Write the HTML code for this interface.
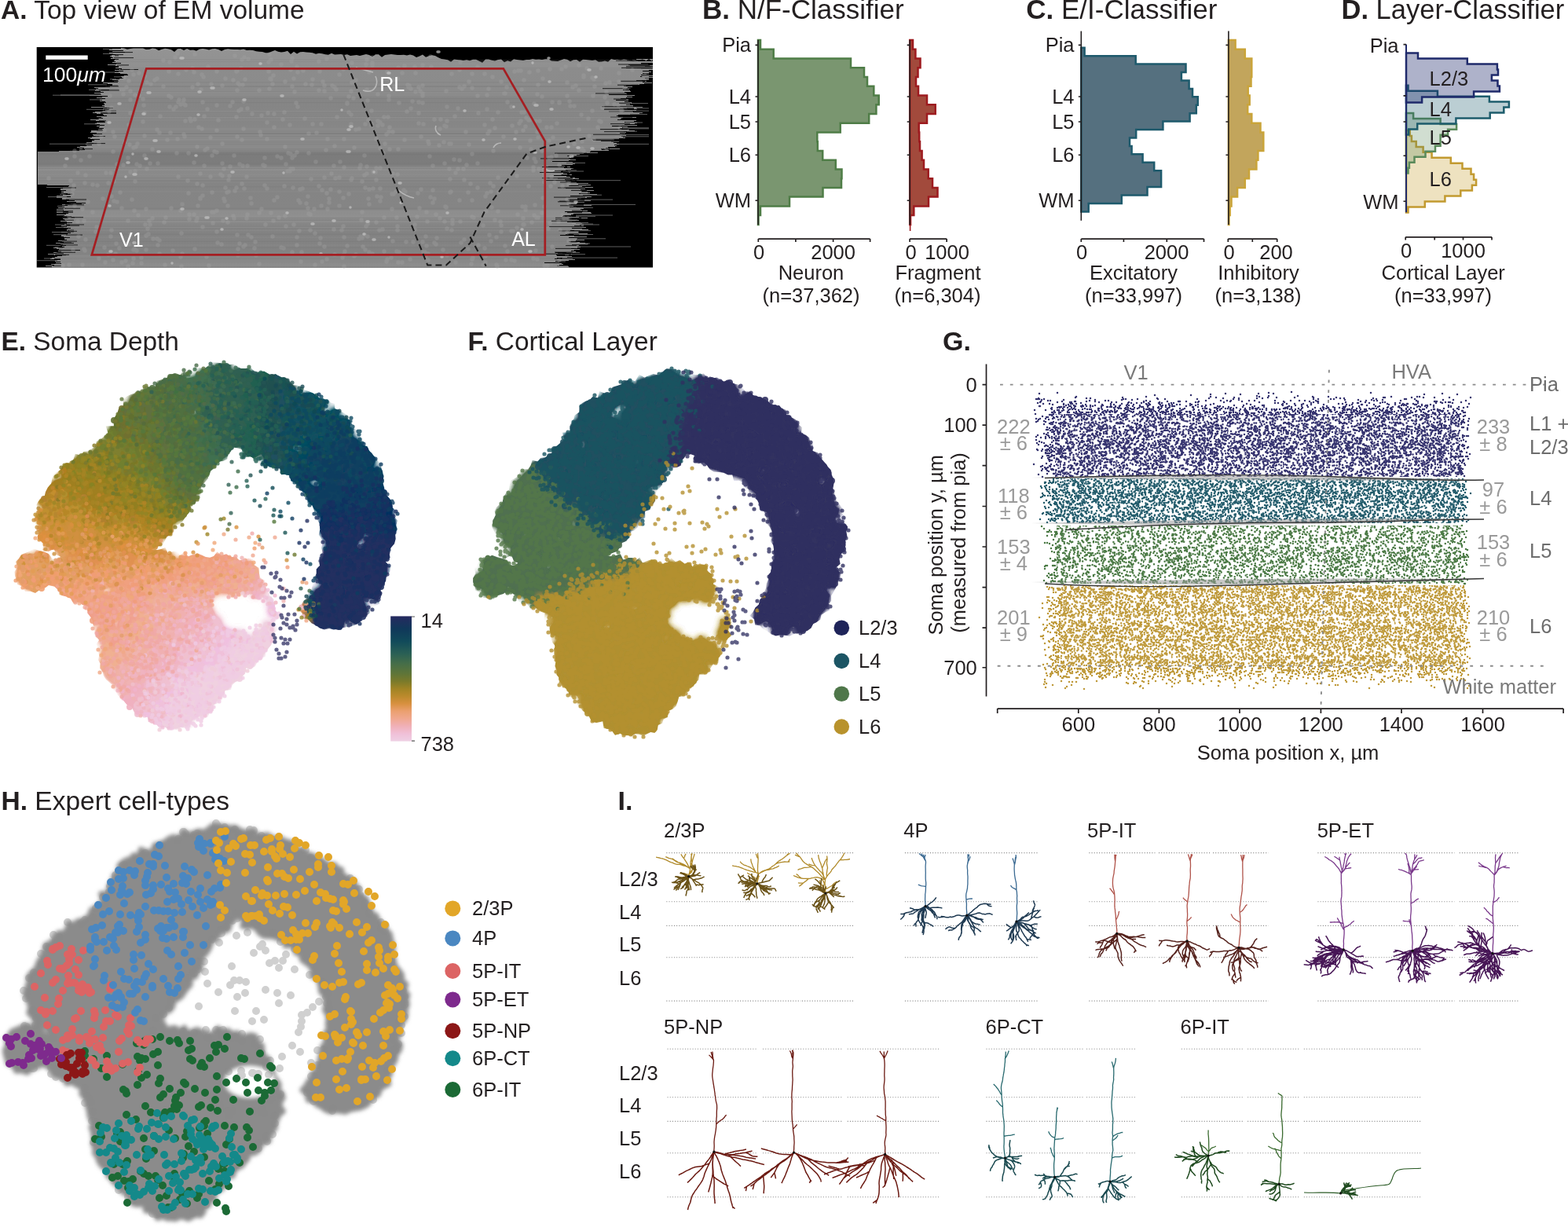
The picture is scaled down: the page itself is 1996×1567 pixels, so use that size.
<!DOCTYPE html>
<html><head><meta charset="utf-8"><title>Figure</title>
<style>html,body{margin:0;padding:0;background:#fff}svg{display:block}</style>
</head><body>
<svg width="1996" height="1567" viewBox="0 0 1996 1567" font-family="Liberation Sans, Arial, Helvetica, sans-serif" font-size="25.5" fill="#231f20">
<text x="1.0" y="24.4" font-size="33.5"><tspan font-weight="bold">A.</tspan> Top view of EM volume</text>
<text x="894" y="24.4" font-size="35"><tspan font-weight="bold">B.</tspan> N/F-Classifier</text>
<text x="1306.3" y="24.4" font-size="35"><tspan font-weight="bold">C.</tspan> E/I-Classifier</text>
<text x="1707.5" y="24.4" font-size="34.5"><tspan font-weight="bold">D.</tspan> Layer-Classifier</text>
<text x="1.5" y="445.5" font-size="33.4"><tspan font-weight="bold">E.</tspan> Soma Depth</text>
<text x="595.5" y="445.5" font-size="33.4"><tspan font-weight="bold">F.</tspan> Cortical Layer</text>
<text x="1200" y="445.5" font-size="34"><tspan font-weight="bold">G.</tspan> </text>
<text x="1.5" y="1030.5" font-size="33.5"><tspan font-weight="bold">H.</tspan> Expert cell-types</text>
<text x="786.5" y="1030.5" font-size="34"><tspan font-weight="bold">I.</tspan> </text>
<path d="M965.0,51.0H968.0V62.8H984.7V74.5H1083.0V86.3H1100.0V98.0H1104.0V109.7H1112.3V121.5H1118.7V133.2H1115.4V145.0H1106.2V156.7H1069.7V168.5H1040.3V180.2H1040.8V191.9H1047.2V203.7H1063.8V215.4H1071.5V227.2H1071.0V238.9H1047.5V250.6H1005.0V262.4H968.0V274.1H965.5V285.9H965.0Z" fill="#7a9670" fill-opacity="1.0" stroke="#4f7d47" stroke-width="2.5" stroke-linejoin="miter"/>
<path d="M965,51V286" stroke="#231f20" stroke-width="1.6" fill="none"/>
<path d="M961.5,57.4H965M961.5,123H965M961.5,155H965M961.5,197.3H965M961.5,255.3H965" stroke="#231f20" stroke-width="1.6"/>
<text x="956.0" y="66.4" text-anchor="end">Pia</text>
<text x="956.0" y="132.0" text-anchor="end">L4</text>
<text x="956.0" y="164.0" text-anchor="end">L5</text>
<text x="956.0" y="206.3" text-anchor="end">L6</text>
<text x="956.0" y="264.3" text-anchor="end">WM</text>
<path d="M1158.2,51.0H1162.0V62.8H1165.4V74.5H1171.5V86.3H1168.5V98.0H1166.0V109.7H1169.0V121.5H1180.0V133.2H1190.7V145.0H1180.0V156.7H1169.7V168.5H1170.2V180.2H1171.0V191.9H1173.6V203.7H1176.0V215.4H1181.7V227.2H1187.0V238.9H1193.5V250.6H1182.0V262.4H1163.3V274.1H1159.0V285.9H1158.2Z" fill="#a24a3c" fill-opacity="1.0" stroke="#9d1b1f" stroke-width="2.5" stroke-linejoin="miter"/>
<path d="M1158.6,286V294" stroke="#9d1b1f" stroke-width="1.6"/>
<path d="M1158.2,51V286" stroke="#231f20" stroke-width="1.6" fill="none"/>
<path d="M1154.7,57.4H1158.2M1154.7,123H1158.2M1154.7,155H1158.2M1154.7,197.3H1158.2M1154.7,255.3H1158.2" stroke="#231f20" stroke-width="1.6"/>
<path d="M965.3,304.1H1107.6M965.3,304.1v3.8M1012.9,304.1v3.8M1060.6,304.1v3.8M1107.6,304.1v3.8" stroke="#231f20" stroke-width="1.7" fill="none"/>
<path d="M1158.1,304.1H1205.1M1158.1,304.1v3.8M1205.1,304.1v3.8" stroke="#231f20" stroke-width="1.7" fill="none"/>
<text x="966.0" y="329.8" text-anchor="middle">0</text>
<text x="1060.6" y="329.8" text-anchor="middle">2000</text>
<text x="1159.5" y="329.8" text-anchor="middle">0</text>
<text x="1205.5" y="329.8" text-anchor="middle">1000</text>
<text x="1032.5" y="355.5" text-anchor="middle">Neuron</text>
<text x="1032.5" y="384.5" text-anchor="middle">(n=37,362)</text>
<text x="1194.0" y="355.5" text-anchor="middle">Fragment</text>
<text x="1193.5" y="384.5" text-anchor="middle">(n=6,304)</text>
<path d="M1376.3,60.8H1380.6V71.2H1445.7V81.6H1509.5V92.0H1503.9V102.5H1513.6V112.9H1518.0V123.3H1524.8V133.8H1522.8V144.2H1514.6V154.6H1480.4V165.1H1446.2V175.5H1438.0V185.9H1440.6V196.3H1454.6V206.8H1469.2V217.2H1478.1V227.6H1478.1V238.1H1460.5V248.5H1427.8V258.9H1385.7V269.4H1376.3Z" fill="#55707f" fill-opacity="1.0" stroke="#1e5a6c" stroke-width="2.5" stroke-linejoin="miter"/>
<path d="M1376.3,39.6V280.8" stroke="#231f20" stroke-width="1.6" fill="none"/>
<path d="M1372.8,57.4H1376.3M1372.8,123H1376.3M1372.8,155H1376.3M1372.8,197.3H1376.3M1372.8,255.3H1376.3" stroke="#231f20" stroke-width="1.6"/>
<text x="1367.5" y="66.4" text-anchor="end">Pia</text>
<text x="1367.5" y="132.0" text-anchor="end">L4</text>
<text x="1367.5" y="164.0" text-anchor="end">L5</text>
<text x="1367.5" y="206.3" text-anchor="end">L6</text>
<text x="1367.5" y="264.3" text-anchor="end">WM</text>
<path d="M1563.9,51.0H1572.6V62.8H1584.8V74.5H1593.3V86.3H1593.3V98.0H1592.5V109.7H1588.7V121.5H1590.7V133.2H1588.2V145.0H1593.3V156.7H1604.5V168.5H1608.3V180.2H1608.3V191.9H1601.4V203.7H1599.4V215.4H1590.0V227.2H1584.8V238.9H1575.1V250.6H1567.5V262.4H1565.7V274.1H1564.4V285.9H1563.9Z" fill="#c2a55c" fill-opacity="1.0" stroke="#c9a43a" stroke-width="2.5" stroke-linejoin="miter"/>
<path d="M1563.9,39.6V286" stroke="#231f20" stroke-width="1.6" fill="none"/>
<path d="M1560.4,57.4H1563.9M1560.4,123H1563.9M1560.4,155H1563.9M1560.4,197.3H1563.9M1560.4,255.3H1563.9" stroke="#231f20" stroke-width="1.6"/>
<path d="M1376.3,304.1H1532.5M1376.3,304.1v3.8M1430.4,304.1v3.8M1485.3,304.1v3.8M1532.5,304.1v3.8" stroke="#231f20" stroke-width="1.7" fill="none"/>
<path d="M1563.3,304.1H1625.7M1563.3,304.1v3.8M1594.3,304.1v3.8M1625.7,304.1v3.8" stroke="#231f20" stroke-width="1.7" fill="none"/>
<text x="1377.0" y="329.8" text-anchor="middle">0</text>
<text x="1485.0" y="329.8" text-anchor="middle">2000</text>
<text x="1564.5" y="329.8" text-anchor="middle">0</text>
<text x="1624.5" y="329.8" text-anchor="middle">200</text>
<text x="1443.0" y="355.5" text-anchor="middle">Excitatory</text>
<text x="1443.0" y="384.5" text-anchor="middle">(n=33,997)</text>
<text x="1602.0" y="355.5" text-anchor="middle">Inhibitory</text>
<text x="1601.5" y="384.5" text-anchor="middle">(n=3,138)</text>
<path d="M1790.0,165.9H1794.7V172.9H1796.9V179.9H1802.7V186.9H1811.6V193.8H1822.6V200.8H1846.8V207.8H1861.5V214.8H1872.5V221.7H1876.1V228.7H1879.1V235.7H1873.9V242.6H1859.3V249.6H1839.4V256.6H1813.8V263.6H1792.5V270.5H1790.0Z" fill="#c9a43a" fill-opacity="0.32" stroke="#c29a30" stroke-width="2.5" stroke-linejoin="miter"/>
<path d="M1790.0,143.9H1799.1V150.9H1833.6V157.9H1854.1V164.8H1843.1V171.8H1833.6V178.8H1833.6V185.8H1827.0V192.7H1814.5V199.7H1800.5V206.7H1793.9V213.7H1792.5V220.6H1790.0Z" fill="#5a8a5a" fill-opacity="0.28" stroke="#5a8a5a" stroke-width="2.5" stroke-linejoin="miter"/>
<path d="M1790.0,108.7H1792.5V115.7H1829.9V122.7H1895.9V129.6H1920.9V136.6H1914.3V143.6H1896.7V150.5H1853.4V157.5H1804.2V164.5H1793.2V171.5H1790.0Z" fill="#1d5c6c" fill-opacity="0.3" stroke="#1d5c6c" stroke-width="2.5" stroke-linejoin="miter"/>
<path d="M1790.0,67.6H1805.0V74.6H1867.8V81.6H1905.9V88.5H1907.0V95.5H1898.9V102.5H1906.5V109.4H1908.9V116.4H1876.1V123.4H1810.1V130.4H1790.0Z" fill="#1f2a6b" fill-opacity="0.36" stroke="#1f2a6b" stroke-width="2.5" stroke-linejoin="miter"/>
<path d="M1790,56.6V270.2" stroke="#1f2a6b" stroke-width="2"/>
<path d="M1786.5,56.6H1790M1786.5,121.9H1790M1786.5,155H1790M1786.5,198.2H1790M1786.5,256.2H1790" stroke="#231f20" stroke-width="1.6"/>
<text x="1780.5" y="66.5" text-anchor="end">Pia</text>
<text x="1780.5" y="265.5" text-anchor="end">WM</text>
<text x="1819.6" y="108.7">L2/3</text>
<text x="1819.6" y="147.6">L4</text>
<text x="1819.6" y="183.6">L5</text>
<text x="1819.6" y="237.1">L6</text>
<path d="M1789.2,301.8H1899M1789.2,301.8v3.8M1826.2,301.8v3.8M1862.5,301.8v3.8M1899,301.8v3.8" stroke="#231f20" stroke-width="1.7" fill="none"/>
<text x="1790.0" y="327.5" text-anchor="middle">0</text>
<text x="1862.5" y="327.5" text-anchor="middle">1000</text>
<text x="1837.2" y="355.5" text-anchor="middle">Cortical Layer</text>
<text x="1837.0" y="384.5" text-anchor="middle">(n=33,997)</text>
<rect x="46.7" y="60.0" width="784.3" height="280.5" fill="#000"/>
<defs><linearGradient id="emg" x1="0" y1="60" x2="0" y2="340.5" gradientUnits="userSpaceOnUse"><stop offset="0.000" stop-color="#9a9a9a"/><stop offset="0.021" stop-color="#939393"/><stop offset="0.089" stop-color="#909090"/><stop offset="0.093" stop-color="#8c8c8c"/><stop offset="0.221" stop-color="#8b8b8b"/><stop offset="0.225" stop-color="#858585"/><stop offset="0.357" stop-color="#868686"/><stop offset="0.360" stop-color="#8a8a8a"/><stop offset="0.471" stop-color="#8a8a8a"/><stop offset="0.474" stop-color="#7b7b7b"/><stop offset="0.538" stop-color="#7d7d7d"/><stop offset="0.542" stop-color="#8a8a8a"/><stop offset="0.602" stop-color="#898989"/><stop offset="0.606" stop-color="#848484"/><stop offset="0.738" stop-color="#858585"/><stop offset="0.742" stop-color="#8e8e8e"/><stop offset="0.806" stop-color="#8d8d8d"/><stop offset="0.809" stop-color="#828282"/><stop offset="0.941" stop-color="#838383"/><stop offset="0.945" stop-color="#888888"/><stop offset="1.000" stop-color="#8a8a8a"/></linearGradient><clipPath id="emclip"><rect x="46.7" y="60" width="784.3" height="280.5"/></clipPath></defs>
<path d="M154,61.0L158,61.6L162,62.8L166,61.9L170,61.6L174,61.5L178,61.5L182,61.5L186,62.9L190,62.7L194,61.5L198,62.0L202,64.2L206,62.8L210,61.7L214,62.3L218,63.3L222,65.9L226,62.3L230,62.1L234,64.0L238,62.1L242,63.7L246,63.4L250,64.7L254,62.5L258,61.9L262,62.6L266,63.6L270,62.2L274,61.9L278,63.1L282,64.9L286,62.9L290,62.2L294,62.8L298,63.1L302,63.0L306,63.3L310,62.6L314,64.1L318,63.7L322,64.0L326,65.2L330,65.7L334,66.1L338,67.2L342,67.3L346,65.4L350,64.1L354,65.8L358,66.4L362,65.9L366,64.8L370,69.1L374,65.7L378,68.6L382,66.2L386,66.0L390,66.4L394,66.8L398,67.3L402,68.8L406,67.8L410,68.3L414,69.2L418,69.8L422,67.8L426,69.4L430,69.2L434,69.0L438,70.1L442,69.3L446,71.1L450,70.4L454,70.1L458,71.0L462,70.0L466,69.1L470,70.1L474,72.2L478,69.3L482,69.2L486,72.7L490,70.0L494,69.6L498,69.1L502,69.4L506,70.1L510,69.9L514,69.8L518,70.5L522,69.5L526,70.6L530,73.0L534,71.4L538,69.4L542,72.8L546,71.3L550,70.3L554,71.0L558,73.3L562,75.1L566,75.5L570,76.3L574,78.7L578,75.5L582,76.0L586,76.4L590,77.0L594,76.2L598,77.2L602,75.7L606,75.8L610,77.8L614,79.8L618,75.6L622,75.4L626,76.8L630,77.6L634,75.9L638,75.6L642,79.2L646,77.2L650,78.4L654,75.2L658,75.9L662,76.6L666,77.0L670,76.1L674,75.9L678,75.1L682,75.7L686,75.6L690,75.9L694,75.3L698,75.3L702,77.5L706,77.7L710,78.0L714,76.4L718,75.1L722,75.8L726,78.2L730,76.3L734,76.1L738,78.8L742,75.7L746,75.9L750,76.6L754,77.0L758,76.3L762,78.7L766,78.6L770,77.6L774,78.8L778,75.0L782,76.0L786,75.8L790,76.5L794,75.4L798,76.1L802,77.3L806,77.8L810,76.2L814,76.6L818,75.4L822,77.8L826,75.0L830,77.8L831.0,75H810V76H805V77H812V78H831V79H831V80H816V81H825V82H826V83H831V84H821V85H831V86H811V87H831V88H831V89H826V90H818V91H829V92H826V93H818V94H823V95H816V96H831V97H815V98H831V99H821V100H826V101H822V102H817V103H823V104H818V105H830V106H820V107H814V108H803V109H794V110H805V111H799V112H803V113H801V114H793V115H802V116H803V117H795V118H797V119H798V120H775V121H808V122H798V123H805V124H797V125H790V126H800V127H784V128H800V129H795V130H804V131H804V132H802V133H802V134H806V135H806V136H818V137H810V138H811V139H799V140H810V141H805V142H806V143H818V144H814V145H802V146H787V147H785V148H787V149H810V150H791V151H790V152H786V153H810V154H807V155H795V156H811V157H808V158H795V159H811V160H779V161H799V162H792V163H789V164H789V165H800V166H808V167H794V168H797V169H789V170H796V171H792V172H797V173H791V174H793V175H796V176H788V177H790V178H782V179H789V180H788V181H781V182H785V183H788V184H782V185H785V186H783V187H774V188H771V189H789V190H766V191H775V192H752V193H751V194H761V195H743V196H738V197H734V198H722V199H729V200H727V201H724V202H726V203H733V204H724V205H703V206H729V207H721V208H732V209H729V210H715V211H719V212H726V213H718V214H728V215H727V216H720V217H715V218H714V219H724V220H717V221H722V222H728V223H705V224H721V225H726V226H732V227H737V228H730V229H726V230H732V231H727V232H734V233H749V234H736V235H752V236H724V237H741V238H755V239H737V240H745V241H739V242H756V243H741V244H748V245H751V246H737V247H760V248H742V249H726V250H753V251H747V252H740V253H735V254H740V255H752V256H731V257H744V258H735V259H734V260H736V261H753V262H730V263H734V264H742V265H743V266H739V267H741V268H748V269H719V270H752V271H753V272H730V273H727V274H717V275H716V276H737V277H748V278H724V279H735V280H737V281H733V282H722V283H739V284H733V285H743V286H738V287H743V288H739V289H746V290H728V291H741V292H749V293H726V294H737V295H736V296H737V297H748V298H720V299H713V300H731V301H747V302H724V303H735V304H734V305H744V306H733V307H732V308H738V309H745V310H736V311H728V312H737V313H735V314H739V315H735V316H727V317H738V318H731V319H727V320H733V321H707V322H722V323H728V324H708V325H709V326H728V327H722V328H709V329H706V330H732V331H724V332H707V333H712V334H693V335H715V336H717V337H712V338H709V339H724V340H723V341V340.5H66H66V340H66V339H58V338H69V337H65V336H78V335H71V334H77V333H70V332H73V331H77V330H64V329H66V328H70V327H73V326H79V325H69V324H61V323H72V322H68V321H78V320H74V319H78V318H75V317H72V316H68V315H82V314H79V313H84V312H80V311H77V310H71V309H81V308H79V307H74V306H85V305H82V304H82V303H89V302H81V301H78V300H78V299H86V298H86V297H90V296H78V295H89V294H85V293H85V292H86V291H90V290H81V289H85V288H78V287H89V286H82V285H85V284H92V283H85V282H77V281H83V280H82V279H80V278H87V277H79V276H91V275H82V274H72V273H84V272H87V271H72V270H87V269H72V268H81V267H72V266H81V265H74V264H82V263H79V262H86V261H79V260H90V259H88V258H97V257H85V256H95V255H88V254H79V253H79V252H72V251H90V250H72V249H80V248H90V247H86V246H78V245H81V244H78V243H84V242H77V241H77V240H80V239H79V238H87V237H88V236H60V235H48V234H48V233H48V232H48V231H48V230H48V229H48V228H48V227H48V226H48V225H48V224H48V223H48V222H48V221H48V220H48V219H48V218H48V217H48V216H48V215H48V214H48V213H48V212H48V211H48V210H48V209H48V208H48V207H48V206H48V205H48V204H48V203H48V202H48V201H48V200H48V199H48V198H48V197H48V196H48V195H48V194H48V193H75V192H101V191H108V190H101V189H107V188H98V187H102V186H110V185H117V184H109V183H119V182H110V181H117V180H117V179H120V178H127V177H115V176H112V175H117V174H122V173H119V172H118V171H130V170H123V169H115V168H116V167H116V166H125V165H125V164H132V163H126V162H127V161H123V160H133V159H127V158H121V157H123V156H134V155H133V154H122V153H115V152H126V151H131V150H129V149H123V148H136V147H132V146H131V145H123V144H118V143H121V142H130V141H134V140H139V139H131V138H136V137H116V136H133V135H130V134H133V133H133V132H132V131H135V130H134V129H127V128H130V127H127V126H134V125H123V124H130V123H137V122H125V121H129V120H128V119H120V118H132V117H128V116H121V115H139V114H122V113H125V112H120V111H140V110H138V109H143V108H143V107H137V106H131V105H150V104H145V103H150V102H143V101H152V100H157V99H155V98H154V97H158V96H163V95H162V94H153V93H146V92H151V91H157V90H146V89H152V88H155V87H147V86H151V85H151V84H147V83H137V82H148V81H154V80H143V79H147V78H145V77H146V76H147V75H141V74H144V73H142V72H140V71H142V70H147V69H144V68H139V67H159V66H143V65H157V64H139V63H143V62H154V61Z" fill="url(#emg)"/>
<path d="M56,329.0h15M61,250.6h24M59,238.5h22M145,97.8h9M125,151.1h4M77,121.0h53M107,157.8h21M73,262.4h11M114,121.5h16M131,68.4h18M47,331.7h51M68,298.7h18M66,295.5h22M71,289.5h16M63,183.2h51M112,107.8h24M140,100.8h8M67,121.2h64M113,114.3h16M110,139.3h22M133,92.0h24M70,286.0h16M70,314.7h6M76,247.3h8M131,62.4h20M114,126.9h18M59,312.3h19M734,270.6h16M818,96.9h8M726,314.0h77M728,303.8h43M789,171.6h37M721,321.5h17M819,94.7h7M715,329.2h14M767,191.2h6M735,264.4h20M816,99.3h10M818,96.5h8M717,219.3h9M727,310.1h12M737,254.1h43M727,310.4h22M728,229.7h62M727,310.0h24M733,274.0h47M800,145.6h24M820,91.6h6M715,207.4h30M719,324.7h5M793,162.8h33M731,293.7h21M792,165.9h8M737,255.3h13M733,283.5h16M727,310.9h21M814,101.5h12M788,173.8h38M820,93.0h6M818,97.1h8M791,167.2h20M796,131.6h29M800,141.1h26M733,285.1h22M737,235.9h9M720,225.4h4M718,222.5h6M791,166.2h9M738,250.3h13M815,101.4h8M736,260.4h73M739,248.2h27M730,298.5h25M733,284.6h8M800,137.9h26M732,292.2h17M716,216.9h18M817,97.6h9M739,247.0h9M821,83.4h5M794,159.5h11M792,163.8h34M728,198.6h21M792,165.4h9M733,286.0h30M715,214.5h15M712,333.0h8M716,218.0h27M716,328.1h70M725,315.7h7M779,183.4h47M729,301.3h7M720,323.7h25M709,338.6h14M796,156.0h22M817,79.3h9M733,275.3h25" stroke="#8c8c8c" stroke-width="0.8" fill="none" stroke-opacity="0.85" clip-path="url(#emclip)"/>
<path d="M83,283.7h6M72,321.2h24M69,329.4h8M129,137.7h15M79,276.9h16M84,287.1h17M142,103.1h9M81,280.2h13M84,299.0h21M79,276.7h27M123,164.1h7M132,109.8h19M83,260.8h24M149,82.9h15M148,66.6h21M86,293.0h8M71,322.7h10M86,294.9h8M145,73.6h25M129,141.2h19M82,247.1h10M77,309.5h17M123,165.8h8M70,324.3h18M84,285.9h23M83,259.5h21M73,318.5h29M128,143.9h20M112,182.6h22M145,75.5h6M133,109.3h17M126,153.8h9M80,270.3h13M70,324.7h14M119,173.5h15M83,258.5h26M79,307.2h19M86,294.3h12M84,254.0h26M76,311.9h23M126,114.9h26M79,239.0h18M74,315.0h6M147,69.6h10M128,144.1h20M80,268.8h13M82,265.3h20M153,88.5h23M78,309.0h13M146,70.9h5M67,338.3h11M105,189.6h13M797,86.5h32M707,316.4h25M707,277.3h33M693,323.2h34M706,321.1h23M764,164.6h35M789,138.4h18M726,307.7h8M786,108.2h27M722,270.6h19M788,131.3h15M702,281.3h38M695,229.6h39M714,223.1h11M778,180.0h12M727,242.4h20M784,77.2h38M724,260.5h19M798,76.9h23M787,82.0h40M713,231.9h25M687,219.5h37M769,139.3h38M754,177.2h38M740,243.8h7M722,297.8h15M710,226.9h19M720,230.6h16M707,279.3h33M728,268.1h14M816,86.7h14M704,217.7h19M719,228.6h13M816,81.0h9M802,83.1h25M767,112.7h37M698,212.2h24M791,86.3h38M755,171.2h41M769,139.2h38M800,82.6h28M766,135.7h41M725,254.8h19M758,118.9h40M688,201.9h40M797,84.4h32M720,239.6h26M706,195.1h41M720,312.6h14M705,251.1h40M765,179.5h25M690,226.7h39M775,141.8h32M777,157.7h25M723,254.1h21M781,126.0h16M735,252.6h10M797,109.0h14M713,261.8h30M699,288.6h40M710,239.0h35M711,293.9h27M755,178.4h36M769,167.6h29M765,189.8h11M810,102.5h11M798,138.1h9M725,263.7h17M712,256.1h32M710,256.8h34M690,212.6h32M724,307.7h11M777,149.2h28M716,322.4h12M782,177.5h9M710,322.6h18M715,222.7h10M731,287.4h9M797,133.4h8M790,103.3h31" stroke="#000" stroke-width="1" fill="none" stroke-opacity="0.8"/>
<path d="M131,139.8H795M48,198.9H722M81,237.8H733M48,196.9H726M126,161.9H788M72,326.9H712M86,285.0H728M129,116.5H787M83,279.9H728M122,170.1H784M149,78.5H811M122,170.1H784M134,110.0H797M84,265.2H730M119,176.5H781M85,283.3H728M71,329.2H710M89,191.4H761M131,141.4H795M48,230.3H724M48,207.9H710M48,214.5H710M115,180.8H777M121,173.6H783M129,149.1H793M76,315.3H721M48,226.6H717M83,280.7H728M113,183.6H774M124,167.1H786M140,104.8H807M48,198.0H724M48,211.5H710M132,125.2H784M132,130.6H790M123,169.7H785M86,298.2H725M86,285.3H728M82,278.9H728M48,209.7H710M81,307.4H723M148,76.3H808M134,110.1H797M107,189.7H764M81,277.4H728" stroke="#6e6e6e" stroke-width="0.7" fill="none" stroke-opacity="0.3"/>
<path d="M48,193.4H749M69,337.6H704M72,326.2H713M78,312.1H722M87,289.2H727M131,141.5H795M84,243.9H735M148,77.8H810M87,289.3H727M128,153.0H792M129,117.8H786M48,215.0H710M48,231.8H726M119,176.4H781M48,222.1H713M88,293.8H726M129,149.8H793M48,216.2H710M48,216.7H711M129,150.0H793M48,198.4H723M131,139.4H795M118,177.3H780M131,141.6H795M129,149.6H793M80,274.0H728M70,335.3H705M88,293.0H726M84,282.4H728M48,210.4H710M80,275.4H728M69,337.6H704M131,141.0H795M84,302.1H724M132,124.1H784" stroke="#a8a8a8" stroke-width="0.7" fill="none" stroke-opacity="0.25"/>
<path d="M285 215h0M366 218h0M413 314h0M533 157h0M700 284h0M634 143h0M187 215h0M93 241h0M390 259h0M579 148h0M144 331h0M464 198h0M646 320h0M666 278h0M347 301h0M627 152h0M522 112h0M659 273h0M538 308h0M216 136h0M149 209h0M296 130h0M105 337h0M687 154h0M369 218h0M498 328h0M90 230h0M410 242h0M358 201h0M398 101h0M425 292h0M663 154h0M462 314h0M292 224h0M580 334h0M655 332h0M574 244h0M95 199h0M308 76h0M545 331h0M496 162h0M172 231h0M718 278h0M437 252h0M492 333h0M594 210h0M515 84h0M362 237h0M474 80h0M92 247h0M708 198h0M235 174h0M95 262h0M225 195h0M276 166h0M447 116h0M617 94h0M427 227h0M223 73h0M601 255h0M164 159h0M175 183h0M615 287h0M703 130h0M435 293h0M423 109h0M667 143h0M179 114h0M596 317h0M155 334h0M652 160h0M473 160h0M684 168h0M464 223h0M663 90h0M702 225h0M699 201h0M489 320h0M536 241h0M703 314h0M240 246h0M547 199h0M737 165h0M716 274h0M304 141h0M603 277h0M500 102h0M673 237h0M551 211h0M364 288h0M461 270h0M453 102h0M287 100h0M680 202h0M496 190h0M566 208h0M195 304h0M416 330h0M692 216h0M114 199h0M216 79h0M330 115h0M191 208h0M632 337h0M597 104h0M529 117h0M311 240h0M696 162h0M227 94h0M493 330h0M474 73h0M290 262h0M788 104h0M723 278h0M384 321h0M465 158h0M377 131h0M382 241h0M344 100h0M188 291h0M791 141h0M470 321h0M310 164h0M194 190h0M174 319h0M203 306h0M341 144h0M712 130h0M409 262h0M309 211h0M273 193h0M568 116h0M182 155h0M546 183h0M347 107h0M668 304h0M107 281h0M302 90h0M500 221h0M507 190h0M528 85h0M88 337h0M519 108h0M303 317h0M250 281h0M575 94h0M370 215h0M107 317h0M338 286h0M693 338h0M177 93h0M569 136h0M677 283h0M679 217h0M285 253h0M413 109h0M248 69h0M585 204h0M172 121h0M507 334h0M314 278h0M243 154h0M726 135h0M665 263h0M264 189h0M622 113h0M645 233h0M332 172h0M680 274h0M531 276h0M601 112h0M138 324h0M307 87h0M682 319h0M268 225h0M664 114h0M182 126h0M516 244h0M416 246h0M620 246h0M241 273h0M258 236h0M561 152h0M711 282h0M770 124h0M406 78h0M457 164h0M713 293h0M534 265h0M247 273h0M470 89h0M693 263h0M551 258h0M645 111h0M626 264h0M749 151h0M481 120h0M236 134h0M343 69h0M523 138h0M134 334h0M583 215h0M283 224h0M525 129h0M221 139h0M591 305h0M142 293h0M371 78h0M618 326h0M145 231h0M176 274h0M271 284h0M247 92h0M200 165h0M379 136h0M722 254h0M686 215h0M168 254h0M628 237h0M609 312h0M142 137h0M201 208h0M468 285h0M684 120h0M293 135h0M189 298h0M685 277h0M337 236h0M709 157h0M597 184h0M94 236h0M737 83h0M660 90h0M421 241h0M231 297h0M276 91h0M258 249h0M177 122h0M372 201h0M154 114h0M234 127h0M569 325h0M393 195h0M501 247h0M388 151h0M95 192h0M684 330h0M716 237h0M591 229h0M548 251h0M805 89h0M638 295h0M258 130h0M122 295h0M438 302h0M283 208h0M601 196h0M549 85h0M163 339h0M502 110h0M658 224h0M258 289h0M342 91h0M679 329h0M282 311h0M345 76h0M109 223h0M499 266h0M406 115h0M573 245h0M270 198h0M240 195h0M469 253h0M252 107h0M466 88h0M413 226h0M669 267h0M378 312h0M521 109h0M484 256h0M293 212h0M585 89h0M467 212h0M481 154h0M309 108h0M126 183h0M451 326h0M583 138h0M141 220h0M133 166h0M625 307h0M231 339h0M599 234h0M204 148h0M200 100h0M170 188h0M453 165h0M459 301h0M276 134h0M268 175h0M573 228h0M187 105h0M691 252h0M772 189h0M543 313h0M233 131h0M170 318h0M787 134h0M284 281h0M627 98h0M470 241h0M184 97h0M208 77h0M270 245h0M315 211h0M253 162h0M170 329h0M767 137h0M281 222h0M348 281h0M165 184h0M484 156h0M655 91h0M417 177h0M166 127h0M314 225h0M398 158h0M662 188h0M235 133h0M438 324h0M522 330h0M568 264h0M699 179h0M164 103h0M690 123h0M337 201h0M112 257h0M681 261h0M733 109h0M378 194h0M248 317h0M529 93h0M468 128h0M722 105h0M373 215h0M451 188h0M754 141h0M651 104h0M340 156h0M426 111h0M227 130h0M488 195h0M724 259h0M276 295h0M618 334h0M533 144h0M536 174h0M224 136h0M447 146h0M506 288h0M62 227h0M448 105h0M123 289h0M540 324h0M506 222h0M448 227h0M129 174h0M553 253h0M337 211h0M724 307h0M666 286h0M158 99h0M325 308h0M572 183h0M316 299h0M124 236h0M103 204h0M674 153h0M619 269h0M698 291h0M360 152h0M526 308h0M505 277h0M340 240h0M473 158h0M512 93h0M634 269h0M725 129h0M553 152h0M442 132h0M232 323h0M432 262h0M712 210h0M333 266h0M278 153h0M133 315h0M210 337h0M565 181h0M664 143h0M644 331h0M596 245h0M315 273h0M438 177h0M545 180h0M591 110h0M180 335h0M756 101h0M363 104h0M379 92h0M479 229h0M535 116h0M586 79h0M372 321h0M495 122h0M172 218h0M593 168h0M694 227h0M468 301h0M145 256h0M520 111h0M201 312h0M345 101h0M555 311h0M618 250h0M475 240h0M438 339h0M459 210h0M331 168h0M353 251h0M620 121h0M301 239h0M439 320h0M407 310h0M576 280h0M701 237h0M392 265h0M232 260h0M324 316h0M538 122h0M743 192h0M475 219h0M108 319h0M252 262h0M302 174h0M489 277h0M771 106h0M442 313h0M153 245h0M305 108h0M141 301h0M490 183h0M308 234h0M227 225h0M230 133h0M765 87h0M470 260h0M585 111h0M184 198h0M761 162h0M276 268h0M375 117h0M620 139h0M586 282h0M641 174h0M539 321h0M139 142h0M637 282h0M437 88h0M539 158h0M168 89h0M298 278h0M370 196h0M495 168h0M213 178h0M506 100h0M191 286h0M413 116h0M538 83h0M269 107h0M315 138h0M750 173h0M170 95h0M247 207h0M484 214h0M608 208h0M395 273h0M685 108h0M160 332h0M226 177h0M409 158h0M257 164h0M393 272h0M155 265h0M169 335h0M545 323h0M669 161h0M704 175h0M494 149h0M608 122h0M512 334h0M461 303h0M772 117h0M382 258h0M340 177h0M194 278h0M144 193h0M109 305h0M131 253h0M743 98h0M299 71h0M667 102h0M538 119h0M108 233h0M754 99h0M291 229h0M447 158h0M782 133h0M401 297h0M319 252h0M374 286h0M500 168h0M680 132h0M683 277h0M567 263h0M448 80h0M417 266h0M349 255h0M242 151h0M609 144h0M643 313h0M392 250h0M298 198h0M335 210h0M380 255h0M690 192h0M765 155h0M251 187h0M617 316h0M422 221h0M343 113h0M118 270h0M163 281h0M485 251h0M559 185h0M763 154h0M693 222h0M551 242h0M538 109h0M572 215h0M633 339h0M697 338h0M608 85h0M504 244h0M635 244h0M679 213h0M307 139h0M171 317h0M446 161h0M239 230h0M670 150h0M438 213h0M457 304h0M283 183h0M378 302h0M574 183h0M401 337h0M433 206h0M135 220h0M453 324h0M152 316h0M720 85h0M270 270h0M630 280h0M363 187h0M741 189h0M345 271h0M301 91h0M444 143h0M197 102h0M421 125h0M643 119h0M186 266h0M756 178h0M266 338h0M353 199h0M291 244h0M310 314h0M585 255h0M416 75h0M651 136h0M715 88h0M411 104h0M140 122h0M320 259h0M161 111h0M330 336h0M157 114h0M148 310h0M286 256h0M690 271h0M543 270h0M473 141h0M251 278h0M147 323h0M358 315h0M624 233h0M467 76h0M487 292h0M432 95h0M166 116h0M361 316h0M601 94h0M467 114h0M506 293h0M492 171h0M259 98h0M657 168h0M632 302h0M515 178h0M386 90h0M682 206h0M429 149h0M149 257h0M642 119h0M144 168h0M480 250h0M479 214h0M395 293h0M358 82h0M442 131h0M303 325h0M483 293h0M685 175h0M419 258h0M146 174h0M495 127h0M731 135h0M185 286h0M369 159h0M436 328h0M126 329h0M555 273h0M367 195h0M299 243h0M428 114h0M505 320h0M209 283h0M466 288h0M493 92h0M290 283h0M447 229h0M287 239h0M276 194h0M251 234h0M700 88h0M289 245h0M528 292h0M576 285h0M706 232h0M173 187h0M432 244h0M560 278h0M685 90h0M218 124h0M518 142h0M203 323h0M425 211h0M415 191h0M248 152h0M261 191h0M190 281h0M566 282h0M230 327h0M186 318h0M458 214h0M743 96h0M731 183h0M166 219h0M118 235h0M651 294h0M157 210h0M556 303h0M623 167h0M105 266h0M569 291h0M426 186h0M349 162h0M408 303h0M166 144h0M788 93h0M312 101h0M724 234h0M776 105h0M310 129h0M499 247h0M481 160h0M297 102h0M171 268h0M569 154h0M263 327h0M668 307h0M383 333h0M255 253h0M702 200h0M389 107h0M507 86h0M638 287h0M297 275h0M138 233h0M245 87h0M245 111h0M755 122h0M374 100h0M508 321h0M621 170h0M393 170h0M702 162h0M321 145h0M381 294h0M489 149h0M741 180h0M256 114h0M676 190h0M355 277h0M362 143h0M737 115h0M432 226h0M548 72h0M667 286h0M795 112h0M757 110h0M385 240h0M553 309h0M615 337h0M255 252h0M375 198h0M514 242h0M349 145h0M277 309h0M437 288h0M542 327h0M474 323h0M373 239h0M180 328h0M661 157h0M333 147h0M444 123h0M174 209h0M588 113h0M88 276h0M484 240h0M260 148h0M265 85h0M200 304h0M560 164h0M419 253h0M646 130h0M301 149h0M740 190h0M93 318h0M100 301h0M578 203h0M159 181h0M283 109h0M215 91h0M312 312h0M487 159h0M264 139h0M272 270h0M623 299h0M722 122h0M363 275h0M320 302h0M740 146h0M722 296h0M568 161h0M634 226h0M669 263h0M791 139h0M671 201h0M508 131h0M215 122h0M330 271h0M301 89h0M217 169h0M234 171h0M466 82h0M370 89h0M465 318h0M538 131h0M575 293h0M566 160h0M533 111h0M601 330h0M533 130h0M625 244h0M192 107h0M474 83h0M729 111h0M523 113h0M305 209h0M564 318h0M608 239h0M303 106h0M628 192h0M372 110h0M241 279h0M426 324h0M220 319h0M658 290h0M407 91h0M484 189h0M228 127h0M226 68h0M311 73h0M541 321h0M342 79h0M164 311h0M675 179h0M178 211h0M747 87h0M773 131h0M469 153h0M532 246h0M544 282h0M467 221h0M789 163h0M602 328h0M653 294h0M400 266h0M80 338h0M410 333h0M600 336h0M99 282h0M406 237h0M83 211h0M601 276h0M348 96h0M372 74h0M464 299h0M326 325h0M257 95h0M236 154h0M479 283h0M587 309h0M651 331h0M305 310h0M203 169h0M142 250h0M157 120h0M302 299h0M444 247h0M465 239h0M166 298h0M184 173h0M694 216h0M396 228h0M630 163h0M500 307h0M184 144h0M260 211h0M691 100h0M230 268h0M402 206h0M183 134h0M450 125h0M470 92h0M580 220h0M682 154h0M674 92h0M517 308h0M590 215h0M693 232h0M673 153h0M218 265h0M397 108h0M308 178h0M99 220h0M712 331h0M163 201h0M617 159h0M302 115h0M478 219h0M237 89h0M316 75h0M403 169h0M364 209h0M208 110h0M528 286h0M638 104h0M712 131h0M666 166h0M460 280h0M378 85h0M461 231h0M211 277h0M542 301h0M255 221h0M479 177h0M186 300h0" stroke="#a2a2a2" stroke-width="5.5" stroke-linecap="round" fill="none" stroke-opacity="0.35"/>
<path d="M282 292h1M160 225h0M681 134h3M219 335h0M331 81h1M196 179h3M446 264h0M139 262h1M674 320h2M735 188h2M170 309h2M84 202h2M231 266h2M678 80h0M252 146h1M408 323h1M201 193h2M249 198h1M494 93h2M680 194h2M358 122h2M435 140h0M185 202h2M310 127h2M182 145h2M726 199h3M569 271h1M615 178h1M170 222h3M140 320h2M495 302h0M654 136h0M476 219h0M463 298h1M698 74h1M188 118h3M269 112h3M562 327h1M557 66h2M169 196h0M397 285h2M424 281h2M443 165h2M655 177h1M162 207h2M262 277h3M230 74h3M295 219h2M664 292h1M467 282h2M758 98h1M138 156h2M753 189h2M591 141h1M699 104h1M253 117h2M732 257h2M701 139h2M384 177h2M361 220h0M365 271h1M749 89h2M475 305h2M446 161h2M151 132h2M508 233h2M510 258h1M288 278h1M723 187h1M442 193h3" stroke="#c4c4c4" stroke-width="3.5" stroke-linecap="round" fill="none" stroke-opacity="0.7"/>
<path d="M453,86c8,2 14,4 22,6M478,97c3,6 2,14-4,18c-4,2-9,1-12,0M555,160c-2,5 1,10 6,12M692,214c4,3 10,4 14,3M505,240c6,6 12,10 22,12M628,188c2,-4 6,-6 10,-6" stroke="#b8b8b8" stroke-width="1.6" fill="none"/>
<path d="M186.3,87.3H640.8L693.8,179.8V324.3H116.8Z" fill="none" stroke="#a51e22" stroke-width="2.7" stroke-linejoin="miter"/>
<path d="M437.2,69.3L544.3,337.6H568L598.4,309.4L616.4,270L670.5,195.6L695.3,186.5L748.3,175.3M598.4,301.5L618.7,338.7" fill="none" stroke="#1a1a1a" stroke-width="2" stroke-dasharray="8,5"/>
<rect x="58.3" y="70.5" width="53.4" height="5.3" fill="#fff"/>
<text x="54" y="103.5" fill="#fff" font-size="26.5">100<tspan font-style="italic">μm</tspan></text>
<text x="483.2" y="115.5" fill="#fff" font-size="25">RL</text>
<text x="651.2" y="313.2" fill="#fff" font-size="25">AL</text>
<text x="152.0" y="313.5" fill="#fff" font-size="25">V1</text>
<defs><filter id="bl4" x="-5%" y="-5%" width="110%" height="110%"><feGaussianBlur stdDeviation="5"/><feComponentTransfer><feFuncA type="linear" slope="4"/></feComponentTransfer></filter></defs>
<defs><g id="big1"><path d="M315 503h0M324 539h0M334 522h0M317 575h0M320 501h0M324 488h0M316 477h0M329 555h0M313 561h0M322 486h0M319 572h0M306 561h0M330 493h0M325 556h0M312 501h0M321 578h0M310 555h0M322 520h0M331 499h0M339 500h0M324 553h0M333 501h0M308 554h0M321 577h0M337 540h0M315 543h0M316 485h0M327 556h0M339 533h0M323 517h0M327 568h0M329 515h0M302 508h0M320 527h0M336 501h0M333 485h0M326 522h0M327 539h0M300 552h0M322 569h0M323 511h0M348 536h0M347 485h0M336 539h0M319 527h0M337 479h0M335 506h0M323 509h0M334 506h0M327 518h0M311 557h0M325 562h0M327 573h0M318 511h0M315 559h0M333 477h0" stroke="#206050" stroke-width="8.0" stroke-linecap="round" stroke-opacity="0.9" fill="none"/><path d="M230 826h0M188 859h0M202 864h0M163 892h0M234 817h0M210 850h0M264 779h0M216 850h0M187 858h0M204 849h0M242 792h0M198 820h0M222 835h0M206 850h0M326 754h0M260 810h0M333 750h0M259 777h0M205 850h0M181 894h0M218 820h0M178 888h0M171 891h0M218 822h0M252 810h0M230 824h0M264 788h0M207 857h0M246 815h0M188 892h0M226 831h0M213 840h0M245 793h0M171 892h0M180 863h0M166 882h0M257 783h0M179 873h0M185 888h0M247 817h0M195 833h0M235 786h0M192 865h0M205 832h0M212 842h0M248 788h0M231 823h0M201 830h0M231 823h0M197 825h0M179 886h0M248 814h0M203 864h0M221 842h0M252 804h0M260 776h0M192 883h0M243 807h0M183 855h0M165 900h0M263 805h0M221 838h0M252 800h0M167 897h0M245 781h0M239 813h0M201 848h0M239 795h0M167 893h0M205 846h0M247 774h0M215 845h0M253 793h0M200 859h0M185 894h0M201 863h0M170 877h0" stroke="#f0b0c0" stroke-width="8.0" stroke-linecap="round" stroke-opacity="0.9" fill="none"/><path d="M213 918h0M239 868h0M288 814h0M252 852h0M220 880h0M254 898h0M203 905h0M283 836h0M211 909h0M214 893h0M245 845h0M257 836h0M348 780h0M276 834h0M262 842h0M231 894h0M225 869h0M242 850h0M205 919h0M287 811h0M285 804h0M259 818h0M246 849h0M306 825h0M226 882h0M225 863h0M290 834h0M228 862h0M216 886h0M347 775h0M296 812h0M252 836h0M288 846h0M281 833h0M195 902h0M215 880h0M287 825h0M224 893h0M300 814h0M256 829h0M240 863h0M294 831h0M273 825h0M258 853h0M236 880h0M314 825h0M218 867h0M202 895h0M272 842h0M232 867h0M292 844h0M236 863h0M250 842h0M211 914h0M294 855h0M238 864h0M312 816h0M207 891h0M224 865h0M245 851h0M296 808h0M265 839h0M273 820h0M267 839h0M271 843h0M282 845h0M284 847h0M187 909h0M276 829h0" stroke="#f0c0e0" stroke-width="8.0" stroke-linecap="round" stroke-opacity="0.9" fill="none"/><path d="M337 535h0M347 493h0M335 546h0M359 557h0M314 496h0M361 484h0M345 484h0M394 767h0M354 506h0M361 522h0M344 555h0M347 486h0M351 531h0M344 551h0M334 562h0M348 533h0M345 575h0M364 525h0M340 500h0M365 505h0M346 586h0M334 492h0M373 503h0M331 524h0M355 530h0M346 480h0M352 526h0M341 579h0M375 508h0M350 570h0M349 514h0M352 540h0M355 494h0M362 541h0M331 504h0M330 563h0M370 493h0M341 519h0M328 569h0M353 512h0M336 488h0M361 580h0M345 547h0M344 492h0M343 585h0M345 517h0M331 513h0M345 531h0" stroke="#205050" stroke-width="8.0" stroke-linecap="round" stroke-opacity="0.9" fill="none"/><path d="M93 668h0M69 670h0M77 675h0M175 700h0M97 686h0M159 686h0M144 679h0M92 671h0M61 660h0M161 686h0M83 661h0M118 670h0M112 675h0M75 689h0M169 684h0M111 682h0M117 683h0" stroke="#d09030" stroke-width="8.0" stroke-linecap="round" stroke-opacity="0.9" fill="none"/><path d="M42 731h0M221 721h0M163 732h0M154 727h0M136 733h0M68 730h0M183 734h0M64 739h0M229 719h0M116 729h0M120 728h0M165 724h0M27 734h0M220 721h0M88 744h0M52 721h0M169 722h0M238 713h0M75 730h0M192 732h0M47 743h0M200 728h0M121 743h0M76 744h0M93 749h0M141 736h0M28 728h0M118 748h0M42 745h0M125 739h0M189 713h0M62 732h0M140 742h0M220 719h0M149 737h0M88 757h0M128 718h0M191 722h0M151 736h0M171 724h0M88 731h0M49 715h0M79 732h0M82 751h0M104 743h0M45 745h0M174 728h0M41 736h0M165 726h0M161 735h0M171 746h0M174 728h0M66 728h0M172 733h0M166 735h0M33 715h0M133 721h0M89 734h0M140 733h0M59 740h0M122 736h0M118 736h0M53 749h0M125 740h0M47 748h0M115 741h0M180 728h0M148 725h0M133 731h0M223 723h0M189 723h0M117 731h0M131 721h0M228 729h0M102 763h0M79 728h0M146 736h0M82 736h0M147 727h0M32 742h0M232 717h0M110 742h0M201 730h0" stroke="#f0a070" stroke-width="8.0" stroke-linecap="round" stroke-opacity="0.9" fill="none"/><path d="M161 670h0M111 653h0M96 632h0M155 657h0M89 625h0M68 622h0M156 650h0M111 638h0M214 676h0M148 657h0M180 666h0M184 672h0M118 649h0M77 619h0M129 628h0M92 628h0M98 630h0M108 646h0M117 655h0M123 652h0M78 620h0M74 617h0M112 654h0M136 641h0M66 624h0M212 672h0M86 629h0M129 661h0M81 599h0M205 676h0" stroke="#b08020" stroke-width="8.0" stroke-linecap="round" stroke-opacity="0.9" fill="none"/><path d="M70 647h0M106 650h0M164 671h0M84 658h0M61 633h0M177 670h0M116 656h0M126 675h0M159 661h0M95 654h0M170 678h0M113 662h0M128 671h0M69 638h0M126 673h0M122 666h0M82 629h0M100 647h0M87 644h0M148 659h0M71 640h0" stroke="#b09030" stroke-width="8.0" stroke-linecap="round" stroke-opacity="0.9" fill="none"/><path d="M193 617h0M171 593h0M157 613h0M172 607h0M162 595h0M222 655h0M158 599h0M180 621h0M136 587h0M184 636h0M130 565h0M178 575h0M216 637h0M124 581h0M144 613h0M209 640h0M191 613h0M146 594h0M231 642h0M123 580h0M198 614h0M228 652h0M172 590h0M159 586h0M234 655h0M134 589h0M162 596h0M170 608h0M104 581h0M139 589h0M167 605h0M230 645h0M142 576h0M155 586h0M123 577h0M167 595h0M165 589h0M146 571h0M193 620h0M159 580h0M201 646h0M229 655h0M169 601h0M199 643h0M128 578h0M121 597h0M158 593h0M193 631h0M136 589h0M177 584h0M186 624h0M150 574h0M127 589h0M127 595h0M142 581h0M209 639h0M184 611h0M197 630h0" stroke="#808030" stroke-width="8.0" stroke-linecap="round" stroke-opacity="0.9" fill="none"/><path d="M290 540h0M300 526h0M279 523h0M281 560h0M274 492h0M286 576h0M274 520h0M283 488h0M298 560h0M273 543h0M287 509h0M274 551h0M325 520h0M285 535h0M280 474h0M281 573h0M316 491h0M320 507h0M281 468h0M271 490h0M291 560h0M289 493h0M310 534h0M278 536h0M297 513h0M303 522h0M278 480h0M302 530h0M279 562h0M296 509h0M305 475h0M281 539h0M301 515h0M294 498h0M308 563h0M282 552h0M282 505h0M306 492h0M290 554h0M298 508h0M310 542h0M286 467h0M305 494h0M284 485h0M307 499h0M323 534h0M310 542h0M294 537h0M278 490h0M258 531h0M301 518h0M276 511h0M294 569h0M308 533h0M266 499h0M296 540h0M306 508h0M290 500h0M273 485h0M288 561h0M290 533h0M271 475h0M324 505h0M308 477h0M273 475h0M303 500h0M288 534h0M301 511h0M300 496h0M289 552h0M292 478h0M282 529h0M268 531h0M293 510h0M265 516h0M261 526h0M263 489h0M276 484h0M315 485h0M305 533h0M287 567h0M314 529h0M302 513h0M299 480h0M299 482h0M281 569h0M275 490h0M265 520h0M318 531h0M277 490h0M283 489h0M275 503h0M301 505h0M306 526h0M309 517h0M308 532h0M313 490h0M310 494h0M306 539h0M289 528h0M288 466h0M307 529h0M318 483h0M294 501h0M327 504h0M320 503h0M292 550h0M310 474h0M289 561h0" stroke="#306050" stroke-width="8.0" stroke-linecap="round" stroke-opacity="0.9" fill="none"/><path d="M79 730h0M151 706h0M102 703h0M159 705h0M67 696h0M90 714h0M105 711h0M178 717h0M165 718h0M170 712h0M133 705h0M156 711h0M186 706h0M388 775h0M165 707h0M215 714h0M98 726h0M31 711h0M166 718h0M57 710h0M120 713h0M158 718h0M140 712h0M139 706h0M229 719h0M89 713h0M214 709h0M188 715h0M192 706h0M129 700h0M183 714h0M126 711h0M187 701h0M127 716h0M200 709h0M108 702h0M53 706h0" stroke="#e09050" stroke-width="8.0" stroke-linecap="round" stroke-opacity="0.9" fill="none"/><path d="M194 852h0M179 849h0M231 779h0M184 840h0M191 814h0M174 861h0M235 785h0M225 776h0M170 846h0M237 773h0M238 785h0M217 810h0M197 790h0M211 786h0M197 803h0M189 833h0M209 832h0M203 811h0M207 856h0M219 786h0M149 866h0M329 747h0M149 864h0M197 788h0M215 776h0M221 789h0M207 822h0M159 881h0M194 851h0M221 806h0M175 865h0M205 801h0M235 775h0M163 864h0M267 782h0M182 835h0M218 809h0M195 826h0M215 799h0M156 873h0M193 843h0M194 814h0M231 812h0M215 803h0M183 846h0M210 805h0M189 852h0M190 840h0M247 777h0M220 839h0M191 848h0M196 828h0M260 771h0M326 743h0M246 762h0M258 769h0M229 774h0M211 834h0M159 856h0M210 798h0M314 740h0M170 865h0M233 801h0M221 805h0M230 802h0M203 829h0M243 783h0M201 825h0M254 764h0M156 851h0M193 843h0M216 787h0M218 788h0M168 864h0M245 779h0M189 842h0M191 834h0M224 798h0M246 775h0M218 808h0M328 749h0M241 805h0" stroke="#f0b0b0" stroke-width="8.0" stroke-linecap="round" stroke-opacity="0.9" fill="none"/><path d="M254 822h0M199 874h0M236 833h0M209 877h0M185 896h0M192 878h0M230 857h0M194 893h0M230 830h0M245 807h0M275 790h0M220 873h0M251 824h0M272 821h0M214 867h0M198 906h0M252 834h0M205 884h0M227 848h0M175 909h0M235 863h0M273 800h0M205 858h0M230 838h0M178 900h0M232 833h0M270 801h0M191 900h0M250 839h0M260 820h0M268 800h0M193 873h0M279 811h0M202 906h0M237 820h0M277 797h0M257 832h0M276 796h0M273 811h0M221 849h0M252 828h0M242 832h0M220 850h0M214 877h0M252 789h0M189 900h0M206 865h0M198 877h0M193 888h0M182 902h0M179 890h0M214 860h0M258 799h0M190 869h0M195 911h0M270 814h0M231 850h0M206 862h0M187 903h0M194 917h0M201 868h0M174 898h0M264 829h0" stroke="#f0c0d0" stroke-width="8.0" stroke-linecap="round" stroke-opacity="0.9" fill="none"/><path d="M271 489h0M277 572h0M270 492h0M257 533h0M277 532h0" stroke="#406050" stroke-width="8.0" stroke-linecap="round" stroke-opacity="0.9" fill="none"/><path d="M409 593h0M383 601h0M431 616h0M437 544h0M428 592h0M403 636h0M434 564h0M444 583h0M460 615h0M410 566h0M455 589h0M422 579h0M482 641h0M486 644h0M461 643h0M455 640h0M435 574h0M399 636h0M445 614h0M420 631h0M421 593h0M417 537h0M414 537h0M392 604h0M451 584h0M436 567h0M386 616h0M431 590h0M411 630h0M399 565h0M397 581h0M435 625h0M444 626h0M430 581h0M409 642h0M474 617h0M416 564h0M474 634h0M425 614h0M443 607h0M446 574h0M400 633h0M388 588h0M434 604h0M464 586h0M419 628h0M450 566h0M419 630h0M439 623h0M456 585h0M394 630h0M453 612h0M372 606h0M425 621h0M392 622h0M418 613h0M425 539h0M397 627h0M457 600h0M408 604h0M418 623h0M404 588h0M449 567h0M464 580h0M447 584h0M411 637h0M420 586h0M483 601h0M484 628h0M419 607h0M420 613h0M416 628h0M404 626h0M415 607h0M464 592h0M470 609h0M391 622h0M430 580h0M405 644h0M405 631h0M436 584h0M426 628h0M427 591h0M422 555h0M399 581h0M443 621h0M417 555h0M423 566h0M456 580h0M436 636h0M460 588h0M477 616h0M471 589h0M451 582h0M440 582h0M442 618h0M444 620h0M401 601h0M442 606h0M483 663h0M451 563h0M408 631h0M442 588h0M449 608h0M418 617h0M414 617h0M454 641h0M431 635h0M372 592h0M470 639h0M412 609h0M400 636h0M427 638h0M425 598h0M466 631h0M427 583h0M446 638h0M413 594h0M416 635h0M451 597h0M380 587h0M423 573h0M398 604h0M432 651h0M439 562h0M422 607h0M386 530h0M423 601h0M451 639h0M436 550h0M375 608h0M437 657h0M455 582h0M479 608h0M460 577h0M441 593h0M463 605h0M415 548h0M417 559h0M464 573h0M457 612h0M456 572h0M485 612h0M476 631h0M443 552h0M427 586h0M432 600h0M407 591h0M442 637h0M437 548h0M401 636h0M384 597h0M419 598h0M404 643h0M411 645h0M424 583h0M456 571h0M444 643h0M395 584h0M441 540h0M408 576h0M465 573h0M391 601h0M452 576h0M433 622h0M406 632h0M471 581h0M400 636h0M432 544h0M465 620h0M463 616h0M476 607h0M467 588h0M453 595h0M389 591h0M427 591h0M442 644h0M418 582h0M387 605h0M401 632h0M403 573h0M461 574h0M414 590h0M420 564h0M453 596h0M422 615h0M473 604h0M450 628h0M422 540h0M437 646h0M375 609h0M458 642h0M430 608h0M409 599h0M435 629h0M434 572h0M428 632h0M465 589h0" stroke="#104060" stroke-width="8.0" stroke-linecap="round" stroke-opacity="0.9" fill="none"/><path d="M59 685h0M136 704h0M176 706h0M106 702h0M63 683h0M129 696h0M121 697h0M93 698h0M161 699h0M83 697h0M184 701h0M155 698h0M52 684h0M159 696h0M139 705h0" stroke="#e09040" stroke-width="8.0" stroke-linecap="round" stroke-opacity="0.9" fill="none"/><path d="M55 726h0M157 712h0" stroke="#e0a070" stroke-width="8.0" stroke-linecap="round" stroke-opacity="0.9" fill="none"/><path d="M263 569h0M216 503h0M245 563h0M239 500h0M257 514h0M256 591h0M223 497h0M264 592h0M242 549h0M240 491h0M248 561h0" stroke="#407040" stroke-width="8.0" stroke-linecap="round" stroke-opacity="0.9" fill="none"/><path d="M90 599h0M157 628h0M95 600h0M162 656h0M146 612h0M128 618h0M168 638h0M135 621h0M135 640h0M73 617h0M105 616h0M106 606h0M147 612h0M192 649h0M145 622h0M118 634h0M94 626h0M116 628h0M116 631h0M115 615h0M180 654h0M126 650h0M146 636h0M132 634h0M93 616h0M208 666h0M151 638h0M94 612h0M394 785h0M126 648h0M129 607h0M141 638h0M112 616h0M206 658h0M177 651h0M203 668h0M159 646h0M154 628h0M143 628h0M172 646h0M218 655h0M140 649h0M149 648h0M206 678h0M113 629h0M149 621h0M121 614h0M139 640h0M155 634h0M106 616h0M120 640h0M144 628h0M98 615h0M161 640h0M142 631h0M162 636h0M139 664h0M170 640h0M177 636h0M153 657h0M132 643h0M134 634h0M136 618h0M120 625h0M109 596h0M113 632h0M76 616h0M182 655h0M117 635h0M127 626h0M206 660h0M96 609h0M88 614h0M109 637h0M161 638h0M92 604h0M105 628h0M124 619h0M122 603h0M202 663h0M109 631h0M92 594h0M142 628h0M127 625h0M210 670h0M120 643h0M132 657h0M133 656h0M197 646h0M176 648h0M188 664h0" stroke="#a08020" stroke-width="8.0" stroke-linecap="round" stroke-opacity="0.9" fill="none"/><path d="M255 904h0M289 861h0M326 826h0M239 913h0M278 847h0M236 919h0M233 904h0M294 833h0M281 871h0M243 893h0M213 913h0M241 859h0M234 885h0M260 882h0M237 891h0M236 889h0M234 897h0M222 895h0M258 893h0M246 889h0M255 906h0M293 862h0M303 855h0M219 921h0M259 903h0M221 871h0M224 921h0M246 904h0M292 854h0M328 833h0M292 834h0M326 835h0M218 890h0M224 875h0M309 853h0M304 825h0M238 896h0M282 875h0M206 914h0M240 908h0M233 916h0M230 866h0M274 885h0M270 852h0M273 859h0M275 858h0M327 813h0M326 818h0M306 808h0M220 899h0M235 883h0M244 870h0M323 826h0M262 882h0M290 849h0M285 838h0M267 880h0M247 894h0M303 845h0M229 887h0M281 879h0M262 874h0M266 876h0M240 867h0M229 893h0M264 885h0M330 826h0M267 889h0M323 828h0M305 864h0M290 840h0M245 905h0M327 837h0M298 815h0M343 815h0M264 868h0M246 886h0M257 865h0M330 807h0M286 844h0M287 870h0M299 830h0M316 824h0M266 885h0M261 865h0M287 843h0M343 763h0M340 820h0M227 918h0M310 847h0M246 859h0M236 886h0M210 920h0M225 916h0M336 823h0M235 913h0M260 901h0M311 834h0M266 873h0M292 863h0M300 816h0M325 829h0M237 911h0M251 880h0M231 872h0M311 823h0M215 914h0M275 869h0M259 859h0M260 868h0M243 907h0M334 819h0M256 877h0M224 909h0M260 895h0M233 879h0M248 860h0M221 917h0M296 840h0M299 830h0M262 869h0M295 831h0M215 917h0M254 860h0M286 874h0M310 813h0M263 892h0M265 886h0M326 834h0M242 903h0M272 887h0M262 853h0M289 851h0M243 903h0M343 804h0M240 870h0M337 818h0M268 901h0M333 823h0M318 848h0M259 902h0M340 796h0M237 911h0M253 859h0M257 880h0M256 870h0" stroke="#f0d0e0" stroke-width="8.0" stroke-linecap="round" stroke-opacity="0.9" fill="none"/><path d="M105 660h0M148 675h0M159 684h0M76 659h0M128 677h0M96 647h0M113 671h0M179 671h0M95 668h0M152 674h0M73 645h0M160 674h0M71 656h0M89 657h0M97 655h0M123 689h0M171 683h0M68 667h0M144 686h0M71 653h0M65 654h0M121 663h0M123 677h0M138 678h0M161 672h0M101 667h0M77 663h0M122 688h0M112 664h0M82 648h0M128 679h0M177 690h0M82 647h0M52 657h0M198 693h0M56 662h0M63 654h0M70 637h0M171 676h0M106 662h0M101 667h0M125 653h0M190 676h0M54 638h0M170 682h0M182 688h0M117 669h0M165 674h0M73 652h0M193 686h0M60 661h0M187 676h0M129 678h0M63 646h0M133 669h0M113 668h0M73 664h0M91 682h0" stroke="#c09030" stroke-width="8.0" stroke-linecap="round" stroke-opacity="0.9" fill="none"/><path d="M256 532h0M259 578h0M260 502h0M245 491h0M249 496h0M274 548h0M252 559h0M234 498h0M265 536h0M267 591h0M262 549h0M256 573h0M243 490h0M260 555h0M275 567h0M255 568h0M250 500h0M261 544h0M230 489h0M268 589h0M241 562h0M271 557h0M259 482h0M253 556h0M257 481h0M264 472h0M260 477h0M268 485h0M254 483h0M243 516h0M282 575h0M277 585h0M277 558h0M276 500h0M244 486h0M263 548h0M265 571h0M260 492h0M261 561h0M269 576h0M265 551h0M270 583h0M252 496h0M266 516h0M246 493h0M259 542h0" stroke="#407050" stroke-width="8.0" stroke-linecap="round" stroke-opacity="0.9" fill="none"/><path d="M171 798h0M220 763h0M236 762h0M222 759h0M135 845h0M310 747h0M185 776h0M171 826h0M184 789h0M164 821h0M194 784h0M151 827h0M262 773h0M191 834h0M218 772h0M253 753h0M222 773h0M191 802h0M158 838h0M164 829h0M216 799h0M218 758h0M221 760h0M174 821h0M210 772h0M198 810h0M203 809h0M221 774h0M183 785h0M208 795h0M184 819h0M176 826h0M233 768h0M139 857h0M142 849h0M320 744h0M257 764h0M301 749h0M227 767h0M192 827h0M183 824h0M307 738h0M141 854h0M175 819h0M227 784h0M138 834h0M131 813h0M297 748h0M212 775h0M178 802h0M150 866h0M232 766h0M318 723h0M181 818h0M210 772h0M229 765h0M169 823h0M185 792h0M240 762h0M314 742h0M150 831h0M170 815h0M185 800h0M170 845h0M228 762h0M219 772h0M190 775h0M205 775h0M166 842h0M143 861h0M162 827h0M196 781h0M196 772h0M154 823h0M201 765h0M224 774h0M266 758h0M240 751h0M161 858h0M169 803h0M149 834h0M176 784h0M317 731h0M250 750h0M153 837h0M156 814h0M171 791h0M149 842h0M172 839h0M259 768h0M161 825h0M200 782h0M183 829h0M228 765h0M186 781h0M184 769h0M166 817h0M155 830h0M213 786h0M226 766h0M181 822h0" stroke="#f0b0a0" stroke-width="8.0" stroke-linecap="round" stroke-opacity="0.9" fill="none"/><path d="M380 515h0M364 508h0M358 565h0M362 529h0M382 527h0M357 568h0M365 563h0M353 482h0M358 513h0M359 565h0M349 582h0M358 505h0M353 529h0M356 590h0M343 572h0M341 554h0M359 499h0M357 546h0M367 557h0" stroke="#205060" stroke-width="8.0" stroke-linecap="round" stroke-opacity="0.9" fill="none"/><path d="M410 511h0M399 520h0M368 595h0M411 537h0M391 518h0M366 601h0M411 539h0M382 510h0M415 550h0M398 538h0M362 563h0M391 529h0M395 531h0M370 590h0M406 534h0M397 536h0M368 593h0M393 554h0M387 517h0M386 544h0M390 553h0M398 511h0M413 550h0M393 516h0M411 545h0M405 514h0M373 586h0M375 580h0M366 554h0M360 532h0M381 521h0M386 543h0M361 600h0M374 530h0M396 505h0M388 525h0M389 572h0M421 565h0M417 562h0M377 550h0M438 538h0M427 525h0M377 508h0M369 540h0M364 527h0M425 552h0M387 588h0M370 561h0M373 587h0M406 544h0M396 526h0M345 591h0M390 547h0M374 517h0M390 514h0M386 549h0M377 601h0M395 778h0M376 585h0M381 561h0M369 537h0M399 547h0M364 506h0M379 532h0M411 535h0M372 538h0M424 538h0M364 574h0M363 597h0M397 779h0M382 508h0M396 768h0M386 537h0M401 558h0M373 530h0M389 544h0M392 520h0M407 550h0M397 518h0M421 531h0M391 554h0M440 553h0M392 508h0M420 533h0M409 514h0M374 581h0M398 549h0M404 531h0M398 542h0M420 556h0M371 580h0M367 548h0M374 579h0" stroke="#105060" stroke-width="8.0" stroke-linecap="round" stroke-opacity="0.9" fill="none"/><path d="M184 622h0M161 617h0M99 595h0M96 602h0M202 643h0M194 647h0M119 600h0M163 611h0M178 637h0M100 606h0M172 643h0M123 594h0M192 631h0M104 601h0M164 619h0M158 635h0M110 586h0M126 600h0M200 643h0M194 646h0M201 640h0M135 625h0M167 613h0M138 612h0M201 649h0M213 651h0M159 640h0M204 643h0M88 595h0M112 606h0M143 620h0M164 634h0M198 643h0M139 585h0M126 584h0M183 635h0M219 661h0M105 595h0M206 648h0M150 604h0M135 576h0M151 640h0M129 590h0M117 618h0M113 586h0M87 608h0M158 611h0M102 593h0M171 645h0M198 651h0M108 591h0M105 593h0M200 636h0M143 611h0M154 610h0M116 601h0M144 609h0M201 631h0M100 615h0M96 591h0M99 592h0M157 621h0" stroke="#908020" stroke-width="8.0" stroke-linecap="round" stroke-opacity="0.9" fill="none"/><path d="M171 740h0M179 759h0M223 737h0M291 716h0M249 718h0M227 732h0M103 763h0M137 797h0M160 749h0M152 751h0M283 715h0M135 769h0M124 774h0M178 770h0M234 728h0M87 748h0M157 761h0M279 714h0M156 750h0M112 753h0M137 790h0M191 747h0M126 747h0M167 749h0M77 750h0M209 741h0M120 766h0M245 729h0M144 769h0M145 760h0M212 732h0M171 752h0M125 780h0M288 717h0M82 752h0M282 714h0M220 737h0M257 716h0M233 733h0M107 757h0M95 760h0M158 762h0M152 773h0M120 758h0M224 728h0M175 743h0M301 729h0M126 770h0M201 744h0M161 763h0M265 718h0M139 780h0M259 741h0M120 764h0M294 713h0M276 711h0M139 787h0M242 723h0M140 767h0M111 766h0M226 740h0M102 762h0M172 747h0M162 789h0M286 724h0M126 772h0M297 720h0M178 745h0M121 739h0M241 744h0M225 733h0M138 766h0M251 720h0M254 726h0M279 743h0M118 790h0M183 755h0M240 712h0M196 747h0M107 748h0M241 717h0M124 756h0M292 712h0M261 718h0M162 749h0M143 758h0M164 757h0M121 763h0M122 757h0M305 719h0M94 758h0M166 754h0M179 744h0M115 764h0M192 740h0M162 741h0M274 712h0M162 764h0M129 764h0M268 714h0M242 739h0M267 731h0M165 752h0M253 711h0M267 728h0M105 761h0M128 805h0M265 714h0M256 714h0M282 714h0" stroke="#f0a080" stroke-width="8.0" stroke-linecap="round" stroke-opacity="0.9" fill="none"/><path d="M191 552h0M243 637h0M216 619h0M186 552h0M234 643h0M185 558h0M190 549h0M175 553h0M231 634h0M177 556h0M187 521h0M227 625h0M149 543h0M231 621h0M204 587h0M208 594h0M186 554h0M209 587h0M187 558h0M241 623h0M173 549h0M193 537h0M174 557h0M201 567h0M171 509h0M168 531h0M204 589h0M229 630h0M152 530h0M199 588h0M221 612h0M217 601h0M186 563h0M177 529h0M183 502h0M174 538h0M226 620h0M228 616h0M171 516h0M173 527h0M231 610h0M221 591h0M217 612h0M214 610h0M181 555h0M145 535h0M197 547h0M191 542h0M203 589h0M184 552h0" stroke="#607030" stroke-width="8.0" stroke-linecap="round" stroke-opacity="0.9" fill="none"/><path d="M77 685h0M64 665h0M97 685h0M113 696h0M102 693h0M206 707h0M98 689h0M185 694h0M197 696h0M60 672h0M85 684h0M111 690h0M73 685h0M132 693h0M111 683h0M74 669h0M192 693h0M110 696h0M191 693h0M89 681h0M195 705h0M179 694h0M126 702h0M160 701h0M96 679h0M119 679h0M148 696h0M67 681h0M85 682h0M173 694h0M72 684h0M116 676h0M87 676h0M113 694h0M107 688h0M128 698h0M191 694h0M100 687h0M166 699h0M90 669h0M184 706h0M89 688h0M150 700h0M128 689h0M160 702h0M69 674h0M90 674h0M77 682h0" stroke="#d09040" stroke-width="8.0" stroke-linecap="round" stroke-opacity="0.9" fill="none"/><path d="M423 656h0M435 650h0M450 663h0M412 653h0M436 673h0M449 644h0M484 654h0M463 650h0M422 650h0M458 652h0M401 772h0M489 627h0M447 646h0M472 653h0M479 672h0M463 632h0M421 661h0M483 663h0M421 641h0M452 656h0M492 645h0M454 648h0M453 673h0M492 641h0M411 671h0M482 653h0M493 673h0M492 638h0M465 669h0M424 652h0M492 667h0M465 659h0M485 634h0M420 669h0M438 659h0M422 657h0M494 676h0M468 656h0M447 664h0M400 774h0M450 668h0M416 654h0M435 645h0M455 662h0M481 630h0M455 632h0M428 662h0M424 643h0M459 653h0M496 645h0M423 652h0M488 649h0M471 654h0M499 673h0M495 666h0M496 670h0M430 672h0M467 669h0M426 665h0M476 671h0M446 676h0M477 667h0M475 643h0M485 673h0M407 783h0M415 665h0M484 632h0M442 638h0M434 677h0M450 658h0M415 673h0M439 637h0M474 647h0M449 624h0M436 674h0M496 659h0M456 656h0M434 687h0M470 662h0" stroke="#103060" stroke-width="8.0" stroke-linecap="round" stroke-opacity="0.9" fill="none"/><path d="M291 742h0M297 723h0M151 825h0M139 784h0M248 738h0M158 761h0M151 765h0M314 720h0M134 787h0M323 728h0M140 801h0M226 748h0M318 732h0M167 779h0M288 750h0M160 791h0M176 813h0M256 734h0M298 731h0M176 803h0M197 746h0M174 787h0M189 772h0M233 743h0M311 720h0M162 820h0M131 769h0M148 775h0M144 815h0M177 763h0M174 763h0M300 724h0M180 790h0M146 779h0M133 777h0M296 729h0M160 774h0M271 745h0M289 720h0M204 752h0M133 766h0M156 797h0M138 774h0M296 718h0M244 749h0M273 743h0M143 815h0M173 758h0M147 820h0M167 789h0M209 751h0M226 750h0M290 713h0M137 792h0M279 722h0M165 773h0M254 731h0M138 785h0M270 736h0M173 750h0M297 725h0M127 786h0M131 774h0M214 747h0M290 735h0M323 727h0M229 741h0M299 748h0M157 779h0M256 746h0M158 791h0M167 775h0M294 722h0M184 770h0M162 774h0M152 815h0M167 798h0M123 784h0M281 735h0M189 746h0M225 753h0M115 776h0M304 738h0M256 731h0" stroke="#f0a090" stroke-width="8.0" stroke-linecap="round" stroke-opacity="0.9" fill="none"/><path d="M200 676h0M131 657h0M63 630h0M166 663h0M71 634h0M129 664h0M170 661h0M56 635h0M174 672h0M134 667h0M107 633h0M115 662h0M210 678h0" stroke="#b08030" stroke-width="8.0" stroke-linecap="round" stroke-opacity="0.9" fill="none"/><path d="M169 604h0M206 647h0M129 583h0M129 586h0M133 605h0M218 649h0M175 624h0" stroke="#808020" stroke-width="8.0" stroke-linecap="round" stroke-opacity="0.9" fill="none"/><path d="M181 561h0M160 549h0M180 562h0M172 558h0M191 597h0M220 619h0M192 591h0M176 528h0M155 520h0M160 550h0M199 583h0M231 628h0M165 551h0M206 579h0M207 584h0M150 561h0M151 548h0M185 566h0M218 644h0M211 619h0M202 602h0M159 553h0M148 553h0M184 575h0M223 636h0M164 554h0M183 575h0M166 545h0M193 580h0M215 630h0M210 584h0M157 536h0" stroke="#707030" stroke-width="8.0" stroke-linecap="round" stroke-opacity="0.9" fill="none"/><path d="M212 630h0M167 580h0M166 565h0M177 600h0M206 599h0M170 596h0M184 574h0M158 590h0M171 580h0M158 588h0M180 599h0M185 590h0M186 610h0M185 609h0M238 643h0M182 569h0M172 570h0M187 601h0M154 593h0M187 604h0M172 550h0M161 597h0M203 599h0M168 582h0M222 640h0M145 552h0M167 561h0M181 588h0M155 591h0M140 554h0M156 566h0M227 639h0M170 596h0M232 650h0M173 580h0M141 581h0M131 569h0M208 627h0M168 567h0M208 628h0M206 615h0M196 615h0" stroke="#708030" stroke-width="8.0" stroke-linecap="round" stroke-opacity="0.9" fill="none"/><path d="M195 508h0M190 558h0M189 512h0M244 636h0M213 560h0M242 626h0M210 537h0M201 540h0M215 557h0M210 540h0M222 563h0M201 553h0M230 604h0M207 526h0M189 519h0M194 522h0M210 571h0M208 576h0M204 509h0M216 604h0M190 510h0M211 584h0M234 608h0M206 578h0M185 506h0M184 514h0M213 608h0M208 589h0M233 623h0M196 505h0M229 601h0M218 584h0M162 522h0M174 507h0M171 523h0M189 531h0M199 553h0M195 551h0M251 614h0M200 524h0M200 550h0M176 538h0M212 568h0M245 625h0M189 520h0M205 546h0M228 612h0M253 614h0M189 524h0M218 608h0" stroke="#607040" stroke-width="8.0" stroke-linecap="round" stroke-opacity="0.9" fill="none"/><path d="M244 552h0M196 502h0M229 554h0M232 601h0M238 614h0M238 581h0M259 598h0M250 540h0M216 517h0M250 613h0M223 558h0M225 571h0M245 587h0M213 548h0M242 556h0M260 597h0M201 501h0M208 504h0M217 480h0M235 590h0M208 498h0M208 514h0M212 599h0M240 537h0M217 500h0M231 521h0M234 514h0M217 532h0M216 574h0M234 511h0M225 575h0M238 503h0M221 487h0M231 596h0M250 595h0M220 488h0M236 552h0M244 575h0M244 568h0M237 601h0M217 512h0M241 506h0M221 534h0M230 547h0M215 589h0M229 526h0M251 596h0M249 606h0M238 578h0M240 622h0M225 490h0M231 591h0M241 547h0M210 526h0M224 488h0M230 595h0M245 560h0M229 593h0M204 525h0M205 555h0M242 519h0M224 547h0M232 524h0M197 500h0M237 496h0M233 499h0M239 568h0M230 558h0M230 536h0M237 574h0M194 494h0M197 518h0M209 490h0M229 482h0M214 538h0M241 578h0M259 589h0M227 595h0M228 547h0M246 592h0M242 566h0M241 593h0M203 524h0M236 557h0M221 550h0M213 499h0M262 567h0M239 563h0M247 500h0M235 585h0M234 499h0M256 578h0M230 569h0M242 548h0M227 549h0M211 506h0M234 533h0M228 580h0M217 490h0M242 550h0M231 594h0M203 580h0M247 535h0M238 552h0M244 596h0M210 490h0M216 538h0M247 581h0M212 534h0M242 509h0M231 567h0M220 539h0M195 501h0M248 616h0M186 509h0M261 603h0M215 485h0M245 540h0M219 563h0M218 584h0M224 586h0M254 551h0M209 527h0M247 604h0M215 513h0M239 606h0M215 492h0M202 496h0M215 559h0M248 572h0M231 501h0" stroke="#507040" stroke-width="8.0" stroke-linecap="round" stroke-opacity="0.9" fill="none"/><path d="M171 728h0M37 731h0M153 719h0M27 717h0M151 717h0M43 712h0M147 710h0M197 707h0M76 723h0M50 716h0M112 723h0M48 720h0M114 728h0M179 710h0M47 743h0M75 724h0M80 740h0M30 735h0M46 725h0M179 718h0M79 729h0M90 721h0M212 710h0M50 725h0M152 706h0M38 738h0M142 714h0M144 714h0M143 715h0M80 705h0M91 735h0M45 714h0M67 727h0M168 726h0M42 725h0M139 716h0M216 721h0M44 729h0M46 721h0M84 729h0M47 713h0M49 720h0M139 739h0M62 726h0M103 718h0M96 728h0M215 713h0M151 720h0M34 715h0M46 749h0M149 732h0M51 726h0M54 719h0M196 725h0M141 730h0M40 720h0M158 721h0M39 741h0M46 719h0M146 715h0M94 728h0M96 718h0M31 730h0M75 720h0" stroke="#e0a060" stroke-width="8.0" stroke-linecap="round" stroke-opacity="0.9" fill="none"/><path d="M443 701h0M438 773h0M489 680h0M412 719h0M420 767h0M481 759h0M470 672h0M491 690h0M409 794h0M469 747h0M485 685h0M425 791h0M492 704h0M451 709h0M452 787h0M484 710h0M459 705h0M426 696h0M468 745h0M455 710h0M477 750h0M485 691h0M437 725h0M475 733h0M483 725h0M477 694h0M471 688h0M416 752h0M478 697h0M426 725h0M458 713h0M429 766h0M447 765h0M479 707h0M433 779h0M498 690h0M442 686h0M412 795h0M448 676h0M449 764h0M455 683h0M433 719h0M404 766h0M426 724h0M421 760h0M414 761h0M420 711h0M430 725h0M449 722h0M466 743h0M459 753h0M428 743h0M423 761h0M415 791h0M442 762h0M434 786h0M429 698h0M448 774h0M467 723h0M457 739h0M466 723h0M411 718h0M449 682h0M408 725h0M427 701h0M437 725h0M417 702h0M485 708h0M424 781h0M437 694h0M404 765h0M438 722h0M485 695h0M408 764h0M427 726h0M473 716h0M458 748h0M430 779h0M435 771h0M429 793h0M477 738h0M462 785h0M484 730h0M456 746h0M418 721h0M490 686h0M414 756h0M418 779h0M463 710h0M428 754h0M492 711h0M434 662h0M432 696h0M448 767h0M422 729h0M456 707h0M448 734h0M438 696h0M453 735h0M474 755h0M435 706h0M456 788h0M427 770h0M458 661h0M407 767h0M420 734h0M453 731h0M467 712h0M404 756h0M451 733h0M419 761h0M428 778h0M487 694h0M458 787h0M435 717h0M418 765h0M482 756h0M411 754h0M437 765h0M468 667h0M431 726h0M485 747h0M432 798h0M473 730h0M416 750h0M486 733h0M471 703h0M456 766h0M414 773h0M461 713h0M469 697h0M486 743h0M420 764h0M413 778h0M468 718h0M486 725h0M445 782h0M414 738h0M425 775h0M468 754h0M428 733h0M446 750h0M474 740h0M418 715h0M458 772h0M425 737h0M432 712h0M468 746h0M485 713h0M416 675h0M454 789h0M436 674h0M450 783h0M414 778h0M423 709h0M461 775h0M423 762h0M427 735h0M452 783h0M466 668h0M487 723h0M442 697h0M431 700h0M498 685h0M414 721h0M433 742h0M416 784h0M435 735h0M446 726h0M457 671h0M427 705h0M419 773h0M421 685h0M447 690h0M447 753h0M448 658h0M480 733h0M423 692h0M449 700h0M467 751h0M409 730h0M422 714h0M423 785h0M433 781h0M428 720h0M419 789h0M459 736h0M457 770h0M461 726h0M405 788h0M432 777h0M425 745h0M476 716h0M424 690h0M444 774h0M456 680h0M468 720h0M444 678h0M428 731h0M410 735h0M441 698h0M487 723h0M478 693h0M433 779h0M451 711h0M449 767h0M438 733h0M420 732h0M404 793h0M448 748h0M426 736h0M430 702h0M470 745h0M434 752h0M483 695h0M479 695h0M417 769h0M472 672h0M467 754h0M423 766h0M407 784h0M451 762h0M430 773h0M452 731h0M427 794h0M405 791h0M442 768h0M417 681h0" stroke="#203060" stroke-width="8.0" stroke-linecap="round" stroke-opacity="0.9" fill="none"/><path d="M168 811h0M192 805h0M177 792h0M238 756h0M210 749h0M157 808h0M179 783h0M213 755h0M151 827h0M292 743h0M282 739h0M139 832h0M178 807h0M250 747h0M132 846h0M217 745h0M180 811h0M313 726h0M142 807h0M174 801h0M321 738h0M186 787h0M190 766h0M215 757h0M302 733h0M161 772h0M182 798h0M160 824h0M137 820h0M196 747h0M299 746h0M181 794h0M150 822h0M152 841h0M246 748h0M147 835h0M243 751h0M290 745h0M175 778h0M243 749h0M319 727h0M157 810h0M169 807h0M146 844h0M179 779h0M173 801h0M294 746h0M134 832h0M146 837h0M161 787h0M275 748h0M182 812h0M276 751h0M226 742h0M161 804h0M320 732h0M170 806h0M191 798h0M250 743h0M201 749h0M169 798h0M297 717h0M315 725h0M134 847h0M324 728h0" stroke="#f0b090" stroke-width="8.0" stroke-linecap="round" stroke-opacity="0.9" fill="none"/></g><clipPath id="cbig1"><path d="M150.8,520.8L156.9,516.5L156.7,509.0L160.7,505.1L165.5,502.5L170.8,500.8L174.6,496.6L181.0,498.4L182.9,489.9L189.7,492.5L197.1,492.7L199.9,484.7L206.2,483.0L212.0,480.9L217.0,477.0L222.8,474.8L229.5,477.2L234.8,468.7L241.7,472.4L247.4,469.9L253.3,468.0L260.1,469.5L265.3,465.3L270.5,461.2L277.0,461.8L284.2,462.6L291.2,464.2L296.9,463.5L301.8,466.6L306.9,469.0L312.5,468.9L318.8,467.4L323.9,473.1L329.9,473.5L336.1,472.4L340.5,475.1L344.9,477.6L350.8,476.0L355.1,478.8L359.7,480.7L365.5,481.8L369.4,485.9L373.3,490.2L379.4,490.8L383.3,494.9L388.4,496.5L393.4,498.3L398.3,500.3L402.8,503.0L406.9,506.7L411.6,508.4L417.2,507.9L420.9,512.4L425.8,513.7L426.3,519.9L431.2,522.3L436.0,524.8L440.5,527.5L442.3,532.6L446.8,536.0L445.6,543.5L451.7,545.7L456.0,549.1L457.7,554.5L461.2,558.6L460.7,566.0L467.6,568.2L470.0,573.5L473.9,577.9L477.7,582.2L480.8,586.6L484.7,590.5L485.5,596.0L487.2,601.1L488.3,607.4L487.1,613.8L489.0,620.0L489.9,625.6L492.2,630.4L495.9,634.5L499.0,638.9L498.9,645.4L504.1,650.2L501.7,657.4L506.1,662.5L504.4,668.3L505.6,674.4L503.2,680.1L503.7,686.1L502.1,692.0L497.8,697.2L495.2,702.8L496.6,709.7L490.7,714.7L497.3,722.1L496.2,728.0L491.9,733.3L491.2,739.5L488.0,745.0L484.7,750.4L484.8,756.9L481.4,761.3L483.0,768.6L476.9,771.4L472.0,774.8L470.7,780.5L466.2,783.7L461.3,786.3L458.6,791.5L454.1,794.7L448.3,796.9L442.2,797.9L436.1,799.2L430.5,801.8L424.6,800.8L418.7,800.3L412.7,801.5L406.9,799.4L402.0,795.7L396.4,793.3L392.2,788.4L385.7,787.6L384.4,780.3L378.6,775.8L382.8,771.3L385.8,765.8L390.4,761.6L391.5,755.7L396.0,751.4L397.6,745.8L399.8,740.4L400.5,735.0L402.7,730.0L402.7,724.4L407.0,720.0L406.9,714.4L406.4,708.7L410.5,703.3L409.2,697.5L410.1,691.9L409.3,686.1L405.8,680.7L407.3,674.2L407.4,668.1L404.6,662.5L400.9,658.5L400.5,653.3L399.3,648.3L397.5,643.6L391.5,640.7L391.0,633.7L388.3,628.3L383.3,624.7L378.2,621.1L376.8,614.8L370.3,612.3L369.1,605.8L364.4,603.5L358.1,604.3L356.1,596.5L350.3,596.4L344.6,593.8L338.4,592.9L332.0,592.7L326.6,589.3L323.2,584.4L319.1,580.7L312.5,582.2L306.1,580.8L308.3,572.6L303.0,570.4L296.7,569.5L293.6,575.1L289.9,578.6L289.3,584.6L284.1,586.9L278.5,587.6L274.9,592.0L270.0,594.0L268.0,600.2L266.0,606.4L260.5,610.5L257.8,616.5L255.7,622.7L255.8,629.4L252.1,635.1L246.4,638.9L242.5,643.0L242.6,649.7L236.1,652.1L234.6,657.8L231.2,661.5L228.3,665.6L224.8,669.2L219.9,671.6L218.0,676.6L212.4,678.2L208.0,681.5L203.7,685.2L199.2,688.4L193.9,687.7L188.7,685.9L183.3,686.2L177.9,686.1L176.4,680.7L171.7,677.2L164.9,675.0L168.7,666.5L168.1,660.6L162.0,657.9L158.2,653.9L155.3,649.4L152.6,644.7L150.0,640.0L150.1,634.8L147.6,629.6L149.0,624.4L147.9,619.3L150.7,614.1L149.6,608.9L151.3,603.7L149.9,598.5L152.5,593.4L150.8,588.2L155.2,583.0L146.2,577.8L149.0,572.6L152.5,567.5L156.1,562.3L150.0,557.1L150.7,551.9L150.1,546.7L153.6,541.6L150.1,536.3L152.2,531.2L150.1,526.0ZM155.3,524.2L160.8,521.8L166.0,521.0L169.5,529.5L175.9,522.9L180.2,526.8L185.4,526.4L190.6,525.9L194.4,532.8L200.0,530.0L205.6,528.0L210.1,531.6L215.2,531.8L220.2,533.2L225.2,534.2L229.8,537.0L235.5,534.4L240.6,535.1L244.4,542.0L250.0,540.0L253.5,544.1L260.0,544.8L263.5,549.0L266.3,554.0L270.3,557.7L271.8,564.2L279.8,563.1L282.8,567.9L283.2,575.7L291.1,574.7L290.2,580.9L282.3,580.8L280.7,586.4L276.4,589.7L274.9,595.4L270.0,598.0L265.5,602.2L264.9,608.9L261.2,613.6L257.0,618.0L252.0,622.7L251.5,629.0L250.9,635.3L248.8,641.0L241.9,643.0L242.8,650.6L238.8,654.7L235.4,659.2L232.3,664.0L227.9,667.4L221.9,669.2L221.5,676.3L218.3,680.8L212.7,683.0L210.0,688.0L206.6,693.8L200.5,695.8L194.9,698.4L190.0,702.0L184.5,703.0L179.2,704.8L175.0,709.5L169.1,709.4L163.8,711.0L158.2,710.5L153.4,713.7L148.5,716.2L142.8,715.5L138.6,720.7L133.5,722.6L127.4,720.2L123.0,715.1L116.7,719.8L111.9,716.4L106.4,717.3L101.4,715.1L96.6,712.2L91.0,713.0L85.8,712.2L80.2,712.1L76.2,708.3L71.5,705.9L68.6,698.8L61.9,702.0L54.4,700.5L55.1,692.5L51.2,688.1L47.3,683.8L49.3,677.8L47.8,672.6L45.5,667.5L43.1,662.4L44.5,657.5L45.5,652.6L47.8,647.8L46.5,642.5L48.9,638.1L52.5,634.4L56.7,631.2L58.0,626.0L60.8,620.4L65.1,615.6L66.4,609.3L67.7,603.5L73.0,601.0L77.3,597.7L79.6,592.7L83.7,589.0L90.1,589.5L93.5,584.6L95.7,577.7L102.9,579.4L106.3,575.1L112.4,574.3L116.8,571.3L121.1,568.3L122.9,562.0L127.7,559.5L132.6,555.6L137.6,551.8L134.7,542.6L144.9,542.3L144.3,534.7L146.6,530.1L149.5,525.8L150.8,520.8ZM18.5,728.0L21.9,721.8L20.0,715.0L24.0,710.9L27.0,706.0L32.1,704.1L37.0,702.0L43.3,698.7L50.0,701.0L56.1,702.6L62.0,705.0L65.5,709.7L68.0,715.0L67.6,720.0L67.9,725.1L66.6,730.0L66.0,735.0L63.9,739.7L62.3,744.7L58.0,748.0L50.9,750.3L45.0,755.0L38.7,752.7L32.0,753.0L28.7,746.6L22.0,744.0L20.9,738.7L19.1,733.5ZM62.0,712.0L67.4,711.5L73.0,712.0L78.1,708.1L83.9,711.2L89.0,708.2L94.2,705.1L100.0,708.0L104.8,705.9L110.2,708.0L115.1,706.7L119.7,702.8L125.2,706.0L130.0,704.0L135.0,703.6L140.0,704.6L145.0,704.2L149.9,700.8L155.0,703.9L160.0,703.0L164.9,701.3L170.3,705.6L175.1,703.4L180.0,701.5L185.0,701.0L189.8,698.3L195.0,700.1L200.0,699.9L205.0,699.0L210.4,697.1L214.3,705.3L219.9,702.1L225.0,702.0L229.3,706.7L235.5,701.6L239.3,708.5L245.0,706.0L251.2,704.1L256.6,706.6L262.0,709.0L267.1,709.7L272.0,708.1L276.5,702.3L282.0,707.0L288.1,704.9L293.9,709.5L300.0,708.0L304.7,713.5L310.6,712.0L316.6,710.4L322.0,712.0L323.1,718.7L329.6,723.0L330.0,730.0L331.3,735.5L337.4,738.7L337.0,745.0L339.8,750.0L342.8,754.9L343.7,760.9L348.0,765.0L350.4,769.8L349.0,775.9L353.7,779.9L355.0,785.0L352.0,789.6L350.8,794.6L355.2,801.0L350.0,805.0L347.9,810.0L345.9,815.0L345.6,820.6L342.0,825.0L338.3,829.4L337.8,836.1L330.8,838.1L327.5,842.7L325.0,848.0L320.4,850.8L313.3,850.4L312.0,857.4L308.2,861.2L305.2,865.9L300.0,868.0L295.8,871.8L294.1,877.9L286.7,878.9L285.0,885.0L282.9,890.8L278.2,894.8L271.6,897.6L272.0,905.0L266.6,907.3L264.8,912.7L259.5,915.0L258.5,921.1L255.0,925.0L249.8,923.9L245.0,926.3L240.3,929.0L234.9,926.7L229.7,926.3L225.0,929.0L219.8,928.2L214.3,928.3L209.7,925.6L203.5,928.0L199.6,922.8L195.0,920.0L188.8,919.0L187.3,910.2L179.4,912.1L173.3,910.9L170.0,905.0L167.4,899.6L161.7,897.3L158.1,892.9L154.3,888.7L150.0,885.0L147.4,880.7L143.3,877.5L142.7,871.7L138.9,868.3L135.0,865.0L132.0,860.4L130.6,855.1L127.1,850.8L127.6,844.8L125.0,840.0L126.1,834.8L125.4,829.9L124.8,824.9L122.7,820.0L126.0,814.7L122.0,810.0L120.6,805.1L120.1,800.0L118.3,795.1L118.0,790.0L114.9,784.9L111.1,780.3L112.0,772.6L105.0,770.0L100.4,766.5L93.3,767.9L90.0,762.0L84.5,759.5L78.3,757.9L75.0,752.0L69.4,746.8L62.0,745.0L65.0,739.5L61.0,734.0L63.3,728.5L61.5,723.0L62.9,717.5Z"/></clipPath></defs>
<g clip-path="url(#cbig1)"><use href="#big1" filter="url(#bl4)"/></g>
<use href="#big1"/>
<path d="M298 475h0M332 521h0M335 548h0M277 537h0M269 490h0M268 552h0M270 508h0M273 590h0M276 577h0M305 532h0M285 568h0M255 515h0M305 472h0M353 504h0M317 476h0M339 482h0M267 544h0M253 555h0M384 495h0M309 484h0M279 550h0M290 496h0M276 495h0M282 562h0M284 510h0M281 524h0M291 466h0M286 501h0M324 532h0M310 568h0M317 530h0M308 541h0M270 549h0M303 471h0M291 467h0M308 551h0M272 499h0M353 554h0M293 558h0M270 480h0M294 496h0M279 478h0M279 498h0M278 493h0M311 483h0M277 510h0M308 490h0M254 487h0M306 523h0M269 531h0M344 562h0M294 518h0M273 537h0M316 488h0M251 500h0M302 493h0M318 517h0M388 556h0M270 511h0M323 527h0M234 512h0M310 571h0M340 518h0M290 483h0M277 542h0M329 551h0M264 475h0M288 560h0M321 495h0M290 547h0M303 550h0M262 542h0M281 502h0M261 495h0M332 532h0M365 507h0M279 523h0M274 510h0M301 498h0M316 518h0M312 515h0M285 471h0M316 522h0M322 520h0M343 506h0M283 554h0M308 553h0M266 574h0M290 498h0M275 496h0M308 528h0M193 499h0M268 463h0M355 537h0M286 569h0M290 520h0M279 574h0M308 494h0M309 566h0M286 520h0M280 539h0M229 495h0M260 549h0M289 515h0M273 543h0M316 566h0M324 523h0M301 473h0M272 513h0M279 490h0M308 520h0M329 566h0M297 531h0M322 497h0M306 520h0M335 550h0M268 561h0M209 498h0M344 535h0M240 552h0M252 524h0M315 564h0M267 539h0M294 496h0M334 477h0M338 516h0M338 511h0M309 474h0M275 497h0M326 530h0M307 501h0M313 575h0M311 565h0M289 472h0M271 467h0M283 534h0M277 515h0M306 496h0M320 528h0M302 507h0M310 553h0M241 489h0M317 568h0M297 494h0M331 479h0M291 617h0M295 588h0M383 749h0M294 653h0" stroke="#306054" stroke-width="5.2" stroke-linecap="round" stroke-opacity="0.8" fill="none"/>
<path d="M172 696h0M70 730h0M97 760h0M100 739h0M46 720h0M141 795h0M252 719h0M127 736h0M175 717h0M257 710h0M87 744h0M234 731h0M185 728h0M156 751h0M236 710h0M142 727h0M232 718h0M198 732h0M49 730h0M106 757h0M242 728h0M242 719h0M180 740h0M56 742h0M313 734h0M276 745h0M92 754h0M47 704h0M68 717h0M29 748h0M114 776h0M195 742h0M47 743h0M86 742h0M253 720h0M136 732h0M20 739h0M72 739h0M211 716h0M34 721h0M62 734h0M288 716h0M109 704h0M273 711h0M258 742h0M232 732h0M79 745h0M33 747h0M153 721h0M236 704h0M29 714h0M44 739h0M279 723h0M277 734h0M225 714h0M106 697h0M165 693h0M45 714h0M156 716h0M324 698h0" stroke="#f09c6c" stroke-width="5.2" stroke-linecap="round" stroke-opacity="0.8" fill="none"/>
<path d="M232 859h0M187 861h0M341 769h0M386 784h0M231 911h0M259 839h0M346 795h0M259 835h0M259 815h0M255 828h0M188 873h0M345 768h0M252 834h0M234 850h0M190 869h0M203 918h0M280 832h0M197 887h0M268 905h0M283 831h0M331 761h0M230 845h0M244 900h0M196 872h0M233 871h0M193 880h0M238 898h0M264 834h0M239 865h0M316 812h0M280 807h0M330 752h0M277 843h0M263 824h0M286 866h0M188 881h0M291 810h0M220 910h0M217 923h0M217 927h0M242 855h0M191 840h0M249 847h0M229 802h0M234 871h0M221 878h0M284 853h0M230 884h0M237 870h0M226 884h0M286 804h0M217 916h0M345 812h0M213 841h0M297 856h0M233 825h0M275 799h0M191 914h0M228 905h0M272 802h0M198 820h0M263 894h0M164 858h0M290 834h0M201 904h0M258 864h0M222 867h0M267 896h0M255 872h0M308 815h0M302 852h0M261 911h0M306 823h0M346 777h0M259 837h0M207 926h0M185 834h0M277 813h0M284 849h0M347 776h0M232 835h0M253 851h0M265 905h0M248 811h0M207 878h0M183 899h0M206 845h0M243 871h0M275 803h0M339 761h0M225 805h0M242 860h0M223 891h0M231 846h0M205 904h0M261 826h0M219 860h0M190 886h0M258 803h0M216 861h0M327 821h0M255 848h0M271 816h0M343 794h0M341 751h0M280 888h0M267 796h0M286 811h0M227 894h0M255 778h0M181 905h0M275 843h0M225 876h0M264 883h0M202 913h0M249 818h0M220 849h0M307 844h0M191 881h0M230 884h0M282 821h0M280 862h0M299 813h0M206 904h0M346 801h0M209 915h0M237 918h0M245 869h0M251 869h0M215 927h0M279 820h0M287 844h0M346 816h0M317 842h0M290 866h0M269 818h0M240 864h0M273 838h0M252 857h0M231 861h0M269 874h0M275 802h0M189 885h0M281 852h0M241 859h0M190 892h0M236 887h0M201 892h0M276 815h0M206 896h0M253 872h0M240 865h0M264 802h0M191 888h0M257 853h0M264 824h0M273 832h0M337 760h0M259 831h0M281 837h0M191 900h0M274 834h0M285 850h0M209 893h0M302 843h0M261 796h0M340 806h0M169 885h0M278 863h0M212 914h0M241 798h0M249 903h0M232 877h0M198 853h0M245 817h0M249 842h0M254 840h0M270 809h0M197 898h0M242 890h0M283 835h0M222 904h0M350 781h0M243 781h0M287 866h0M269 834h0M334 825h0M306 816h0M258 840h0M223 879h0M249 845h0M231 863h0M252 779h0M258 846h0M253 905h0M277 812h0M222 897h0M250 911h0M256 834h0M268 882h0M336 815h0M232 823h0M270 797h0M321 828h0M331 825h0M184 911h0M331 838h0M310 843h0M242 823h0M250 872h0M256 777h0M207 913h0M207 806h0" stroke="#f0c0d8" stroke-width="5.2" stroke-linecap="round" stroke-opacity="0.8" fill="none"/>
<path d="M67 635h0M67 629h0M49 665h0M144 674h0M79 625h0M134 702h0M75 666h0M189 690h0M80 687h0M192 670h0M122 704h0M132 667h0M65 674h0M196 705h0M85 685h0M161 667h0M77 713h0M160 684h0M111 671h0M380 776h0M128 709h0M116 669h0M30 717h0M157 670h0M69 680h0M120 666h0M108 680h0M179 663h0M38 707h0M69 626h0M137 703h0M103 671h0M56 668h0M260 672h0" stroke="#cc9030" stroke-width="5.2" stroke-linecap="round" stroke-opacity="0.8" fill="none"/>
<path d="M109 670h0M114 699h0M62 646h0M104 649h0M75 638h0M83 641h0M188 665h0M181 681h0M92 697h0M77 658h0M135 686h0M104 690h0M86 660h0M94 650h0M71 654h0M79 601h0M191 684h0M65 650h0M191 691h0M162 652h0M60 644h0M143 661h0M177 681h0M126 681h0M105 632h0M168 670h0M76 629h0M139 666h0M73 628h0M140 681h0M49 659h0M124 640h0M108 685h0M154 678h0M56 645h0M82 645h0M174 661h0M57 654h0M113 657h0M134 652h0M184 686h0M174 676h0M201 679h0M116 662h0M49 647h0M63 637h0M123 686h0M185 655h0M70 648h0M140 662h0M159 681h0M100 636h0M211 676h0M147 664h0M120 602h0M117 655h0M150 637h0M71 658h0M124 685h0" stroke="#b48430" stroke-width="5.2" stroke-linecap="round" stroke-opacity="0.8" fill="none"/>
<path d="M154 795h0M157 779h0M82 741h0M127 856h0M297 736h0M292 713h0M125 827h0M125 803h0M153 818h0M321 718h0M390 769h0M257 735h0M235 744h0M223 763h0M199 729h0M130 752h0M242 736h0M258 768h0M265 713h0M268 753h0M211 717h0M162 815h0M135 708h0M170 721h0M207 750h0M133 805h0M226 763h0M260 742h0M168 761h0M162 724h0M96 743h0M127 708h0M304 719h0M157 830h0M266 723h0M122 765h0M168 809h0M295 735h0M175 730h0M316 723h0M123 771h0M313 750h0M118 755h0M257 718h0M128 744h0M114 747h0M110 762h0M174 750h0M137 845h0M312 720h0M98 753h0M128 800h0M273 714h0M187 754h0M136 765h0M82 741h0M112 761h0M312 713h0M141 824h0M247 724h0M96 765h0M305 725h0M149 763h0M206 745h0M170 837h0M256 742h0M30 739h0M192 718h0M232 724h0M265 729h0M253 730h0M280 724h0M157 727h0M146 806h0M269 743h0M86 751h0M273 712h0M143 851h0M319 716h0M118 761h0M127 753h0M300 731h0M133 840h0M314 740h0M164 754h0M219 760h0M141 803h0M207 789h0M310 722h0M312 741h0M166 763h0M126 808h0M194 785h0M121 776h0M163 748h0M87 741h0M116 751h0M131 786h0M234 748h0M199 735h0M127 785h0M226 753h0M175 752h0M169 828h0M266 756h0M255 757h0M304 757h0M187 750h0M162 777h0M146 750h0M57 738h0M224 774h0M244 741h0M171 848h0M163 748h0M151 783h0M189 751h0M196 757h0M197 724h0M195 777h0M100 757h0M182 752h0M171 818h0M170 754h0M156 749h0M232 750h0M220 735h0M222 786h0M173 777h0M163 759h0M275 731h0M298 727h0M68 723h0M230 729h0M132 743h0M78 717h0M202 736h0M159 793h0M150 841h0M228 755h0M119 768h0M216 751h0M291 716h0M153 787h0M167 804h0M269 756h0M140 841h0M87 753h0M180 778h0M114 759h0M175 783h0M156 758h0M166 770h0M111 766h0M126 731h0M133 742h0M279 751h0M186 795h0M390 790h0M101 768h0M230 728h0M297 757h0M273 733h0M192 781h0M133 827h0M118 749h0M112 763h0M305 719h0M248 736h0M231 767h0M165 806h0M161 801h0M125 767h0M139 858h0M132 777h0M119 754h0M196 718h0M292 746h0M144 784h0M252 729h0M141 740h0M196 788h0M263 755h0M223 754h0M135 747h0M211 825h0M190 730h0M286 726h0M209 776h0M165 776h0M190 743h0M222 728h0M89 756h0M140 765h0M300 721h0M295 735h0M140 756h0M161 809h0M302 730h0M183 794h0M121 775h0M147 790h0M289 732h0M202 746h0M146 809h0M97 742h0M273 719h0M128 751h0M30 739h0M130 743h0M130 784h0M183 773h0M299 714h0M170 822h0M317 684h0M336 713h0M285 680h0M390 742h0" stroke="#f0a884" stroke-width="5.2" stroke-linecap="round" stroke-opacity="0.8" fill="none"/>
<path d="M300 485h0M400 522h0M333 535h0M397 512h0M417 553h0M362 485h0M310 531h0M329 584h0M326 534h0M367 522h0M378 614h0M330 584h0M374 553h0M342 543h0M385 544h0M398 785h0M361 525h0M363 584h0M392 510h0M403 503h0M328 540h0M350 574h0M361 536h0M375 540h0M318 576h0M337 555h0M343 522h0M372 606h0M381 526h0M424 528h0M343 538h0M365 516h0M356 482h0M353 513h0M399 509h0M364 569h0M320 542h0M376 560h0M354 591h0M370 531h0M389 630h0M378 526h0M364 502h0M382 510h0M344 586h0M350 587h0M334 562h0M378 560h0M374 551h0M339 561h0M359 494h0M389 533h0M383 498h0M366 486h0M381 506h0M336 539h0M319 512h0M416 565h0M421 539h0M347 511h0M335 521h0M429 534h0M377 507h0M349 576h0M370 523h0M364 508h0M329 546h0M280 466h0M349 567h0M346 482h0M371 540h0M390 529h0M394 530h0M354 561h0M441 552h0M385 562h0M378 565h0M305 543h0M390 506h0M412 581h0M316 522h0M362 533h0M343 552h0M364 535h0M334 569h0M299 504h0M407 550h0M428 544h0M335 589h0M448 577h0M337 561h0M314 520h0M359 601h0M375 591h0M362 518h0M409 559h0M391 551h0M389 542h0M400 595h0M362 576h0M368 553h0M365 531h0M333 531h0M387 527h0M370 563h0M340 571h0M392 595h0M414 571h0M369 587h0M313 523h0M356 506h0M355 542h0M368 524h0M409 528h0M369 541h0M364 509h0M429 555h0M361 490h0M398 521h0M372 523h0M329 510h0M341 559h0M331 495h0M342 578h0M333 512h0M335 554h0M376 546h0M405 527h0M336 579h0M425 536h0M310 582h0M372 543h0M378 554h0M390 527h0M403 519h0M363 499h0M405 536h0M344 587h0M351 527h0M386 588h0M377 508h0M340 553h0M352 532h0M416 512h0M418 525h0M399 565h0M377 568h0M397 508h0M426 550h0M331 531h0M367 492h0M353 511h0M385 535h0M376 605h0M379 512h0M371 556h0M327 494h0M345 541h0M346 540h0M391 525h0M387 527h0M366 592h0M309 569h0M301 487h0M393 523h0M421 581h0M430 549h0M307 533h0M338 593h0M371 561h0M388 576h0M366 536h0M331 506h0M393 513h0M349 525h0M331 506h0M367 541h0M385 513h0M377 515h0M346 542h0M397 534h0M356 570h0M395 510h0M367 500h0M337 527h0M361 483h0M322 579h0M308 551h0M353 545h0M413 598h0M332 600h0M348 656h0M324 637h0M349 649h0M366 704h0M358 657h0M363 678h0" stroke="#185454" stroke-width="5.2" stroke-linecap="round" stroke-opacity="0.8" fill="none"/>
<path d="M78 595h0M158 582h0M141 600h0M159 532h0M211 656h0M162 606h0M100 610h0M173 604h0M146 595h0M160 600h0M165 616h0M215 651h0M204 633h0M173 588h0M244 639h0M189 568h0M239 638h0M177 549h0M230 642h0M170 580h0M236 650h0M139 555h0M163 544h0M156 577h0M114 597h0M185 636h0M139 590h0M147 564h0M178 514h0M145 563h0M210 629h0M157 531h0M217 676h0M138 644h0M195 638h0M168 628h0M178 628h0M178 611h0M196 643h0M137 655h0M136 582h0M189 568h0M126 611h0M188 618h0M216 645h0M166 640h0M124 612h0M235 649h0M223 671h0M127 580h0M74 636h0M185 598h0M205 677h0M200 665h0M193 623h0M161 561h0M128 564h0M167 605h0M205 592h0M150 587h0M208 670h0M137 576h0M154 653h0M135 597h0M122 587h0M193 591h0M180 570h0M192 576h0M183 585h0M115 595h0M127 586h0M220 643h0M232 653h0M202 567h0M120 604h0M222 648h0M195 646h0M73 620h0M159 610h0M124 590h0M198 586h0M169 597h0M167 562h0M190 666h0M220 615h0M139 601h0M151 556h0M167 592h0M199 612h0M120 567h0M232 668h0M152 603h0" stroke="#847824" stroke-width="5.2" stroke-linecap="round" stroke-opacity="0.8" fill="none"/>
<path d="M175 617h0M167 611h0M122 584h0M183 578h0M180 642h0M184 587h0M164 567h0M214 645h0M188 643h0M162 589h0M160 646h0M216 658h0M195 647h0M169 591h0M133 620h0M148 629h0M204 621h0M237 636h0M214 609h0M172 588h0M184 610h0M152 584h0M152 629h0M208 612h0M220 653h0M151 607h0M131 600h0M153 629h0M206 635h0M114 594h0M138 602h0M126 581h0M150 541h0" stroke="#787824" stroke-width="5.2" stroke-linecap="round" stroke-opacity="0.8" fill="none"/>
<path d="M268 490h0M242 490h0M323 543h0M241 503h0M252 524h0M292 536h0M249 531h0M293 569h0M325 556h0M306 557h0M288 541h0M240 477h0M220 520h0M240 562h0M215 552h0M260 567h0M277 590h0M288 527h0M267 554h0M278 524h0M278 551h0M269 566h0M255 491h0M277 474h0M295 515h0M265 501h0M263 588h0M258 522h0M279 573h0M233 575h0M235 511h0M287 512h0M272 566h0M285 461h0M253 506h0M278 467h0M274 518h0M279 485h0M272 561h0M267 557h0M247 547h0M251 590h0M277 566h0M262 563h0M283 490h0M271 523h0M279 561h0M268 490h0M305 516h0M246 500h0M272 561h0M240 507h0M248 495h0M270 577h0M251 556h0M289 552h0M288 567h0M270 550h0M220 589h0M296 479h0M261 559h0M243 569h0M242 474h0M327 510h0M259 564h0M262 562h0M260 500h0M298 549h0M248 470h0M235 479h0M293 487h0M294 524h0M244 614h0M268 559h0M394 752h0M280 548h0M295 496h0M282 529h0M276 466h0M299 516h0M311 496h0M281 584h0M260 562h0M295 551h0M302 490h0M249 578h0M300 486h0M290 576h0M232 576h0M243 588h0M278 529h0M268 546h0M282 477h0M273 485h0M275 476h0M268 494h0M225 536h0M272 568h0M283 501h0M230 480h0M296 532h0M243 546h0M223 634h0M239 477h0M230 579h0M279 475h0M285 566h0M251 510h0M233 497h0M232 584h0M231 547h0M249 496h0M237 555h0M284 566h0M256 574h0M317 467h0M223 530h0M291 501h0M273 507h0M262 485h0M270 552h0M264 501h0M230 539h0M272 487h0M235 491h0M205 509h0M231 495h0M215 500h0M266 548h0M330 531h0M296 513h0M250 492h0M286 550h0M301 620h0M303 600h0M293 627h0" stroke="#3c6c48" stroke-width="5.2" stroke-linecap="round" stroke-opacity="0.8" fill="none"/>
<path d="M180 638h0M173 607h0M117 617h0M94 601h0M181 641h0M109 602h0" stroke="#848424" stroke-width="5.2" stroke-linecap="round" stroke-opacity="0.8" fill="none"/>
<path d="M326 512h0M313 521h0M381 494h0M332 569h0M366 484h0M313 529h0M319 576h0M325 475h0M374 495h0M337 558h0M339 545h0M357 494h0M376 530h0M339 499h0M332 539h0M370 588h0M340 482h0M282 503h0M311 579h0M332 564h0M386 538h0M333 567h0M350 567h0M412 529h0M390 537h0M299 541h0M296 533h0M411 520h0M379 541h0M277 551h0M341 525h0M334 539h0M344 512h0M329 513h0M344 520h0M302 493h0M309 551h0M329 538h0M315 475h0M351 484h0M318 567h0M327 552h0M401 775h0M290 531h0M271 485h0M337 510h0M264 519h0M337 498h0M341 578h0M317 535h0M408 511h0M358 576h0M297 501h0M403 561h0M318 502h0M354 525h0M363 564h0M306 559h0M336 528h0M342 581h0M350 574h0M339 580h0M377 525h0M331 525h0M393 518h0M384 507h0M391 518h0M356 582h0M372 487h0M345 564h0M325 551h0M354 485h0M322 474h0M326 539h0M326 517h0M361 524h0M349 587h0M382 576h0M327 524h0M267 529h0M329 478h0M301 559h0M345 524h0M371 585h0M295 549h0M335 514h0M327 481h0M340 564h0M375 591h0M341 525h0M320 514h0M357 576h0M347 528h0M366 556h0M363 523h0M355 577h0M309 478h0M297 550h0M327 536h0M356 535h0M329 565h0M339 558h0M333 552h0M341 566h0M336 487h0M353 588h0M400 547h0M318 500h0M291 514h0M381 510h0M353 504h0M319 605h0" stroke="#245454" stroke-width="5.2" stroke-linecap="round" stroke-opacity="0.8" fill="none"/>
<path d="M138 557h0M177 623h0M228 649h0M161 518h0M243 640h0M193 637h0M161 603h0M162 579h0M169 569h0M115 575h0M148 588h0M159 581h0M192 632h0M162 569h0M202 611h0M222 608h0M216 648h0M198 648h0M121 579h0M202 620h0M168 523h0M159 580h0M203 613h0M154 618h0M147 618h0M147 536h0M157 550h0M167 603h0M231 645h0M234 652h0M162 597h0M212 633h0M140 568h0M160 571h0M179 593h0M199 600h0M220 628h0M141 565h0M149 588h0M196 587h0M165 599h0M169 552h0M154 547h0M142 596h0M207 618h0M178 584h0M184 597h0M168 593h0M189 590h0M161 547h0M184 527h0M109 579h0M207 591h0M115 585h0M151 597h0M219 642h0M202 637h0M232 630h0M251 634h0M177 561h0M219 658h0M109 589h0M207 511h0M142 640h0M123 574h0M176 557h0M220 662h0M206 594h0M203 651h0M160 562h0M202 550h0M224 641h0M241 647h0M187 561h0M214 623h0M171 586h0M167 629h0M173 549h0M163 550h0M290 674h0" stroke="#787830" stroke-width="5.2" stroke-linecap="round" stroke-opacity="0.8" fill="none"/>
<path d="M208 907h0M301 735h0M160 863h0M219 766h0M266 759h0M159 785h0M172 846h0M217 827h0M174 820h0M152 775h0M210 816h0M268 776h0M172 832h0M174 800h0M219 803h0M163 883h0M270 753h0M171 849h0M160 860h0M160 878h0M257 777h0M156 800h0M266 814h0M202 839h0M170 834h0M192 880h0M145 855h0M193 859h0M210 778h0M192 826h0M328 740h0M206 817h0M170 889h0M246 804h0M153 849h0M202 804h0M171 771h0M174 894h0M248 778h0M197 840h0M213 822h0M232 762h0M183 865h0M182 867h0M163 876h0M204 845h0M217 789h0M192 852h0M220 748h0M223 811h0M264 785h0M268 758h0M245 781h0M220 790h0M174 859h0M188 845h0M239 792h0M131 738h0M189 779h0M192 836h0M206 854h0M214 804h0M265 777h0M168 843h0M216 792h0M228 812h0M190 830h0M330 751h0M172 845h0M221 826h0M251 806h0M203 753h0M130 743h0M184 808h0M246 775h0M163 780h0M200 770h0M177 856h0M136 842h0M179 820h0M287 745h0M194 820h0M132 841h0M251 798h0M172 783h0M262 775h0M215 836h0M230 817h0M172 859h0M333 745h0M242 813h0M174 858h0M182 843h0M216 863h0M170 838h0M187 777h0M276 716h0M184 878h0M233 758h0M219 844h0M244 845h0M182 805h0M231 774h0M188 796h0M198 842h0M192 877h0M245 805h0M241 784h0M213 847h0M166 867h0M214 784h0M186 895h0M195 829h0M221 746h0M215 785h0M130 818h0M164 869h0M209 883h0M203 855h0M263 762h0M255 789h0M290 738h0M201 838h0M195 834h0M178 871h0M167 855h0M165 849h0M322 751h0M231 813h0M205 821h0M326 760h0M156 844h0M200 832h0M172 772h0M218 797h0M118 752h0M310 713h0M260 791h0M179 911h0M176 830h0M154 847h0M319 754h0M308 710h0M361 765h0M361 749h0" stroke="#f0b4b4" stroke-width="5.2" stroke-linecap="round" stroke-opacity="0.8" fill="none"/>
<path d="M88 724h0M144 695h0M37 709h0M110 731h0M149 700h0M168 731h0" stroke="#d89054" stroke-width="5.2" stroke-linecap="round" stroke-opacity="0.8" fill="none"/>
<path d="M185 673h0M134 680h0M80 685h0M144 695h0M84 654h0M133 672h0M127 691h0M52 672h0M96 625h0M101 662h0M84 613h0M111 665h0M117 657h0M140 673h0M179 704h0M173 685h0M95 699h0M116 683h0M110 684h0M72 692h0M66 642h0M151 679h0M192 706h0M173 704h0M79 701h0M157 668h0M56 650h0M77 643h0M60 632h0M200 693h0M169 676h0M399 768h0M163 665h0M87 646h0M37 715h0M94 715h0M131 647h0M108 658h0M61 660h0M115 648h0M128 667h0M88 652h0M88 649h0M173 668h0M77 658h0M64 643h0M127 612h0M148 679h0M109 636h0M47 657h0M161 683h0M63 662h0M185 695h0M123 692h0M51 650h0M119 664h0M186 705h0M76 691h0M52 657h0M66 671h0M68 680h0M29 709h0M93 675h0M136 669h0M125 696h0M131 648h0M94 675h0M151 673h0M178 693h0M104 661h0M103 671h0M127 681h0M126 691h0M67 628h0M196 695h0M64 630h0M77 634h0M170 610h0M175 721h0M111 683h0M158 651h0M119 704h0M156 677h0M71 686h0M71 661h0M115 646h0M88 618h0M45 655h0M250 690h0" stroke="#c09030" stroke-width="5.2" stroke-linecap="round" stroke-opacity="0.8" fill="none"/>
<path d="M235 476h0M247 553h0M243 520h0M176 500h0M235 610h0M255 565h0M263 578h0M235 571h0M224 534h0M257 569h0M226 525h0M226 585h0M264 576h0M273 521h0M267 540h0M269 501h0M256 572h0M245 553h0M251 586h0M264 475h0M229 540h0M215 519h0M253 502h0M257 499h0M236 564h0M288 471h0M280 513h0M227 485h0M266 508h0M264 507h0M263 493h0M253 520h0M273 548h0M227 495h0M285 501h0M232 510h0M216 501h0M229 515h0M237 570h0M231 555h0M259 555h0M255 593h0M250 547h0M231 550h0M258 594h0M268 596h0M258 605h0M250 510h0M197 488h0M203 504h0M264 602h0M220 498h0M232 611h0M230 486h0M242 523h0M252 535h0M214 506h0M262 571h0M265 552h0M264 587h0M241 473h0M258 477h0M243 537h0M253 477h0M253 533h0M210 550h0M236 549h0M264 563h0M238 499h0M209 485h0M239 573h0M210 492h0M245 525h0M201 546h0M242 595h0M216 538h0M264 512h0M194 573h0M250 521h0M394 786h0M253 524h0M220 534h0M263 584h0M226 586h0M266 495h0M243 581h0M218 572h0M200 562h0M203 569h0M206 493h0M226 589h0M228 557h0M227 484h0M210 483h0M255 602h0M210 493h0M243 578h0M178 531h0M251 559h0M231 553h0M257 497h0M246 521h0M225 588h0M214 533h0M251 577h0M240 514h0M234 503h0M238 565h0M285 484h0M280 579h0M204 487h0M230 555h0M273 560h0M250 556h0M277 537h0M270 591h0M296 556h0M226 586h0M277 508h0M232 486h0M221 484h0M197 528h0M238 542h0M244 533h0M276 499h0M258 506h0M226 495h0M227 557h0M286 550h0M212 513h0M207 498h0M256 567h0M250 498h0M235 489h0M253 503h0M215 514h0M272 550h0M264 551h0M258 515h0M211 545h0M248 484h0M252 506h0M248 556h0M233 481h0M198 525h0M222 508h0M228 609h0M280 557h0M247 504h0M272 487h0M259 618h0M235 541h0M258 568h0M259 582h0M254 545h0M300 519h0M262 587h0M207 489h0M222 508h0M251 506h0M279 470h0M235 487h0M262 578h0M273 492h0M406 769h0M273 527h0M244 519h0M254 482h0M264 502h0M244 547h0M216 513h0M236 644h0M226 554h0M245 601h0M259 606h0M283 580h0M286 514h0M239 522h0M209 496h0M229 605h0M238 476h0M234 471h0M250 614h0M252 477h0M255 539h0M240 491h0M250 465h0M251 626h0M221 572h0M249 516h0M261 533h0M232 565h0M254 555h0M262 586h0M292 667h0" stroke="#486c48" stroke-width="5.2" stroke-linecap="round" stroke-opacity="0.8" fill="none"/>
<path d="M335 765h0M212 895h0M199 789h0M242 823h0M167 843h0M240 762h0M255 806h0M245 831h0M245 858h0M172 878h0M250 814h0M222 796h0M244 771h0M196 827h0M163 875h0M157 889h0M287 831h0M182 836h0M192 787h0M229 912h0M190 841h0M192 855h0M231 845h0M268 784h0M226 843h0M278 806h0M266 834h0M279 821h0M244 820h0M300 822h0M208 851h0M253 796h0M296 811h0M171 858h0M168 851h0M251 820h0M270 806h0M210 881h0M230 804h0M329 761h0M329 756h0M320 745h0M175 895h0M327 759h0M232 883h0M269 795h0M204 859h0M261 819h0M185 882h0M227 833h0M217 908h0M175 907h0M234 825h0M230 790h0M249 776h0M306 812h0M151 863h0M240 897h0M209 856h0M197 920h0M156 880h0M248 793h0M183 850h0M177 873h0M247 841h0M350 758h0" stroke="#f0b4cc" stroke-width="5.2" stroke-linecap="round" stroke-opacity="0.8" fill="none"/>
<path d="M151 733h0M180 834h0M266 728h0M134 815h0M170 836h0M228 774h0M289 738h0M282 705h0M147 757h0M255 740h0M180 816h0M212 752h0M156 767h0M162 785h0M108 757h0M176 766h0M89 751h0M300 717h0M117 771h0M254 732h0M166 812h0M201 731h0M269 759h0M159 773h0M192 839h0M202 768h0M174 802h0M81 752h0M263 760h0M136 810h0M151 825h0M383 773h0M306 718h0M160 802h0M178 757h0M193 801h0M148 769h0M244 764h0M118 800h0M218 815h0M217 748h0M302 724h0M270 726h0M134 838h0M136 768h0M185 815h0M306 719h0M234 744h0M158 825h0M241 751h0M162 774h0M235 745h0M138 816h0M125 790h0M140 790h0M167 801h0M158 756h0M315 722h0M187 806h0M287 729h0M152 828h0M173 740h0M190 776h0M201 765h0M160 825h0M145 827h0M130 763h0M278 742h0M161 790h0M132 832h0M270 726h0M193 772h0M175 787h0M112 752h0M134 849h0M180 758h0M217 770h0M201 751h0M303 719h0M192 822h0M259 733h0M217 784h0M190 752h0M258 721h0M269 735h0M151 758h0M183 835h0M146 762h0M249 739h0M314 730h0M149 784h0M137 783h0M287 752h0M321 739h0M305 726h0M179 822h0M147 803h0M77 726h0M183 779h0M176 768h0M144 736h0M154 797h0M238 757h0M209 747h0M149 772h0M223 756h0M278 727h0M205 784h0M187 809h0M121 787h0M152 748h0M281 735h0M158 834h0M105 754h0M247 761h0M162 798h0M228 763h0M132 786h0M315 730h0M216 723h0M185 717h0M173 774h0M198 749h0M96 767h0M165 826h0M163 810h0M252 789h0M162 768h0M169 856h0M194 760h0M203 794h0M159 786h0M251 725h0M270 770h0M130 800h0M161 838h0M176 741h0M110 774h0M168 863h0M316 728h0M129 814h0M320 728h0M136 826h0M241 761h0M48 748h0M296 758h0M172 756h0M246 778h0M170 791h0M167 743h0M249 742h0M183 788h0M73 746h0M260 713h0M305 721h0M238 751h0M118 757h0M304 717h0M152 843h0M262 748h0M166 834h0M126 800h0M287 740h0M144 874h0M155 777h0M153 784h0M164 804h0M196 819h0M227 735h0M162 839h0M136 843h0M132 818h0M84 742h0M252 748h0M299 738h0M160 760h0M189 775h0M292 755h0M134 810h0M310 726h0M207 725h0M156 737h0M151 788h0M191 859h0M89 721h0M152 776h0M253 748h0M295 746h0M273 721h0M130 738h0M155 820h0M222 749h0M154 816h0M115 732h0M178 799h0M277 743h0M250 828h0M153 878h0M177 759h0M132 853h0M330 693h0M300 687h0M350 684h0M322 707h0" stroke="#f0a890" stroke-width="5.2" stroke-linecap="round" stroke-opacity="0.8" fill="none"/>
<path d="M191 755h0M89 703h0M70 693h0M99 716h0M189 741h0M106 682h0M218 710h0M126 691h0M127 705h0M73 678h0M112 686h0M154 706h0M161 734h0M109 715h0M202 676h0M111 712h0M186 715h0M214 728h0M50 705h0M164 678h0M165 701h0M123 709h0M96 658h0M49 674h0M149 743h0M209 704h0M92 691h0M119 719h0M102 698h0M52 714h0M108 680h0M49 746h0M180 694h0M33 741h0M131 720h0M75 680h0M194 710h0M118 701h0M138 710h0M215 726h0M89 677h0M147 722h0M146 706h0M107 733h0M148 744h0M98 718h0M121 709h0M192 707h0M137 711h0M163 712h0M166 689h0M233 732h0M208 714h0M78 726h0M209 707h0M124 705h0M157 727h0M194 689h0M158 736h0M127 738h0M101 725h0M114 702h0M102 710h0M66 729h0M115 707h0M81 695h0M161 696h0M136 707h0M157 711h0M191 701h0M70 721h0M79 737h0M183 704h0M207 704h0M156 680h0M140 708h0M145 712h0M79 729h0M116 681h0M67 680h0M119 666h0M89 725h0M94 690h0M147 697h0M151 718h0M131 699h0" stroke="#d89048" stroke-width="5.2" stroke-linecap="round" stroke-opacity="0.8" fill="none"/>
<path d="M312 732h0M122 793h0M158 841h0M295 751h0M243 755h0M178 862h0M208 778h0M193 845h0M186 808h0M186 778h0M313 750h0M216 772h0M134 845h0M251 781h0M193 806h0M242 818h0M192 851h0M192 839h0M299 715h0M185 842h0M140 794h0M303 756h0M180 789h0M154 876h0M142 852h0M318 719h0M205 824h0M309 721h0M331 745h0M246 776h0M266 758h0M172 852h0M321 750h0M215 810h0M202 775h0M239 779h0M135 794h0M181 788h0M182 835h0M186 813h0M141 861h0M153 780h0M135 851h0M200 752h0M166 845h0M208 786h0M185 803h0M137 755h0M142 856h0M213 851h0M285 718h0M207 854h0M146 786h0M173 796h0M200 818h0M174 780h0M116 779h0M142 842h0M244 839h0M197 777h0M195 833h0M287 740h0M146 766h0M143 858h0M186 806h0M262 766h0M198 859h0M239 767h0M202 773h0M125 781h0M141 789h0M221 750h0M130 824h0M155 765h0M333 740h0M181 762h0M185 804h0M145 779h0M123 772h0M227 826h0M140 813h0M199 840h0M304 715h0M206 815h0M299 727h0M300 708h0M210 815h0M221 777h0M157 787h0M288 745h0M210 799h0M128 803h0M182 735h0M199 742h0M310 746h0M312 717h0M252 764h0M130 797h0M169 801h0M161 764h0M249 784h0M178 839h0M218 757h0M174 850h0M318 720h0M172 769h0M190 805h0M223 744h0M150 849h0M215 791h0M208 755h0M229 773h0M154 794h0M200 774h0M148 834h0M266 736h0M144 755h0M278 713h0M157 762h0M221 753h0M208 769h0M116 769h0M124 809h0M308 729h0M155 792h0M231 813h0M328 738h0M296 740h0M312 754h0M259 733h0M153 811h0M210 771h0M242 757h0M190 791h0M243 759h0M242 751h0M170 845h0M137 837h0M108 773h0M238 777h0M217 795h0M293 717h0M156 805h0M183 850h0M203 779h0M183 760h0M162 878h0M235 749h0M237 775h0M329 739h0M213 835h0M186 847h0M178 833h0M161 795h0M192 770h0M243 770h0M141 784h0M271 714h0M285 749h0M192 779h0M129 789h0M302 735h0M338 744h0M191 823h0M338 716h0" stroke="#f0a89c" stroke-width="5.2" stroke-linecap="round" stroke-opacity="0.8" fill="none"/>
<path d="M153 645h0M150 637h0M205 658h0M71 607h0M183 629h0M163 668h0M108 664h0M183 630h0M196 619h0M126 651h0M163 595h0M169 610h0M165 641h0M129 623h0M113 626h0M91 593h0M134 583h0M144 615h0M169 661h0M203 657h0M164 650h0M164 580h0M92 603h0M191 632h0M159 631h0M98 599h0M217 650h0M116 587h0M69 640h0M128 578h0M92 623h0M192 644h0M154 639h0M195 623h0M144 629h0M176 675h0M102 625h0M205 673h0M109 605h0M201 671h0M222 664h0M216 671h0M125 604h0M143 591h0M124 583h0M133 617h0M138 626h0M222 660h0M151 601h0M88 621h0M161 594h0M77 601h0M123 609h0M153 658h0M91 594h0M209 683h0M125 566h0M90 632h0M121 639h0M141 647h0M90 636h0M105 612h0M127 596h0M106 615h0M182 628h0M180 640h0M151 655h0M107 583h0M91 589h0M205 641h0M158 626h0M189 672h0M208 639h0M131 578h0M82 612h0M118 587h0M106 634h0M193 654h0M166 606h0M137 667h0M129 619h0M222 642h0M165 636h0M141 625h0M96 632h0M114 583h0M101 608h0M186 673h0M93 650h0M146 640h0M161 629h0M197 681h0M119 621h0M213 653h0M231 652h0M142 613h0M148 636h0M163 639h0M129 649h0M138 567h0M285 660h0M264 680h0" stroke="#9c8424" stroke-width="5.2" stroke-linecap="round" stroke-opacity="0.8" fill="none"/>
<path d="M359 569h0M365 542h0M383 550h0M362 545h0M347 540h0M375 590h0M379 619h0M371 516h0M404 560h0M391 547h0M387 610h0M377 552h0M410 528h0M419 589h0M366 562h0M383 551h0M397 565h0M387 502h0M381 589h0M432 545h0M395 579h0M379 591h0M396 515h0M441 531h0M383 543h0M413 525h0M432 523h0M447 578h0M395 509h0M387 511h0M368 491h0M352 597h0M390 759h0M338 594h0M394 544h0M362 559h0M393 546h0M364 570h0M378 580h0M351 491h0M389 505h0M369 521h0M402 522h0M388 517h0M413 577h0M351 576h0M385 516h0M385 572h0M370 581h0M377 511h0M438 555h0M402 539h0M381 525h0M427 610h0M345 545h0M366 523h0M401 524h0M416 553h0M347 499h0M365 540h0M381 571h0M411 524h0M393 516h0M386 602h0M427 546h0M385 492h0M422 565h0M444 547h0M437 539h0M359 595h0M398 516h0M418 564h0M375 517h0M351 507h0M358 529h0M372 531h0M371 569h0M331 644h0" stroke="#184854" stroke-width="5.2" stroke-linecap="round" stroke-opacity="0.8" fill="none"/>
<path d="M161 730h0M184 749h0M277 734h0M129 755h0M88 735h0M134 797h0M21 721h0M263 751h0M140 709h0M153 826h0M323 716h0M143 751h0M239 713h0M244 710h0M205 752h0M84 726h0M222 721h0M163 736h0M104 745h0M54 732h0M108 702h0M44 708h0M134 826h0M132 812h0M258 739h0M126 758h0M168 760h0M192 751h0M171 701h0M104 750h0M45 685h0M301 726h0M255 739h0M26 727h0M291 740h0M128 734h0M123 760h0M185 742h0M97 740h0M285 733h0M139 782h0M92 718h0M160 778h0M182 731h0M290 731h0M134 769h0M163 758h0M161 709h0M208 721h0M129 834h0M26 732h0M294 721h0M85 747h0M172 722h0M246 749h0M173 805h0M182 704h0M127 802h0M192 714h0M135 755h0M106 737h0M218 759h0M114 749h0M143 683h0M57 743h0M152 782h0M117 746h0M51 741h0M111 745h0M103 723h0M150 787h0M237 723h0M176 775h0M48 748h0M56 705h0M30 727h0M271 700h0M325 691h0M273 691h0" stroke="#f0a878" stroke-width="5.2" stroke-linecap="round" stroke-opacity="0.8" fill="none"/>
<path d="M180 906h0M315 755h0M201 879h0M150 872h0M252 805h0M237 777h0M194 848h0M229 764h0M271 796h0M383 772h0M210 754h0M231 837h0M218 788h0M274 806h0M181 837h0M246 763h0M249 784h0M212 789h0M215 839h0M187 819h0M201 860h0M197 822h0M203 845h0M225 804h0M189 889h0M250 836h0M204 816h0M163 817h0M235 828h0M203 853h0M177 843h0M216 830h0M264 806h0M206 912h0M210 817h0M351 767h0M285 860h0M181 858h0M179 895h0M312 758h0M270 756h0M209 799h0M141 853h0M226 791h0M236 801h0M208 795h0M192 867h0M198 863h0M224 770h0M242 831h0M176 897h0M190 849h0M254 795h0M173 871h0M261 797h0M336 750h0M198 829h0M234 823h0M183 901h0M149 828h0M193 856h0M251 825h0M178 842h0M202 870h0M183 884h0M182 857h0M199 783h0M324 754h0M244 762h0M201 881h0M140 856h0M186 818h0M323 760h0M227 844h0M254 840h0M223 851h0M273 809h0M178 885h0M218 742h0M190 839h0M185 846h0M194 876h0M244 818h0M228 807h0M330 739h0M190 877h0M173 860h0M190 904h0M150 879h0M233 764h0M266 837h0M189 855h0M201 858h0M201 783h0M199 829h0M163 887h0M237 762h0M189 858h0M253 784h0M271 817h0M216 830h0M252 768h0M165 881h0M197 884h0M200 871h0M225 802h0M204 864h0M162 823h0M236 846h0M161 887h0M181 855h0M181 894h0M254 831h0M237 786h0M285 800h0M190 841h0M160 862h0M210 826h0M231 806h0M156 867h0M209 800h0M192 915h0M178 825h0M223 819h0M223 813h0M195 820h0M240 782h0M251 763h0M248 813h0M299 802h0M270 764h0M241 779h0M169 861h0M225 808h0M220 819h0M166 857h0M201 833h0M154 870h0M186 797h0M259 765h0M238 815h0M330 754h0M224 847h0M207 858h0M245 822h0M211 878h0M265 755h0M157 855h0M220 816h0M290 838h0M234 829h0M225 860h0" stroke="#f0b4c0" stroke-width="5.2" stroke-linecap="round" stroke-opacity="0.8" fill="none"/>
<path d="M220 489h0M300 468h0M269 518h0M287 567h0M290 541h0M216 485h0M271 589h0M296 549h0M281 497h0M294 472h0M318 498h0M341 554h0M260 591h0M269 486h0M287 522h0M295 529h0M299 562h0M306 544h0M297 481h0M288 481h0M250 511h0M306 488h0M280 512h0M247 488h0M278 570h0M251 477h0M315 534h0M259 516h0M255 533h0M274 488h0M285 492h0M279 475h0M261 495h0M267 531h0M276 468h0M268 479h0M275 542h0M298 513h0M397 769h0M301 497h0M278 564h0M289 572h0M328 547h0M236 512h0M279 511h0M274 491h0" stroke="#3c6c54" stroke-width="5.2" stroke-linecap="round" stroke-opacity="0.8" fill="none"/>
<path d="M427 533h0M437 579h0M340 536h0M448 546h0M381 532h0M404 567h0M377 587h0M374 552h0M385 592h0M436 531h0M410 567h0M382 606h0M374 563h0M441 550h0M383 532h0M446 588h0M432 587h0M415 571h0M417 524h0M436 566h0M399 547h0M457 553h0M389 623h0M463 579h0M424 552h0M404 549h0M349 523h0M374 604h0M400 589h0M417 566h0M445 602h0M447 532h0M409 650h0M417 615h0M417 550h0M371 565h0M395 537h0M409 565h0M379 601h0M388 620h0M419 562h0M390 502h0M380 616h0M424 554h0M446 605h0M435 531h0M417 595h0M415 517h0M416 606h0M359 553h0M394 643h0M375 600h0M367 527h0M413 560h0M361 551h0M463 620h0M397 754h0M377 599h0M396 760h0M398 638h0M414 592h0M408 593h0M407 598h0M362 565h0M376 586h0M406 539h0M367 551h0M358 517h0M409 505h0M339 544h0M412 576h0M368 586h0M410 525h0M429 571h0M415 565h0M406 594h0M400 575h0M392 549h0M380 508h0M390 526h0M427 563h0M441 544h0M401 563h0M330 503h0M462 585h0M459 569h0M425 539h0M408 548h0M416 560h0M372 507h0M465 596h0M401 564h0M378 587h0M352 565h0M381 511h0M425 584h0M443 622h0M402 569h0M378 525h0M414 556h0M394 576h0M397 578h0M390 604h0M401 574h0M416 511h0M441 589h0M377 516h0M439 579h0M389 553h0M416 592h0M447 599h0M407 517h0M429 597h0M484 605h0M430 524h0M427 554h0M390 530h0M446 541h0M478 603h0M377 510h0M448 550h0M427 550h0M387 572h0M458 564h0M409 575h0M412 597h0M374 539h0M463 574h0M435 542h0M370 494h0M404 576h0M446 536h0M432 542h0M411 594h0M369 541h0M389 511h0M463 631h0M448 614h0M454 608h0M360 564h0M408 611h0M431 595h0M381 599h0M376 577h0M461 564h0M456 549h0M396 583h0M425 532h0M372 606h0M396 583h0M397 596h0M374 495h0M419 575h0M392 572h0M391 618h0M375 581h0M342 590h0M446 572h0M460 579h0M474 588h0M402 596h0M464 591h0M400 633h0M377 554h0M408 572h0M377 571h0M371 547h0M398 759h0M462 632h0M369 535h0M412 610h0M346 551h0M365 580h0M368 596h0M448 544h0M442 541h0M377 610h0M401 533h0M414 540h0M397 598h0M434 567h0M427 547h0M407 562h0M371 536h0M399 528h0M389 614h0M484 603h0M441 553h0M397 593h0M449 543h0M401 602h0M437 543h0M418 563h0M384 546h0M404 580h0M440 546h0M429 524h0M357 498h0M387 539h0M385 601h0M389 504h0M368 593h0M406 614h0M375 552h0M458 559h0M439 548h0M412 567h0M399 578h0M427 650h0M422 532h0M464 595h0M403 561h0M380 499h0M405 608h0M395 550h0M351 513h0M345 528h0M458 549h0M456 583h0M405 524h0M420 568h0M434 541h0M375 613h0M356 527h0M390 559h0M455 583h0M369 562h0M415 592h0M408 594h0M428 578h0M391 532h0M367 578h0M397 634h0M395 575h0M358 518h0M404 589h0M403 544h0M417 577h0M391 509h0M413 610h0M442 576h0M432 596h0M408 566h0M420 560h0M466 591h0M388 523h0M429 526h0M391 546h0M389 598h0M379 564h0M411 541h0M434 531h0M387 609h0M483 598h0M375 614h0M391 608h0M417 572h0M416 567h0M408 563h0M409 577h0M416 583h0M367 640h0M395 718h0M357 651h0M356 657h0" stroke="#0c4860" stroke-width="5.2" stroke-linecap="round" stroke-opacity="0.8" fill="none"/>
<path d="M115 624h0M163 651h0M94 610h0M129 642h0M172 669h0M217 680h0M95 611h0M157 616h0M78 626h0M122 584h0M88 599h0M196 672h0M166 637h0M204 693h0M182 653h0M209 665h0M96 642h0M190 656h0M118 639h0M56 665h0M102 640h0M163 624h0M190 668h0M170 636h0M123 632h0M185 657h0M74 642h0M89 599h0M76 627h0M124 667h0M154 640h0M101 631h0M139 642h0M106 604h0M189 680h0M96 635h0M81 628h0M133 597h0M89 640h0M123 640h0M81 644h0M106 637h0M143 650h0M129 658h0M220 662h0M137 658h0M116 591h0M101 602h0M181 618h0M213 661h0M173 676h0M217 664h0M200 679h0M111 636h0M155 683h0M217 654h0M144 562h0M118 640h0M168 654h0M148 638h0M100 602h0M178 654h0M74 605h0M63 659h0M191 664h0M106 585h0M193 675h0M110 614h0M75 646h0M141 661h0M186 651h0M133 644h0M174 661h0M161 661h0M97 650h0M86 624h0M193 648h0M116 627h0M169 650h0M71 663h0M177 674h0M161 662h0M152 670h0M129 622h0M95 641h0M120 652h0M60 632h0M151 655h0M113 646h0M106 597h0M179 648h0M65 620h0M94 621h0M52 656h0M181 640h0M168 645h0M133 642h0M155 627h0M184 643h0M64 638h0M198 681h0M107 601h0M53 638h0M126 692h0M185 650h0M120 592h0M108 616h0M103 648h0M156 646h0M85 604h0M177 640h0M189 650h0M134 678h0M60 642h0M135 635h0M233 649h0M135 592h0M104 647h0M83 617h0M156 646h0M106 662h0M395 781h0M218 662h0M87 643h0M107 653h0M134 670h0M120 592h0M87 719h0M99 615h0M148 673h0M138 635h0M140 610h0M162 682h0M161 619h0M67 619h0M94 630h0M116 586h0M122 596h0M182 669h0M178 638h0M132 606h0M161 663h0M75 632h0M51 654h0M152 650h0M163 637h0M135 667h0M98 632h0M186 618h0M191 669h0M184 665h0M161 635h0M160 662h0" stroke="#a88424" stroke-width="5.2" stroke-linecap="round" stroke-opacity="0.8" fill="none"/>
<path d="M481 626h0M465 628h0M493 629h0M444 650h0M445 639h0M490 634h0M486 664h0M448 666h0M467 637h0M484 667h0M484 629h0M456 649h0M426 770h0M432 616h0M478 631h0M452 639h0M428 662h0M491 641h0M474 706h0M415 608h0M469 718h0M494 649h0M434 677h0M440 687h0M436 609h0M397 636h0M419 678h0M446 645h0M415 633h0M438 678h0" stroke="#183c60" stroke-width="5.2" stroke-linecap="round" stroke-opacity="0.8" fill="none"/>
<path d="M410 769h0M460 659h0M436 772h0M435 723h0M477 751h0M467 764h0M457 745h0M469 773h0M457 758h0M432 782h0M424 740h0M428 728h0M465 686h0M417 708h0M490 692h0M437 714h0M422 731h0M479 676h0M439 691h0M438 682h0M467 658h0M445 694h0M454 719h0M480 734h0M468 744h0M410 750h0M442 741h0M428 696h0M434 777h0M443 759h0M427 754h0M465 782h0M444 732h0M463 716h0M453 773h0M430 759h0M419 762h0M456 732h0M445 744h0M471 699h0M481 720h0M471 741h0M426 743h0M427 775h0M480 714h0M453 707h0M404 762h0M421 782h0M438 775h0M423 798h0M446 762h0M441 724h0M438 704h0M466 713h0M430 752h0M494 695h0M458 761h0M460 744h0M421 727h0M412 777h0M449 706h0M432 785h0M440 722h0M461 722h0M461 730h0M451 733h0M494 703h0M445 783h0M452 749h0M472 730h0M455 672h0M414 748h0M453 751h0M425 731h0M450 779h0M466 742h0M483 745h0M460 748h0M419 680h0M462 694h0M455 718h0M489 705h0M436 736h0M455 725h0M461 780h0M467 730h0M409 722h0M433 663h0M475 662h0M465 763h0M424 733h0M422 660h0M425 748h0M410 741h0M416 729h0M458 732h0M446 795h0M410 765h0M448 781h0M423 795h0M445 757h0M411 752h0M474 776h0M490 700h0M428 745h0M483 706h0M426 714h0M407 787h0M438 764h0M482 763h0M454 772h0M426 796h0M463 676h0M435 793h0M433 716h0M439 737h0M473 731h0M419 775h0M447 736h0M473 736h0M464 672h0M423 794h0M426 760h0M448 773h0M484 755h0M414 712h0M442 758h0M435 759h0M411 751h0M492 689h0M457 781h0M410 747h0M411 772h0M418 781h0M476 710h0M466 728h0M490 688h0M393 772h0M473 711h0M487 717h0M473 685h0M435 661h0M427 793h0M420 721h0M480 723h0M418 780h0M460 743h0M407 782h0M433 769h0M486 736h0M419 725h0M437 777h0M412 730h0M454 726h0M437 674h0M425 789h0M477 696h0M454 738h0M415 788h0M444 678h0M440 767h0M467 698h0M424 752h0M481 764h0M484 684h0M399 783h0M467 777h0M447 766h0M480 737h0M460 769h0M450 735h0M491 732h0M479 718h0M409 711h0M471 743h0M407 729h0M422 786h0M430 758h0M436 694h0M421 741h0M479 723h0M459 717h0M463 674h0M416 748h0M477 753h0M445 757h0M468 693h0M441 717h0M436 606h0M438 743h0M412 766h0M433 765h0M444 735h0M411 690h0M463 742h0M468 623h0M465 783h0M404 740h0M476 735h0M420 792h0M479 734h0M426 794h0M427 715h0M442 792h0M434 789h0M420 676h0M458 695h0M444 767h0M436 770h0M447 730h0M437 697h0M481 692h0M415 710h0M409 717h0M465 740h0M427 763h0M422 782h0M474 747h0M422 741h0M444 796h0M493 687h0M412 761h0M486 737h0M410 753h0M417 757h0M467 736h0M461 766h0M497 671h0M434 698h0M457 758h0M454 709h0M416 757h0M433 793h0M449 682h0M409 736h0M422 750h0M440 670h0M418 737h0M466 742h0M456 675h0M416 777h0M423 672h0M465 740h0M397 760h0M422 725h0M451 757h0M473 766h0M409 788h0M462 778h0M435 732h0M487 692h0M465 741h0M454 691h0M432 676h0M443 777h0M483 644h0M404 774h0M471 754h0M477 766h0M439 785h0M455 713h0M416 789h0M405 784h0M493 639h0M470 753h0M474 723h0M480 755h0M470 760h0M410 707h0M466 775h0M404 762h0M442 728h0M493 731h0M453 731h0M476 677h0M470 721h0M477 737h0M421 740h0M418 730h0M432 709h0M408 714h0M435 790h0M448 708h0M465 693h0M404 752h0M423 755h0M433 794h0M459 715h0M441 788h0M422 755h0M423 789h0M427 678h0M464 775h0M411 740h0M455 773h0M481 756h0M480 761h0M408 784h0M442 745h0M445 711h0M388 696h0M391 663h0" stroke="#243060" stroke-width="5.2" stroke-linecap="round" stroke-opacity="0.8" fill="none"/>
<path d="M291 745h0M164 880h0M266 768h0M218 781h0M146 785h0M191 848h0M171 769h0M200 817h0M193 866h0M161 822h0M213 799h0M194 806h0M181 769h0M327 735h0M237 797h0M148 804h0M209 745h0M305 746h0M265 784h0M145 838h0M180 809h0M212 752h0M189 887h0M208 769h0M169 750h0M222 834h0M233 772h0M180 776h0M199 795h0M161 817h0M187 804h0M215 753h0M185 823h0M147 813h0M131 845h0M216 767h0M161 812h0M233 775h0M254 779h0M267 770h0M226 770h0M291 760h0M151 872h0M242 744h0M215 844h0M182 861h0M155 800h0M256 800h0M223 784h0M198 834h0M158 780h0M255 772h0M192 831h0M137 783h0M222 826h0M155 887h0M251 755h0M142 804h0M173 801h0M180 846h0M262 786h0M321 728h0M186 849h0M224 773h0M237 789h0M243 763h0M168 842h0M157 818h0M327 732h0M178 816h0M322 726h0M200 778h0M196 787h0M172 799h0M184 774h0M211 749h0M211 759h0M197 807h0M154 817h0M212 830h0M177 864h0M187 859h0M165 805h0M214 850h0M188 767h0M257 750h0M172 837h0M271 759h0M157 789h0M185 810h0M268 825h0M196 839h0M220 855h0M322 760h0M229 754h0M238 739h0M164 767h0M209 806h0M137 851h0M252 751h0M143 804h0M197 802h0M180 896h0M274 747h0M245 777h0M201 864h0M317 743h0M172 804h0M170 822h0M243 729h0M257 815h0M161 859h0M158 874h0M177 818h0M294 728h0M239 817h0M203 815h0M289 735h0M203 810h0M184 798h0M159 770h0M228 814h0M179 762h0M123 806h0M160 843h0M145 859h0M197 821h0M175 845h0M324 741h0M254 782h0M188 823h0M220 800h0M172 795h0M193 815h0M238 817h0M150 823h0M191 849h0M124 764h0M300 760h0M250 797h0M191 820h0M199 843h0M224 784h0M250 783h0M321 679h0" stroke="#f0a8a8" stroke-width="5.2" stroke-linecap="round" stroke-opacity="0.8" fill="none"/>
<path d="M184 533h0M199 608h0M179 508h0M169 522h0M214 602h0M191 572h0M221 626h0M113 586h0M191 561h0M222 634h0M157 581h0M220 638h0M224 647h0M222 546h0M137 586h0M186 568h0M224 608h0M150 530h0M167 521h0M198 619h0M164 539h0M153 561h0M218 657h0M197 570h0M187 513h0M201 601h0M228 561h0M252 627h0M213 632h0M227 634h0M179 601h0M188 578h0M180 543h0M195 527h0M204 569h0" stroke="#607830" stroke-width="5.2" stroke-linecap="round" stroke-opacity="0.8" fill="none"/>
<path d="M198 609h0M147 552h0M126 580h0M198 582h0M212 615h0M144 628h0M174 565h0M146 610h0M152 532h0M233 639h0M247 620h0M196 521h0M150 527h0M195 595h0M145 547h0M215 651h0M161 533h0M192 593h0M162 573h0M226 657h0M175 569h0M214 574h0M395 777h0M141 577h0M172 632h0M204 640h0M128 561h0M224 608h0M146 551h0M155 556h0M140 555h0M215 552h0M177 580h0M186 491h0M199 582h0M185 600h0M93 588h0M168 537h0M229 653h0M187 563h0M181 503h0M169 548h0M200 512h0M192 511h0M156 551h0M200 516h0M206 650h0M244 591h0M195 601h0M169 606h0M203 549h0M198 618h0M115 576h0M222 608h0M154 536h0M185 545h0M190 546h0M135 556h0M233 645h0M220 638h0M143 572h0M127 590h0M200 599h0M198 591h0M166 566h0M177 552h0M189 573h0M175 501h0M122 575h0M184 492h0M216 622h0M175 570h0M216 637h0M222 652h0M218 637h0M197 548h0M135 572h0M184 571h0M155 567h0M199 590h0M202 555h0M210 581h0M176 613h0M194 539h0M249 537h0M161 531h0M185 569h0M205 598h0M169 538h0M211 621h0M253 617h0M160 547h0M244 650h0M173 597h0M196 584h0M189 572h0M176 541h0M199 553h0M153 532h0M243 642h0M168 523h0M231 592h0M176 577h0M219 622h0M185 584h0M137 554h0M215 602h0M246 634h0M219 589h0M192 592h0M206 497h0M182 569h0M251 636h0M148 623h0M190 627h0M193 578h0M136 590h0M197 566h0M200 537h0M174 572h0M161 590h0M188 552h0M188 513h0M213 613h0M221 614h0M150 550h0M221 602h0M171 526h0M199 587h0M193 656h0M160 562h0M163 526h0M182 571h0M169 515h0M187 566h0M150 569h0M201 592h0M151 566h0M175 575h0M375 706h0M281 661h0" stroke="#6c7830" stroke-width="5.2" stroke-linecap="round" stroke-opacity="0.8" fill="none"/>
<path d="M228 623h0M218 500h0M244 612h0M214 556h0M232 501h0M192 506h0M260 514h0M227 489h0M240 561h0M217 512h0M245 538h0M271 516h0M225 610h0M213 498h0M245 591h0M236 509h0M170 554h0M261 579h0M228 578h0" stroke="#546c48" stroke-width="5.2" stroke-linecap="round" stroke-opacity="0.8" fill="none"/>
<path d="M147 670h0M190 702h0M153 688h0M130 730h0M163 696h0M196 711h0M83 682h0M190 702h0M64 724h0M170 695h0M165 697h0M151 697h0M246 703h0M181 699h0M59 688h0M57 693h0M101 668h0M181 727h0M205 713h0M103 706h0M91 695h0M114 718h0M179 689h0M151 715h0M111 692h0M46 661h0M46 709h0M201 738h0M80 737h0M97 716h0M180 694h0M185 691h0M52 704h0M125 721h0M109 706h0M56 678h0M76 713h0M100 715h0M91 668h0M50 687h0M82 679h0M205 705h0M110 668h0M52 649h0M50 671h0M73 666h0M67 696h0M107 719h0M106 732h0M80 695h0M60 714h0M56 721h0M251 707h0M145 689h0M193 719h0M102 708h0M50 666h0M137 720h0M185 686h0M143 709h0M204 715h0M184 714h0M161 690h0M52 683h0M167 686h0M187 688h0M117 683h0M193 699h0M157 701h0M53 740h0M66 659h0M171 678h0M61 682h0M99 732h0M182 706h0M301 671h0M329 683h0" stroke="#d8903c" stroke-width="5.2" stroke-linecap="round" stroke-opacity="0.8" fill="none"/>
<path d="M251 802h0M195 909h0M273 796h0M176 853h0M213 818h0M219 920h0M260 809h0M304 816h0M236 836h0M207 835h0M343 768h0M214 837h0M270 799h0M262 779h0M203 862h0M221 909h0M197 882h0M174 895h0M237 836h0M256 812h0M206 782h0M188 901h0M260 836h0M220 873h0M385 774h0M169 871h0M333 758h0M178 891h0M350 783h0M250 860h0M220 837h0M185 894h0M222 816h0M261 769h0M221 819h0M187 894h0M202 860h0M219 885h0M187 887h0M200 889h0M231 826h0M259 803h0M234 858h0M291 843h0M261 823h0M253 822h0M336 747h0M233 810h0M235 770h0M245 815h0M210 911h0M208 906h0M260 856h0M234 790h0" stroke="#f0c0cc" stroke-width="5.2" stroke-linecap="round" stroke-opacity="0.8" fill="none"/>
<path d="M302 824h0M260 826h0M240 846h0M252 871h0M218 866h0M303 810h0M338 827h0M309 823h0M311 813h0M301 818h0M242 811h0M296 805h0M194 904h0M259 804h0M237 907h0M256 890h0M254 835h0M353 785h0M187 883h0M198 872h0M229 929h0M282 826h0M324 806h0M273 853h0M184 880h0M272 830h0M200 899h0M237 853h0M335 811h0M207 889h0M219 911h0M232 855h0M233 899h0M331 796h0M248 861h0M267 902h0M271 862h0M338 803h0M340 798h0M270 851h0M203 929h0M210 891h0M334 750h0M344 777h0M309 755h0M324 814h0M195 868h0M226 897h0M229 916h0M222 900h0M236 855h0M249 836h0M198 881h0M214 891h0M224 880h0M315 854h0" stroke="#f0ccd8" stroke-width="5.2" stroke-linecap="round" stroke-opacity="0.8" fill="none"/>
<path d="M173 523h0M209 575h0M233 582h0M245 591h0M178 555h0M209 528h0M175 520h0M248 627h0M210 504h0M194 546h0M230 628h0M199 614h0M195 542h0M180 504h0M227 639h0M230 626h0M222 554h0M196 543h0M208 491h0M235 594h0M227 571h0M236 633h0M188 501h0M218 631h0M244 609h0M252 633h0M211 605h0M180 561h0M247 634h0M229 566h0M217 638h0M221 510h0M220 589h0M183 531h0M227 568h0M164 524h0M224 620h0M234 533h0M235 619h0M191 550h0M196 520h0M211 552h0M180 599h0M166 536h0M201 587h0M219 593h0M224 573h0M153 547h0M201 567h0M218 574h0M183 544h0M208 592h0M175 522h0M207 571h0M183 549h0M226 599h0M178 549h0M154 527h0M229 612h0M187 497h0M162 534h0M240 492h0M174 518h0M230 613h0M167 513h0M222 613h0M161 591h0M190 541h0M191 542h0M173 528h0M222 613h0M171 551h0M186 604h0M172 534h0M191 561h0M219 618h0M247 615h0M190 558h0M216 541h0M214 622h0M222 535h0M214 549h0M203 511h0M215 566h0M172 534h0M224 551h0M228 546h0M201 575h0M224 580h0M231 579h0M216 524h0M181 549h0M230 517h0M184 500h0M184 508h0M273 594h0M215 572h0M200 506h0M212 591h0M172 540h0M176 535h0M181 498h0M177 508h0M229 651h0M165 541h0M239 625h0M216 524h0M192 504h0M145 558h0M202 547h0M196 542h0M186 597h0M200 551h0M178 528h0M189 582h0M236 637h0M221 615h0M190 513h0M220 539h0M203 619h0M268 541h0M246 640h0M155 508h0M254 626h0M175 534h0M222 597h0M189 554h0M160 514h0M209 586h0" stroke="#60783c" stroke-width="5.2" stroke-linecap="round" stroke-opacity="0.8" fill="none"/>
<path d="M195 733h0M182 730h0M60 687h0M166 808h0M276 711h0M99 717h0M37 708h0M79 699h0M98 747h0M180 745h0M189 715h0M166 734h0M205 733h0M119 740h0M85 741h0M93 699h0M96 733h0M124 721h0M82 719h0M218 728h0M47 733h0M54 734h0M175 714h0M109 684h0M107 754h0M48 741h0M89 711h0M169 731h0M147 700h0M66 718h0M86 722h0M147 687h0M75 712h0M91 743h0M92 746h0M73 736h0M33 709h0M23 737h0M87 733h0M238 717h0M206 727h0M76 701h0M176 753h0M175 704h0M164 729h0M136 698h0M30 741h0M132 748h0M128 737h0M107 719h0M281 732h0M141 771h0M102 758h0M94 737h0M36 716h0M228 745h0M84 726h0M399 770h0M149 703h0M113 707h0M38 735h0M162 796h0M60 694h0M119 748h0M154 678h0M76 750h0M37 733h0M209 723h0M191 709h0M40 709h0M106 720h0M200 735h0M122 736h0M29 726h0M81 697h0M46 706h0M44 745h0M241 729h0M25 723h0M59 673h0M175 717h0M126 738h0M98 726h0M163 694h0M229 719h0M27 715h0M104 739h0M115 736h0M90 700h0M164 733h0M54 712h0M187 688h0M78 744h0M98 693h0M131 732h0M166 730h0M189 739h0M48 713h0M185 693h0M153 726h0M252 692h0" stroke="#e49c60" stroke-width="5.2" stroke-linecap="round" stroke-opacity="0.8" fill="none"/>
<path d="M43 662h0M53 674h0M127 657h0M89 698h0M92 688h0M146 699h0M110 641h0M207 679h0M61 694h0M100 666h0M111 707h0M103 689h0M50 727h0M176 683h0M153 683h0M186 697h0M68 677h0M88 660h0M173 675h0M170 688h0M49 652h0M106 695h0M126 710h0M90 738h0M85 646h0M127 712h0M47 671h0M198 703h0M76 693h0M103 651h0M47 678h0M216 704h0M122 738h0M188 696h0M71 683h0M221 710h0M169 702h0M92 695h0M153 680h0M189 684h0M73 720h0M73 664h0M117 690h0M110 664h0M56 709h0M88 678h0M82 697h0M128 684h0M81 659h0M126 680h0M123 677h0M69 705h0M167 724h0M153 692h0M78 654h0M126 662h0M58 657h0M103 684h0M84 672h0M137 677h0M141 654h0M108 682h0M66 716h0M166 685h0M211 723h0M119 710h0M114 653h0M103 681h0M203 691h0M91 657h0M58 699h0M52 666h0M180 749h0M158 671h0M80 692h0M56 672h0M182 706h0M141 714h0M115 703h0M96 697h0M200 719h0M140 686h0M112 663h0M145 721h0M50 677h0M201 692h0M87 697h0M178 685h0M165 678h0M140 713h0M137 659h0M174 674h0M86 666h0M177 688h0M173 684h0M261 671h0M365 713h0" stroke="#cc903c" stroke-width="5.2" stroke-linecap="round" stroke-opacity="0.8" fill="none"/>
<path d="M158 637h0M149 586h0M104 620h0M206 644h0M113 606h0M184 683h0M150 587h0M100 593h0M171 624h0M109 584h0M164 582h0M146 566h0M164 609h0M160 637h0M94 634h0M159 618h0M127 646h0M115 587h0M189 647h0M133 594h0M107 594h0M186 654h0M72 606h0M186 621h0M81 618h0M203 632h0M173 624h0M158 616h0M152 598h0M136 588h0M216 664h0M100 592h0M180 610h0M105 587h0M154 618h0M130 603h0M161 615h0M130 599h0M156 636h0M105 583h0M140 634h0M207 656h0M175 625h0M197 659h0M81 638h0M184 575h0M182 593h0M188 642h0M170 609h0M172 670h0M181 653h0M200 624h0M144 606h0M90 628h0M113 634h0M176 653h0M147 558h0M118 607h0M111 581h0M138 561h0M199 610h0M178 638h0M147 581h0M204 641h0M121 585h0M212 654h0M157 629h0M126 654h0M157 630h0M82 592h0M160 595h0M182 622h0M384 786h0M103 593h0M237 651h0M180 663h0M103 611h0M134 642h0M200 651h0M197 658h0M153 558h0M101 599h0M189 664h0M99 624h0M164 634h0" stroke="#908424" stroke-width="5.2" stroke-linecap="round" stroke-opacity="0.8" fill="none"/>
<path d="M319 538h0M306 530h0M315 478h0M296 483h0M338 561h0M351 566h0M294 495h0M302 524h0M310 562h0M319 571h0M276 499h0M332 474h0M347 560h0M293 546h0M314 519h0M328 540h0M309 506h0M337 524h0M309 578h0M333 546h0M341 509h0M308 506h0M356 586h0M357 486h0M287 530h0M327 513h0M311 476h0M326 546h0M314 555h0M281 514h0M354 548h0M266 531h0M332 583h0M352 543h0M308 582h0M314 568h0M286 481h0M316 550h0M375 499h0M297 543h0M337 496h0M332 583h0M365 575h0M276 470h0M277 537h0M339 582h0M279 517h0M353 566h0M389 766h0M288 486h0M317 559h0M340 559h0M317 564h0M308 550h0M338 585h0M301 537h0M316 564h0M325 513h0M307 578h0M314 496h0M338 480h0M302 541h0M359 520h0M346 546h0M311 573h0M321 560h0M325 585h0M306 491h0M276 469h0M283 531h0M365 538h0M324 568h0M312 532h0M321 518h0M299 537h0M405 516h0M311 522h0M270 478h0M336 534h0M314 537h0M351 542h0M338 549h0M312 534h0M340 563h0M325 511h0M280 546h0M327 495h0M322 513h0M279 487h0M322 499h0M348 594h0M303 549h0M330 571h0M269 529h0M284 504h0M285 472h0M291 526h0M333 549h0M302 529h0M313 514h0M332 560h0M298 501h0M336 513h0M335 528h0M252 488h0M338 481h0M366 511h0M333 510h0M373 591h0M330 527h0M292 487h0M303 544h0M301 547h0M298 536h0M328 522h0M297 561h0M304 545h0M308 529h0M337 520h0M321 509h0M326 587h0M311 545h0M330 489h0M288 471h0M265 539h0M446 554h0M347 504h0M317 529h0M277 491h0M299 522h0M317 579h0M296 501h0M281 511h0M309 581h0M259 491h0M331 687h0M314 612h0M338 635h0M315 619h0" stroke="#246054" stroke-width="5.2" stroke-linecap="round" stroke-opacity="0.8" fill="none"/>
<path d="M53 736h0M214 715h0M35 728h0M111 743h0M207 735h0M158 703h0M111 657h0M116 681h0M146 729h0M117 728h0M219 723h0M150 714h0M109 674h0M120 723h0" stroke="#e49054" stroke-width="5.2" stroke-linecap="round" stroke-opacity="0.8" fill="none"/>
<path d="M136 636h0M131 656h0M198 663h0M196 662h0M123 668h0M167 626h0M77 655h0M168 678h0M162 658h0M76 620h0M182 661h0M180 686h0M63 641h0M156 658h0M92 650h0M84 606h0M151 670h0M60 633h0M203 666h0M65 682h0M184 640h0M186 675h0M181 663h0M86 652h0M181 664h0M173 683h0M143 655h0M66 632h0M165 673h0M113 685h0M149 646h0M110 635h0M121 662h0M183 672h0M174 657h0M126 656h0M153 648h0M69 648h0M139 634h0M64 654h0M80 663h0M62 660h0M160 667h0M132 657h0M178 660h0M76 694h0M75 673h0M90 641h0M82 650h0M113 628h0M101 622h0M83 654h0M206 683h0M143 633h0M186 677h0M116 660h0M62 632h0M64 631h0" stroke="#b48424" stroke-width="5.2" stroke-linecap="round" stroke-opacity="0.8" fill="none"/>
<path d="M391 610h0M334 591h0M465 600h0M384 537h0M388 551h0M378 594h0M337 482h0M404 569h0M442 544h0M380 522h0M383 498h0M429 552h0M422 534h0M402 784h0M422 565h0M389 593h0M375 514h0M400 524h0M340 544h0M347 621h0" stroke="#0c4854" stroke-width="5.2" stroke-linecap="round" stroke-opacity="0.8" fill="none"/>
<path d="M51 742h0M80 679h0M176 703h0M113 735h0M116 721h0M109 700h0M90 726h0M133 724h0M127 726h0M75 679h0M196 725h0M85 752h0M123 722h0M93 703h0M60 714h0M179 693h0M173 715h0M98 695h0M176 719h0M79 720h0M143 705h0M108 683h0M173 686h0M91 756h0M120 691h0M82 731h0M187 696h0M160 714h0M165 700h0M41 717h0M78 755h0M141 707h0M230 709h0M49 706h0M128 719h0M121 699h0M88 746h0M196 723h0M144 718h0M42 727h0M57 730h0M188 712h0M85 704h0M57 740h0M139 722h0M76 692h0M109 767h0M55 720h0M299 734h0M133 712h0M65 691h0M78 731h0M61 737h0M195 725h0M139 735h0M111 713h0M132 678h0M134 738h0M85 748h0M135 720h0M94 711h0M151 686h0M194 714h0" stroke="#e49c54" stroke-width="5.2" stroke-linecap="round" stroke-opacity="0.8" fill="none"/>
<path d="M449 610h0M419 622h0M420 594h0M430 666h0M461 669h0M399 769h0M392 558h0M418 607h0M438 577h0M414 605h0M378 608h0M485 655h0M430 640h0M416 659h0M433 621h0M465 635h0M438 553h0M493 637h0M385 629h0M442 588h0M479 665h0M478 615h0M476 673h0M453 622h0M471 639h0M413 626h0M458 628h0M421 604h0M460 616h0M382 615h0M435 579h0M471 578h0M410 525h0M446 569h0M412 590h0M456 572h0M481 627h0M491 648h0M410 632h0M421 606h0M381 593h0M430 537h0M400 654h0M338 587h0M430 621h0M471 599h0M354 554h0M416 627h0M391 634h0M468 588h0M445 619h0M479 629h0M407 577h0M473 615h0M464 676h0M491 677h0M424 605h0M439 597h0M431 627h0M460 623h0M465 613h0M500 640h0M401 736h0M486 606h0M405 654h0M464 596h0M448 568h0M430 602h0M476 653h0M413 591h0M427 609h0M485 591h0M476 670h0M452 662h0M441 634h0M431 621h0M432 653h0M449 671h0M386 620h0M399 739h0M449 587h0M466 659h0M439 645h0M447 582h0M415 674h0M468 606h0M422 682h0M406 569h0M420 623h0M410 628h0M365 540h0M406 772h0M499 638h0M409 596h0M450 561h0M426 683h0M428 592h0M446 628h0M448 635h0M442 593h0M453 621h0M476 649h0M484 646h0M383 615h0M485 677h0M469 591h0M435 588h0M425 658h0M418 587h0M450 567h0M435 632h0M444 649h0M478 584h0M390 775h0M422 593h0M473 583h0M474 606h0M435 579h0M433 604h0M470 648h0M466 582h0M470 643h0M463 670h0M452 677h0M406 502h0M432 655h0M412 646h0M432 607h0M469 631h0M435 606h0M413 632h0M462 629h0M434 550h0M427 583h0M452 690h0M480 663h0M470 629h0M465 584h0M422 650h0M416 588h0M474 702h0M442 620h0M440 605h0M431 556h0M430 545h0M459 655h0M404 610h0M417 593h0M473 619h0M418 631h0M434 622h0M412 586h0M461 611h0M420 619h0M489 626h0M433 575h0M442 609h0M470 655h0M432 541h0M441 679h0M442 562h0M401 579h0M426 632h0M379 547h0M463 638h0M414 650h0M450 582h0M431 647h0M490 657h0M411 647h0M433 589h0M420 599h0M425 661h0M482 660h0M506 654h0M455 567h0M463 672h0M475 587h0M451 636h0M394 624h0M431 693h0M492 662h0M414 698h0M401 581h0M427 592h0M453 567h0M464 623h0M461 593h0M381 564h0M472 645h0M501 663h0M450 599h0M425 594h0M406 597h0M442 634h0M456 624h0M396 583h0M484 643h0M384 616h0M477 680h0M396 783h0M405 625h0M453 616h0M370 585h0M436 631h0M392 597h0M480 602h0M438 607h0M411 625h0M451 579h0M473 611h0M466 608h0M425 620h0M435 632h0M433 589h0M469 615h0M454 617h0M418 616h0M404 639h0M415 631h0M423 568h0M408 541h0M424 624h0M444 623h0M457 619h0M450 736h0M402 635h0M400 637h0M398 609h0M443 627h0M482 635h0M468 637h0M445 653h0M450 651h0M472 581h0M431 641h0M424 531h0M490 730h0M426 551h0M479 656h0M431 645h0M429 605h0M407 632h0M425 624h0M434 712h0M451 613h0M470 622h0M396 610h0M492 683h0M472 603h0M446 660h0M425 564h0M454 630h0M434 647h0M383 622h0M475 643h0M480 596h0M404 531h0M413 592h0M483 636h0M452 650h0M425 618h0M477 584h0M468 669h0M463 565h0M495 647h0M455 755h0M402 616h0M439 582h0M424 621h0M403 640h0M414 662h0M418 617h0M413 664h0M472 639h0M401 565h0M417 623h0M420 708h0M454 656h0M499 659h0M497 648h0M450 602h0M472 643h0M475 653h0M465 580h0M434 625h0M388 614h0M451 678h0M415 629h0M412 619h0M392 625h0M455 634h0M473 597h0M444 574h0M440 629h0M503 673h0M464 599h0M389 773h0M396 769h0M491 643h0M407 656h0M442 549h0M482 623h0M418 600h0M433 577h0M412 526h0M484 641h0M414 699h0M461 579h0M475 657h0M387 604h0M471 599h0M472 602h0M474 669h0M407 622h0M453 701h0M451 588h0M399 621h0M463 574h0M440 588h0M423 602h0M451 560h0M490 669h0M426 596h0M417 554h0M425 642h0M490 639h0M453 564h0M415 716h0M445 652h0M470 580h0M422 546h0M441 648h0M490 663h0M460 638h0M479 600h0M431 720h0M461 628h0M372 660h0M340 628h0M386 712h0" stroke="#0c3c60" stroke-width="5.2" stroke-linecap="round" stroke-opacity="0.8" fill="none"/>
<path d="M235 597h0M172 519h0M205 562h0M262 472h0M215 581h0M208 557h0M235 510h0M197 604h0M222 505h0M215 494h0M196 554h0M256 625h0M258 571h0M254 571h0M236 540h0M235 576h0M200 507h0M200 496h0M243 536h0M214 546h0M228 535h0M241 612h0M204 528h0M239 531h0M245 625h0M247 578h0M209 589h0M170 560h0M264 603h0M219 572h0M176 503h0M198 526h0M250 622h0M381 775h0M250 625h0M204 530h0M239 532h0M224 578h0M256 602h0M254 613h0M208 585h0M276 587h0M251 597h0M215 599h0M206 540h0M185 497h0M182 549h0M223 608h0M223 611h0M169 557h0M225 556h0M202 548h0M238 564h0M234 573h0M246 533h0M185 531h0M225 576h0M225 549h0M220 540h0M251 585h0M205 493h0M176 523h0M204 503h0M158 561h0M230 563h0M156 521h0M244 573h0M206 517h0M214 607h0M209 506h0M175 514h0M240 604h0M220 495h0M263 536h0M154 535h0M186 505h0M219 568h0M202 527h0M227 527h0M232 618h0M214 496h0M217 518h0M196 534h0M200 527h0M205 527h0M246 625h0M239 606h0M248 558h0M243 538h0M162 539h0M225 616h0M218 573h0M208 519h0M154 532h0M239 475h0M246 621h0M253 521h0M219 491h0M239 622h0M201 497h0M187 577h0M349 664h0" stroke="#54783c" stroke-width="5.2" stroke-linecap="round" stroke-opacity="0.8" fill="none"/>
<path d="M267 859h0M308 823h0M352 786h0M199 920h0M278 875h0M219 919h0M218 923h0M200 902h0M291 873h0M284 883h0M263 906h0M199 918h0M279 893h0M303 822h0M290 870h0M229 900h0M223 881h0M249 819h0M286 853h0M246 921h0M288 861h0M246 878h0M320 834h0M256 923h0M269 903h0M286 824h0M354 781h0M287 837h0M327 841h0M271 809h0M198 915h0M288 838h0M311 846h0M308 856h0M312 806h0M335 828h0M268 840h0M238 926h0M339 805h0M296 856h0M253 905h0M286 886h0M227 915h0M250 878h0M303 858h0M189 888h0M221 902h0M320 842h0M321 846h0M318 840h0M224 875h0M240 924h0M327 813h0M248 858h0M347 796h0M217 908h0M270 886h0M249 924h0M280 855h0M228 853h0M253 892h0M290 806h0M253 874h0M220 864h0M266 887h0M311 818h0M337 800h0M290 809h0M222 906h0M280 876h0M291 830h0M298 814h0M260 895h0M244 844h0M266 880h0M268 906h0M250 912h0M225 897h0M286 862h0M314 844h0M236 897h0M332 820h0M244 861h0M327 828h0M269 840h0M338 813h0M249 868h0M216 907h0M245 889h0M321 827h0M283 858h0M249 878h0M214 914h0M243 902h0M331 837h0M308 831h0M218 902h0M273 816h0M338 801h0M223 904h0M290 803h0M326 837h0M261 866h0M268 863h0M219 927h0M266 873h0M273 893h0M336 806h0M303 820h0M218 904h0M269 860h0M270 856h0M241 895h0M325 816h0M261 853h0M310 803h0M270 866h0M334 807h0M234 886h0M265 836h0M271 884h0M280 870h0M261 859h0M267 833h0M288 858h0M255 901h0M212 914h0M343 813h0M263 889h0M283 806h0M294 856h0M243 900h0M182 897h0M212 919h0M203 921h0M250 903h0M355 781h0M276 864h0M342 811h0M231 923h0M300 825h0M216 860h0M272 900h0M224 884h0M270 833h0M243 904h0M241 871h0M257 904h0M235 896h0M300 839h0M262 849h0M239 928h0M259 908h0M268 865h0M263 821h0M270 825h0M249 886h0M299 857h0M322 844h0M279 841h0M280 868h0M244 886h0M249 837h0M294 860h0M282 867h0M253 908h0M262 899h0M279 835h0M231 888h0M207 903h0M212 900h0M287 854h0M205 902h0M218 903h0M230 866h0M261 906h0M293 867h0M280 852h0M237 855h0M296 862h0M338 828h0M303 845h0M283 816h0M312 812h0M285 837h0M212 898h0M195 895h0M241 894h0M221 821h0M208 881h0M290 859h0M261 894h0M280 837h0M250 890h0M240 921h0M212 892h0M308 850h0M250 895h0M287 829h0M346 764h0M261 907h0M287 830h0M247 864h0M295 835h0M247 914h0M255 888h0M301 845h0M242 920h0M275 878h0M264 865h0M214 858h0M348 789h0M296 820h0M284 846h0M300 862h0M238 904h0M285 824h0M347 780h0M280 869h0M312 845h0M254 888h0M316 810h0M317 835h0M241 906h0M241 908h0M332 837h0M287 875h0M193 913h0M278 877h0M248 880h0M288 832h0M239 914h0M280 837h0M347 790h0M297 830h0M320 821h0M240 908h0M242 875h0M332 831h0M298 849h0M221 894h0M264 856h0M202 910h0M259 880h0M317 836h0M329 835h0M333 826h0M309 863h0M238 856h0M279 848h0M239 870h0M250 873h0M292 873h0M331 814h0M257 893h0M256 918h0M293 804h0M293 859h0M281 883h0M264 840h0M340 807h0M213 905h0M211 886h0M185 883h0M291 849h0M301 845h0M291 826h0M272 804h0M288 845h0M240 869h0M302 860h0M252 916h0M314 829h0M326 801h0M282 826h0M247 922h0M277 880h0M285 861h0M227 918h0M223 908h0M234 914h0M208 872h0M267 873h0M277 882h0M226 901h0M235 906h0M272 786h0M281 885h0M314 839h0M244 910h0M285 869h0M251 884h0M318 799h0M276 799h0M257 914h0M326 796h0M194 910h0M335 800h0M291 863h0M251 880h0M254 898h0M286 869h0M325 805h0M286 875h0M327 806h0M259 886h0M283 843h0M310 826h0M302 815h0M269 902h0M331 829h0M260 861h0M284 844h0M288 852h0M225 872h0M195 866h0M252 909h0" stroke="#f0cce4" stroke-width="5.2" stroke-linecap="round" stroke-opacity="0.8" fill="none"/>
<path d="M183 726h0M119 731h0M96 752h0M276 755h0M269 765h0M247 719h0M99 742h0M249 753h0M31 708h0M138 727h0M276 710h0M177 757h0M183 708h0M122 734h0M42 738h0M288 719h0M164 747h0M73 715h0M217 731h0M83 723h0M36 731h0M188 716h0M220 763h0M102 719h0M292 709h0M172 766h0M130 785h0M32 741h0M178 714h0M198 740h0M120 763h0M248 740h0M314 717h0M174 728h0M182 756h0M168 738h0M61 725h0M122 746h0M162 826h0M147 763h0M252 731h0M272 737h0M94 730h0M61 727h0M83 737h0M129 746h0M144 791h0M64 721h0M235 715h0M169 744h0M219 736h0M67 736h0M141 820h0M205 723h0M151 738h0M184 731h0M217 736h0M30 739h0M159 798h0M180 722h0M247 712h0M251 738h0M210 752h0M174 744h0M178 750h0M225 723h0M307 729h0M156 779h0M270 716h0M82 740h0M117 706h0M126 731h0M43 739h0M96 746h0M237 740h0M77 735h0M37 723h0M159 717h0M199 708h0M268 713h0M39 715h0M232 709h0M124 779h0M235 758h0M85 742h0M116 718h0M366 722h0" stroke="#f09c78" stroke-width="5.2" stroke-linecap="round" stroke-opacity="0.8" fill="none"/>
<path d="M142 729h0M54 734h0M105 680h0M35 748h0M42 721h0M29 725h0M34 709h0M34 715h0M127 736h0M136 713h0M93 740h0M40 707h0M232 738h0M153 724h0M49 729h0M111 714h0M39 721h0M204 718h0M161 731h0M193 720h0M155 809h0M205 688h0M129 749h0M115 693h0M114 749h0M128 704h0M138 705h0M149 718h0M197 721h0M58 707h0M220 743h0M77 744h0M133 702h0M129 727h0M167 734h0M29 721h0M101 743h0M121 760h0M136 790h0M190 715h0M29 740h0M84 724h0M36 715h0M190 734h0M71 713h0M178 741h0M220 717h0M154 749h0M112 698h0M101 710h0M93 729h0M63 741h0M142 732h0M51 727h0M206 708h0M140 724h0M62 725h0M78 744h0M111 723h0M110 730h0M257 753h0M257 742h0M76 713h0M136 802h0M385 741h0M334 697h0" stroke="#e49c6c" stroke-width="5.2" stroke-linecap="round" stroke-opacity="0.8" fill="none"/>
<path d="M453 677h0M470 664h0M454 639h0M456 737h0M481 754h0M417 705h0M485 712h0M480 705h0M423 798h0M475 652h0M441 759h0M452 693h0M446 716h0M400 570h0M464 695h0M423 686h0M466 758h0M448 663h0M416 674h0M430 679h0M446 630h0M400 763h0M436 759h0M423 797h0M460 747h0M414 711h0M470 734h0M430 686h0M487 643h0M445 696h0M480 718h0M461 673h0M462 704h0M471 682h0M408 763h0M422 743h0M441 622h0M479 609h0M449 705h0M410 731h0M463 648h0M431 709h0M423 773h0M461 649h0M429 673h0M435 767h0M462 723h0M401 789h0M481 664h0M491 659h0M504 651h0M419 656h0M472 674h0M428 681h0M425 799h0M426 753h0M472 680h0M482 651h0M418 728h0M425 778h0M469 650h0M430 665h0M445 613h0M453 664h0M491 645h0M390 607h0M424 721h0M475 617h0M462 654h0M434 764h0M477 715h0M461 706h0M480 701h0M476 658h0M414 684h0M439 696h0M421 704h0M456 706h0M482 660h0M437 655h0M413 644h0M418 641h0M497 683h0M468 679h0M488 707h0M487 637h0M449 655h0M449 691h0M466 685h0M425 650h0M403 625h0M427 697h0M404 659h0M451 748h0M419 651h0M438 707h0M443 686h0M409 781h0M482 618h0M439 677h0M449 686h0M446 694h0M484 719h0M405 734h0M468 668h0M496 680h0M455 571h0M452 741h0M419 667h0M442 626h0M488 645h0M470 655h0M413 649h0M413 713h0M472 667h0M426 670h0M422 685h0M414 744h0M441 741h0M430 730h0M495 720h0M493 661h0M492 637h0M441 676h0M477 645h0M497 680h0M422 676h0M455 710h0M422 681h0M450 648h0M479 682h0M484 696h0M433 667h0M459 602h0M461 618h0M438 741h0M465 658h0M490 662h0M442 718h0M410 650h0M492 689h0M469 643h0M481 630h0M447 690h0M471 636h0M423 711h0M484 674h0M443 700h0M445 785h0M441 688h0M467 755h0M460 612h0M438 664h0M491 683h0M475 688h0M460 680h0M422 697h0M424 639h0M482 651h0M409 756h0M442 725h0M502 678h0M452 681h0M458 794h0M493 643h0M429 708h0M446 720h0M432 654h0M430 761h0M466 572h0M412 616h0M408 741h0M447 783h0M443 701h0M451 691h0M461 683h0M463 753h0M445 689h0M451 719h0M475 635h0M485 684h0M437 621h0M480 636h0M446 648h0M485 610h0M445 691h0M488 695h0M462 718h0M420 714h0M424 643h0M415 662h0M462 677h0M471 663h0M494 670h0M419 783h0M417 707h0M464 776h0M469 676h0M440 732h0M440 672h0M456 747h0M428 708h0M461 704h0M411 666h0M476 722h0M451 704h0M441 673h0M427 652h0M462 748h0M420 711h0M433 799h0M456 645h0M445 740h0M403 659h0M424 667h0M426 709h0M417 650h0M464 629h0M484 670h0M489 654h0M403 621h0M422 680h0M450 780h0M430 698h0M433 667h0M477 686h0M449 653h0M453 619h0M439 707h0M490 650h0M418 639h0M421 642h0M495 690h0M478 639h0M439 730h0M414 747h0M417 691h0M434 715h0M404 779h0M471 668h0M401 608h0M467 737h0M477 623h0M487 674h0M411 753h0M412 682h0M469 644h0M451 724h0M472 666h0M437 623h0M455 654h0M425 705h0M418 652h0M445 713h0M468 669h0M414 658h0M461 677h0M473 758h0M467 736h0M421 765h0M440 688h0M495 700h0M443 755h0M501 657h0M419 656h0M479 755h0M416 747h0M462 697h0M429 679h0M464 629h0M416 722h0M428 681h0M461 743h0M409 668h0M402 775h0M467 686h0M477 707h0M493 687h0M480 728h0M449 677h0M381 691h0M392 691h0M387 737h0M390 716h0M383 675h0" stroke="#183060" stroke-width="5.2" stroke-linecap="round" stroke-opacity="0.8" fill="none"/>
<path d="M226 529h0M198 519h0M236 526h0M253 531h0M243 544h0M246 547h0M214 542h0M234 553h0M230 570h0M240 511h0M286 520h0M241 624h0M258 552h0M183 539h0M211 505h0M236 550h0M216 487h0M252 475h0M174 566h0M173 509h0M207 499h0M199 518h0M206 494h0M202 500h0M233 517h0M203 510h0M233 554h0M210 524h0M266 595h0M213 563h0M237 585h0M240 581h0M254 505h0M245 565h0M223 543h0M217 522h0M193 512h0M219 516h0M253 510h0M219 518h0M249 492h0M201 500h0M217 518h0M256 600h0M252 601h0M229 535h0M226 532h0M213 491h0M216 552h0M227 542h0M243 573h0M256 594h0M208 516h0M200 521h0M241 612h0M210 497h0M258 533h0M219 488h0M219 596h0M201 528h0M173 533h0M250 583h0M200 494h0M223 551h0M213 546h0M219 504h0M245 524h0M243 504h0M223 565h0M195 506h0M230 633h0M213 611h0M266 594h0M259 469h0M224 568h0" stroke="#546c3c" stroke-width="5.2" stroke-linecap="round" stroke-opacity="0.8" fill="none"/>
<path d="M75 653h0M67 621h0M157 655h0M185 710h0M77 649h0M134 647h0M154 691h0M196 687h0M111 710h0M197 670h0M60 661h0M126 630h0" stroke="#c08430" stroke-width="5.2" stroke-linecap="round" stroke-opacity="0.8" fill="none"/>
<path d="M365 795h0M369 799h0M356 747h0M363 836h0M348 795h0M375 782h0M346 754h0M369 814h0M376 802h0M366 819h0M357 738h0M358 761h0M355 832h0M350 817h0M351 734h0M359 786h0M371 754h0M352 729h0M378 790h0M350 735h0M365 830h0M361 771h0M359 749h0M350 812h0M361 793h0M367 782h0M365 788h0M336 722h0M334 722h0M358 783h0M352 827h0M357 800h0M362 761h0M358 812h0M348 808h0M358 838h0M355 838h0M378 795h0M373 797h0M373 799h0M365 752h0M363 814h0M369 759h0M345 730h0M361 819h0" stroke="#2c2c60" stroke-width="5.2" stroke-linecap="round" stroke-opacity="0.75" fill="none"/>
<defs><linearGradient id="cbar" x1="0" y1="0" x2="0" y2="1"><stop offset="0.0" stop-color="#262a60"/><stop offset="0.1" stop-color="#10385a"/><stop offset="0.2" stop-color="#114a5a"/><stop offset="0.3" stop-color="#2a6055"/><stop offset="0.38" stop-color="#466e48"/><stop offset="0.46" stop-color="#5f7538"/><stop offset="0.52" stop-color="#7a7a2a"/><stop offset="0.58" stop-color="#a08424"/><stop offset="0.64" stop-color="#bb8a2c"/><stop offset="0.7" stop-color="#d89040"/><stop offset="0.76" stop-color="#eba070"/><stop offset="0.82" stop-color="#f0a890"/><stop offset="0.88" stop-color="#f0b0b8"/><stop offset="0.94" stop-color="#f0c0d8"/><stop offset="1.0" stop-color="#eed0e4"/></linearGradient></defs>
<rect x="497.2" y="784.4" width="26.8" height="159.2" fill="url(#cbar)"/>
<path d="M524,785h4M524,943.2h4" stroke="#555" stroke-width="1.2"/>
<text x="535.5" y="798.7">14</text>
<text x="535.5" y="956.4">738</text>
<defs><g id="big2"><path d="M834 777h0M827 790h0M756 797h0M795 893h0M792 876h0M803 789h0M824 887h0M852 743h0M731 794h0M822 865h0M813 891h0M814 731h0M753 780h0M752 770h0M748 824h0M793 802h0M846 771h0M759 809h0M793 891h0M719 815h0M919 807h0M836 821h0M764 751h0M787 899h0M805 823h0M803 838h0M852 822h0M844 892h0M847 908h0M738 776h0M759 846h0M850 886h0M833 716h0M897 723h0M767 781h0M827 723h0M781 874h0M787 892h0M920 809h0M709 772h0M894 833h0M817 753h0M808 876h0M854 722h0M819 835h0M881 841h0M848 876h0M805 740h0M845 844h0M830 832h0M759 863h0M780 768h0M747 789h0M705 803h0M727 793h0M715 820h0M845 875h0M779 824h0M901 760h0M788 909h0M806 901h0M821 862h0M790 791h0M871 845h0M854 757h0M826 822h0M828 761h0M797 761h0M853 847h0M773 895h0M692 765h0M726 787h0M774 910h0M741 771h0M860 849h0M747 754h0M733 834h0M738 813h0M789 851h0M722 784h0M826 766h0M899 732h0M721 775h0M812 842h0M814 759h0M868 726h0M816 827h0M816 809h0M830 842h0M831 873h0M888 832h0M740 803h0M801 795h0M763 845h0M731 856h0M801 810h0M891 834h0M846 735h0M852 867h0M824 918h0M726 821h0M714 854h0M865 878h0M818 814h0M851 839h0M766 899h0M757 873h0M822 821h0M880 823h0M762 907h0M834 746h0M839 750h0M845 901h0M791 760h0M821 770h0M855 828h0M729 823h0M759 890h0M757 807h0M749 866h0M826 831h0M796 929h0M754 857h0M793 925h0M746 802h0M740 854h0M778 782h0M840 772h0M729 828h0M772 842h0M779 786h0M883 826h0M752 801h0M795 747h0M756 914h0M814 730h0M888 728h0M837 893h0M765 789h0M805 755h0M750 757h0M817 902h0M783 913h0M817 835h0M687 770h0M835 828h0M848 838h0M720 805h0M818 929h0M887 739h0M724 782h0M797 788h0M868 818h0M839 735h0M765 789h0M841 742h0M924 809h0M833 811h0M713 849h0M804 820h0M874 733h0M798 800h0M723 827h0M788 800h0M799 823h0M839 835h0M788 930h0M801 870h0M857 874h0M858 887h0M745 891h0M871 760h0M812 865h0M841 854h0M748 815h0M770 772h0M774 823h0M876 722h0M888 849h0M684 764h0M811 731h0M735 774h0M866 860h0M828 894h0M774 835h0M839 855h0M777 757h0M855 750h0M923 794h0M723 777h0M830 806h0M836 750h0M873 818h0M755 865h0M743 872h0M813 787h0M823 890h0M729 809h0M883 867h0M733 783h0M744 775h0M749 750h0M798 854h0M783 798h0M786 794h0M889 835h0M742 867h0M764 807h0M746 758h0M873 741h0M751 882h0M713 771h0M889 740h0M884 738h0M770 754h0M707 800h0M765 785h0M769 885h0M799 852h0M803 724h0M764 864h0M724 838h0M839 902h0M766 735h0M716 838h0M726 763h0M870 722h0M708 763h0M811 723h0M829 636h0M848 735h0M750 878h0M791 778h0M820 929h0M826 802h0M835 777h0M738 811h0M730 781h0M717 834h0M805 761h0M878 831h0M765 818h0M711 783h0M788 754h0M819 928h0M823 915h0M747 819h0M812 895h0M813 833h0M762 830h0M715 784h0M869 722h0M832 746h0M753 773h0M881 754h0M780 827h0M785 896h0M818 783h0M795 912h0M849 900h0M792 743h0M765 862h0M856 892h0M732 811h0M789 916h0M726 869h0M876 731h0M857 761h0M865 732h0M797 758h0M817 737h0M755 843h0M859 870h0M847 862h0M788 837h0M896 760h0M901 736h0M839 742h0M755 820h0M838 794h0M711 796h0M853 751h0M733 812h0M799 813h0M736 864h0M824 765h0M731 878h0M847 836h0M839 848h0M757 825h0M862 865h0M897 742h0M792 864h0M817 833h0M834 896h0M768 816h0M746 895h0M738 872h0M835 735h0M796 904h0M773 872h0M765 809h0M832 733h0M757 822h0M752 865h0M860 808h0M811 826h0M837 855h0M828 922h0M770 850h0M740 803h0M749 831h0M731 823h0M793 765h0M722 788h0M748 876h0M870 856h0M892 841h0M785 911h0M795 915h0M832 747h0M693 768h0M871 726h0M768 764h0M860 859h0M780 828h0M856 736h0M892 742h0M817 724h0M772 780h0M762 876h0M759 745h0M777 776h0M868 856h0M819 903h0M763 780h0M819 725h0M900 757h0M825 849h0M812 863h0M856 852h0M740 771h0M755 772h0M725 812h0M812 782h0M733 847h0M775 844h0M713 803h0M811 764h0M822 898h0M824 841h0M747 892h0M729 757h0M728 863h0M746 782h0M792 868h0M760 909h0M760 737h0M872 868h0M758 849h0M774 771h0M905 740h0M843 897h0M924 793h0M748 754h0M800 793h0M772 807h0M747 859h0M815 839h0M805 836h0M835 786h0M813 891h0M779 904h0M766 868h0M774 830h0M886 722h0M903 744h0M723 819h0M746 777h0M756 823h0M893 732h0M880 733h0M766 771h0M786 878h0M774 750h0M729 766h0M766 736h0M729 829h0M761 763h0M803 880h0M851 836h0M785 844h0M825 865h0M739 844h0M758 817h0M843 847h0M792 726h0M776 783h0M750 793h0M833 766h0M841 800h0M810 870h0M754 856h0M779 831h0M893 816h0M825 847h0M789 752h0M803 867h0M788 825h0M777 894h0M810 742h0M738 823h0M718 803h0M833 908h0M837 778h0M765 856h0M786 928h0M754 808h0M729 758h0M825 761h0M765 774h0M761 777h0M802 783h0M784 823h0M741 790h0M824 797h0M885 751h0M829 840h0M755 859h0M815 726h0M706 773h0M769 869h0M908 840h0M842 856h0M775 912h0M688 762h0M812 852h0M881 758h0M792 895h0M891 829h0M780 746h0M779 873h0M785 835h0M816 883h0M923 805h0M884 855h0M852 762h0M815 897h0M823 751h0M834 921h0M753 854h0M841 907h0M743 793h0M820 823h0M814 730h0M787 732h0M754 770h0M874 877h0M818 826h0M796 779h0M724 755h0M821 926h0M846 736h0M795 816h0M840 796h0M828 908h0M732 777h0M726 835h0M759 915h0M774 777h0M799 801h0M855 767h0M779 753h0M867 732h0M848 901h0M703 778h0M847 782h0M881 835h0M806 910h0M737 840h0M760 899h0M766 856h0M777 860h0M837 844h0M788 886h0M878 739h0M733 795h0M769 743h0M792 842h0M768 777h0M870 852h0M902 750h0M710 822h0M707 765h0M840 774h0M807 731h0M736 855h0M794 826h0M792 895h0M861 732h0M698 772h0M854 828h0M906 824h0M729 838h0M745 847h0M735 795h0M893 816h0M905 830h0M841 786h0M827 879h0M765 756h0M774 768h0M859 865h0M803 804h0M873 828h0M864 852h0M853 878h0M889 732h0M778 849h0M728 827h0M770 774h0M801 882h0M772 778h0M709 765h0M763 886h0M922 803h0M755 758h0M731 840h0M768 845h0M816 764h0M896 752h0M743 850h0M836 721h0M836 866h0M766 792h0M715 765h0M868 873h0M806 918h0M847 867h0M824 885h0M799 842h0M771 732h0M760 859h0M786 931h0M799 857h0M845 838h0M804 817h0M834 752h0M774 924h0M788 884h0M822 794h0M724 791h0M843 749h0M809 917h0M746 860h0M775 771h0M803 799h0M776 770h0M746 840h0M761 831h0M832 760h0M835 876h0M771 845h0M782 761h0M719 788h0M761 769h0M848 882h0M789 758h0M840 821h0M860 754h0M859 843h0M750 905h0M768 785h0M854 749h0M767 746h0M846 765h0M839 887h0M841 864h0M811 786h0M876 846h0M722 809h0M777 893h0M857 826h0M831 906h0M828 761h0M853 749h0M788 738h0M825 814h0M841 861h0M873 819h0M889 736h0M773 753h0M839 788h0M845 877h0M889 822h0M883 840h0M771 882h0M781 821h0M748 751h0M749 793h0M891 745h0M815 830h0M901 831h0M870 759h0M743 819h0M730 831h0M831 866h0M822 738h0M897 823h0M844 760h0M800 885h0M782 921h0M810 729h0M856 845h0M832 735h0M778 784h0M742 828h0M791 732h0M735 878h0M738 843h0M811 914h0M739 819h0M799 739h0M718 863h0M796 753h0M840 857h0M748 853h0M801 766h0M784 808h0M792 766h0M702 760h0M812 875h0M800 928h0M851 735h0M875 732h0M874 846h0M732 800h0M851 845h0M867 841h0M828 918h0M843 864h0M715 864h0M725 877h0M821 754h0M797 783h0M871 743h0M872 818h0M862 723h0M805 664h0M809 821h0M782 922h0M790 723h0M856 878h0M790 897h0M754 813h0M786 910h0M785 722h0M816 842h0M713 840h0M772 865h0M797 759h0M748 879h0M758 776h0M839 867h0M763 860h0M763 786h0M809 886h0M746 894h0M728 860h0M813 804h0M886 736h0M824 876h0M736 783h0M772 815h0M793 784h0M804 744h0M733 811h0M892 741h0M753 876h0M883 828h0M746 792h0M780 878h0M813 782h0M789 745h0M830 788h0M790 787h0M875 832h0M808 922h0M728 875h0M865 860h0M817 874h0M781 732h0M748 908h0M763 883h0M761 835h0M841 784h0M848 721h0M842 872h0M786 829h0M838 854h0M789 874h0M865 828h0M803 899h0M757 897h0M800 762h0M832 898h0M804 804h0M744 788h0M816 781h0M767 879h0M860 837h0M794 765h0M835 810h0M902 752h0M856 817h0M834 816h0M805 915h0M835 873h0M784 828h0M876 854h0M832 879h0M740 756h0M842 858h0M858 890h0M827 910h0M767 906h0M853 736h0M769 818h0M903 826h0M743 811h0M850 802h0M832 739h0M872 874h0M809 795h0M805 930h0M851 737h0M791 887h0M719 851h0M765 754h0M809 900h0M825 901h0M740 763h0M863 840h0M821 895h0M897 852h0M799 863h0M725 781h0M820 746h0M783 826h0M774 865h0M812 786h0M911 833h0M891 745h0M813 722h0M837 845h0M730 764h0M712 787h0M765 860h0M761 735h0M713 836h0M838 748h0M791 751h0M844 730h0M838 838h0M820 794h0M848 720h0M831 854h0M833 899h0M766 863h0M833 923h0M784 806h0M799 891h0M841 858h0M844 797h0M764 813h0M763 911h0M792 745h0M743 788h0M857 863h0M727 857h0M694 773h0M775 780h0M871 831h0M867 755h0M810 809h0M758 825h0M821 743h0M768 887h0M813 915h0M771 914h0M839 809h0M823 830h0M817 821h0M727 796h0M790 792h0M857 831h0M845 881h0M831 905h0M772 830h0M767 899h0M804 884h0M777 839h0M860 726h0M845 891h0M868 842h0M731 835h0M829 917h0M832 928h0M797 791h0M736 783h0M821 768h0M738 772h0M734 806h0M760 830h0M849 722h0M750 782h0M893 833h0M827 738h0M754 792h0M722 848h0" stroke="#b09030" stroke-width="8.0" stroke-linecap="round" stroke-opacity="0.9" fill="none"/><path d="M959 601h0M1015 712h0M997 800h0M956 534h0M1063 675h0M973 775h0M1001 764h0M956 609h0M908 576h0M991 766h0M892 571h0M1060 670h0M1020 777h0M1050 651h0M1017 763h0M888 489h0M893 563h0M1025 741h0M1045 689h0M978 781h0M961 512h0M884 513h0M977 580h0M909 576h0M1002 645h0M925 588h0M882 538h0M945 603h0M1018 594h0M933 573h0M933 497h0M913 536h0M992 682h0M917 582h0M893 581h0M1041 625h0M911 590h0M1004 625h0M1007 776h0M1063 718h0M977 556h0M926 577h0M1038 751h0M1003 735h0M1033 595h0M998 606h0M994 688h0M907 489h0M1004 552h0M1075 672h0M916 493h0M1028 742h0M897 514h0M1048 663h0M934 526h0M1047 667h0M926 571h0M997 787h0M1018 731h0M997 586h0M1013 595h0M995 707h0M910 506h0M1054 669h0M1037 709h0M1029 690h0M890 564h0M983 549h0M1004 577h0M1009 573h0M1038 735h0M911 501h0M993 626h0M919 567h0M901 568h0M987 558h0M988 676h0M990 799h0M929 584h0M1028 669h0M1051 725h0M965 776h0M1008 607h0M1029 654h0M1030 632h0M1022 803h0M1041 749h0M1018 642h0M1063 743h0M1006 658h0M896 579h0M956 513h0M1001 574h0M933 536h0M972 573h0M928 597h0M1032 762h0M905 558h0M900 549h0M981 772h0M908 543h0M1019 769h0M868 573h0M896 552h0M1045 704h0M1002 730h0M990 722h0M939 572h0M1010 752h0M961 597h0M953 535h0M1050 603h0M1004 693h0M1064 726h0M894 496h0M868 553h0M1022 560h0M996 655h0M992 534h0M1070 677h0M980 627h0M949 589h0M956 602h0M1041 775h0M1015 691h0M1009 747h0M991 679h0M1010 628h0M1056 657h0M933 503h0M1003 585h0M882 518h0M1011 729h0M1065 703h0M869 548h0M1033 620h0M1025 784h0M955 524h0M996 659h0M1012 562h0M967 571h0M988 564h0M1040 625h0M1036 651h0M1019 572h0M992 786h0M1054 683h0M964 581h0M1020 697h0M979 553h0M851 571h0M858 586h0M1073 699h0M1041 758h0M1039 778h0M1003 532h0M966 576h0M857 572h0M1032 772h0M993 595h0M1025 797h0M958 602h0M1016 641h0M922 538h0M1023 615h0M906 576h0M988 547h0M1035 720h0M920 588h0M920 539h0M998 804h0M894 571h0M959 612h0M1035 626h0M904 532h0M906 571h0M982 643h0M997 747h0M997 577h0M1015 636h0M883 534h0M1027 688h0M1019 724h0M902 538h0M1044 591h0M992 541h0M1025 765h0M918 593h0M881 562h0M1032 587h0M959 521h0M895 495h0M1031 759h0M1015 712h0M1006 553h0M905 516h0M1041 655h0M1020 556h0M1026 678h0M983 605h0M1049 741h0M906 489h0M1019 706h0M1025 678h0M967 509h0M892 484h0M1037 749h0M995 667h0M944 573h0M897 510h0M987 588h0M935 522h0M955 564h0M1036 717h0M924 508h0M1016 596h0M989 540h0M1048 761h0M980 555h0M988 785h0M950 533h0M943 578h0M1021 607h0M925 490h0M993 609h0M975 578h0M1021 559h0M993 609h0M983 760h0M894 525h0M959 541h0M933 546h0M963 531h0M906 530h0M1038 753h0M993 565h0M969 785h0M930 521h0M1001 739h0M1033 694h0M974 524h0M989 719h0M921 592h0M1040 720h0M994 632h0M1044 589h0M1007 745h0M911 525h0M928 595h0M1036 668h0M968 622h0M1002 544h0M1036 639h0M936 561h0M972 546h0M904 590h0M1015 775h0M1046 732h0M985 736h0M931 534h0M1001 789h0M984 750h0M989 579h0M898 550h0M1030 624h0M968 621h0M1018 733h0M970 511h0M1023 594h0M962 581h0M975 645h0M998 792h0M934 510h0M1037 584h0M994 528h0M1067 677h0M923 535h0M859 580h0M1060 739h0M1035 751h0M1056 617h0M1022 632h0M1008 664h0M985 588h0M1073 685h0M974 643h0M908 521h0M1059 612h0M1002 742h0M988 649h0M1029 659h0M953 540h0M956 529h0M1032 697h0M1039 600h0M1010 762h0M908 493h0M1001 683h0M901 511h0M992 766h0M1000 782h0M912 570h0M947 528h0M1002 569h0M1012 579h0M991 780h0M934 565h0M991 727h0M1062 740h0M1039 765h0M953 566h0M987 666h0M967 561h0M1009 792h0M893 580h0M1014 617h0M992 630h0M1019 721h0M939 558h0M906 515h0M877 571h0M1025 655h0M1026 718h0M974 547h0M1003 656h0M1039 645h0M988 779h0M1024 640h0M913 537h0M1055 634h0M1027 618h0M1029 645h0M1008 687h0M1065 709h0M895 531h0M930 600h0M905 540h0M866 578h0M983 790h0M965 790h0M1033 767h0M924 572h0M995 697h0M911 581h0M1073 682h0M998 712h0M1003 767h0M918 536h0M954 504h0M1012 743h0M1008 614h0M975 765h0M941 600h0M988 787h0M996 786h0M933 499h0M917 529h0M996 541h0M1015 669h0M1057 735h0M914 553h0M1049 730h0M1024 606h0M960 609h0M1057 702h0M975 542h0M1022 686h0M1034 706h0M983 775h0M972 644h0M1024 745h0M1023 754h0M968 557h0M995 629h0M1027 597h0M1000 767h0M992 598h0M997 570h0M1026 693h0M906 583h0M1018 669h0M1036 741h0M1008 554h0M1028 706h0M1058 653h0M973 764h0M920 509h0M1009 768h0M899 549h0M920 492h0M1021 712h0M872 571h0M879 530h0M1029 581h0M1015 685h0M883 523h0M946 576h0M992 527h0M878 573h0M1026 686h0M1039 747h0M1038 740h0M1025 641h0M1016 722h0M1063 680h0M1022 668h0M967 566h0M982 772h0M987 638h0M1067 696h0M1022 669h0M950 543h0M977 607h0M929 487h0M876 544h0M1058 672h0M991 654h0M908 572h0M1052 601h0M906 484h0M911 516h0M862 590h0M965 520h0M920 556h0M991 658h0M990 626h0M1008 717h0M954 598h0M988 605h0M1003 736h0M1026 634h0M967 564h0M913 525h0M971 634h0M987 573h0M1041 645h0M916 512h0M910 554h0M1023 642h0M964 580h0M970 591h0M1037 680h0M999 632h0M961 526h0M1014 750h0M1001 672h0M1006 566h0M923 503h0M1038 703h0M913 537h0M879 528h0M979 588h0M1022 710h0M923 518h0M982 771h0M1006 607h0M886 519h0M1067 700h0M1023 589h0M1021 716h0M988 548h0M1023 560h0M944 582h0M1028 772h0M1011 541h0M986 614h0M881 551h0M1031 644h0M887 492h0M1055 724h0M1006 716h0M942 546h0M905 515h0M961 587h0M908 529h0M952 537h0M974 509h0M1046 723h0M1041 741h0M938 519h0M904 494h0M1020 801h0M912 570h0M872 558h0M989 632h0M1015 563h0M957 509h0M925 510h0M1033 656h0M911 591h0M981 765h0M914 543h0M942 513h0M942 553h0M1013 771h0M1043 774h0M1063 651h0M1020 602h0M1036 744h0M971 523h0M977 528h0M949 512h0M986 550h0M996 776h0M1050 625h0M895 582h0M894 520h0M933 593h0M991 625h0M1042 683h0M1044 725h0M1048 705h0M1020 618h0M1036 617h0M925 533h0M882 568h0M940 530h0M1003 727h0M968 538h0M1011 744h0M1049 661h0M1028 727h0M968 634h0M979 620h0M1051 628h0M1023 765h0M901 549h0M1041 751h0M994 765h0M1045 694h0M888 547h0M1045 643h0M867 525h0M975 543h0M892 577h0M1000 653h0M993 705h0M1046 668h0M957 518h0M964 516h0M997 769h0M1026 733h0M1009 672h0M1060 742h0M1008 784h0M1004 652h0M978 564h0M993 701h0M1047 643h0M891 564h0M967 547h0M960 510h0M879 540h0M960 620h0M1002 668h0M1031 791h0M1003 725h0M896 515h0M1027 609h0M894 541h0M959 535h0M989 523h0M1011 752h0M992 747h0M916 532h0M1002 629h0M1048 736h0M986 519h0M1029 796h0M1024 684h0M1006 717h0M925 592h0M990 631h0M1044 719h0M957 566h0M1060 703h0M970 527h0M1020 749h0M993 544h0M969 576h0M959 517h0M997 661h0M896 500h0M1001 550h0M975 534h0M990 717h0M1027 763h0M985 656h0M918 587h0M892 565h0M1024 656h0M1000 651h0M1013 730h0M996 760h0M1062 728h0M962 543h0M1015 760h0M1022 680h0M945 583h0M1028 641h0M1004 603h0M982 773h0M921 582h0M893 515h0M999 596h0M862 560h0M984 731h0M877 561h0M984 747h0M924 534h0M1021 583h0M983 571h0M1025 721h0M1028 696h0M996 736h0M903 517h0M1014 724h0M975 536h0M982 536h0M942 591h0M898 497h0M975 607h0M984 521h0M1000 761h0M994 632h0M1032 727h0M1020 592h0M992 683h0M966 615h0M1043 666h0M881 549h0M986 562h0M1036 591h0M1002 567h0M1026 576h0M919 523h0M894 538h0M1003 719h0M887 559h0M996 691h0M985 599h0M978 531h0M900 544h0M1053 622h0M936 535h0M906 527h0M1041 748h0M938 583h0M903 490h0M998 563h0M897 573h0M884 504h0M899 517h0M1023 793h0M1014 674h0M949 518h0M920 497h0M967 787h0M903 553h0M1036 608h0M917 537h0M1023 589h0M1020 610h0M895 504h0M948 524h0M986 599h0M1043 712h0M985 660h0M1030 587h0M1042 764h0M1009 568h0M944 561h0M989 554h0M1051 677h0M1036 788h0M974 641h0M1069 688h0M889 527h0M993 703h0M1049 594h0M970 524h0M996 546h0M904 545h0M1055 676h0M1011 632h0M1007 697h0M973 541h0M1035 779h0M1042 705h0M1048 769h0M1007 780h0M892 565h0M886 552h0M1010 763h0M959 605h0M1050 759h0M1018 726h0M1018 626h0M1044 738h0M927 551h0M1021 757h0M978 574h0M1022 725h0M1031 777h0M887 551h0M907 511h0M885 493h0M885 493h0M915 539h0M995 747h0M1031 578h0M1040 715h0M979 606h0M1063 673h0M1030 663h0M925 598h0M1026 582h0M887 583h0M915 538h0M1015 786h0M1047 709h0M1033 658h0M1003 781h0M1019 633h0M1044 698h0M987 790h0M932 576h0M1051 624h0M896 523h0M1024 665h0M874 562h0M1056 642h0M926 556h0M998 556h0M1034 754h0M1027 592h0M1017 756h0M903 516h0M1018 766h0M995 683h0M1041 714h0M908 516h0M989 805h0M1015 750h0M927 598h0M995 581h0M907 491h0M921 587h0M968 568h0M995 539h0M1046 666h0M999 693h0M1011 711h0M1039 766h0M1038 738h0M991 800h0M1014 759h0M1023 624h0M908 574h0M1008 688h0M922 572h0M985 727h0M989 695h0M1057 688h0M938 554h0M1037 715h0M1009 614h0M846 580h0M968 531h0M886 495h0M933 584h0M1049 757h0M984 606h0M1021 718h0M923 559h0M1035 776h0M955 555h0M1021 633h0M1024 568h0M983 759h0" stroke="#303060" stroke-width="8.0" stroke-linecap="round" stroke-opacity="0.9" fill="none"/><path d="M670 650h0M662 707h0M673 759h0M661 644h0M738 662h0M784 683h0M698 750h0M694 738h0M737 656h0M636 722h0M750 708h0M713 652h0M741 662h0M651 667h0M675 715h0M646 752h0M664 693h0M657 684h0M686 690h0M683 622h0M655 663h0M706 740h0M664 723h0M678 666h0M765 687h0M713 715h0M651 673h0M675 642h0M670 665h0M669 611h0M675 646h0M772 723h0M681 622h0M656 687h0M718 749h0M743 736h0M672 688h0M788 694h0M712 673h0M674 670h0M626 722h0M664 706h0M765 715h0M721 722h0M661 750h0M677 718h0M756 694h0M706 663h0M729 699h0M725 715h0M758 734h0M784 728h0M653 743h0M731 741h0M637 742h0M742 744h0M694 671h0M695 692h0M644 718h0M756 690h0M790 682h0M752 708h0M659 625h0M738 682h0M696 704h0M682 724h0M669 623h0M681 680h0M606 740h0M676 756h0M780 728h0M640 741h0M724 655h0M666 699h0M633 749h0M757 706h0M715 740h0M730 646h0M701 638h0M653 641h0M743 662h0M668 738h0M756 734h0M677 740h0M759 689h0M671 730h0M684 744h0M771 707h0M693 715h0M658 628h0M721 721h0M683 743h0M624 712h0M699 623h0M777 693h0M684 677h0M679 609h0M661 668h0M634 738h0M691 748h0M761 711h0M642 735h0M709 721h0M630 717h0M634 752h0M675 752h0M729 711h0M771 714h0M691 621h0M647 659h0M696 654h0M804 714h0M731 696h0M632 725h0M652 637h0M647 683h0M705 643h0M741 653h0M750 682h0M693 744h0M776 697h0M741 657h0M710 719h0M755 655h0M640 740h0M780 696h0M687 674h0M766 702h0M656 741h0M736 711h0M687 654h0M691 665h0M670 717h0M658 669h0M699 685h0M692 684h0M662 720h0M703 659h0M670 716h0M765 723h0M681 618h0M653 688h0M710 741h0M754 734h0M700 675h0M695 737h0M647 723h0M663 726h0M668 639h0M665 671h0M705 632h0M641 728h0M698 734h0M738 704h0M709 646h0M647 636h0M778 690h0M680 696h0M675 639h0M676 754h0M672 606h0M758 724h0M706 750h0M680 595h0M800 717h0M680 645h0M645 638h0M708 701h0M659 748h0M717 662h0M689 659h0M684 597h0M769 691h0M673 716h0M690 629h0M732 692h0M721 668h0M677 691h0M759 681h0M688 716h0M747 724h0M749 663h0M635 664h0M713 641h0M718 712h0M678 621h0M719 731h0M712 648h0M700 738h0M710 703h0M673 648h0M682 711h0M694 678h0M678 724h0M713 714h0M747 711h0M626 734h0M660 708h0M783 714h0M663 628h0M645 654h0M742 663h0M660 725h0M618 742h0M661 641h0M717 669h0M704 730h0M740 684h0M707 637h0M671 719h0M695 640h0M754 677h0M774 722h0M663 736h0M639 657h0M660 633h0M672 610h0M741 706h0M662 674h0M771 711h0M750 721h0M711 647h0M705 627h0M693 619h0M771 723h0M681 745h0M747 708h0M710 636h0M784 683h0M678 720h0M688 734h0M680 763h0M621 735h0M674 618h0M655 706h0M652 688h0M658 699h0M750 671h0M662 739h0M720 714h0M718 670h0M716 662h0M661 640h0M659 732h0M666 725h0M725 747h0M731 728h0M639 737h0M672 691h0M742 734h0M705 693h0M694 614h0M734 744h0M667 708h0M660 651h0M692 694h0M722 703h0M690 729h0M671 645h0M742 719h0M637 739h0M795 716h0M656 646h0M622 726h0M781 722h0M615 742h0M758 676h0M706 644h0M751 694h0M698 633h0M713 666h0M695 739h0M677 743h0M742 702h0M773 699h0M680 618h0M690 674h0M696 751h0M728 741h0M766 734h0M776 724h0M752 676h0M628 718h0M628 732h0M680 624h0M629 741h0M748 727h0M621 711h0M639 738h0M721 736h0M678 632h0M654 733h0M666 739h0M730 730h0M650 666h0M657 708h0M648 660h0M680 677h0M652 738h0M693 626h0M662 643h0M699 679h0M763 694h0M673 642h0M652 677h0M672 718h0M695 747h0M686 734h0M608 742h0M680 673h0M692 646h0M676 704h0M729 727h0M631 664h0M716 701h0M669 726h0M617 733h0M731 699h0M716 725h0M709 733h0M726 688h0M715 706h0M712 646h0M777 729h0M720 706h0M676 658h0M667 713h0M785 714h0M735 715h0M633 725h0M644 737h0M767 667h0M647 689h0M661 728h0M695 683h0M743 675h0M691 618h0M792 729h0M705 710h0M758 706h0M708 659h0M764 693h0M709 723h0M622 754h0M684 717h0M676 697h0M732 708h0M702 680h0M753 674h0M663 650h0M764 716h0M720 669h0M655 650h0M687 748h0M701 681h0M682 672h0M642 662h0M667 700h0M769 712h0M745 679h0M632 717h0M786 711h0M736 742h0M758 688h0M782 692h0M718 728h0M748 733h0M780 726h0M675 749h0M700 686h0M686 650h0M633 729h0M661 736h0M810 719h0M645 743h0M745 656h0M644 649h0M736 686h0M690 743h0M702 739h0M684 719h0M660 753h0M734 676h0M777 687h0M649 640h0M669 743h0M648 739h0M731 692h0M716 697h0M640 729h0M726 685h0M637 719h0M650 656h0M685 671h0M661 616h0M735 733h0M730 710h0M656 729h0M643 725h0M750 734h0M715 743h0M647 655h0M727 739h0M723 682h0M611 737h0M697 743h0M749 732h0M669 643h0M623 753h0M685 622h0M656 729h0M623 719h0M730 724h0M706 668h0M680 599h0M683 654h0M640 737h0M687 683h0M708 704h0M722 667h0M640 673h0M647 742h0M713 629h0M640 650h0M701 734h0M768 689h0M756 683h0M699 659h0M667 708h0M744 715h0M625 748h0M758 722h0M672 624h0M717 717h0M770 687h0M640 730h0M708 646h0M742 719h0M637 738h0M797 724h0M688 666h0M693 648h0M668 658h0M630 728h0M718 682h0M725 705h0" stroke="#507050" stroke-width="8.0" stroke-linecap="round" stroke-opacity="0.9" fill="none"/><path d="M724 632h0M866 506h0M747 554h0M759 656h0M817 529h0M823 636h0M742 528h0M799 492h0M837 583h0M844 541h0M794 599h0M780 563h0M801 494h0M688 591h0M769 556h0M794 497h0M779 684h0M763 640h0M801 557h0M753 523h0M849 553h0M790 563h0M764 618h0M742 640h0M700 593h0M763 592h0M820 572h0M773 503h0M791 552h0M703 605h0M752 512h0M712 626h0M802 602h0M785 606h0M779 608h0M727 570h0M797 507h0M716 570h0M792 619h0M732 635h0M831 574h0M773 660h0M739 602h0M834 550h0M794 662h0M871 495h0M719 619h0M845 610h0M775 604h0M859 559h0M763 618h0M785 573h0M810 641h0M765 666h0M849 474h0M852 507h0M795 488h0M793 496h0M724 639h0M714 620h0M790 646h0M720 572h0M838 553h0M822 567h0M811 527h0M790 676h0M853 544h0M801 551h0M753 604h0M840 509h0M785 684h0M770 641h0M802 659h0M845 565h0M700 581h0M716 581h0M795 674h0M773 677h0M763 673h0M774 621h0M733 576h0M861 484h0M729 615h0M812 618h0M822 590h0M721 607h0M707 618h0M850 476h0M776 556h0M779 601h0M746 644h0M854 529h0M871 485h0M824 644h0M813 627h0M828 568h0M769 525h0M814 638h0M769 585h0M877 509h0M779 675h0M722 627h0M727 622h0M699 608h0M857 492h0M759 632h0M794 661h0M806 514h0M835 548h0M771 564h0M762 561h0M745 650h0M865 525h0M828 524h0M715 614h0M703 611h0M785 666h0M768 552h0M768 529h0M754 583h0M832 496h0M853 505h0M847 574h0M785 598h0M754 537h0M855 489h0M785 591h0M805 649h0M751 660h0M743 521h0M762 583h0M742 610h0M745 637h0M785 575h0M860 516h0M793 551h0M815 506h0M756 584h0M774 537h0M778 650h0M759 651h0M783 647h0M838 562h0M863 518h0M747 626h0M778 588h0M789 604h0M852 486h0M803 572h0M779 503h0M738 591h0M755 609h0M846 491h0M840 544h0M835 527h0M865 544h0M747 526h0M825 585h0M855 484h0M797 650h0M872 486h0M728 554h0M800 506h0M796 530h0M817 543h0M833 487h0M756 613h0M805 663h0M742 609h0M788 634h0M728 631h0M852 535h0M841 512h0M840 510h0M814 520h0M745 653h0M823 527h0M818 580h0M720 610h0M717 629h0M724 590h0M720 622h0M764 621h0M756 654h0M751 609h0M763 605h0M720 583h0M755 557h0M779 540h0M837 486h0M735 594h0M784 671h0M753 561h0M850 476h0M760 627h0M772 555h0M786 668h0M846 553h0M859 557h0M749 637h0M830 537h0M723 641h0M820 545h0M758 549h0M752 615h0M758 576h0M810 565h0M759 662h0M787 667h0M831 610h0M788 505h0M866 496h0M742 639h0M704 594h0M805 643h0M821 529h0M793 595h0M702 624h0M855 577h0M737 593h0M764 609h0M702 590h0M869 512h0M818 628h0M800 619h0M757 570h0M701 608h0M805 636h0M782 510h0M723 632h0M755 573h0M764 619h0M816 541h0M830 609h0M839 594h0M745 641h0M845 545h0M735 629h0M814 609h0M831 518h0M863 518h0M693 592h0M731 599h0M786 632h0M801 504h0M857 532h0M790 562h0M760 514h0M724 559h0M755 561h0M828 601h0M734 579h0M798 589h0M735 607h0M735 562h0M798 581h0M766 547h0M772 584h0M724 559h0M793 613h0M861 490h0M741 658h0M815 597h0M816 571h0M780 607h0M786 496h0M692 592h0M791 550h0M851 575h0M745 615h0M704 596h0M789 662h0M767 591h0M802 556h0M781 633h0M843 595h0M753 517h0M821 487h0M712 618h0M803 638h0M865 527h0M839 584h0M845 580h0M755 572h0M757 578h0M757 636h0M801 570h0M878 494h0M693 606h0M776 597h0M761 673h0M747 547h0M864 568h0M767 662h0M774 685h0M849 534h0M745 523h0M771 644h0M792 592h0M767 562h0M819 610h0M861 539h0M729 567h0M763 671h0M718 607h0M727 596h0M815 533h0M835 593h0M796 650h0M703 609h0M750 584h0M768 526h0M752 567h0M796 681h0M782 591h0M781 506h0M790 631h0M789 498h0M770 660h0M747 635h0M864 575h0M836 612h0M816 568h0M831 502h0M714 616h0M848 502h0M782 538h0M734 621h0M837 549h0M810 569h0M802 628h0M759 534h0M815 616h0M775 582h0M805 558h0M765 546h0M749 579h0M769 601h0M744 643h0M717 604h0M738 587h0M802 612h0M827 531h0M685 594h0M740 613h0M787 656h0M829 530h0M743 647h0M777 660h0M885 494h0M759 568h0M765 668h0M776 509h0M816 489h0M745 547h0M724 575h0M807 606h0M837 533h0M822 589h0M739 539h0M787 686h0M859 496h0M759 574h0M856 565h0M863 522h0M798 666h0M755 555h0M705 609h0M879 509h0M797 595h0M764 581h0M733 542h0M717 563h0M743 600h0M827 614h0M727 565h0M770 521h0M793 571h0M787 506h0M822 498h0M852 476h0M756 518h0M725 568h0M717 569h0M784 511h0M759 529h0M793 547h0M865 563h0M754 522h0M718 625h0M775 575h0M875 506h0M796 500h0M778 571h0M815 578h0M705 581h0M822 614h0M779 640h0M739 596h0M748 599h0M749 634h0M833 540h0M697 622h0M782 641h0M743 602h0M804 598h0M819 528h0M834 485h0M728 616h0M734 618h0M826 633h0M718 576h0M843 596h0M720 575h0M851 567h0M757 612h0M700 614h0M728 557h0M775 671h0M748 549h0M835 540h0M801 524h0M787 662h0M719 644h0M857 562h0M790 609h0M758 560h0M759 637h0M774 695h0M756 662h0M730 551h0M710 589h0M733 630h0M850 524h0M809 543h0M871 502h0M697 607h0M706 573h0M815 654h0M793 643h0M804 499h0M689 595h0M757 512h0M813 552h0M788 544h0M773 516h0M770 587h0M773 544h0M832 571h0M811 564h0M877 500h0M804 650h0M827 560h0M803 511h0M782 619h0M799 550h0M799 579h0M801 574h0M755 555h0M750 575h0M822 550h0M805 656h0M820 605h0M763 513h0M759 581h0M852 520h0M741 617h0M746 613h0M764 673h0M821 506h0M796 626h0M807 572h0M814 499h0M807 529h0M775 663h0M834 483h0M776 569h0M816 498h0M744 635h0M780 593h0M796 597h0M803 538h0M803 585h0M734 573h0M733 546h0M841 550h0M775 513h0M765 552h0M779 626h0M801 622h0M831 534h0M839 549h0M846 482h0M834 559h0M825 571h0M744 611h0M750 517h0M815 574h0M741 618h0M789 505h0M696 601h0M789 602h0M752 603h0M731 578h0M788 575h0M781 565h0M764 569h0M708 598h0M787 601h0M790 565h0M751 539h0M801 640h0M706 572h0M842 522h0M770 543h0M841 576h0M820 513h0M818 570h0M795 605h0M775 596h0M860 482h0M753 657h0M796 594h0M749 519h0M838 501h0M728 620h0M808 643h0M805 640h0M850 535h0M755 621h0M733 608h0M817 602h0M779 667h0M830 533h0M804 655h0M700 608h0M797 601h0M776 519h0M833 575h0M718 589h0M797 626h0M808 534h0M849 536h0M764 676h0M848 574h0M798 556h0M788 508h0M785 684h0M807 512h0M813 614h0M771 551h0M814 653h0M728 625h0M762 582h0" stroke="#205060" stroke-width="8.0" stroke-linecap="round" stroke-opacity="0.9" fill="none"/></g><clipPath id="cbig2"><path d="M731.5,528.8L737.5,524.5L737.3,517.0L741.2,513.1L745.9,510.5L751.0,508.8L754.7,504.6L761.0,506.4L762.9,497.9L769.5,500.5L776.8,500.7L779.5,492.7L785.7,491.0L791.4,488.9L796.2,485.0L801.9,482.8L808.5,485.2L813.7,476.7L820.4,480.4L826.0,477.9L831.7,476.0L838.4,477.5L843.5,473.3L848.5,469.2L854.9,469.8L861.9,470.6L868.8,472.2L874.4,471.5L879.2,474.6L884.1,477.0L889.6,476.9L895.7,475.4L900.8,481.1L906.7,481.5L912.7,480.4L917.0,483.1L921.3,485.6L927.0,484.0L931.3,486.8L935.8,488.7L941.4,489.8L945.3,493.9L949.0,498.2L955.0,498.8L958.9,502.9L963.9,504.5L968.8,506.3L973.5,508.3L978.0,511.0L981.9,514.7L986.6,516.4L992.0,515.9L995.6,520.4L1000.4,521.7L1001.0,527.9L1005.7,530.3L1010.4,532.8L1014.8,535.5L1016.6,540.6L1021.0,544.0L1019.8,551.5L1025.7,553.7L1030.0,557.1L1031.6,562.5L1035.1,566.6L1034.6,574.0L1041.3,576.2L1043.6,581.5L1047.4,585.9L1051.2,590.2L1054.2,594.6L1058.0,598.5L1058.8,604.0L1060.5,609.1L1061.5,615.4L1060.4,621.8L1062.2,628.0L1063.1,633.6L1065.4,638.4L1069.0,642.5L1072.0,646.9L1071.9,653.4L1077.0,658.2L1074.6,665.4L1079.0,670.5L1077.3,676.3L1078.4,682.4L1076.2,688.1L1076.6,694.1L1075.0,700.0L1070.8,705.2L1068.3,710.8L1069.7,717.7L1063.9,722.7L1070.3,730.1L1069.3,736.0L1065.1,741.3L1064.4,747.5L1061.3,753.0L1058.1,758.4L1058.1,764.9L1054.8,769.3L1056.4,776.6L1050.4,779.4L1045.6,782.8L1044.3,788.5L1040.0,791.7L1035.2,794.3L1032.5,799.5L1028.1,802.7L1022.5,804.9L1016.5,805.9L1010.5,807.2L1005.0,809.8L999.3,808.8L993.5,808.3L987.6,809.5L981.9,807.4L977.2,803.7L971.7,801.3L967.6,796.4L961.2,795.6L960.0,788.3L954.3,783.8L958.4,779.3L961.3,773.8L965.8,769.6L966.9,763.7L971.2,759.4L972.9,753.8L975.0,748.4L975.7,743.0L977.9,738.0L977.9,732.4L982.0,728.0L981.9,722.4L981.5,716.7L985.5,711.3L984.2,705.5L985.1,699.9L984.3,694.1L980.8,688.7L982.4,682.2L982.4,676.1L979.7,670.5L976.0,666.5L975.7,661.3L974.6,656.3L972.8,651.6L966.9,648.7L966.4,641.7L963.8,636.3L958.9,632.7L953.9,629.1L952.5,622.8L946.2,620.3L945.0,613.8L940.3,611.5L934.2,612.3L932.3,604.5L926.6,604.4L921.1,601.8L915.0,600.9L908.7,600.7L903.4,597.3L900.1,592.4L896.1,588.7L889.6,590.2L883.4,588.8L885.5,580.6L880.3,578.4L874.2,577.5L871.1,583.1L867.5,586.6L867.0,592.6L861.9,594.9L856.4,595.6L852.8,600.0L848.1,602.0L846.1,608.2L844.2,614.4L838.8,618.5L836.1,624.5L834.0,630.7L834.2,637.4L830.5,643.1L825.0,646.9L821.1,651.0L821.3,657.7L814.9,660.1L813.4,665.8L810.1,669.5L807.2,673.6L803.9,677.2L799.0,679.6L797.2,684.6L791.7,686.2L787.4,689.5L783.3,693.2L778.8,696.4L773.6,695.7L768.5,693.9L763.2,694.2L758.0,694.1L756.5,688.7L752.0,685.2L745.3,683.0L749.0,674.5L748.4,668.6L742.4,665.9L738.7,661.9L735.9,657.4L733.2,652.7L730.7,648.0L730.8,642.8L728.4,637.6L729.7,632.4L728.7,627.3L731.4,622.1L730.3,616.9L732.0,611.7L730.6,606.5L733.1,601.4L731.5,596.2L735.8,591.0L727.0,585.8L729.8,580.6L733.1,575.5L736.7,570.3L730.7,565.1L731.4,559.9L730.8,554.7L734.2,549.6L730.8,544.3L732.9,539.2L730.8,534.0ZM735.8,532.2L741.3,529.8L746.4,529.0L749.8,537.5L756.0,530.9L760.3,534.8L765.3,534.4L770.4,533.9L774.1,540.8L779.6,538.0L785.1,536.0L789.5,539.6L794.5,539.8L799.3,541.2L804.2,542.2L808.7,545.0L814.3,542.4L819.3,543.1L823.0,550.0L828.5,548.0L832.0,552.1L838.3,552.8L841.7,557.0L844.5,562.0L848.3,565.7L849.8,572.2L857.6,571.1L860.5,575.9L861.0,583.7L868.7,582.7L867.8,588.9L860.1,588.8L858.5,594.4L854.3,597.7L852.8,603.4L848.1,606.0L843.7,610.2L843.0,616.9L839.5,621.6L835.3,626.0L830.4,630.7L830.0,637.0L829.4,643.3L827.3,649.0L820.5,651.0L821.4,658.6L817.6,662.7L814.2,667.2L811.2,672.0L806.9,675.4L801.0,677.2L800.6,684.3L797.5,688.8L792.0,691.0L789.4,696.0L786.1,701.8L780.1,703.8L774.6,706.4L769.8,710.0L764.4,711.0L759.3,712.8L755.1,717.5L749.4,717.4L744.2,719.0L738.7,718.5L734.1,721.7L729.3,724.2L723.7,723.5L719.5,728.7L714.6,730.6L708.6,728.2L704.3,723.1L698.1,727.8L693.5,724.4L688.0,725.3L683.2,723.1L678.4,720.2L673.0,721.0L667.9,720.2L662.5,720.1L658.5,716.3L653.9,713.9L651.1,706.8L644.5,710.0L637.2,708.5L637.9,700.5L634.1,696.1L630.3,691.8L632.2,685.8L630.7,680.6L628.5,675.5L626.2,670.4L627.5,665.5L628.5,660.6L630.7,655.8L629.5,650.5L631.8,646.1L635.4,642.4L639.5,639.2L640.7,634.0L643.4,628.4L647.6,623.6L648.9,617.3L650.2,611.5L655.4,609.0L659.6,605.7L661.8,600.7L665.8,597.0L672.2,597.5L675.5,592.6L677.6,585.7L684.6,587.4L687.9,583.1L693.9,582.3L698.2,579.3L702.5,576.3L704.2,570.0L708.9,567.5L713.6,563.6L718.6,559.8L715.7,550.6L725.7,550.3L725.1,542.7L727.4,538.1L730.2,533.8L731.5,528.8ZM602.1,736.0L605.4,729.8L603.6,723.0L607.5,718.9L610.4,714.0L615.3,712.1L620.2,710.0L626.3,706.7L632.9,709.0L638.9,710.6L644.6,713.0L648.0,717.7L650.5,723.0L650.1,728.0L650.4,733.1L649.1,738.0L648.5,743.0L646.5,747.7L645.0,752.7L640.7,756.0L633.8,758.3L628.0,763.0L621.8,760.7L615.3,761.0L612.1,754.6L605.5,752.0L604.4,746.7L602.7,741.5ZM644.6,720.0L650.0,719.5L655.4,720.0L660.3,716.1L666.0,719.2L671.1,716.2L676.1,713.1L681.8,716.0L686.5,713.9L691.8,716.0L696.6,714.7L701.0,710.8L706.4,714.0L711.1,712.0L716.0,711.6L721.0,712.6L725.8,712.2L730.6,708.8L735.6,711.9L740.5,711.0L745.3,709.3L750.5,713.6L755.3,711.4L760.0,709.5L764.9,709.0L769.6,706.3L774.7,708.1L779.6,707.9L784.5,707.0L789.8,705.1L793.6,713.3L799.0,710.1L804.1,710.0L808.2,714.7L814.3,709.6L818.0,716.5L823.6,714.0L829.7,712.1L834.9,714.6L840.2,717.0L845.2,717.7L850.0,716.1L854.4,710.3L859.8,715.0L865.8,712.9L871.4,717.5L877.4,716.0L882.0,721.5L887.8,720.0L893.6,718.4L898.9,720.0L900.0,726.7L906.4,731.0L906.7,738.0L908.0,743.5L913.9,746.7L913.6,753.0L916.3,758.0L919.2,762.9L920.1,768.9L924.3,773.0L926.7,777.8L925.3,783.9L929.9,787.9L931.2,793.0L928.2,797.6L927.1,802.6L931.4,809.0L926.3,813.0L924.3,818.0L922.3,823.0L922.0,828.6L918.5,833.0L914.8,837.4L914.3,844.1L907.5,846.1L904.3,850.7L901.9,856.0L897.4,858.8L890.4,858.4L889.2,865.4L885.5,869.2L882.5,873.9L877.4,876.0L873.3,879.8L871.6,885.9L864.3,886.9L862.7,893.0L860.7,898.8L856.1,902.8L849.6,905.6L850.0,913.0L844.8,915.3L843.0,920.7L837.8,923.0L836.8,929.1L833.4,933.0L828.3,931.9L823.6,934.3L819.0,937.0L813.7,934.7L808.7,934.3L804.1,937.0L798.9,936.2L793.6,936.3L789.1,933.6L783.0,936.0L779.2,930.8L774.7,928.0L768.6,927.0L767.2,918.2L759.4,920.1L753.4,918.9L750.3,913.0L747.7,907.6L742.2,905.3L738.6,900.9L734.9,896.7L730.7,893.0L728.1,888.7L724.2,885.5L723.5,879.7L719.9,876.3L716.0,873.0L713.1,868.4L711.8,863.1L708.3,858.8L708.8,852.8L706.3,848.0L707.3,842.8L706.7,837.9L706.1,832.9L704.0,828.0L707.2,822.7L703.3,818.0L701.9,813.1L701.4,808.0L699.7,803.1L699.4,798.0L696.4,792.9L692.6,788.3L693.5,780.6L686.7,778.0L682.2,774.5L675.2,775.9L672.0,770.0L666.6,767.5L660.6,765.9L657.4,760.0L651.9,754.8L644.6,753.0L647.6,747.5L643.7,742.0L646.0,736.5L644.2,731.0L645.5,725.5Z"/></clipPath></defs>
<g clip-path="url(#cbig2)"><use href="#big2" filter="url(#bl4)"/></g>
<use href="#big2"/>
<path d="M633 751h0M619 734h0M693 602h0M654 701h0M759 656h0M695 640h0M669 621h0M741 714h0M672 655h0M613 719h0M692 635h0M757 681h0M759 703h0M719 685h0M667 635h0M688 671h0M713 713h0M666 724h0M732 706h0M707 710h0M686 623h0M669 745h0M724 709h0M650 663h0M736 675h0M636 736h0M622 716h0M635 744h0M697 764h0M750 678h0M619 725h0M706 679h0M711 745h0M765 731h0M693 693h0M735 687h0M755 710h0M662 618h0M680 604h0M677 674h0M757 687h0M761 704h0M725 702h0M704 704h0M645 641h0M659 641h0M661 703h0M683 700h0M687 636h0M747 704h0M694 712h0M748 715h0M705 703h0M719 643h0M704 633h0M609 749h0M717 749h0M786 717h0M692 633h0M675 692h0M639 751h0M687 748h0M649 686h0M685 679h0M677 645h0M700 735h0M687 683h0M638 736h0M693 661h0M698 701h0M680 709h0M674 665h0M734 679h0M666 648h0M734 699h0M720 699h0M779 700h0M726 757h0M771 724h0M744 704h0M705 749h0M626 744h0M724 666h0M668 674h0M649 721h0M725 749h0M745 677h0M639 716h0M631 758h0M724 645h0M684 709h0M673 606h0M766 710h0M687 721h0M693 706h0M677 637h0M622 722h0M732 745h0M760 719h0M787 703h0M676 754h0M729 692h0M652 689h0M643 668h0M755 700h0M666 736h0M776 730h0M644 715h0M659 654h0M789 686h0M675 602h0M752 690h0M647 735h0M687 675h0M681 650h0M616 744h0M672 619h0M668 684h0M775 697h0M646 725h0M720 728h0M762 735h0M624 761h0M779 691h0M644 670h0M733 735h0M747 641h0M705 655h0M651 736h0M618 749h0M722 656h0M736 691h0M660 678h0M757 689h0M704 616h0M627 721h0M708 673h0M683 724h0M642 748h0M700 658h0M739 752h0M700 717h0M750 699h0M715 720h0M777 712h0M692 712h0M702 627h0M628 718h0M716 751h0M696 701h0M698 643h0M676 639h0M695 679h0M657 713h0M688 728h0M730 745h0M748 694h0M646 703h0M708 749h0M808 717h0M690 610h0M693 655h0M747 660h0M722 761h0M701 670h0M666 744h0M741 697h0M698 719h0M689 662h0M676 641h0M769 722h0M666 767h0M735 685h0M745 699h0M742 729h0M676 735h0M640 747h0M786 735h0M653 628h0M790 717h0M772 698h0M806 722h0M681 663h0M685 747h0M731 737h0M685 669h0M752 700h0M640 676h0M611 725h0M664 757h0M753 715h0M665 665h0M685 630h0M646 642h0M641 741h0M685 653h0M652 752h0M750 668h0M706 681h0M647 637h0M678 612h0M671 711h0M719 678h0M702 743h0M754 720h0M784 699h0M674 761h0M722 749h0M720 732h0M721 699h0M744 719h0M774 698h0M759 721h0M770 672h0M660 710h0M678 744h0M647 681h0M745 713h0M699 623h0M695 765h0M702 655h0M697 613h0M747 701h0M754 738h0M669 621h0M650 656h0M637 738h0M676 647h0M643 730h0M653 723h0M712 688h0M662 632h0M686 742h0M688 652h0M770 705h0M804 722h0M718 725h0M745 736h0M637 702h0M673 636h0M715 704h0M677 772h0M662 750h0M691 625h0M711 731h0M659 735h0M705 709h0M743 713h0M680 706h0M773 701h0M706 708h0M756 691h0M729 720h0M677 645h0M762 691h0M689 732h0M721 702h0M663 642h0M702 659h0M665 599h0M638 693h0M735 689h0M693 720h0M655 763h0M778 720h0M638 715h0M658 637h0M635 678h0M689 727h0M699 624h0M698 652h0M683 632h0M635 735h0M697 700h0M719 654h0M670 696h0M642 669h0M703 711h0M648 629h0M740 716h0M748 710h0M653 635h0M673 632h0M772 703h0M657 737h0M646 755h0M733 708h0M649 734h0M650 692h0M728 671h0M724 726h0M767 694h0M716 702h0M717 715h0M691 648h0M716 695h0M674 677h0M744 668h0M730 677h0M789 719h0M617 756h0M713 755h0M758 655h0M616 732h0M725 672h0M632 716h0M674 600h0M657 670h0M664 630h0M693 689h0M787 681h0M745 726h0M744 685h0M755 671h0M701 695h0M648 695h0M734 647h0M673 608h0M759 695h0M620 751h0M666 686h0M665 734h0M696 680h0M680 738h0M691 683h0M747 721h0M676 714h0M741 720h0M745 694h0M662 746h0M704 646h0M690 653h0M767 701h0M666 721h0M649 737h0M673 628h0M656 760h0M640 671h0M663 615h0M675 730h0M714 703h0M761 728h0M750 668h0M728 724h0M694 678h0M615 729h0M635 715h0M638 651h0M707 742h0M648 717h0M703 731h0M627 759h0M697 657h0M757 690h0M728 646h0M712 720h0M657 659h0M767 700h0M678 755h0M689 750h0M708 635h0M722 682h0M681 648h0M654 624h0M682 660h0M676 631h0M671 731h0M678 656h0M671 677h0M681 628h0M618 723h0M742 693h0M616 712h0M754 690h0M708 675h0M693 661h0M630 752h0M689 607h0M611 743h0M701 697h0M695 655h0M694 749h0M673 636h0M753 671h0M711 658h0M628 733h0M645 657h0M670 715h0M607 744h0M612 712h0M645 643h0M651 689h0M727 726h0M758 703h0M675 678h0M720 734h0M708 644h0M739 724h0M681 671h0M714 754h0M755 690h0M709 693h0M632 668h0M639 683h0M741 730h0M777 695h0M737 720h0M704 726h0M672 626h0M779 701h0M630 715h0M710 659h0M672 730h0M715 708h0M778 728h0M644 672h0M677 731h0M762 728h0M734 691h0M661 668h0M637 682h0M649 705h0M686 642h0M664 747h0M738 724h0M734 681h0M666 718h0M665 748h0M675 682h0M684 736h0M685 760h0M674 641h0M774 688h0M715 692h0M694 676h0M743 680h0M667 656h0M654 753h0M615 746h0M745 658h0M636 751h0M702 665h0M680 631h0M687 644h0M798 719h0M678 619h0M721 679h0M727 660h0M672 645h0M679 686h0M775 679h0M697 696h0M642 723h0M637 747h0M743 707h0M725 719h0M743 685h0M746 718h0M641 737h0M621 709h0M769 726h0M660 626h0M720 681h0M677 638h0M707 734h0M777 667h0M700 695h0M702 700h0M651 706h0M760 726h0M769 690h0M656 644h0M687 697h0M629 668h0M688 739h0M648 685h0M640 659h0M708 731h0M714 678h0M666 665h0M752 726h0M722 688h0M703 731h0M698 713h0M701 690h0M647 627h0M713 721h0M690 662h0M751 728h0M695 630h0M668 671h0M667 740h0M671 712h0M614 715h0M681 684h0M712 691h0M667 704h0M647 661h0M781 708h0M670 711h0M661 701h0M661 663h0M658 729h0M656 630h0M747 746h0M728 647h0M650 754h0M707 717h0M676 688h0M616 733h0M693 698h0M675 723h0M660 731h0M605 744h0M659 641h0M650 672h0M701 716h0M760 709h0M742 674h0M776 689h0M685 630h0M721 732h0M673 624h0M645 731h0M661 621h0M674 625h0M689 716h0M660 689h0M784 684h0M612 730h0M637 706h0M770 695h0M673 669h0M756 677h0M706 713h0M730 684h0M680 637h0M755 745h0M697 740h0M634 678h0M664 674h0M653 655h0M655 735h0M661 723h0M676 710h0M655 614h0M709 716h0M713 641h0M738 754h0M650 732h0M695 623h0M713 652h0M706 729h0M676 692h0M665 629h0M750 691h0M682 694h0M695 710h0M655 737h0M723 708h0M658 645h0M668 654h0M663 721h0M688 730h0M696 766h0M749 720h0M679 733h0M718 683h0M661 734h0M746 669h0M743 731h0M777 693h0M772 687h0M605 737h0M748 682h0M782 688h0M689 652h0M740 668h0M750 721h0M677 673h0M672 623h0M692 643h0M631 664h0M679 608h0M669 760h0M774 715h0M621 722h0M634 688h0M710 641h0M683 690h0M668 670h0M630 758h0M690 646h0M634 713h0M724 746h0M706 741h0M754 713h0M706 648h0M652 658h0M633 746h0M697 705h0M738 658h0M616 721h0M738 705h0M728 733h0M682 611h0M748 677h0M758 719h0M703 719h0M687 629h0M613 720h0M698 677h0M676 746h0M696 709h0M779 723h0M680 704h0M626 712h0M636 651h0M630 754h0M632 698h0M746 740h0M788 723h0M698 669h0M707 638h0M655 732h0M735 657h0M618 738h0M699 673h0M735 727h0M749 700h0M660 668h0M663 669h0M689 636h0M683 681h0M685 699h0M719 728h0M716 755h0M798 731h0M660 629h0M736 696h0M645 693h0M673 636h0M701 730h0M647 645h0M620 718h0M648 749h0M692 743h0M642 709h0M738 754h0M615 746h0M643 696h0M642 740h0M811 727h0M666 641h0M665 661h0M777 754h0M741 715h0M651 641h0M651 684h0M715 757h0M624 748h0M691 681h0M713 725h0M643 633h0M684 739h0M703 741h0M692 719h0M634 716h0M766 745h0M625 748h0M698 608h0M740 663h0M702 639h0M721 678h0M702 746h0M643 701h0M799 749h0M651 740h0M703 724h0M615 752h0M644 701h0M683 638h0M641 741h0M659 668h0M693 692h0M718 697h0M612 758h0M667 684h0M714 720h0M675 739h0M637 650h0M640 670h0M730 658h0M721 682h0M721 682h0M622 739h0M636 739h0M666 636h0M614 733h0M684 729h0M621 759h0M757 697h0M736 652h0M787 689h0M671 765h0M654 727h0M697 766h0M736 696h0M709 714h0M686 738h0M608 733h0M637 669h0M674 662h0M632 665h0M759 707h0M674 744h0M769 715h0M672 753h0M723 709h0M686 712h0M739 729h0M679 656h0M676 766h0M643 646h0M658 712h0M752 730h0M722 699h0M692 673h0M638 641h0M657 737h0M727 736h0M700 639h0M681 602h0M639 673h0M687 628h0M704 647h0M776 699h0M731 725h0M668 710h0M673 663h0M645 722h0M710 721h0M699 630h0M660 708h0M758 669h0M670 663h0M758 696h0M642 740h0M662 744h0M739 691h0M694 629h0M683 694h0M779 734h0M700 685h0M665 754h0M699 685h0M733 716h0M755 716h0M652 682h0M662 689h0M742 663h0M633 652h0M650 668h0M637 668h0M693 755h0M736 739h0M768 726h0M671 682h0M706 719h0M740 739h0M672 732h0M678 604h0M700 631h0M678 734h0M622 729h0M687 638h0M748 699h0M764 666h0M678 772h0M637 726h0M733 718h0M649 731h0M761 669h0M655 729h0M662 693h0M717 636h0M655 702h0M656 672h0M772 697h0M644 636h0M705 662h0M706 694h0M688 604h0M725 718h0M759 683h0M751 730h0M645 669h0M726 701h0M661 728h0M688 731h0M709 686h0M686 697h0M689 716h0M634 650h0M662 697h0M673 765h0M713 671h0M640 691h0M641 683h0M684 667h0M715 651h0M694 700h0M736 635h0M717 628h0M707 713h0M757 701h0M694 643h0M674 732h0M727 697h0M661 606h0M692 710h0M694 749h0M694 676h0M679 599h0M710 775h0M702 677h0M674 682h0M634 661h0M714 650h0M714 693h0M658 699h0M714 663h0M794 756h0M637 751h0M664 704h0M664 740h0M670 746h0M682 746h0M757 676h0M722 736h0M724 654h0M695 716h0M776 722h0M700 752h0M615 741h0M668 638h0M703 656h0M693 740h0M715 754h0M701 595h0M672 676h0M688 748h0M691 685h0M639 692h0M704 701h0M691 615h0M748 700h0M716 687h0M768 671h0M726 701h0M684 660h0M635 727h0M682 664h0M659 758h0M708 618h0M691 617h0M714 663h0M713 632h0M654 717h0M697 733h0M677 607h0M680 720h0M661 689h0M674 669h0M692 764h0M627 734h0M613 756h0M737 724h0M769 719h0M638 649h0M635 675h0M677 618h0M679 654h0M727 650h0M674 701h0M786 692h0M731 686h0M746 683h0M799 742h0M647 677h0M651 639h0M722 722h0M737 704h0M703 678h0M662 700h0M753 730h0M733 748h0M638 667h0M720 712h0M634 732h0M674 717h0M744 705h0M761 677h0M734 699h0M666 640h0M707 743h0M684 687h0M773 691h0M725 707h0M742 711h0M691 680h0M655 674h0M744 712h0M672 609h0M690 643h0M679 623h0M706 632h0M771 727h0M698 652h0M607 734h0M616 745h0M648 647h0M717 639h0M775 705h0M706 684h0M650 666h0M722 672h0M776 726h0M744 716h0M669 621h0M712 668h0M738 677h0M634 682h0M691 681h0M665 690h0M703 649h0M653 677h0M656 647h0M748 693h0M762 688h0M680 743h0M670 722h0M730 683h0M690 732h0M731 730h0M684 740h0M738 714h0M643 702h0M708 642h0M637 745h0M685 647h0M687 718h0M667 707h0M676 709h0M789 717h0M717 677h0M639 729h0M662 743h0M733 690h0M681 624h0M657 720h0M749 708h0M692 671h0M703 666h0M620 725h0M632 756h0M669 625h0M750 761h0M701 690h0M645 685h0M637 731h0M704 656h0M740 693h0M658 741h0M669 678h0" stroke="#547848" stroke-width="5.2" stroke-linecap="round" stroke-opacity="0.8" fill="none"/>
<path d="M795 598h0M814 613h0M730 593h0M875 501h0M804 665h0M751 666h0M776 590h0M832 610h0M733 605h0M756 628h0M864 473h0M721 603h0M761 560h0M740 630h0M854 528h0M748 667h0M826 603h0M802 606h0M822 640h0M880 512h0M763 629h0M777 496h0M810 524h0M773 632h0M839 489h0M755 541h0M842 504h0M830 614h0M735 667h0M754 529h0M857 546h0M747 559h0M781 644h0M704 606h0M743 627h0M732 610h0M818 648h0M819 621h0M826 572h0M778 650h0M825 646h0M799 528h0M700 573h0M830 612h0M855 469h0M833 606h0M875 480h0M890 548h0M741 577h0M764 610h0M745 554h0M839 476h0M781 534h0M711 599h0M797 527h0M773 566h0M785 611h0M815 565h0M728 590h0M869 552h0M748 608h0M773 654h0M827 513h0M830 481h0M756 568h0M717 557h0M774 536h0M831 561h0M773 683h0M798 660h0M787 657h0M863 535h0M826 583h0M750 594h0M792 524h0M759 539h0M805 539h0M754 522h0M862 524h0M846 597h0M818 533h0M808 508h0M685 591h0M754 625h0M820 609h0M760 521h0M839 522h0M883 543h0M722 569h0M808 612h0M793 678h0M860 542h0M750 594h0M756 529h0M847 511h0M725 554h0M772 656h0M791 559h0M851 510h0M876 492h0M855 508h0M750 533h0M762 598h0M728 620h0M809 540h0M706 602h0M778 544h0M847 547h0M754 590h0M787 565h0M779 514h0M793 590h0M804 505h0M877 473h0M815 493h0M857 522h0M801 627h0M769 559h0M799 627h0M835 613h0M821 596h0M765 676h0M805 514h0M795 599h0M831 515h0M769 604h0M761 571h0M815 512h0M860 512h0M823 560h0M733 609h0M812 535h0M803 629h0M846 594h0M816 501h0M783 683h0M718 584h0M846 518h0M730 593h0M803 553h0M683 609h0M746 647h0M716 604h0M740 531h0M707 596h0M870 504h0M726 608h0M791 605h0M808 565h0M789 651h0M800 584h0M778 552h0M841 592h0M747 603h0M779 618h0M808 621h0M818 496h0M773 627h0M850 496h0M708 612h0M809 575h0M833 485h0M770 640h0M728 580h0M777 560h0M770 617h0M821 569h0M746 609h0M826 497h0M713 612h0M765 507h0M847 489h0M722 587h0M686 589h0M766 523h0M726 574h0M828 603h0M805 504h0M761 663h0M731 643h0M744 533h0M806 575h0M807 552h0M792 559h0M784 637h0M813 529h0M804 514h0M807 667h0M762 611h0M765 524h0M706 612h0M822 589h0M815 585h0M725 580h0M843 561h0M847 490h0M765 659h0M840 602h0M695 597h0M748 611h0M763 543h0M845 518h0M810 536h0M808 641h0M694 610h0M746 645h0M780 682h0M777 640h0M875 490h0M836 536h0M779 517h0M799 683h0M740 631h0M844 493h0M792 520h0M771 672h0M831 538h0M719 584h0M801 592h0M757 543h0M844 525h0M762 597h0M858 523h0M855 511h0M802 550h0M789 687h0M858 502h0M768 666h0M789 530h0M824 642h0M701 595h0M860 483h0M740 604h0M831 548h0M733 579h0M801 594h0M772 655h0M826 505h0M821 600h0M763 571h0M818 557h0M776 550h0M834 552h0M800 519h0M838 505h0M780 611h0M706 601h0M780 538h0M853 476h0M728 603h0M755 641h0M803 610h0M765 606h0M783 617h0M842 592h0M736 660h0M825 502h0M689 598h0M706 579h0M733 620h0M674 601h0M818 663h0M794 610h0M742 538h0M850 479h0M827 539h0M760 649h0M851 504h0M836 577h0M835 558h0M817 541h0M707 585h0M801 506h0M765 642h0M750 664h0M809 557h0M781 631h0M792 529h0M740 610h0M831 522h0M763 626h0M738 575h0M850 503h0M799 586h0M778 697h0M769 575h0M853 527h0M809 571h0M811 563h0M796 590h0M810 505h0M819 541h0M800 602h0M809 556h0M758 568h0M843 611h0M817 566h0M817 544h0M827 633h0M761 512h0M777 696h0M743 585h0M783 536h0M848 523h0M774 593h0M709 632h0M738 636h0M835 601h0M813 634h0M820 603h0M828 623h0M746 634h0M771 629h0M835 574h0M787 600h0M823 502h0M794 647h0M855 591h0M741 617h0M837 581h0M798 522h0M842 491h0M816 635h0M774 625h0M739 538h0M825 624h0M792 517h0M780 563h0M758 665h0M797 554h0M749 641h0M719 586h0M714 586h0M781 565h0M878 492h0M868 526h0M811 589h0M817 600h0M791 587h0M713 572h0M725 557h0M824 547h0M693 592h0M801 497h0M827 637h0M748 533h0M796 591h0M717 613h0M771 628h0M741 649h0M849 485h0M793 661h0M772 543h0M725 623h0M787 536h0M785 668h0M875 508h0M767 590h0M784 608h0M746 641h0M711 618h0M706 599h0M739 574h0M828 488h0M746 637h0M765 603h0M853 511h0M828 503h0M807 607h0M763 533h0M815 586h0M807 590h0M705 597h0M783 680h0M769 645h0M865 500h0M748 617h0M815 540h0M788 506h0M791 634h0M854 545h0M790 525h0M723 550h0M854 486h0M767 584h0M784 512h0M757 503h0M795 541h0M762 658h0M793 493h0M748 554h0M747 644h0M740 517h0M702 589h0M749 634h0M689 602h0M752 625h0M704 599h0M832 596h0M766 623h0M831 552h0M837 509h0M799 648h0M819 574h0M846 582h0M770 546h0M788 599h0M789 557h0M750 531h0M737 624h0M840 539h0M793 678h0M854 597h0M821 533h0M830 603h0M785 669h0M816 515h0M841 577h0M738 614h0M750 599h0M837 530h0M803 558h0M812 506h0M740 539h0M838 569h0M804 500h0M751 580h0M791 525h0M796 515h0M782 510h0M702 573h0M796 607h0M840 537h0M738 539h0M742 545h0M828 533h0M853 486h0M826 517h0M791 660h0M776 647h0M773 657h0M851 602h0M715 608h0M809 650h0M812 621h0M805 579h0M802 655h0M795 546h0M861 551h0M839 485h0M770 526h0M815 503h0M783 657h0M829 574h0M773 554h0M811 582h0M808 509h0M785 514h0M826 505h0M821 564h0M767 548h0M803 584h0M828 510h0M847 532h0M716 586h0M720 559h0M860 548h0M761 638h0M776 549h0M748 643h0M858 529h0M791 619h0M752 596h0M795 576h0M777 556h0M850 555h0M800 530h0M834 576h0M829 486h0M807 552h0M846 515h0M763 629h0M836 497h0M701 600h0M708 586h0M745 633h0M841 492h0M812 554h0M824 485h0M788 554h0M761 616h0M743 574h0M773 665h0M806 650h0M690 623h0M860 518h0M740 557h0M776 561h0M850 556h0M796 523h0M845 542h0M798 513h0M884 486h0M765 539h0M743 547h0M694 593h0M804 612h0M739 580h0M756 642h0M867 587h0M783 601h0M818 566h0M781 516h0M805 542h0M770 632h0M782 658h0M813 595h0M816 654h0M841 561h0M829 627h0M719 559h0M846 485h0M772 618h0M724 551h0M763 526h0M749 537h0M804 489h0M830 539h0M757 601h0M843 521h0M764 660h0M870 511h0M858 532h0M708 590h0M747 555h0M786 617h0M818 667h0M730 537h0M756 619h0M743 576h0M815 522h0M795 533h0M858 560h0M743 639h0M802 662h0M855 477h0M746 639h0M749 584h0M702 604h0M848 514h0M711 592h0M796 513h0M791 549h0M826 585h0M815 604h0M793 501h0M824 586h0M857 498h0M793 575h0M833 518h0M699 613h0M880 522h0M774 534h0M846 483h0M771 554h0M845 478h0M845 597h0M752 520h0M870 492h0M747 537h0M820 603h0M834 530h0M814 516h0M759 656h0M740 591h0M801 607h0M761 509h0M764 653h0M706 572h0M724 605h0M827 628h0M761 651h0M824 550h0M760 655h0M829 501h0M742 642h0M817 561h0M751 641h0M724 595h0M796 602h0M886 523h0M824 482h0M754 523h0M802 600h0M832 509h0M776 664h0M762 596h0M767 613h0M849 575h0M846 513h0M795 607h0M726 636h0M790 566h0M848 474h0M770 560h0M745 533h0M796 554h0M696 621h0M721 569h0M876 502h0M725 589h0M841 486h0M878 523h0M727 551h0M816 629h0M757 539h0M798 568h0M761 651h0M834 572h0M831 506h0M838 567h0M766 619h0M735 576h0M838 492h0M803 587h0M707 643h0M796 656h0M802 632h0M808 524h0M776 564h0M821 597h0M783 525h0M750 536h0M755 654h0M858 475h0M860 535h0M743 614h0M835 558h0M792 519h0M789 534h0M755 609h0M781 553h0M809 628h0M775 538h0M842 521h0M801 673h0M749 621h0M732 589h0M806 575h0M711 570h0M823 573h0M820 526h0M764 531h0M778 516h0M770 569h0M751 525h0M806 670h0M834 594h0M698 607h0M743 660h0M686 608h0M823 587h0M828 629h0M735 542h0M793 534h0M749 523h0M822 561h0M777 527h0M745 531h0M853 492h0M864 566h0M820 565h0M767 509h0M729 578h0M707 633h0M786 638h0M820 583h0M740 559h0M770 522h0M793 503h0M765 521h0M907 492h0M772 579h0M749 536h0M783 616h0M857 490h0M813 571h0M708 611h0M844 608h0M731 584h0M707 592h0M698 598h0M783 598h0M795 572h0M894 487h0M823 598h0M806 593h0M845 584h0M757 572h0M763 516h0M836 487h0M863 490h0M797 565h0M806 666h0M775 606h0M728 587h0M769 503h0M856 536h0M849 510h0M678 597h0M824 589h0M802 568h0M737 645h0M857 488h0M738 556h0M788 532h0M683 600h0M763 530h0M787 593h0M800 609h0M753 564h0M806 598h0M786 574h0M751 629h0M742 643h0M733 602h0M745 582h0M722 567h0M814 650h0M824 582h0M757 564h0M832 600h0M732 612h0M846 527h0M842 476h0M824 595h0M818 530h0M725 647h0M694 621h0M827 598h0M754 571h0M789 660h0M780 667h0M800 552h0M749 516h0M770 578h0M714 630h0M770 536h0M801 578h0M718 603h0M780 652h0M840 502h0M839 493h0M754 637h0M794 548h0M718 607h0M724 608h0M759 576h0M845 527h0M774 646h0M771 516h0M787 592h0M714 587h0M844 530h0M817 515h0M716 616h0M862 544h0M813 580h0M744 608h0M794 657h0M785 534h0M742 586h0M811 657h0M826 567h0M739 587h0M753 604h0M721 591h0M869 551h0M802 573h0M722 624h0M740 576h0M791 648h0M798 498h0M716 591h0M792 499h0M871 501h0M748 534h0M804 666h0M791 506h0M815 640h0M847 476h0M807 632h0M766 573h0M818 557h0M747 567h0M751 593h0M768 566h0M838 521h0M847 578h0M866 498h0M778 669h0M761 548h0M854 501h0M791 674h0M751 554h0M769 584h0M813 486h0M793 527h0M847 493h0M838 551h0M824 508h0M757 609h0M831 565h0M891 478h0M852 593h0M754 657h0M837 504h0M835 544h0M773 578h0M844 510h0M739 656h0M736 569h0M743 572h0M805 562h0M865 500h0M805 590h0M753 627h0M754 667h0M766 561h0M802 608h0M810 551h0M857 487h0M831 627h0M767 639h0M735 550h0M701 590h0M846 512h0M813 558h0M743 606h0M730 612h0M830 504h0M788 502h0M790 486h0M772 531h0M750 578h0M692 602h0M793 664h0M732 607h0M741 636h0M821 594h0M726 630h0M729 598h0M731 540h0M776 617h0M759 585h0M800 509h0M803 559h0M772 634h0M777 553h0M713 604h0M738 558h0M705 579h0M831 597h0M831 487h0M794 599h0M857 545h0M868 494h0M819 596h0M791 504h0M772 538h0M876 574h0M740 572h0M793 604h0M697 620h0M819 512h0M756 675h0M787 566h0M722 636h0M857 489h0M853 497h0M788 510h0M779 570h0M720 588h0M727 557h0M786 530h0M692 603h0M810 579h0M776 543h0M766 650h0M748 603h0M774 573h0M833 579h0M825 575h0M826 619h0M743 586h0M695 601h0M824 630h0M797 626h0M740 524h0M744 624h0M771 588h0M740 623h0M754 670h0M714 604h0M833 606h0M755 588h0M823 572h0M705 621h0M784 585h0M895 511h0M824 524h0M756 529h0M786 672h0M733 600h0M770 617h0M732 644h0M800 578h0M801 556h0M833 621h0M850 576h0M761 654h0M720 617h0M806 652h0M778 541h0M840 612h0M775 594h0M777 640h0M794 490h0M815 630h0M788 503h0M782 541h0M716 604h0M719 636h0M770 526h0M798 531h0M800 649h0M808 526h0M749 637h0M795 540h0M735 644h0M834 564h0M693 578h0M719 580h0M768 535h0M707 624h0M741 623h0M739 584h0M679 608h0M833 548h0M794 644h0M783 648h0M781 620h0M784 620h0M770 618h0M796 604h0M717 614h0M778 535h0M816 534h0M795 525h0M788 675h0M869 487h0M840 612h0M714 616h0M846 556h0M724 618h0M802 592h0M760 539h0M793 521h0M831 615h0M752 610h0M863 569h0M784 504h0M753 523h0M789 587h0M833 574h0M699 600h0M794 540h0M731 571h0M729 586h0M756 570h0M800 545h0M799 635h0M829 584h0M848 519h0M834 525h0M829 551h0M804 500h0M855 582h0M809 498h0M795 672h0M803 591h0M784 649h0M881 500h0M836 557h0M756 556h0M818 598h0M758 657h0M812 653h0M852 501h0M840 479h0M885 527h0M877 475h0M771 655h0M784 588h0M826 598h0M816 643h0M860 501h0M800 633h0M758 597h0M875 473h0M880 506h0M796 528h0M689 587h0M792 501h0M740 566h0M724 626h0M843 594h0M818 611h0M785 630h0M861 497h0M827 627h0M759 638h0M783 648h0M725 627h0M874 483h0M707 605h0M785 623h0M777 584h0M797 536h0M788 680h0M774 616h0M868 505h0M736 583h0M748 598h0M739 648h0M821 640h0M796 495h0M781 625h0M807 606h0M737 553h0M777 581h0M746 541h0M802 484h0M821 567h0M753 557h0M830 524h0M870 483h0M776 640h0M718 620h0M716 624h0M761 625h0M835 482h0M831 535h0M786 546h0M827 604h0M840 540h0M835 617h0M776 646h0M763 516h0M829 568h0M838 555h0M814 555h0M757 596h0M821 557h0M826 619h0M749 598h0M741 613h0M863 476h0M809 501h0M716 628h0M813 647h0M776 503h0M820 573h0M788 508h0M696 610h0M768 623h0M807 547h0M861 488h0M795 584h0M769 593h0M821 622h0M804 582h0M820 575h0M856 528h0M812 646h0M740 602h0M812 521h0M708 599h0M761 565h0M834 543h0M795 508h0M822 511h0M848 501h0M800 590h0M774 611h0M775 529h0M764 615h0M873 472h0M849 604h0M695 609h0M807 509h0M761 658h0M728 565h0M875 506h0M716 612h0M776 527h0M759 527h0M792 679h0M783 545h0M775 542h0M810 522h0M827 482h0M882 506h0M843 579h0M767 505h0M765 558h0M772 527h0M822 645h0M737 639h0M718 643h0M807 554h0M794 636h0M808 583h0M785 567h0M780 592h0M846 482h0M821 634h0M873 515h0M760 533h0M786 625h0M866 483h0M715 611h0M781 566h0M760 540h0M839 597h0M768 511h0M794 504h0M692 623h0M776 589h0M749 590h0M743 625h0M783 603h0M856 493h0M776 596h0M793 678h0M842 511h0M857 503h0M718 624h0M740 632h0M862 533h0M802 541h0M803 648h0M820 512h0M850 496h0M798 651h0M823 634h0M753 555h0M820 531h0M885 530h0M774 597h0M776 645h0M823 535h0M745 557h0M794 634h0M790 539h0M782 631h0M803 510h0M715 622h0M736 589h0M765 565h0M731 555h0M739 585h0M727 550h0M754 667h0M866 486h0M809 574h0M797 603h0M780 522h0M841 557h0M822 522h0M795 524h0M779 537h0M743 618h0M810 563h0M767 555h0M735 547h0M869 482h0M787 498h0M859 472h0M702 639h0M816 525h0M787 659h0M781 642h0M805 593h0M697 623h0M738 538h0M851 484h0M843 533h0M728 560h0M771 646h0M800 535h0M743 528h0M784 530h0M738 622h0M839 479h0M758 628h0M835 621h0M857 487h0M764 651h0M771 634h0M750 653h0M849 566h0M857 530h0M715 597h0M855 520h0M832 590h0M780 546h0M805 651h0M781 562h0M798 535h0M755 602h0M728 631h0M818 606h0M793 501h0M775 611h0M809 532h0M809 585h0M763 522h0M778 684h0M839 494h0M779 568h0M805 563h0M794 535h0M781 598h0M780 671h0M791 648h0M796 637h0M801 529h0M728 617h0M816 643h0M780 544h0M799 609h0M796 605h0M796 635h0M790 555h0M778 501h0M818 573h0M712 602h0M832 567h0M808 551h0M851 557h0M764 517h0M748 571h0M761 538h0M818 609h0M792 527h0M794 605h0M774 622h0M771 552h0M818 581h0M755 596h0M778 583h0M840 596h0M789 662h0M739 641h0M797 572h0M746 596h0M692 617h0M818 538h0M822 494h0M830 553h0M752 639h0M849 511h0M821 596h0M699 573h0M771 643h0M807 536h0M725 558h0M873 500h0M831 538h0M814 592h0M692 595h0M822 567h0M738 585h0M813 625h0M841 570h0M838 612h0M869 499h0M772 643h0M816 532h0M836 574h0M712 571h0M775 583h0M851 583h0M844 537h0M874 478h0M840 541h0M788 627h0M745 533h0M705 588h0M823 500h0M749 589h0M855 492h0M794 647h0M777 569h0M762 682h0M777 627h0M804 510h0M774 514h0M863 497h0M737 562h0M843 519h0M836 490h0M732 573h0M829 574h0M831 510h0M781 569h0M721 574h0M750 551h0M789 527h0M835 540h0M714 629h0M688 618h0M820 546h0M847 597h0M746 525h0M772 670h0M714 603h0M851 648h0" stroke="#185460" stroke-width="5.2" stroke-linecap="round" stroke-opacity="0.8" fill="none"/>
<path d="M813 716h0M840 894h0M783 818h0M857 753h0M712 743h0M813 914h0M817 812h0M841 870h0M863 808h0M899 720h0M843 607h0M889 739h0M785 877h0M789 713h0M791 762h0M791 923h0M778 899h0M791 914h0M773 763h0M771 840h0M799 780h0M846 878h0M895 749h0M837 788h0M739 801h0M769 811h0M850 837h0M797 879h0M777 793h0M824 814h0M805 876h0M711 854h0M758 740h0M826 790h0M860 824h0M870 747h0M776 863h0M815 775h0M813 758h0M748 907h0M756 760h0M728 865h0M845 896h0M808 745h0M819 880h0M812 825h0M775 761h0M688 773h0M821 909h0M835 783h0M774 869h0M893 760h0M776 727h0M771 811h0M776 807h0M849 852h0M711 776h0M845 744h0M792 918h0M791 815h0M795 924h0M831 750h0M853 751h0M746 795h0M882 826h0M804 767h0M769 879h0M822 898h0M741 801h0M765 753h0M855 770h0M810 806h0M843 820h0M817 744h0M843 721h0M828 827h0M876 718h0M755 719h0M873 829h0M719 797h0M873 731h0M797 862h0M840 732h0M824 759h0M860 812h0M855 837h0M787 801h0M820 648h0M661 760h0M840 728h0M891 754h0M854 753h0M791 771h0M830 885h0M712 847h0M712 819h0M792 738h0M752 883h0M742 791h0M806 728h0M783 836h0M727 779h0M773 915h0M812 910h0M727 756h0M731 838h0M845 907h0M738 807h0M764 880h0M835 833h0M883 758h0M773 867h0M879 823h0M856 731h0M834 787h0M743 819h0M796 749h0M703 807h0M857 747h0M842 735h0M846 813h0M773 762h0M816 757h0M732 893h0M832 858h0M885 765h0M823 858h0M761 842h0M832 913h0M915 775h0M832 883h0M822 759h0M874 877h0M792 924h0M762 753h0M809 910h0M824 921h0M802 718h0M792 868h0M825 871h0M852 857h0M822 861h0M913 769h0M827 738h0M859 833h0M810 760h0M774 832h0M830 743h0M835 854h0M783 766h0M814 841h0M821 869h0M782 845h0M892 726h0M734 870h0M789 719h0M785 775h0M860 865h0M816 746h0M712 855h0M760 763h0M808 799h0M824 910h0M774 761h0M793 785h0M761 798h0M807 876h0M865 716h0M899 745h0M852 827h0M850 889h0M927 794h0M775 755h0M830 778h0M798 848h0M767 879h0M868 871h0M792 756h0M851 882h0M808 918h0M869 815h0M803 803h0M745 738h0M767 770h0M724 799h0M728 738h0M810 904h0M808 723h0M763 783h0M755 825h0M830 814h0M850 592h0M846 849h0M904 738h0M838 855h0M781 881h0M753 845h0M836 874h0M874 730h0M848 589h0M825 732h0M758 833h0M827 758h0M843 609h0M804 865h0M894 824h0M923 803h0M780 784h0M735 857h0M753 892h0M777 899h0M902 825h0M749 736h0M726 856h0M791 922h0M734 759h0M754 862h0M873 834h0M806 804h0M785 846h0M819 773h0M899 837h0M843 896h0M801 874h0M863 816h0M830 779h0M837 836h0M760 805h0M812 743h0M791 830h0M849 823h0M787 761h0M830 635h0M780 868h0M824 821h0M859 723h0M729 862h0M776 828h0M817 739h0M740 871h0M784 835h0M829 634h0M777 784h0M752 829h0M813 890h0M887 819h0M771 836h0M736 794h0M816 817h0M721 868h0M711 817h0M811 841h0M915 818h0M708 826h0M795 732h0M860 727h0M853 734h0M805 921h0M824 805h0M804 827h0M811 734h0M785 927h0M772 804h0M796 809h0M772 742h0M735 778h0M737 858h0M747 898h0M759 802h0M796 837h0M870 884h0M826 878h0M794 776h0M862 832h0M884 838h0M763 858h0M882 824h0M724 822h0M754 895h0M897 729h0M723 777h0M787 794h0M782 733h0M841 749h0M802 752h0M773 787h0M804 799h0M831 865h0M809 812h0M886 747h0M825 816h0M820 842h0M914 769h0M904 762h0M754 834h0M885 735h0M726 755h0M876 734h0M829 912h0M789 867h0M887 846h0M842 771h0M724 857h0M888 757h0M767 733h0M798 824h0M827 817h0M833 855h0M779 786h0M721 754h0M797 860h0M762 822h0M860 720h0M771 836h0M886 816h0M829 761h0M826 738h0M817 743h0M823 766h0M804 830h0M850 868h0M813 748h0M836 905h0M784 782h0M768 815h0M809 846h0M830 857h0M805 740h0M745 781h0M733 883h0M869 836h0M842 888h0M907 812h0M823 724h0M924 780h0M893 730h0M819 932h0M802 908h0M754 918h0M716 837h0M830 731h0M854 831h0M733 838h0M804 672h0M765 807h0M787 882h0M843 832h0M808 905h0M872 818h0M824 817h0M842 848h0M813 750h0M740 868h0M865 858h0M838 780h0M835 764h0M794 800h0M737 818h0M762 878h0M820 725h0M790 813h0M901 756h0M806 780h0M795 752h0M877 733h0M807 884h0M714 767h0M748 825h0M745 880h0M772 795h0M924 786h0M810 914h0M707 798h0M831 924h0M708 827h0M762 741h0M756 821h0M891 841h0M956 791h0M730 838h0M791 915h0M834 772h0M752 875h0M814 843h0M769 852h0M861 733h0M776 878h0M773 801h0M900 741h0M803 911h0M773 921h0M854 765h0M797 922h0M768 809h0M819 896h0M846 777h0M875 824h0M801 680h0M818 776h0M845 843h0M801 838h0M891 747h0M768 879h0M841 830h0M831 865h0M792 890h0M720 853h0M810 830h0M808 864h0M754 855h0M846 775h0M755 734h0M713 776h0M892 811h0M777 789h0M747 807h0M869 749h0M772 802h0M850 906h0M724 822h0M726 789h0M773 841h0M727 873h0M865 851h0M848 759h0M772 866h0M730 852h0M778 907h0M899 728h0M879 859h0M831 921h0M769 839h0M824 879h0M740 818h0M827 731h0M821 914h0M758 889h0M803 892h0M800 910h0M773 843h0M846 762h0M750 850h0M703 790h0M764 757h0M831 792h0M838 728h0M854 762h0M786 772h0M798 732h0M880 826h0M723 773h0M833 632h0M741 835h0M861 751h0M714 801h0M684 778h0M748 805h0M802 758h0M805 724h0M808 938h0M832 917h0M747 880h0M914 810h0M790 854h0M868 762h0M846 859h0M769 847h0M809 866h0M835 859h0M786 793h0M821 821h0M856 815h0M740 796h0M891 720h0M836 840h0M732 774h0M773 745h0M766 779h0M924 812h0M862 732h0M814 893h0M844 843h0M768 853h0M855 801h0M799 790h0M860 834h0M762 744h0M790 792h0M831 910h0M872 861h0M845 781h0M810 829h0M708 833h0M745 862h0M753 849h0M835 754h0M881 846h0M745 881h0M742 747h0M761 808h0M790 882h0M894 752h0M815 814h0M829 726h0M882 830h0M738 781h0M920 803h0M869 818h0M701 775h0M746 810h0M766 876h0M737 828h0M815 819h0M739 732h0M777 741h0M775 839h0M730 886h0M820 744h0M781 884h0M751 802h0M848 791h0M804 877h0M858 805h0M734 789h0M790 833h0M756 781h0M838 737h0M739 893h0M710 760h0M739 785h0M748 842h0M880 867h0M790 758h0M794 739h0M912 813h0M794 823h0M795 780h0M777 929h0M750 759h0M838 766h0M761 803h0M698 767h0M815 752h0M820 752h0M806 734h0M781 874h0M886 858h0M803 880h0M907 841h0M897 760h0M827 856h0M892 828h0M728 867h0M720 815h0M789 878h0M765 794h0M747 841h0M906 761h0M672 766h0M851 823h0M847 748h0M857 577h0M772 891h0M916 827h0M779 774h0M925 779h0M891 842h0M827 722h0M834 840h0M815 879h0M905 834h0M917 831h0M799 752h0M836 911h0M902 756h0M752 862h0M738 834h0M795 768h0M864 755h0M753 864h0M703 769h0M792 750h0M767 804h0M766 838h0M739 899h0M783 856h0M814 808h0M764 783h0M778 903h0M682 767h0M894 815h0M867 869h0M701 793h0M753 761h0M826 725h0M837 913h0M828 839h0M743 899h0M836 773h0M789 749h0M852 860h0M786 790h0M763 872h0M830 841h0M735 757h0M756 910h0M863 832h0M752 879h0M835 910h0M785 906h0M837 770h0M761 884h0M734 827h0M758 837h0M780 888h0M867 725h0M846 825h0M798 853h0M845 751h0M773 750h0M829 642h0M735 758h0M807 720h0M802 803h0M809 922h0M749 786h0M700 747h0M858 731h0M709 812h0M877 831h0M836 794h0M871 758h0M724 769h0M749 767h0M725 841h0M872 748h0M821 830h0M869 880h0M824 843h0M709 801h0M826 784h0M809 920h0M778 782h0M914 834h0M827 888h0M837 778h0M793 917h0M802 776h0M817 913h0M739 851h0M812 910h0M856 729h0M847 783h0M794 776h0M783 886h0M798 912h0M753 878h0M790 784h0M749 751h0M773 836h0M802 789h0M822 749h0M893 743h0M855 895h0M855 869h0M902 834h0M764 756h0M813 904h0M775 744h0M854 744h0M819 783h0M839 738h0M788 813h0M784 900h0M738 794h0M765 876h0M824 878h0M888 854h0M860 861h0M744 788h0M841 887h0M805 798h0M780 804h0M803 733h0M739 890h0M909 837h0M887 766h0M909 751h0M871 739h0M740 831h0M745 849h0M769 782h0M800 897h0M741 852h0M765 911h0M810 729h0M836 861h0M814 795h0M901 844h0M787 921h0M827 882h0M731 854h0M679 774h0M768 911h0M798 879h0M790 866h0M871 843h0M885 734h0M826 827h0M883 759h0M828 924h0M723 811h0M921 813h0M760 902h0M798 853h0M770 865h0M886 851h0M794 746h0M831 872h0M801 769h0M698 805h0M805 736h0M922 817h0M789 911h0M828 721h0M765 827h0M786 870h0M761 774h0M803 899h0M794 928h0M711 802h0M833 719h0M834 819h0M868 855h0M841 850h0M877 837h0M816 803h0M703 782h0M798 842h0M791 873h0M769 765h0M854 900h0M718 765h0M842 896h0M928 788h0M734 777h0M902 853h0M730 771h0M893 753h0M842 805h0M789 769h0M782 778h0M898 816h0M913 829h0M888 727h0M828 723h0M812 849h0M783 790h0M890 762h0M756 771h0M719 864h0M730 786h0M846 760h0M808 854h0M785 736h0M847 892h0M767 807h0M748 798h0M828 758h0M690 765h0M800 841h0M841 765h0M771 851h0M755 770h0M776 811h0M734 815h0M726 826h0M789 852h0M855 730h0M964 777h0M885 760h0M799 761h0M817 841h0M875 755h0M851 854h0M972 760h0M852 767h0M835 899h0M892 848h0M888 762h0M872 822h0M855 718h0M799 876h0M766 902h0M790 775h0M753 905h0M739 827h0M925 822h0M906 738h0M696 753h0M748 873h0M809 884h0M847 742h0M799 779h0M815 778h0M859 731h0M777 761h0M817 823h0M723 848h0M894 740h0M777 743h0M865 877h0M747 894h0M806 727h0M755 759h0M843 754h0M754 822h0M708 756h0M773 820h0M797 776h0M829 636h0M900 821h0M898 834h0M795 882h0M771 853h0M753 755h0M889 848h0M781 872h0M744 792h0M842 831h0M870 810h0M833 832h0M903 770h0M869 858h0M850 844h0M734 742h0M796 680h0M718 810h0M903 837h0M767 900h0M864 736h0M707 767h0M703 805h0M760 803h0M716 842h0M787 743h0M847 871h0M708 855h0M834 788h0M848 748h0M735 738h0M776 735h0M773 916h0M786 728h0M732 839h0M840 739h0M758 838h0M799 853h0M756 867h0M733 795h0M770 868h0M817 733h0M756 817h0M729 817h0M806 794h0M853 833h0M848 803h0M824 916h0M802 881h0M838 898h0M852 737h0M908 751h0M855 825h0M788 777h0M798 837h0M743 800h0M737 786h0M724 788h0M733 758h0M843 801h0M847 793h0M880 858h0M755 753h0M816 902h0M685 770h0M790 886h0M879 814h0M717 774h0M871 732h0M702 828h0M815 762h0M822 870h0M847 802h0M746 840h0M817 656h0M848 748h0M887 855h0M738 774h0M738 877h0M904 766h0M757 841h0M894 730h0M788 877h0M805 776h0M767 825h0M837 794h0M721 799h0M720 803h0M805 820h0M786 788h0M860 831h0M768 830h0M726 859h0M835 820h0M803 787h0M779 757h0M863 826h0M858 868h0M915 771h0M726 854h0M717 871h0M920 823h0M898 837h0M871 827h0M766 734h0M801 857h0M742 746h0M703 798h0M769 768h0M879 744h0M795 823h0M827 741h0M835 841h0M730 818h0M906 732h0M800 919h0M739 777h0M770 809h0M829 793h0M815 667h0M860 724h0M790 865h0M731 888h0M801 762h0M873 869h0M751 803h0M860 592h0M883 853h0M739 747h0M784 770h0M752 801h0M838 856h0M767 782h0M777 850h0M726 750h0M852 842h0M813 889h0M802 884h0M793 913h0M839 850h0M768 788h0M784 811h0M709 761h0M749 819h0M854 804h0M851 784h0M868 817h0M741 831h0M803 935h0M838 853h0M819 808h0M760 888h0M801 859h0M798 884h0M756 756h0M811 738h0M749 844h0M777 828h0M848 801h0M699 777h0M877 887h0M818 642h0M804 774h0M803 860h0M755 885h0M794 719h0M750 841h0M799 876h0M905 844h0M757 762h0M864 809h0M918 774h0M751 902h0M700 784h0M752 805h0M745 759h0M760 729h0M869 837h0M738 810h0M758 771h0M841 777h0M750 862h0M768 740h0M813 874h0M812 857h0M750 854h0M823 721h0M825 837h0M885 839h0M756 820h0M772 893h0M713 852h0M868 722h0M838 744h0M782 783h0M854 727h0M796 851h0M851 741h0M717 802h0M725 781h0M749 788h0M726 840h0M807 772h0M710 825h0M750 908h0M759 797h0M848 853h0M792 928h0M767 823h0M727 770h0M731 788h0M766 897h0M793 800h0M712 760h0M810 894h0M757 912h0M813 904h0M795 920h0M753 821h0M830 813h0M725 877h0M818 719h0M779 915h0M824 906h0M778 822h0M857 804h0M883 750h0M793 776h0M856 743h0M846 860h0M845 868h0M878 818h0M825 887h0M797 895h0M739 862h0M831 857h0M720 803h0M896 816h0M785 742h0M773 817h0M698 795h0M909 837h0M798 865h0M861 753h0M748 784h0M724 790h0M844 889h0M796 805h0M905 825h0M830 733h0M774 901h0M702 790h0M760 873h0M864 812h0M770 853h0M773 811h0M840 737h0M830 898h0M800 895h0M839 730h0M895 744h0M812 770h0M742 899h0M910 762h0M780 777h0M731 883h0M725 777h0M783 882h0M773 765h0M794 936h0M807 916h0M824 902h0M718 873h0M736 750h0M804 756h0M826 761h0M781 863h0M848 831h0M833 781h0M704 763h0M817 747h0M798 915h0M899 742h0M775 794h0M920 767h0M802 798h0M795 807h0M775 878h0M703 809h0M771 903h0M680 762h0M795 815h0M826 769h0M742 894h0M762 839h0M894 815h0M737 774h0M912 759h0M895 852h0M739 772h0M780 820h0M804 912h0M787 912h0M927 783h0M726 867h0M744 856h0M839 793h0M722 791h0M814 792h0M903 748h0M786 922h0M739 829h0M829 790h0M880 862h0M788 778h0M777 778h0M730 779h0M775 749h0M917 813h0M822 824h0M821 916h0M843 824h0M744 796h0M860 859h0M868 719h0M723 766h0M774 846h0M821 884h0M864 876h0M728 798h0M749 898h0M855 724h0M761 753h0M792 847h0M852 836h0M838 755h0M864 755h0M773 794h0M817 863h0M808 736h0M877 831h0M761 767h0M875 813h0M745 790h0M868 839h0M813 909h0M787 895h0M787 855h0M844 871h0M835 815h0M852 818h0M896 741h0M711 827h0M849 735h0M739 859h0M766 910h0M829 818h0M773 735h0M849 813h0M836 842h0M840 889h0M846 739h0M756 756h0M744 849h0M714 814h0M849 712h0M697 757h0M768 886h0M920 808h0M748 751h0M726 761h0M787 778h0M790 881h0M841 824h0M898 856h0M848 741h0M878 874h0M809 924h0M703 798h0M793 794h0M704 763h0M713 848h0M841 855h0M874 750h0M704 780h0M879 840h0M833 770h0M782 878h0M835 633h0M713 792h0M721 832h0M885 846h0M788 781h0M873 864h0M763 886h0M784 764h0M809 806h0M929 797h0M775 874h0M799 770h0M748 855h0M836 899h0M824 747h0M789 726h0M730 873h0M850 713h0M829 928h0M720 768h0M771 780h0M871 847h0M804 732h0M815 796h0M819 938h0M819 854h0M725 813h0M822 805h0M724 760h0M786 812h0M781 829h0M683 769h0M789 760h0M765 911h0M710 848h0M824 766h0M902 747h0M862 878h0M766 915h0M889 743h0M735 794h0M743 739h0M882 758h0M730 884h0M805 813h0M851 837h0M775 895h0M842 805h0M803 930h0M842 828h0M864 762h0M781 830h0M775 853h0M816 854h0M797 709h0M787 883h0M808 770h0M876 739h0M776 754h0M795 863h0M784 931h0M827 800h0M806 912h0M905 819h0M809 850h0M837 878h0M730 747h0M828 894h0M820 742h0M854 863h0M858 728h0M900 744h0M870 874h0M770 870h0M768 895h0M786 931h0M730 833h0M825 756h0M830 880h0M805 727h0M737 893h0M822 806h0M862 742h0M800 814h0M769 894h0M861 739h0M849 825h0M832 754h0M859 751h0M782 809h0M891 820h0M872 726h0M842 785h0M758 842h0M722 831h0M835 722h0M869 864h0M829 895h0M877 758h0M887 834h0M838 909h0M780 781h0M821 848h0M783 842h0M832 758h0M803 888h0M865 735h0M781 880h0M784 748h0M809 836h0M819 828h0M821 881h0M833 883h0M750 834h0M844 761h0M794 874h0M797 897h0M795 904h0M824 845h0M805 836h0M756 787h0M736 724h0M840 783h0M791 855h0M813 844h0M770 843h0M817 730h0M842 763h0M862 738h0M855 886h0M819 812h0M751 851h0M859 804h0M825 856h0M727 857h0M771 837h0M772 869h0M759 901h0M734 760h0M747 869h0M754 741h0M836 726h0M856 851h0M811 828h0M825 788h0M792 879h0M843 828h0M742 868h0M758 820h0M716 827h0M849 874h0M765 771h0M846 823h0M845 825h0M857 820h0M858 891h0M793 844h0M773 803h0M840 838h0M770 747h0M811 907h0M719 810h0M851 752h0M699 786h0M745 849h0M833 929h0M767 908h0M816 877h0M724 821h0M894 849h0M807 812h0M839 893h0M739 774h0M752 793h0M790 917h0M791 807h0M895 721h0M825 776h0M869 732h0M802 789h0M812 914h0M700 788h0M716 817h0M820 922h0M792 734h0M747 820h0M783 918h0M849 874h0M667 769h0M880 728h0M822 910h0M818 913h0M746 897h0M859 824h0M788 867h0M808 914h0M801 822h0M877 734h0M829 845h0M825 779h0M709 782h0M775 869h0M836 718h0M719 781h0M735 794h0M892 833h0M755 787h0M863 875h0M850 768h0M815 755h0M798 746h0M740 768h0M741 808h0M849 879h0M774 884h0M708 832h0M714 823h0M852 832h0M910 821h0M849 863h0M827 847h0M788 769h0M860 764h0M739 832h0M835 759h0M800 783h0M802 760h0M849 719h0M727 882h0M756 883h0M727 737h0M732 809h0M703 801h0M790 833h0M768 834h0M855 869h0M821 865h0M793 924h0M878 755h0M920 800h0M816 891h0M730 749h0M845 782h0M736 884h0M871 749h0M845 811h0M822 773h0M820 853h0M755 779h0M764 816h0M870 839h0M844 873h0M838 847h0M892 746h0M775 917h0M802 855h0M749 863h0M794 893h0M774 899h0M889 757h0M790 834h0M744 894h0M817 877h0M842 769h0M845 779h0M815 886h0M804 813h0M905 823h0M827 922h0M755 769h0M821 847h0M835 906h0M916 816h0M811 727h0M772 914h0M789 896h0M741 796h0M754 751h0M698 791h0M746 905h0M742 790h0M844 910h0M770 856h0M779 880h0M808 712h0M765 813h0M799 796h0M832 845h0M831 728h0M827 822h0M884 835h0M897 729h0M890 824h0M881 848h0M830 799h0M827 749h0M914 777h0M826 839h0M772 911h0M783 914h0M741 754h0M736 826h0M878 718h0M781 830h0M806 756h0M831 862h0M844 760h0M745 899h0M741 888h0M766 835h0M773 782h0M793 923h0M808 833h0M865 756h0M863 854h0M913 812h0M808 880h0M854 826h0M714 869h0M725 743h0M799 802h0M859 841h0M733 850h0M814 877h0M736 741h0M851 897h0M887 750h0M766 748h0M846 853h0M764 781h0M879 838h0M730 837h0M720 869h0M823 912h0M790 739h0M880 850h0M878 833h0M921 820h0M827 750h0M854 739h0M863 749h0M849 748h0M738 835h0M893 747h0M873 847h0M743 841h0M823 833h0M776 740h0M678 761h0M800 886h0M776 758h0M781 778h0M841 884h0M733 822h0M802 918h0M714 761h0M923 797h0M756 878h0M850 805h0M786 889h0M761 835h0M778 856h0M909 818h0M715 832h0M738 780h0M723 885h0M765 762h0M866 763h0M806 899h0M809 832h0M781 789h0M727 744h0M792 734h0M741 731h0M795 886h0M831 914h0M841 794h0M846 871h0M872 832h0M779 791h0M754 898h0M850 729h0M803 830h0M840 717h0M785 851h0M871 734h0M780 803h0M756 744h0M740 746h0M872 758h0M844 775h0M819 915h0M868 750h0M836 723h0M746 850h0M738 874h0M780 891h0M899 764h0M695 757h0M863 731h0M735 787h0M890 840h0M795 717h0M780 755h0M789 818h0M835 896h0M869 745h0M768 817h0M828 918h0M812 785h0M801 761h0M719 733h0M833 787h0M813 785h0M834 920h0M895 833h0M915 773h0M919 793h0M786 840h0M789 770h0M880 753h0M703 802h0M802 869h0M886 761h0M755 774h0M885 838h0M710 795h0M746 763h0M777 888h0M831 900h0M829 870h0M806 904h0M845 737h0M830 733h0M805 918h0M797 858h0M730 799h0M825 803h0M836 850h0M843 897h0M862 881h0M774 830h0M816 848h0M804 860h0M747 803h0M774 742h0M842 793h0M920 823h0M793 850h0M788 891h0M908 766h0M766 750h0M841 780h0M879 856h0M909 739h0M825 727h0M774 765h0M760 769h0M734 880h0M864 813h0M823 835h0M822 793h0M817 802h0M875 820h0M731 786h0M758 800h0M722 840h0M831 902h0M786 819h0M769 858h0M858 733h0M838 747h0M735 781h0M799 832h0M814 764h0M710 851h0M877 864h0M789 903h0M809 886h0M732 825h0M907 756h0M742 802h0M820 864h0M804 838h0M712 872h0M772 750h0M881 738h0M794 873h0M753 800h0M750 753h0M706 836h0M753 732h0M761 751h0M812 726h0M850 901h0M712 767h0M911 844h0M845 843h0M854 825h0M888 743h0M847 901h0M887 841h0M725 858h0M731 768h0M732 795h0M806 919h0M737 822h0M817 784h0M859 763h0M816 921h0M772 800h0M806 843h0M796 840h0M766 790h0M749 845h0M752 767h0M764 807h0M742 736h0M738 887h0M823 758h0M788 883h0M852 834h0M730 813h0M735 794h0M747 852h0M782 885h0M804 802h0M767 763h0M838 738h0M838 755h0M708 828h0M780 901h0M846 827h0M832 802h0M862 834h0M725 767h0M862 718h0M856 826h0M905 760h0M829 861h0M725 870h0M888 749h0M797 929h0M883 847h0M903 819h0M887 743h0M769 754h0M730 800h0M742 871h0M793 804h0M838 799h0M756 748h0M705 788h0M800 839h0M804 771h0M804 912h0M747 769h0M827 863h0M828 641h0M877 834h0M821 917h0M753 859h0M784 799h0M849 740h0M790 860h0M806 747h0M817 911h0M670 764h0M792 853h0M799 888h0M801 895h0M886 762h0M708 840h0M888 822h0M788 784h0M750 866h0M868 821h0M835 786h0M858 830h0M766 755h0M788 861h0M843 887h0M811 771h0M840 796h0M919 811h0M850 809h0M713 764h0M836 858h0M853 733h0M787 845h0M808 668h0M760 840h0M703 799h0M793 786h0M818 854h0M839 845h0M756 794h0M770 819h0M830 730h0M745 792h0M875 756h0M727 844h0M745 827h0M714 846h0M801 790h0M902 813h0M803 796h0M712 832h0M888 842h0M730 857h0M896 821h0M722 765h0M792 869h0M700 788h0M779 906h0M837 766h0M761 811h0M741 738h0M874 726h0M866 723h0M753 814h0M822 840h0M718 850h0M783 801h0M816 746h0M785 916h0M757 765h0M927 808h0M784 794h0M892 731h0M752 877h0M785 864h0M919 772h0M821 905h0M796 669h0M739 797h0M873 883h0M709 792h0M774 826h0M738 762h0M830 918h0M822 727h0M757 761h0M799 853h0M874 823h0M919 790h0M846 837h0M622 760h0M854 761h0M812 816h0M827 874h0M866 831h0M768 841h0M854 875h0M877 764h0M896 762h0M742 829h0M765 850h0M795 900h0M784 924h0M740 743h0M866 736h0M837 812h0M738 876h0M739 796h0M873 745h0M935 774h0M871 650h0M907 727h0M938 740h0M913 648h0M881 704h0M911 706h0M920 739h0M878 666h0M931 683h0M933 760h0M925 653h0M936 648h0M936 709h0M834 667h0M878 625h0M906 722h0M832 692h0M893 702h0M948 682h0M870 651h0M847 673h0M874 696h0M897 673h0M941 762h0M852 704h0M881 596h0M882 695h0M939 708h0M871 653h0M845 648h0M848 707h0M950 711h0M902 670h0M918 704h0M898 699h0M853 645h0M876 619h0M884 716h0M859 674h0M843 634h0M900 667h0M838 661h0M836 703h0M930 740h0M869 627h0M864 653h0M894 665h0M859 666h0M916 658h0M917 700h0" stroke="#b49030" stroke-width="5.2" stroke-linecap="round" stroke-opacity="0.8" fill="none"/>
<path d="M1051 748h0M934 523h0M979 610h0M1015 538h0M880 530h0M1034 727h0M960 579h0M872 548h0M1024 648h0M1003 625h0M954 584h0M1060 625h0M1012 571h0M862 533h0M952 590h0M1041 705h0M1048 592h0M1034 714h0M933 579h0M1037 581h0M1030 762h0M1023 617h0M870 553h0M939 542h0M1072 669h0M981 732h0M979 541h0M1029 674h0M987 693h0M996 564h0M1002 525h0M940 552h0M1018 586h0M957 582h0M955 566h0M986 720h0M1015 770h0M869 487h0M1006 623h0M931 530h0M892 557h0M866 553h0M999 557h0M1002 672h0M882 539h0M1073 702h0M984 751h0M947 568h0M1019 691h0M1030 708h0M1010 541h0M1066 671h0M877 516h0M1027 690h0M906 557h0M1012 651h0M1007 682h0M1001 714h0M1065 695h0M903 542h0M997 529h0M947 566h0M879 570h0M1035 628h0M1014 789h0M1015 802h0M1023 599h0M930 527h0M965 566h0M989 576h0M974 795h0M975 528h0M1045 666h0M894 572h0M992 607h0M1021 647h0M1029 607h0M1015 656h0M1014 569h0M965 571h0M924 555h0M940 532h0M900 495h0M979 592h0M1026 716h0M986 566h0M1007 614h0M1032 742h0M989 716h0M933 574h0M961 575h0M993 549h0M894 555h0M1059 744h0M902 550h0M974 575h0M1037 648h0M937 558h0M996 682h0M1044 761h0M1011 758h0M958 510h0M973 516h0M964 765h0M977 546h0M920 554h0M976 786h0M1052 739h0M1002 538h0M1056 602h0M977 573h0M1039 710h0M1010 561h0M998 648h0M861 588h0M882 530h0M1049 743h0M949 504h0M1018 723h0M921 550h0M891 555h0M912 540h0M1011 702h0M1005 584h0M866 565h0M985 710h0M978 654h0M925 565h0M1025 563h0M910 549h0M935 529h0M989 559h0M988 695h0M990 759h0M972 547h0M980 763h0M1030 663h0M928 495h0M949 556h0M1032 563h0M921 522h0M1032 682h0M992 665h0M938 497h0M929 588h0M888 552h0M927 494h0M1021 614h0M903 552h0M1014 731h0M1004 640h0M1032 634h0M1038 592h0M1005 604h0M884 572h0M1012 745h0M1005 531h0M994 718h0M974 631h0M1006 581h0M871 545h0M914 540h0M981 637h0M1007 646h0M1002 639h0M1009 637h0M995 552h0M1005 603h0M1046 739h0M975 598h0M997 684h0M1018 671h0M970 642h0M997 726h0M1013 682h0M970 639h0M987 768h0M973 788h0M1058 658h0M1014 755h0M1027 763h0M874 576h0M916 566h0M1057 729h0M914 492h0M1077 685h0M1011 555h0M1005 697h0M912 546h0M1035 695h0M998 627h0M1005 682h0M951 535h0M909 580h0M1059 738h0M1015 539h0M1070 738h0M1007 733h0M1015 731h0M944 603h0M1008 592h0M955 545h0M940 502h0M1008 558h0M880 510h0M893 488h0M902 571h0M1013 768h0M1034 582h0M996 783h0M1035 623h0M984 805h0M1042 659h0M904 541h0M869 564h0M985 639h0M947 547h0M969 561h0M916 550h0M931 596h0M973 565h0M993 561h0M889 542h0M1000 665h0M1025 799h0M1054 771h0M998 614h0M949 547h0M1075 703h0M983 655h0M1034 746h0M1034 683h0M1013 726h0M1046 689h0M1001 706h0M1000 760h0M921 561h0M1012 658h0M1030 653h0M1059 660h0M888 527h0M1037 621h0M925 557h0M991 578h0M1006 787h0M1038 715h0M960 591h0M1024 559h0M1029 584h0M931 508h0M1009 653h0M1014 726h0M987 675h0M923 489h0M995 758h0M862 574h0M1008 590h0M1043 745h0M930 529h0M985 535h0M1023 589h0M878 483h0M988 799h0M984 518h0M973 756h0M994 532h0M1037 737h0M976 618h0M946 514h0M1051 728h0M879 506h0M881 508h0M940 581h0M993 650h0M968 573h0M896 561h0M1024 691h0M1054 688h0M951 524h0M1034 695h0M1053 668h0M937 601h0M1037 727h0M988 715h0M1040 598h0M1008 764h0M1066 649h0M961 580h0M1035 620h0M1068 690h0M1043 608h0M1054 758h0M1005 767h0M1042 586h0M983 550h0M934 495h0M1037 760h0M958 567h0M952 616h0M1031 687h0M971 774h0M980 620h0M1009 777h0M900 492h0M1002 784h0M1013 689h0M917 596h0M921 580h0M1038 756h0M1023 677h0M1063 664h0M918 591h0M952 612h0M1015 715h0M945 558h0M960 614h0M969 513h0M1057 660h0M1048 718h0M900 588h0M1006 715h0M852 557h0M1063 698h0M947 604h0M876 507h0M928 499h0M999 759h0M867 581h0M975 596h0M860 570h0M885 563h0M959 520h0M1005 652h0M840 586h0M1036 735h0M853 564h0M1051 715h0M965 562h0M1042 734h0M1028 642h0M905 532h0M953 560h0M972 578h0M984 653h0M901 526h0M941 525h0M1034 772h0M1001 796h0M1043 737h0M1020 629h0M933 598h0M983 542h0M1054 773h0M905 529h0M928 559h0M1033 633h0M873 552h0M950 548h0M1023 581h0M983 604h0M1057 615h0M942 561h0M913 512h0M974 577h0M983 664h0M916 538h0M1054 642h0M1031 793h0M1033 670h0M881 570h0M957 582h0M894 500h0M1039 764h0M1050 602h0M954 572h0M1011 676h0M901 491h0M1014 627h0M945 571h0M970 618h0M979 610h0M1019 650h0M1080 675h0M966 632h0M1023 777h0M974 645h0M988 750h0M954 536h0M987 518h0M909 569h0M991 577h0M1004 532h0M976 630h0M889 543h0M1062 674h0M981 570h0M979 795h0M890 551h0M1058 651h0M1004 577h0M995 702h0M994 524h0M991 753h0M972 533h0M1004 729h0M941 560h0M960 559h0M1040 707h0M1052 658h0M1001 801h0M995 788h0M942 578h0M898 529h0M1014 662h0M1031 618h0M908 521h0M903 534h0M952 549h0M982 529h0M946 570h0M1033 614h0M1041 655h0M1002 647h0M955 599h0M969 581h0M968 558h0M872 569h0M1016 777h0M966 583h0M876 577h0M918 590h0M992 558h0M1003 759h0M1010 710h0M970 593h0M924 492h0M963 611h0M1047 596h0M986 764h0M1018 706h0M1016 783h0M920 556h0M1070 708h0M1042 762h0M975 796h0M1043 751h0M925 508h0M911 545h0M880 474h0M1046 760h0M925 587h0M1070 677h0M1048 683h0M1013 730h0M959 603h0M1032 747h0M1075 669h0M1040 607h0M989 656h0M953 576h0M1058 710h0M977 776h0M1028 581h0M1018 562h0M1068 680h0M1010 773h0M987 736h0M1050 646h0M1045 763h0M864 516h0M1027 668h0M855 588h0M968 603h0M989 675h0M1024 727h0M975 552h0M1068 662h0M1001 660h0M1013 593h0M955 532h0M877 498h0M884 500h0M970 619h0M1052 738h0M1031 739h0M1038 709h0M970 764h0M922 546h0M1030 704h0M877 547h0M1008 765h0M993 667h0M987 671h0M961 562h0M986 570h0M1034 587h0M1032 781h0M1025 710h0M941 541h0M1004 771h0M992 656h0M975 597h0M1001 621h0M914 537h0M1029 664h0M1065 656h0M917 491h0M982 681h0M1032 627h0M1017 694h0M1002 671h0M990 773h0M1034 600h0M895 507h0M1044 692h0M1015 804h0M953 610h0M959 606h0M1059 709h0M1063 674h0M1014 735h0M954 576h0M985 635h0M998 701h0M902 539h0M977 532h0M1074 690h0M1058 609h0M976 596h0M1058 712h0M993 638h0M1050 704h0M1063 648h0M1073 673h0M1046 709h0M885 584h0M892 525h0M1006 617h0M1044 630h0M1073 720h0M1018 801h0M1026 564h0M968 574h0M916 500h0M1039 755h0M902 523h0M979 749h0M1016 638h0M1037 648h0M990 749h0M977 524h0M924 541h0M1008 663h0M983 531h0M1065 739h0M998 550h0M1017 619h0M1038 584h0M972 623h0M1003 654h0M970 517h0M964 546h0M1018 734h0M897 560h0M1013 790h0M965 556h0M1060 740h0M905 593h0M979 601h0M1026 626h0M1044 706h0M870 474h0M1022 640h0M975 614h0M975 613h0M942 575h0M1037 661h0M929 570h0M980 562h0M975 647h0M1056 613h0M927 572h0M896 560h0M1025 597h0M1048 703h0M1042 687h0M948 521h0M975 764h0M1027 738h0M1002 701h0M1035 775h0M978 537h0M976 589h0M1067 657h0M1003 707h0M990 646h0M972 602h0M983 592h0M988 533h0M1028 658h0M959 523h0M1057 772h0M1049 727h0M862 538h0M882 562h0M989 553h0M1053 619h0M912 487h0M1006 567h0M1000 711h0M985 703h0M938 555h0M973 522h0M1062 673h0M1020 560h0M986 530h0M884 548h0M1038 706h0M949 544h0M1041 710h0M985 630h0M1042 728h0M1047 646h0M906 581h0M876 566h0M900 553h0M1000 658h0M1019 672h0M1041 601h0M857 551h0M1044 715h0M1009 741h0M1039 586h0M1013 634h0M1054 707h0M905 581h0M910 493h0M1024 620h0M909 517h0M999 723h0M943 559h0M1051 769h0M1033 605h0M976 784h0M994 531h0M1003 680h0M991 689h0M1012 723h0M925 554h0M1004 549h0M996 643h0M963 539h0M1023 698h0M937 507h0M877 534h0M949 617h0M946 552h0M1045 622h0M846 537h0M992 791h0M1038 664h0M879 569h0M905 499h0M985 794h0M942 598h0M1007 726h0M990 532h0M950 615h0M948 545h0M1022 555h0M970 588h0M1028 790h0M1070 725h0M1033 656h0M890 581h0M1003 805h0M931 598h0M995 548h0M1014 711h0M888 510h0M988 542h0M1010 634h0M886 544h0M1002 550h0M945 532h0M1042 622h0M1009 682h0M930 521h0M942 492h0M1052 678h0M1054 707h0M1047 718h0M1044 579h0M984 733h0M914 578h0M911 522h0M998 726h0M1025 599h0M1025 672h0M1050 647h0M1004 804h0M943 526h0M1020 684h0M1041 769h0M1036 602h0M985 687h0M941 534h0M985 611h0M904 482h0M995 789h0M1011 785h0M1007 789h0M1022 650h0M991 523h0M1041 660h0M1066 668h0M1015 797h0M958 572h0M974 583h0M1037 790h0M996 784h0M993 799h0M1011 558h0M1035 608h0M1039 779h0M939 521h0M950 597h0M947 581h0M957 566h0M1019 701h0M1014 542h0M1052 708h0M969 559h0M998 575h0M1046 706h0M982 573h0M1059 692h0M1012 750h0M1009 735h0M982 572h0M885 587h0M920 596h0M1007 667h0M1004 786h0M1014 560h0M1039 724h0M957 561h0M966 587h0M987 554h0M1058 662h0M996 674h0M892 481h0M997 693h0M1018 678h0M1001 806h0M1065 641h0M977 656h0M945 597h0M910 512h0M1033 570h0M1037 660h0M1025 648h0M1026 780h0M917 520h0M974 641h0M1025 672h0M881 519h0M1003 693h0M970 558h0M991 534h0M940 564h0M1020 646h0M1046 638h0M1041 719h0M1005 755h0M1010 637h0M897 513h0M977 777h0M920 592h0M995 738h0M1012 709h0M997 608h0M1013 716h0M1036 657h0M989 660h0M978 550h0M1005 742h0M1040 700h0M994 584h0M943 491h0M879 531h0M967 513h0M1019 569h0M978 650h0M933 510h0M1029 625h0M1005 704h0M932 564h0M992 579h0M926 537h0M948 503h0M991 703h0M1010 661h0M976 582h0M927 578h0M967 634h0M965 565h0M1039 622h0M964 581h0M1054 599h0M1049 664h0M1005 640h0M996 707h0M880 569h0M950 554h0M861 537h0M969 550h0M995 684h0M986 591h0M968 632h0M954 592h0M927 552h0M1014 724h0M1030 633h0M1044 734h0M966 578h0M968 525h0M983 624h0M917 509h0M1062 655h0M992 585h0M1008 588h0M949 572h0M1015 619h0M952 612h0M887 573h0M987 537h0M979 734h0M986 685h0M941 598h0M981 750h0M874 532h0M953 531h0M970 758h0M1018 637h0M867 581h0M1003 653h0M880 569h0M901 559h0M1072 650h0M1032 595h0M1022 694h0M1014 743h0M965 792h0M1012 728h0M1038 765h0M920 500h0M913 530h0M955 540h0M926 493h0M986 560h0M1050 721h0M880 564h0M1008 563h0M1039 671h0M954 548h0M1004 763h0M922 597h0M891 568h0M1038 603h0M948 585h0M867 543h0M1004 544h0M912 524h0M989 607h0M1020 620h0M1022 630h0M973 767h0M987 637h0M941 599h0M927 559h0M1048 661h0M1015 591h0M1011 627h0M981 577h0M982 680h0M1012 783h0M987 686h0M1027 601h0M947 544h0M896 511h0M918 538h0M1034 740h0M973 773h0M962 506h0M981 614h0M873 553h0M927 572h0M1047 720h0M1035 721h0M936 540h0M948 600h0M878 538h0M1011 804h0M968 531h0M996 630h0M930 497h0M885 493h0M889 571h0M979 628h0M887 484h0M1031 704h0M946 526h0M1018 709h0M978 771h0M1030 666h0M1043 664h0M950 606h0M896 485h0M961 545h0M1021 765h0M908 576h0M1028 792h0M1010 721h0M991 522h0M1031 699h0M995 731h0M1063 733h0M903 508h0M1046 687h0M950 530h0M959 631h0M1019 648h0M962 542h0M1053 729h0M1004 801h0M871 540h0M1038 662h0M1036 603h0M995 776h0M1043 611h0M1026 782h0M1029 676h0M873 536h0M1033 601h0M1060 668h0M990 662h0M891 578h0M1013 764h0M986 787h0M993 659h0M1034 779h0M903 523h0M1003 684h0M1037 640h0M1029 793h0M1018 582h0M1006 709h0M915 581h0M998 614h0M889 537h0M1067 681h0M879 558h0M987 628h0M947 500h0M976 557h0M972 634h0M986 777h0M988 707h0M865 559h0M1065 705h0M1024 714h0M893 557h0M1008 619h0M1017 587h0M997 594h0M996 794h0M955 601h0M930 537h0M1031 637h0M1000 578h0M947 543h0M1002 588h0M999 764h0M908 586h0M991 782h0M965 634h0M960 522h0M878 546h0M1038 630h0M999 718h0M853 560h0M919 555h0M1009 772h0M1028 611h0M1018 631h0M962 540h0M972 773h0M993 712h0M996 795h0M898 587h0M965 558h0M1044 644h0M855 584h0M1036 756h0M1025 661h0M880 511h0M1009 609h0M1051 755h0M979 515h0M893 576h0M1006 752h0M954 525h0M923 502h0M1049 735h0M881 567h0M1034 717h0M971 591h0M1060 649h0M931 533h0M953 528h0M1045 717h0M1019 663h0M985 622h0M1027 692h0M1045 633h0M996 717h0M1034 630h0M965 584h0M996 606h0M984 611h0M956 554h0M1009 620h0M996 622h0M1074 670h0M895 589h0M1011 655h0M1037 771h0M891 480h0M1006 698h0M1030 598h0M966 570h0M960 594h0M1000 712h0M916 564h0M1013 540h0M985 624h0M1054 673h0M951 504h0M889 560h0M1026 647h0M1019 630h0M1012 657h0M970 515h0M903 573h0M940 568h0M884 534h0M1027 658h0M1051 728h0M942 598h0M1036 637h0M906 539h0M1046 677h0M923 501h0M1034 611h0M885 492h0M863 531h0M996 792h0M1013 800h0M958 519h0M932 589h0M944 542h0M1006 666h0M1060 740h0M1033 747h0M906 539h0M996 724h0M995 569h0M923 502h0M889 563h0M978 771h0M1008 801h0M1037 613h0M886 535h0M1042 610h0M967 624h0M942 539h0M1058 625h0M1038 694h0M989 746h0M911 521h0M1008 549h0M993 575h0M973 551h0M991 743h0M1003 592h0M993 691h0M1068 688h0M932 591h0M954 580h0M1016 630h0M891 569h0M990 747h0M1025 702h0M946 509h0M916 523h0M981 545h0M1025 794h0M1015 635h0M1008 732h0M1038 777h0M900 567h0M1039 707h0M931 535h0M968 642h0M983 795h0M977 664h0M948 508h0M972 537h0M896 541h0M1053 600h0M908 535h0M1056 678h0M969 560h0M1030 657h0M1069 665h0M898 514h0M878 570h0M1056 626h0M1000 776h0M1039 774h0M1035 605h0M1033 732h0M1011 792h0M967 592h0M928 541h0M1065 684h0M911 548h0M976 628h0M1028 702h0M975 519h0M899 501h0M997 723h0M912 531h0M991 558h0M961 517h0M1002 653h0M902 546h0M979 611h0M950 506h0M987 555h0M952 536h0M982 599h0M918 585h0M1058 646h0M1016 643h0M958 593h0M988 752h0M988 743h0M1007 710h0M917 565h0M933 535h0M985 756h0M998 694h0M1010 744h0M1057 722h0M947 615h0M912 583h0M902 516h0M965 533h0M1010 676h0M993 540h0M1055 636h0M1018 590h0M967 512h0M1005 711h0M1040 675h0M989 661h0M1061 641h0M1044 773h0M1061 632h0M1010 732h0M990 763h0M928 598h0M1018 665h0M982 763h0M893 541h0M993 597h0M988 590h0M1018 746h0M971 573h0M992 681h0M883 501h0M1006 798h0M949 515h0M873 527h0M875 581h0M1050 742h0M947 515h0M898 563h0M926 580h0M997 632h0M887 550h0M1040 650h0M903 562h0M971 576h0M861 535h0M958 601h0M878 517h0M1002 661h0M995 531h0M1015 565h0M920 579h0M1002 594h0M950 533h0M983 732h0M934 527h0M933 565h0M948 584h0M1072 664h0M1037 732h0M1028 766h0M1004 600h0M1002 732h0M977 522h0M911 583h0M1015 789h0M954 620h0M917 485h0M1050 741h0M1044 602h0M996 765h0M1016 737h0M1030 756h0M905 500h0M915 531h0M920 578h0M1013 762h0M969 556h0M941 557h0M1015 738h0M1011 716h0M1036 707h0M1062 718h0M961 611h0M910 569h0M988 645h0M934 506h0M884 500h0M988 527h0M897 543h0M1056 705h0M1003 803h0M858 570h0M1013 601h0M1008 647h0M891 560h0M1038 785h0M990 766h0M989 731h0M873 565h0M986 566h0M956 500h0M997 532h0M1038 626h0M987 741h0M984 742h0M1045 645h0M968 589h0M1011 647h0M929 523h0M959 530h0M1012 758h0M1029 754h0M991 734h0M1005 538h0M984 728h0M948 506h0M1041 618h0M1009 771h0M1050 607h0M993 604h0M1009 728h0M1038 789h0M1014 795h0M926 486h0M964 603h0M919 488h0M1040 595h0M912 535h0M920 555h0M1003 794h0M1060 649h0M894 503h0M1003 732h0M917 523h0M986 627h0M1044 583h0M889 566h0M1046 660h0M1034 782h0M1024 713h0M1022 731h0M994 734h0M962 592h0M888 499h0M954 559h0M1050 692h0M1056 628h0M906 511h0M1056 734h0M982 718h0M890 523h0M1019 806h0M964 570h0M1026 650h0M988 789h0M1016 696h0M1013 788h0M1026 786h0M1026 799h0M938 534h0M1071 728h0M1044 708h0M977 528h0M1060 632h0M1021 687h0M995 705h0M1004 553h0M1001 550h0M925 488h0M1019 694h0M961 569h0M920 550h0M988 683h0M884 574h0M1049 759h0M970 625h0M961 509h0M1020 687h0M1010 781h0M867 537h0M1027 728h0M976 770h0M988 640h0M964 631h0M1064 641h0M991 607h0M904 589h0M893 535h0M859 570h0M988 740h0M1051 623h0M913 516h0M954 516h0M892 502h0M962 542h0M1051 605h0M986 573h0M988 753h0M992 536h0M963 569h0M1023 663h0M936 497h0M860 558h0M1024 778h0M967 548h0M1032 657h0M1029 567h0M1012 577h0M1018 735h0M1043 635h0M1025 709h0M926 536h0M1040 725h0M1035 727h0M990 692h0M1022 699h0M954 630h0M1036 775h0M940 595h0M997 634h0M995 664h0M1035 649h0M910 554h0M1019 611h0M995 522h0M990 723h0M932 547h0M1021 587h0M1013 793h0M984 665h0M987 726h0M960 545h0M1003 777h0M907 539h0M1007 763h0M1000 764h0M924 532h0M961 553h0M1000 693h0M1068 700h0M965 565h0M1008 660h0M1029 646h0M1028 788h0M980 796h0M890 560h0M879 514h0M929 567h0M1018 680h0M1029 684h0M1033 605h0M1035 779h0M1015 662h0M901 497h0M1004 687h0M933 585h0M971 576h0M995 762h0M1059 679h0M1046 655h0M923 506h0M929 570h0M1006 636h0M1019 697h0M908 568h0M1039 752h0M1075 683h0M880 519h0M966 523h0M947 500h0M1009 771h0M974 771h0M933 517h0M974 606h0M1001 743h0M976 631h0M1035 725h0M996 611h0M981 578h0M1014 582h0M956 546h0M970 601h0M894 499h0M1010 655h0M1033 602h0M920 594h0M930 559h0M918 544h0M893 538h0M963 516h0M976 607h0M942 604h0M976 599h0M947 612h0M1019 657h0M1065 730h0M978 552h0M902 569h0M987 536h0M904 591h0M909 581h0M922 590h0M1036 603h0M1037 645h0M1027 630h0M1028 775h0M909 528h0M947 596h0M1021 800h0M974 538h0M1012 675h0M986 723h0M1039 770h0M1013 650h0M916 487h0M984 595h0M987 604h0M1011 759h0M919 564h0M936 534h0M1074 659h0M1031 723h0M976 644h0M1051 695h0M999 634h0M1009 556h0M986 712h0M1015 602h0M1014 763h0M1015 785h0M919 502h0M985 570h0M1051 616h0M890 529h0M1074 684h0M1055 747h0M1006 686h0M958 621h0M996 656h0M887 571h0M998 551h0M1004 628h0M942 509h0M977 514h0M918 568h0M974 529h0M996 724h0M1018 667h0M1002 541h0M1053 737h0M911 581h0M936 529h0M983 557h0M916 554h0M969 533h0M1003 699h0M991 582h0M1010 552h0M947 516h0M1027 753h0M1009 542h0M925 507h0M994 755h0M920 527h0M1015 664h0M974 574h0M999 769h0M1006 591h0M922 556h0M1001 714h0M1029 639h0M919 490h0M905 533h0M884 515h0M982 786h0M952 605h0M1039 658h0M1010 738h0M870 550h0M988 623h0M959 543h0M967 517h0M967 624h0M935 587h0M1004 752h0M1044 721h0M995 646h0M1029 566h0M1010 762h0M940 585h0M959 566h0M1025 796h0M950 549h0M889 563h0M967 558h0M972 789h0M1028 594h0M985 563h0M1031 661h0M987 590h0M1001 562h0M934 539h0M987 728h0M1002 686h0M1045 639h0M1012 776h0M1030 715h0M899 569h0M1049 746h0M975 784h0M1015 613h0M945 561h0M1042 755h0M969 511h0M1057 641h0M854 575h0M935 514h0M928 581h0M924 523h0M1050 689h0M1021 662h0M1045 613h0M852 555h0M931 524h0M975 614h0M964 614h0M1043 704h0M1021 729h0M970 514h0M923 555h0M976 655h0M1025 627h0M859 573h0M1026 718h0M1027 621h0M881 538h0M853 580h0M900 575h0M1064 701h0M1025 725h0M988 784h0M925 555h0M879 497h0M963 579h0M877 544h0M914 510h0M949 574h0M1040 767h0M1035 665h0M1025 739h0M1063 641h0M1070 697h0M984 602h0M986 762h0M996 618h0M876 498h0M1006 652h0M1030 577h0M1019 586h0M1010 604h0M1020 553h0M926 542h0M1029 797h0M955 621h0M1014 706h0M987 759h0M966 629h0M942 542h0M1037 760h0M896 543h0M1068 687h0M951 560h0M1018 654h0M926 519h0M1062 634h0M911 565h0M1002 580h0M949 547h0M915 523h0M921 494h0M1019 741h0M992 698h0M1047 631h0M1008 566h0M964 547h0M911 551h0M1001 745h0M999 729h0M1009 632h0M1052 642h0M1007 667h0M1061 726h0M1017 675h0M990 636h0M985 534h0M934 504h0M998 631h0M1007 716h0M1016 604h0M973 763h0M1002 532h0M963 513h0M988 611h0M957 601h0M1026 600h0M1061 660h0M886 569h0M1031 582h0M944 517h0M920 582h0M1025 735h0M949 515h0M1008 561h0M969 520h0M1038 715h0M1052 765h0M929 557h0M1011 566h0M959 540h0M992 549h0M1063 696h0M1017 706h0M1040 600h0M1029 693h0M873 514h0M1015 789h0M979 570h0M995 809h0M1010 552h0M1017 659h0M897 591h0M999 765h0M964 565h0M954 608h0M984 659h0M995 704h0M1033 592h0M884 530h0M1004 740h0M992 570h0M1049 647h0M996 751h0M868 573h0M1030 739h0M935 601h0M980 786h0M1008 782h0M883 550h0M1002 624h0M885 517h0M1040 724h0M957 541h0M983 669h0M1053 645h0M966 591h0M967 538h0M1002 713h0M1054 645h0M870 528h0M945 504h0M1010 684h0M893 586h0M1020 734h0M1049 596h0M988 540h0M909 504h0M904 593h0M932 493h0M961 563h0M994 604h0M848 509h0M1017 589h0M1022 766h0M1017 799h0M1031 585h0M1007 537h0M887 571h0M989 715h0M973 645h0M969 533h0M930 504h0M964 587h0M1016 644h0M942 524h0M995 701h0M911 555h0M978 532h0M943 532h0M1025 616h0M1035 783h0M1065 703h0M951 519h0M925 587h0M966 786h0M1016 679h0M1046 747h0M1001 661h0M1031 611h0M952 595h0M899 481h0M1057 716h0M1000 606h0M1011 618h0M1021 711h0M970 773h0M1012 597h0M974 556h0M1022 675h0M1048 755h0M1004 622h0M927 582h0M1059 744h0M1006 554h0M992 739h0M929 541h0M992 743h0M932 541h0M995 787h0M975 541h0M997 610h0M1026 567h0M947 587h0M984 632h0M1025 686h0M960 596h0M867 557h0M887 568h0M968 619h0M990 731h0M946 624h0M995 644h0M1044 714h0M922 536h0M1034 694h0M1013 571h0M909 584h0M942 563h0M1006 683h0M1011 650h0M983 537h0M968 776h0M1004 706h0M982 511h0M888 553h0M881 558h0M1052 675h0M1039 633h0M1017 611h0M936 543h0M925 509h0M920 518h0M1014 548h0M959 592h0M901 546h0M1010 777h0M1048 610h0M1004 662h0M1027 735h0M981 515h0M1007 674h0M1039 619h0M961 706h0M964 742h0M979 702h0M972 662h0M935 646h0M940 712h0M944 717h0M956 642h0M960 648h0M957 685h0M903 610h0M935 696h0M913 610h0M970 648h0M956 676h0M915 633h0M947 629h0M979 699h0" stroke="#303060" stroke-width="5.2" stroke-linecap="round" stroke-opacity="0.8" fill="none"/>
<path d="M946 776h0M925 787h0M932 806h0M927 793h0M936 761h0M926 771h0M939 798h0M938 765h0M942 753h0M935 790h0M936 764h0M938 759h0M934 779h0M948 792h0M938 764h0M940 839h0M949 778h0M939 752h0M938 800h0M924 793h0M918 750h0M913 750h0M933 786h0M917 762h0M917 759h0M924 850h0M916 753h0M922 768h0M951 808h0M936 817h0M921 827h0M938 818h0M932 818h0M923 764h0M940 802h0M926 837h0M935 753h0M935 783h0M943 757h0M946 807h0M915 750h0M922 777h0M931 798h0M945 792h0M924 804h0" stroke="#2b2b5e" stroke-width="5.2" stroke-linecap="round" stroke-opacity="0.75" fill="none"/>
<circle cx="1071.3" cy="799.2" r="9.8" fill="#1f2459"/>
<text x="1093.0" y="808.2">L2/3</text>
<circle cx="1071.3" cy="841.4" r="9.8" fill="#1c5564"/>
<text x="1093.0" y="850.4">L4</text>
<circle cx="1071.3" cy="883.3" r="9.8" fill="#4f774a"/>
<text x="1093.0" y="892.3">L5</text>
<circle cx="1071.3" cy="925.1" r="9.8" fill="#b8922c"/>
<text x="1093.0" y="934.1">L6</text>
<defs><filter id="bl2" x="-5%" y="-5%" width="110%" height="110%"><feGaussianBlur stdDeviation="2.5"/></filter></defs>
<g filter="url(#bl2)"><path d="M145.6,1114.5L152.0,1109.9L151.8,1101.8L156.0,1097.7L161.0,1094.9L166.6,1093.1L170.6,1088.5L177.3,1090.5L179.3,1081.4L186.4,1084.2L194.2,1084.3L197.1,1075.8L203.8,1074.0L209.9,1071.7L215.2,1067.6L221.2,1065.2L228.3,1067.8L233.9,1058.7L241.1,1062.6L247.1,1060.0L253.2,1058.0L260.5,1059.5L265.9,1055.0L271.3,1050.7L278.2,1051.3L285.7,1052.2L293.1,1053.9L299.2,1053.1L304.3,1056.5L309.6,1059.0L315.5,1058.9L322.1,1057.3L327.5,1063.4L333.8,1063.8L340.3,1062.6L344.9,1065.5L349.5,1068.2L355.7,1066.5L360.3,1069.5L365.1,1071.5L371.2,1072.7L375.4,1077.1L379.4,1081.7L385.8,1082.3L389.9,1086.7L395.3,1088.4L400.6,1090.3L405.7,1092.5L410.5,1095.4L414.7,1099.4L419.7,1101.2L425.6,1100.7L429.4,1105.5L434.6,1106.9L435.2,1113.5L440.2,1116.1L445.3,1118.7L450.0,1121.7L451.9,1127.1L456.6,1130.7L455.4,1138.7L461.8,1141.1L466.4,1144.8L468.1,1150.6L471.8,1155.0L471.3,1162.9L478.5,1165.2L481.0,1171.0L485.1,1175.6L489.1,1180.2L492.4,1184.9L496.5,1189.2L497.3,1195.1L499.1,1200.5L500.2,1207.2L499.0,1214.1L501.0,1220.7L501.9,1226.7L504.4,1231.9L508.3,1236.2L511.5,1241.0L511.4,1247.9L516.9,1253.1L514.3,1260.8L519.0,1266.2L517.2,1272.4L518.4,1279.0L516.0,1285.1L516.5,1291.5L514.8,1297.9L510.2,1303.4L507.5,1309.4L509.0,1316.8L502.8,1322.1L509.7,1330.1L508.6,1336.4L504.1,1342.1L503.3,1348.7L500.0,1354.6L496.5,1360.4L496.6,1367.3L493.0,1372.0L494.7,1379.9L488.3,1382.9L483.1,1386.6L481.8,1392.6L477.1,1396.0L471.9,1398.9L469.0,1404.4L464.3,1407.8L458.3,1410.2L451.8,1411.2L445.5,1412.6L439.5,1415.4L433.4,1414.3L427.2,1413.9L420.8,1415.1L414.7,1412.9L409.6,1408.9L403.7,1406.3L399.3,1401.1L392.4,1400.2L391.1,1392.4L385.0,1387.6L389.4,1382.8L392.6,1376.9L397.4,1372.4L398.5,1366.1L403.2,1361.4L405.0,1355.4L407.3,1349.7L408.0,1343.9L410.3,1338.6L410.4,1332.6L414.8,1327.8L414.7,1321.8L414.2,1315.7L418.6,1309.9L417.2,1303.7L418.1,1297.7L417.2,1291.5L413.5,1285.7L415.2,1278.8L415.2,1272.2L412.3,1266.2L408.4,1262.0L408.0,1256.3L406.8,1251.0L404.8,1246.0L398.6,1242.9L398.0,1235.4L395.2,1229.6L389.9,1225.8L384.6,1221.9L383.1,1215.1L376.3,1212.4L375.0,1205.5L370.0,1203.1L363.4,1203.9L361.3,1195.6L355.2,1195.4L349.3,1192.6L342.8,1191.7L336.0,1191.5L330.3,1187.8L326.7,1182.6L322.5,1178.6L315.5,1180.2L308.8,1178.8L311.1,1170.0L305.5,1167.6L298.9,1166.7L295.6,1172.6L291.7,1176.4L291.1,1182.8L285.7,1185.3L279.8,1186.0L276.0,1190.7L270.8,1192.9L268.7,1199.5L266.7,1206.1L260.9,1210.6L258.0,1217.0L255.8,1223.6L255.9,1230.8L252.0,1236.9L246.0,1241.0L241.9,1245.4L242.1,1252.5L235.2,1255.1L233.6,1261.2L230.1,1265.2L227.0,1269.6L223.3,1273.4L218.2,1276.0L216.2,1281.3L210.3,1283.0L205.7,1286.6L201.2,1290.5L196.4,1294.0L190.9,1293.2L185.4,1291.3L179.7,1291.6L174.0,1291.5L172.5,1285.7L167.6,1282.0L160.4,1279.7L164.4,1270.5L163.7,1264.2L157.3,1261.4L153.3,1257.1L150.3,1252.2L147.4,1247.2L144.7,1242.1L144.8,1236.6L142.2,1231.0L143.6,1225.5L142.6,1219.9L145.5,1214.4L144.3,1208.8L146.1,1203.3L144.6,1197.7L147.3,1192.2L145.6,1186.6L150.2,1181.1L140.8,1175.5L143.7,1170.0L147.3,1164.5L151.1,1158.9L144.7,1153.3L145.4,1147.8L144.9,1142.2L148.5,1136.7L144.8,1131.1L147.1,1125.6L144.8,1120.0ZM150.3,1118.1L156.1,1115.6L161.6,1114.7L165.3,1123.9L171.9,1116.7L176.5,1120.9L181.9,1120.5L187.4,1120.0L191.4,1127.4L197.3,1124.3L203.2,1122.2L207.9,1126.0L213.3,1126.2L218.5,1127.7L223.7,1128.9L228.6,1131.8L234.6,1129.0L239.9,1129.7L243.9,1137.2L249.8,1135.0L253.5,1139.5L260.3,1140.2L264.0,1144.7L267.0,1150.0L271.1,1154.0L272.7,1161.0L281.1,1159.8L284.2,1164.9L284.7,1173.3L293.0,1172.2L292.0,1178.9L283.7,1178.8L282.0,1184.8L277.6,1188.2L276.0,1194.3L270.8,1197.2L266.2,1201.7L265.4,1208.8L261.6,1213.9L257.2,1218.6L251.9,1223.6L251.4,1230.4L250.8,1237.1L248.6,1243.2L241.3,1245.3L242.2,1253.5L238.1,1257.9L234.4,1262.7L231.2,1267.8L226.6,1271.5L220.3,1273.4L219.9,1281.0L216.5,1285.8L210.6,1288.3L207.8,1293.6L204.2,1299.8L197.8,1301.9L191.9,1304.7L186.8,1308.5L181.0,1309.6L175.5,1311.6L171.0,1316.6L164.8,1316.5L159.2,1318.2L153.3,1317.7L148.3,1321.1L143.2,1323.8L137.2,1323.0L132.7,1328.6L127.4,1330.6L121.0,1328.0L116.3,1322.6L109.7,1327.6L104.7,1324.0L98.9,1324.9L93.6,1322.5L88.6,1319.5L82.7,1320.3L77.2,1319.5L71.4,1319.4L67.1,1315.3L62.2,1312.7L59.2,1305.1L52.1,1308.5L44.3,1307.0L44.9,1298.4L40.9,1293.7L36.8,1289.1L38.9,1282.7L37.3,1277.1L34.9,1271.6L32.4,1266.1L33.8,1260.9L34.9,1255.6L37.3,1250.5L35.9,1244.8L38.5,1240.1L42.3,1236.2L46.7,1232.8L48.0,1227.2L51.0,1221.2L55.5,1216.0L56.9,1209.3L58.2,1203.1L63.8,1200.4L68.3,1196.8L70.7,1191.5L75.0,1187.5L81.8,1188.1L85.4,1182.9L87.7,1175.4L95.2,1177.2L98.8,1172.7L105.2,1171.8L109.8,1168.5L114.4,1165.3L116.2,1158.6L121.3,1155.9L126.4,1151.7L131.7,1147.7L128.6,1137.8L139.3,1137.5L138.7,1129.4L141.1,1124.5L144.2,1119.9L145.6,1114.5ZM6.5,1336.4L10.1,1329.8L8.1,1322.5L12.3,1318.1L15.4,1312.8L20.8,1310.8L26.0,1308.5L32.6,1305.0L39.6,1307.5L46.1,1309.2L52.2,1311.8L55.9,1316.8L58.5,1322.5L58.1,1327.8L58.5,1333.3L57.0,1338.5L56.4,1343.9L54.3,1348.9L52.6,1354.3L48.0,1357.8L40.5,1360.3L34.4,1365.3L27.7,1362.8L20.7,1363.2L17.3,1356.3L10.2,1353.5L9.0,1347.8L7.1,1342.2ZM52.2,1319.3L58.0,1318.8L63.8,1319.2L69.1,1315.1L75.2,1318.4L80.7,1315.2L86.1,1311.9L92.2,1315.0L97.2,1312.7L102.9,1314.9L108.0,1313.6L112.8,1309.4L118.6,1312.8L123.7,1310.7L129.0,1310.3L134.2,1311.3L139.5,1310.9L144.6,1307.3L150.0,1310.6L155.2,1309.6L160.4,1307.8L166.0,1312.4L171.1,1310.0L176.3,1308.0L181.5,1307.5L186.5,1304.6L192.0,1306.5L197.3,1306.2L202.5,1305.3L208.2,1303.3L212.3,1312.1L218.2,1308.7L223.5,1308.5L228.0,1313.5L234.6,1308.1L238.6,1315.5L244.6,1312.8L251.1,1310.7L256.7,1313.5L262.4,1316.0L267.8,1316.8L273.0,1315.1L277.7,1308.9L283.5,1313.9L289.9,1311.7L296.0,1316.6L302.4,1315.0L307.3,1320.9L313.6,1319.2L319.8,1317.5L325.5,1319.3L326.6,1326.4L333.5,1331.0L333.9,1338.5L335.3,1344.4L341.6,1347.9L341.3,1354.6L344.2,1359.9L347.3,1365.2L348.3,1371.6L352.8,1376.0L355.3,1381.1L353.9,1387.7L358.8,1391.9L360.2,1397.4L357.0,1402.3L355.8,1407.7L360.4,1414.6L354.9,1418.9L352.7,1424.2L350.6,1429.5L350.3,1435.6L346.5,1440.3L342.6,1445.0L342.1,1452.2L334.8,1454.3L331.3,1459.3L328.6,1464.9L323.8,1467.9L316.3,1467.5L315.0,1475.0L311.0,1479.1L307.8,1484.1L302.4,1486.3L297.9,1490.4L296.2,1496.9L288.3,1498.0L286.6,1504.5L284.4,1510.7L279.5,1515.0L272.5,1518.0L272.9,1526.0L267.3,1528.5L265.4,1534.2L259.8,1536.7L258.7,1543.2L255.1,1547.4L249.6,1546.2L244.6,1548.8L239.6,1551.6L233.9,1549.2L228.5,1548.8L223.5,1551.7L218.1,1550.8L212.3,1550.9L207.4,1548.0L200.9,1550.6L196.9,1545.0L192.0,1542.0L185.5,1541.0L183.9,1531.5L175.6,1533.5L169.2,1532.3L165.7,1526.0L163.0,1520.2L157.0,1517.7L153.2,1513.0L149.2,1508.5L144.7,1504.5L142.0,1500.0L137.7,1496.5L137.0,1490.3L133.1,1486.7L129.0,1483.1L125.8,1478.2L124.4,1472.6L120.6,1467.9L121.2,1461.5L118.4,1456.3L119.6,1450.8L118.9,1445.5L118.3,1440.1L116.1,1435.0L119.5,1429.2L115.3,1424.2L113.8,1419.0L113.3,1413.5L111.4,1408.3L111.1,1402.8L107.8,1397.3L103.8,1392.4L104.8,1384.1L97.4,1381.4L92.6,1377.6L85.1,1379.2L81.7,1372.8L75.9,1370.1L69.3,1368.4L65.9,1362.1L60.0,1356.5L52.2,1354.6L55.4,1348.7L51.2,1342.8L53.7,1336.9L51.7,1331.0L53.2,1325.1Z" fill="#8b8b8b" stroke="#8b8b8b" stroke-width="7" stroke-linejoin="round"/><ellipse cx="318" cy="1377" rx="32" ry="20" fill="#fff"/></g>
<path d="M501 1235h0M332 1415h0M318 1464h0M34 1307h0M262 1534h0M118 1415h0M507 1329h0M511 1315h0M118 1168h0M285 1316h0M442 1123h0M502 1324h0M147 1114h0M86 1174h0M339 1446h0M418 1278h0M475 1400h0M108 1404h0M264 1321h0M323 1414h0M389 1082h0M198 1296h0M327 1177h0M299 1320h0M65 1367h0M356 1394h0M233 1318h0M320 1057h0M350 1430h0M151 1514h0M281 1312h0M207 1545h0M501 1321h0M498 1221h0M387 1082h0M485 1182h0M219 1546h0M225 1267h0M512 1297h0M491 1178h0M280 1408h0M411 1250h0M489 1185h0M291 1171h0M52 1214h0M306 1163h0M233 1313h0M185 1086h0M233 1059h0M336 1417h0M46 1296h0M194 1545h0M68 1322h0M282 1504h0M59 1323h0M419 1318h0M237 1318h0M45 1305h0M103 1176h0M43 1238h0M458 1405h0M400 1370h0M282 1318h0M204 1080h0M325 1175h0M59 1205h0M42 1286h0M53 1228h0M302 1169h0M496 1210h0M296 1489h0M114 1399h0M419 1284h0M329 1338h0M333 1411h0M135 1147h0M338 1353h0M432 1116h0M195 1312h0M180 1090h0M458 1139h0M342 1368h0M350 1420h0M317 1063h0M321 1366h0M91 1374h0M339 1448h0M417 1265h0M152 1507h0M105 1174h0M295 1321h0M344 1350h0M289 1058h0M163 1523h0M33 1271h0M318 1060h0M239 1245h0M275 1311h0M280 1412h0M329 1367h0M151 1111h0M71 1371h0M301 1483h0M475 1395h0M245 1544h0M419 1319h0M199 1086h0M353 1072h0M391 1391h0M299 1056h0M273 1402h0M175 1094h0M279 1405h0M170 1528h0M64 1308h0M490 1185h0M139 1135h0M333 1342h0M339 1358h0M116 1403h0M357 1199h0M333 1340h0M350 1388h0M252 1234h0M206 1077h0M303 1061h0M37 1245h0M57 1221h0M68 1190h0M300 1163h0M262 1311h0M288 1494h0M131 1142h0M285 1505h0M30 1261h0M215 1283h0M43 1360h0M324 1329h0M117 1427h0M498 1347h0M371 1199h0M284 1311h0M368 1078h0M372 1077h0M217 1274h0M396 1370h0M247 1063h0M399 1375h0M291 1420h0M404 1356h0M252 1224h0M470 1163h0M270 1196h0M349 1421h0M324 1367h0M86 1370h0M329 1455h0M34 1360h0M515 1276h0M68 1321h0M71 1196h0M31 1306h0M423 1414h0M239 1318h0M247 1239h0M251 1061h0M260 1224h0M363 1076h0M333 1064h0M371 1200h0M309 1164h0M447 1124h0M291 1364h0M498 1222h0M497 1211h0M120 1450h0M221 1315h0M80 1373h0M344 1400h0M250 1229h0M457 1132h0M11 1330h0M63 1208h0M151 1112h0M261 1237h0M323 1057h0M65 1359h0M234 1059h0M456 1132h0M265 1321h0M511 1290h0M274 1054h0M412 1336h0M485 1174h0M288 1180h0M496 1222h0M278 1053h0M208 1291h0M357 1393h0M318 1056h0M308 1369h0M48 1298h0M111 1395h0M67 1313h0M199 1546h0M515 1294h0M312 1169h0M261 1534h0M340 1453h0M122 1428h0M119 1454h0M263 1203h0M236 1061h0M134 1150h0M346 1398h0M493 1363h0M290 1414h0M444 1124h0M305 1370h0M141 1488h0M394 1241h0M499 1342h0M339 1356h0M156 1102h0M348 1069h0M227 1068h0M247 1315h0M65 1307h0M122 1448h0M515 1279h0M76 1365h0M306 1479h0M375 1208h0M472 1396h0M508 1300h0M511 1305h0M282 1188h0M449 1124h0M122 1156h0M301 1321h0M460 1404h0M286 1053h0M307 1363h0M498 1225h0M54 1322h0M108 1171h0M170 1522h0M122 1452h0M446 1119h0M465 1150h0M147 1117h0M503 1337h0M268 1396h0M158 1101h0M151 1515h0M308 1316h0M424 1411h0M152 1512h0M140 1128h0M71 1198h0M34 1263h0M61 1302h0M513 1261h0M416 1277h0M368 1078h0M399 1402h0M245 1238h0M75 1193h0M147 1500h0M446 1118h0M226 1070h0M347 1187h0M143 1135h0M24 1356h0M221 1546h0M342 1354h0M108 1385h0M454 1138h0M502 1336h0M163 1528h0M168 1527h0M308 1325h0M279 1188h0M437 1120h0M277 1051h0M40 1360h0M255 1537h0M286 1497h0M515 1269h0M465 1154h0M275 1048h0M415 1269h0M296 1172h0M296 1414h0M322 1366h0M71 1361h0M281 1184h0M396 1092h0M347 1444h0M329 1462h0M200 1079h0M370 1267h0M343 1226h0M301 1191h0M404 1337h0M355 1232h0M298 1248h0M380 1314h0M338 1260h0M338 1210h0M396 1353h0M295 1230h0M315 1187h0M382 1339h0M334 1202h0M336 1298h0M406 1275h0M391 1289h0M372 1331h0M356 1360h0M398 1282h0M355 1277h0M360 1223h0M384 1292h0M312 1264h0M375 1234h0M293 1254h0M264 1252h0M279 1200h0M359 1345h0M364 1215h0M383 1307h0M323 1213h0M299 1287h0M350 1223h0M313 1250h0M278 1263h0M305 1248h0M326 1287h0M384 1300h0M331 1205h0M321 1300h0M331 1323h0M253 1281h0M353 1264h0M302 1269h0" stroke="#8a8a8a" stroke-width="10.0" stroke-linecap="round" stroke-opacity="0.4" fill="none"/>
<path d="M307 1347h0M208 1420h0M202 1379h0M224 1397h0M277 1414h0M288 1378h0M242 1348h0M349 1379h0M192 1416h0M173 1425h0M136 1371h0M346 1359h0M260 1473h0M156 1355h0M337 1395h0M178 1350h0M156 1482h0M278 1488h0M317 1439h0M240 1459h0M204 1397h0M185 1463h0M288 1457h0M129 1360h0M232 1519h0M279 1507h0M267 1347h0M236 1380h0M153 1453h0M157 1387h0M153 1441h0M331 1341h0M345 1388h0M341 1378h0M333 1401h0M150 1497h0M228 1407h0M222 1503h0M329 1388h0M261 1391h0M222 1408h0M180 1372h0M163 1512h0M275 1339h0M189 1497h0M328 1372h0M247 1466h0M184 1325h0M149 1443h0M201 1502h0M196 1446h0M248 1386h0M238 1532h0M284 1481h0M198 1497h0M240 1337h0M262 1427h0M228 1328h0M108 1338h0M315 1448h0M195 1342h0M186 1324h0M160 1389h0M121 1450h0M162 1531h0M222 1494h0M276 1531h0M241 1516h0M286 1433h0M161 1392h0M260 1433h0M264 1443h0M217 1415h0M119 1348h0M203 1525h0M183 1330h0M136 1344h0M287 1538h0M289 1320h0M286 1335h0M186 1475h0M301 1373h0M242 1325h0M305 1480h0M185 1463h0M201 1339h0M255 1357h0M274 1514h0M274 1400h0M244 1335h0M106 1353h0M298 1435h0M162 1478h0M169 1501h0M313 1378h0M234 1378h0M208 1423h0M183 1494h0M267 1457h0M344 1357h0M208 1393h0M268 1410h0M223 1401h0M159 1457h0M234 1469h0M204 1320h0M201 1356h0M215 1439h0M257 1353h0M126 1433h0M161 1419h0M216 1386h0M288 1542h0M229 1527h0M315 1391h0M286 1491h0M212 1522h0M278 1330h0M253 1520h0M225 1412h0M210 1416h0M129 1447h0M196 1465h0M194 1323h0M207 1509h0M266 1503h0M276 1387h0M276 1370h0M286 1481h0M145 1482h0M297 1400h0M175 1345h0M179 1491h0M236 1447h0M260 1429h0M260 1358h0M180 1347h0M291 1510h0M174 1328h0M230 1391h0M164 1504h0M253 1409h0M176 1363h0M185 1408h0M143 1499h0M216 1325h0M226 1324h0M204 1373h0M108 1344h0M233 1474h0M311 1348h0M223 1449h0M158 1503h0M245 1350h0M322 1460h0M318 1415h0M218 1537h0M183 1449h0M273 1331h0M314 1435h0M251 1525h0M238 1440h0M292 1450h0M254 1436h0M214 1537h0M337 1391h0M175 1381h0M185 1348h0M187 1368h0M256 1407h0" stroke="#1b6a35" stroke-width="10" stroke-linecap="round" fill="none"/>
<path d="M186 1472h0M302 1477h0M135 1467h0M229 1505h0M234 1494h0M192 1470h0M259 1463h0M209 1423h0M161 1445h0M302 1474h0M267 1491h0M307 1463h0M151 1430h0M285 1480h0M220 1506h0M222 1482h0M140 1461h0M211 1483h0M148 1439h0M160 1452h0M188 1463h0M245 1520h0M231 1478h0M239 1520h0M206 1536h0M211 1435h0M255 1455h0M256 1480h0M176 1437h0M274 1433h0M231 1468h0M193 1429h0M202 1450h0M294 1489h0M274 1517h0M249 1477h0M227 1515h0M165 1516h0M190 1507h0M201 1431h0M213 1481h0M224 1498h0M243 1439h0M230 1515h0M236 1532h0M258 1494h0M290 1478h0M174 1470h0M196 1446h0M234 1421h0M267 1460h0M146 1449h0M228 1513h0M253 1513h0M249 1486h0M209 1470h0M220 1536h0M239 1433h0M270 1436h0M233 1527h0M293 1492h0M297 1470h0M247 1488h0M236 1497h0M215 1516h0M244 1489h0M167 1427h0M268 1516h0M213 1540h0M223 1531h0M274 1517h0M215 1497h0M247 1425h0M218 1421h0M183 1517h0M261 1530h0M254 1445h0M136 1436h0M295 1460h0M243 1444h0M244 1426h0M187 1472h0M194 1515h0M160 1454h0M167 1451h0M160 1458h0M283 1472h0M279 1500h0M267 1454h0M202 1501h0M221 1450h0M257 1449h0M161 1483h0M269 1485h0M135 1491h0M274 1462h0M243 1472h0M178 1521h0M200 1417h0M128 1442h0M292 1449h0M147 1474h0M194 1516h0M270 1457h0M159 1458h0M151 1509h0M288 1504h0M142 1481h0M131 1435h0M254 1476h0M141 1480h0M251 1457h0M265 1450h0M177 1434h0M171 1523h0M286 1496h0M258 1514h0M179 1490h0M171 1512h0M152 1480h0M255 1474h0M250 1454h0M208 1540h0M189 1512h0M187 1437h0M255 1434h0M165 1509h0M155 1446h0M233 1420h0M293 1479h0M299 1470h0M262 1454h0M272 1481h0M150 1466h0M211 1447h0M245 1450h0M127 1453h0M145 1462h0M202 1431h0M275 1485h0M232 1469h0M241 1489h0M127 1467h0M271 1434h0M197 1510h0M289 1501h0M158 1492h0M278 1515h0M294 1443h0M174 1520h0" stroke="#14898a" stroke-width="10" stroke-linecap="round" fill="none"/>
<path d="M150 1294h0M101 1325h0M110 1320h0M175 1365h0M95 1297h0M60 1305h0M76 1204h0M145 1282h0M92 1318h0M87 1242h0M59 1288h0M106 1259h0M71 1206h0M80 1261h0M164 1305h0M139 1357h0M86 1318h0M103 1287h0M178 1327h0M86 1215h0M71 1311h0M85 1339h0M105 1253h0M58 1291h0M120 1287h0M100 1255h0M140 1300h0M71 1247h0M67 1251h0M120 1296h0M175 1324h0M131 1321h0M79 1233h0M114 1264h0M167 1306h0M123 1333h0M134 1286h0M87 1250h0M152 1325h0M104 1349h0M121 1291h0M185 1328h0M127 1331h0M100 1241h0M67 1208h0M80 1324h0M57 1270h0M102 1351h0M163 1352h0M104 1263h0M187 1323h0M140 1259h0M136 1351h0M44 1256h0M96 1234h0M75 1271h0M162 1312h0M132 1307h0M166 1296h0M147 1292h0M156 1354h0M141 1254h0M116 1349h0M113 1322h0M135 1361h0M60 1223h0M151 1339h0M86 1252h0M112 1261h0M100 1222h0M80 1337h0M61 1228h0M155 1322h0M91 1208h0M92 1215h0M52 1239h0M88 1221h0M85 1229h0M52 1286h0M147 1360h0M121 1323h0M135 1300h0M101 1321h0M76 1233h0M86 1322h0M100 1261h0M116 1263h0M117 1313h0M135 1360h0M80 1234h0M74 1278h0M142 1363h0M92 1310h0M112 1259h0M191 1323h0M118 1350h0M90 1251h0M67 1287h0M112 1258h0M97 1296h0M106 1210h0M112 1257h0M95 1251h0M178 1359h0M164 1316h0M122 1356h0M114 1328h0M88 1226h0M129 1337h0M67 1209h0" stroke="#dc6464" stroke-width="10" stroke-linecap="round" fill="none"/>
<path d="M280 1093h0M123 1199h0M179 1164h0M139 1160h0M172 1109h0M264 1114h0M170 1222h0M205 1126h0M195 1100h0M237 1125h0M158 1246h0M222 1179h0M194 1257h0M202 1159h0M243 1135h0M185 1269h0M213 1148h0M218 1171h0M151 1264h0M269 1135h0M155 1133h0M177 1162h0M165 1108h0M208 1246h0M179 1299h0M213 1210h0M156 1128h0M166 1165h0M214 1131h0M121 1221h0M157 1118h0M133 1242h0M121 1196h0M210 1102h0M212 1181h0M119 1230h0M242 1203h0M247 1110h0M147 1187h0M195 1234h0M169 1265h0M154 1270h0M175 1167h0M135 1143h0M260 1074h0M174 1186h0M226 1258h0M177 1180h0M150 1187h0M158 1276h0M222 1162h0M214 1255h0M253 1078h0M215 1181h0M180 1216h0M286 1065h0M151 1119h0M212 1195h0M196 1159h0M208 1185h0M175 1285h0M230 1241h0M212 1117h0M174 1260h0M268 1074h0M233 1115h0M202 1090h0M235 1103h0M185 1196h0M152 1177h0M251 1165h0M259 1083h0M136 1210h0M221 1145h0M153 1164h0M255 1148h0M148 1266h0M270 1151h0M259 1203h0M181 1250h0M148 1209h0M179 1200h0M172 1289h0M221 1125h0M145 1204h0M189 1227h0M153 1139h0M240 1146h0M122 1181h0M185 1121h0M130 1178h0M156 1282h0M268 1073h0M221 1193h0M216 1263h0M186 1240h0M132 1248h0M154 1269h0M203 1076h0M185 1154h0M271 1148h0M227 1144h0M281 1126h0M117 1183h0M262 1179h0M141 1123h0M171 1255h0M115 1205h0M186 1139h0M195 1132h0M144 1254h0M275 1089h0M274 1094h0M273 1131h0M183 1300h0M170 1215h0M236 1118h0M233 1193h0M208 1160h0M214 1160h0M188 1111h0M268 1152h0M234 1186h0M115 1209h0M254 1068h0M151 1108h0M120 1229h0M244 1224h0M252 1073h0M259 1156h0M192 1137h0M165 1265h0M178 1096h0M185 1127h0M216 1135h0M171 1114h0M140 1193h0M231 1151h0M204 1185h0M142 1133h0M255 1131h0M227 1246h0M222 1264h0M162 1138h0M143 1280h0M245 1154h0M233 1186h0M121 1193h0M164 1247h0M150 1179h0M227 1230h0M244 1107h0M185 1190h0M154 1237h0M280 1130h0M195 1127h0M157 1185h0M158 1150h0M252 1139h0M131 1164h0M195 1103h0M205 1179h0M197 1088h0M190 1100h0M149 1283h0M207 1194h0M171 1233h0M194 1255h0M145 1270h0M271 1086h0M138 1270h0M232 1124h0M125 1152h0M285 1096h0M239 1118h0M235 1213h0M184 1244h0M174 1250h0M144 1195h0M176 1172h0M232 1161h0M201 1182h0M206 1183h0M132 1199h0M264 1145h0M218 1215h0M223 1136h0M187 1116h0M165 1136h0M157 1110h0" stroke="#4a87c1" stroke-width="10" stroke-linecap="round" fill="none"/>
<path d="M291 1080h0M431 1226h0M442 1349h0M432 1251h0M440 1269h0M475 1359h0M414 1319h0M496 1278h0M461 1187h0M511 1297h0M432 1387h0M426 1317h0M421 1181h0M361 1154h0M373 1184h0M287 1058h0M377 1189h0M450 1328h0M476 1297h0M424 1145h0M420 1179h0M494 1218h0M484 1289h0M403 1246h0M363 1197h0M456 1318h0M428 1374h0M313 1166h0M482 1206h0M336 1172h0M356 1163h0M449 1327h0M446 1287h0M500 1260h0M420 1294h0M485 1351h0M382 1119h0M376 1070h0M427 1320h0M494 1254h0M358 1190h0M405 1104h0M346 1084h0M473 1197h0M439 1272h0M344 1067h0M392 1188h0M403 1378h0M450 1121h0M418 1091h0M326 1166h0M355 1065h0M394 1110h0M321 1166h0M389 1175h0M447 1288h0M467 1314h0M318 1088h0M499 1258h0M313 1141h0M340 1140h0M356 1163h0M467 1227h0M477 1141h0M494 1265h0M496 1311h0M488 1313h0M402 1397h0M439 1308h0M422 1110h0M281 1168h0M491 1319h0M422 1102h0M398 1222h0M428 1350h0M500 1203h0M331 1169h0M408 1136h0M350 1090h0M494 1222h0M443 1347h0M478 1238h0M401 1180h0M344 1067h0M375 1080h0M506 1271h0M352 1093h0M276 1082h0M351 1140h0M377 1196h0M454 1174h0M360 1087h0M460 1251h0M312 1087h0M437 1250h0M341 1104h0M451 1137h0M490 1177h0M400 1217h0M411 1344h0M408 1397h0M493 1276h0M333 1140h0M374 1107h0M499 1361h0M432 1181h0M471 1396h0M463 1211h0M357 1076h0M490 1267h0M441 1385h0M397 1358h0M315 1169h0M469 1135h0M362 1138h0M469 1200h0M356 1081h0M420 1144h0M483 1226h0M482 1218h0M319 1076h0M447 1297h0M342 1151h0M330 1164h0M454 1314h0M492 1277h0M300 1077h0M443 1126h0M479 1370h0M502 1234h0M445 1189h0M366 1155h0M321 1098h0M320 1147h0M388 1134h0M488 1331h0M455 1402h0M320 1166h0M438 1148h0M473 1153h0M334 1137h0M378 1209h0M340 1120h0M494 1344h0M286 1159h0M294 1097h0M430 1327h0M460 1374h0M362 1116h0M381 1073h0M403 1147h0M372 1165h0M477 1353h0M339 1069h0M415 1143h0M502 1267h0M509 1256h0M435 1237h0M275 1070h0M446 1339h0M278 1099h0M288 1124h0M461 1358h0M297 1074h0M465 1374h0M367 1118h0M435 1348h0M310 1067h0M289 1111h0M462 1331h0M381 1196h0M403 1175h0M493 1375h0M389 1076h0M426 1214h0M280 1152h0M429 1204h0M423 1174h0M336 1084h0M511 1291h0M467 1235h0M509 1312h0M324 1076h0M321 1147h0M377 1139h0M359 1112h0M369 1091h0M437 1125h0M495 1283h0M449 1301h0M409 1318h0M400 1126h0M428 1160h0M441 1157h0M353 1112h0M346 1081h0M307 1068h0M456 1253h0M437 1146h0M347 1159h0M341 1122h0M460 1375h0M312 1111h0M483 1210h0M436 1364h0M385 1188h0M470 1350h0M370 1197h0M435 1321h0M325 1133h0M423 1256h0M467 1180h0M502 1215h0M447 1304h0M281 1108h0M414 1138h0M279 1073h0M424 1159h0M504 1237h0M426 1291h0M488 1233h0M413 1254h0M281 1059h0M406 1089h0M425 1176h0M488 1286h0M489 1347h0M405 1100h0M427 1318h0M437 1151h0" stroke="#e2a628" stroke-width="10" stroke-linecap="round" fill="none"/>
<path d="M93 1359h0M105 1367h0M104 1340h0M76 1348h0M104 1348h0M96 1368h0M85 1343h0M100 1340h0M78 1355h0M84 1352h0M101 1347h0M90 1341h0M93 1366h0M105 1364h0M98 1354h0M86 1372h0M89 1359h0M84 1357h0M108 1356h0M87 1343h0M109 1365h0M96 1365h0" stroke="#8c1717" stroke-width="10" stroke-linecap="round" fill="none"/>
<path d="M12 1328h0M29 1353h0M64 1336h0M59 1351h0M53 1329h0M51 1335h0M50 1325h0M62 1333h0M15 1353h0M48 1329h0M52 1344h0M14 1332h0M66 1347h0M62 1338h0M42 1337h0M36 1348h0M37 1343h0M39 1329h0M40 1347h0M57 1342h0M14 1323h0M39 1316h0M30 1356h0M65 1340h0M23 1352h0M71 1339h0M42 1337h0M12 1354h0M78 1347h0M21 1320h0M43 1331h0M8 1321h0M37 1346h0M49 1336h0M32 1325h0" stroke="#7e2a8d" stroke-width="10" stroke-linecap="round" fill="none"/>
<circle cx="576.3" cy="1156.4" r="10" fill="#e2a628"/>
<text x="601.0" y="1164.9">2/3P</text>
<circle cx="576.3" cy="1194.4" r="10" fill="#4a87c1"/>
<text x="601.0" y="1202.9">4P</text>
<circle cx="576.3" cy="1236" r="10" fill="#dc6464"/>
<text x="601.0" y="1244.5">5P-IT</text>
<circle cx="576.3" cy="1272.4" r="10" fill="#7e2a8d"/>
<text x="601.0" y="1280.9">5P-ET</text>
<circle cx="576.3" cy="1312.2" r="10" fill="#8c1717"/>
<text x="601.0" y="1320.7">5P-NP</text>
<circle cx="576.3" cy="1347.2" r="10" fill="#14898a"/>
<text x="601.0" y="1355.7">6P-CT</text>
<circle cx="576.3" cy="1387" r="10" fill="#1b6a35"/>
<text x="601.0" y="1395.5">6P-IT</text>
<path d="M1255.5,463.6V886.6" stroke="#231f20" stroke-width="1.7" fill="none"/>
<path d="M1250.5,489.6H1255.5M1250.5,541.1H1255.5M1250.5,592.6H1255.5M1250.5,644.5H1255.5M1250.5,696H1255.5M1250.5,747.6H1255.5M1250.5,799.1H1255.5M1250.5,849.8H1255.5" stroke="#231f20" stroke-width="1.6"/>
<text x="1243.8" y="498.6" text-anchor="end">0</text>
<text x="1243.8" y="550.1" text-anchor="end">100</text>
<text x="1243.8" y="858.8" text-anchor="end">700</text>
<path d="M1269.7,902.1H1990.1M1269.7,902.1v6M1372.8,902.1v6M1475.4,902.1v6M1578,902.1v6M1681.4,902.1v6M1784,902.1v6M1887.5,902.1v6M1990.1,902.1v6" stroke="#231f20" stroke-width="1.7" fill="none"/>
<text x="1372.8" y="931.4" text-anchor="middle">600</text>
<text x="1475.4" y="931.4" text-anchor="middle">800</text>
<text x="1578.0" y="931.4" text-anchor="middle">1000</text>
<text x="1681.4" y="931.4" text-anchor="middle">1200</text>
<text x="1784.0" y="931.4" text-anchor="middle">1400</text>
<text x="1887.5" y="931.4" text-anchor="middle">1600</text>
<text x="1639.6" y="967.0" text-anchor="middle">Soma position x, µm</text>
<text transform="translate(1199.5,693.8) rotate(-90)" text-anchor="middle">Soma position y, µm</text>
<text transform="translate(1229,691) rotate(-90)" text-anchor="middle">(measured from pia)</text>
<defs>
<pattern id="p23" width="97" height="61" patternUnits="userSpaceOnUse"><path d="M4.7 36.6h0M28.0 49.6h0M69.9 41.2h0M2.1 5.5h0M20.0 3.4h0M4.9 47.8h0M29.3 18.3h0M64.4 6.3h0M29.9 14.7h0M56.6 48.5h0M6.7 60.7h0M84.1 56.0h0M12.9 5.4h0M17.3 40.4h0M48.1 21.5h0M83.8 29.0h0M73.6 30.0h0M94.1 23.4h0M73.7 17.5h0M37.3 38.5h0M39.6 22.1h0M69.2 20.4h0M26.3 12.4h0M82.8 58.7h0M88.6 26.3h0M73.8 25.4h0M50.1 26.4h0M16.3 37.9h0M29.0 10.5h0M27.5 5.9h0M31.7 50.0h0M44.6 50.4h0M52.8 11.4h0M21.1 44.7h0M77.6 15.4h0M70.5 21.5h0M82.4 59.4h0M25.9 45.1h0M59.6 55.3h0M63.3 14.3h0M37.5 32.1h0M39.8 11.7h0M78.6 53.6h0M58.2 2.9h0M87.1 51.0h0M47.5 43.8h0M80.3 56.3h0M83.3 50.0h0M76.5 10.8h0M86.1 35.9h0M67.8 45.5h0M44.1 59.5h0M29.7 39.3h0M79.5 19.5h0M13.5 48.2h0M38.9 1.1h0M22.4 33.7h0M57.3 37.9h0M86.0 16.8h0M31.8 23.7h0M78.0 53.5h0M77.4 60.1h0M64.6 8.5h0M23.7 57.4h0M79.5 25.3h0M45.4 30.2h0M71.7 44.0h0M44.7 34.5h0M83.8 36.1h0M68.1 30.0h0M16.3 17.0h0M17.4 20.9h0M82.4 56.8h0M35.4 38.1h0M37.0 50.8h0M4.0 22.4h0M61.5 57.1h0M78.0 33.7h0M87.0 16.8h0M18.9 42.9h0M83.2 15.3h0M17.1 34.1h0M36.2 30.8h0M37.1 3.3h0M55.4 48.2h0M49.6 13.0h0M51.3 3.3h0M50.8 17.3h0M90.4 33.6h0M23.9 32.3h0M20.2 37.9h0M79.2 8.7h0M29.5 60.2h0M65.5 39.9h0M89.6 38.4h0M6.8 7.2h0M75.8 2.2h0M3.4 60.1h0M49.4 12.1h0M42.6 15.7h0M67.0 16.9h0M75.6 15.5h0M4.6 43.2h0M7.2 44.3h0M58.7 59.5h0M69.1 5.2h0M14.6 48.1h0M59.6 26.3h0M14.6 18.8h0M44.8 56.6h0M95.1 23.8h0M81.8 9.0h0M67.1 16.0h0M44.9 55.2h0M88.9 52.5h0M71.1 39.7h0M0.2 58.0h0M65.3 15.4h0M56.1 40.2h0M46.5 57.9h0M42.3 15.0h0M35.2 9.0h0M27.6 59.4h0M74.9 59.7h0M69.4 14.2h0M15.8 26.8h0M73.8 37.2h0M76.2 42.2h0M71.6 44.1h0M22.2 28.8h0M32.0 3.9h0M26.8 60.0h0M87.1 38.6h0M89.7 51.3h0M60.0 15.6h0M13.5 31.4h0M13.3 54.5h0M35.5 6.1h0M11.2 9.9h0M49.6 14.4h0M25.2 0.7h0M10.7 5.5h0M18.2 40.7h0M31.4 59.4h0M64.6 44.3h0M30.3 52.0h0M50.8 0.7h0M32.4 46.3h0M8.6 47.6h0M8.6 6.4h0M24.5 26.1h0M21.2 18.7h0M6.1 45.3h0M75.4 9.2h0M48.1 16.4h0M26.6 31.1h0M78.6 60.1h0M32.8 23.9h0M19.0 11.9h0M33.2 50.0h0M65.3 19.3h0M27.5 32.5h0M25.8 33.2h0M85.5 35.3h0M52.3 35.7h0M72.1 13.7h0M87.1 7.0h0M26.6 20.5h0M51.7 59.4h0M12.9 42.5h0M93.3 18.9h0M78.8 12.3h0M63.2 0.8h0M19.6 7.3h0M94.2 40.2h0M3.4 33.5h0M41.1 58.1h0M91.6 27.9h0M31.0 53.4h0M75.4 36.2h0M94.6 2.5h0M68.1 4.2h0M29.3 13.1h0M94.0 54.6h0M38.4 30.7h0M92.3 5.6h0M12.6 15.1h0M90.9 9.1h0M73.4 34.6h0M4.5 52.2h0M64.3 18.3h0M22.0 45.4h0M50.4 18.9h0M49.5 43.4h0M10.4 60.9h0M79.1 20.8h0M93.4 4.3h0M57.1 10.1h0M39.2 5.0h0M63.6 37.7h0M38.4 57.7h0M57.7 13.4h0M42.0 2.2h0M14.8 21.6h0M82.9 23.6h0M34.9 7.2h0M9.9 36.1h0M3.6 1.2h0M44.2 58.5h0M12.4 54.6h0M68.3 18.0h0M6.1 4.6h0M0.3 20.2h0M8.6 32.7h0M78.2 8.4h0M68.0 1.1h0M83.4 11.9h0M77.8 28.1h0M22.2 36.5h0M49.3 25.9h0M52.4 13.8h0M28.5 59.9h0M35.8 41.4h0M26.2 56.6h0M9.1 60.6h0M73.1 25.6h0M70.9 50.8h0M0.4 14.7h0M23.2 4.6h0M26.2 6.5h0M76.8 34.6h0M49.2 29.9h0M45.2 10.0h0M25.5 26.2h0M58.5 35.3h0M85.0 9.3h0M96.3 10.1h0M2.6 38.7h0M50.9 2.8h0M4.2 48.3h0M81.8 15.7h0M61.9 12.6h0M38.4 0.7h0M29.8 14.2h0M6.0 0.2h0M87.0 16.9h0M88.3 22.8h0M92.2 56.7h0M89.2 21.5h0M3.1 2.2h0M85.0 60.7h0M4.1 30.2h0M95.1 34.4h0M73.6 24.8h0M86.8 36.7h0M72.9 42.9h0M87.9 38.4h0M71.9 55.0h0M87.8 29.1h0M2.7 6.1h0M66.0 16.2h0M82.1 56.6h0M86.1 24.9h0M4.1 7.8h0M46.4 54.7h0M56.5 35.4h0M21.6 24.3h0M41.9 4.2h0M81.2 20.8h0M94.9 34.9h0M64.9 51.2h0M89.1 55.2h0M14.1 52.1h0M43.8 28.9h0M8.5 34.3h0M17.7 3.7h0M52.2 19.8h0M65.8 22.7h0M26.3 45.1h0M62.1 27.2h0M85.3 28.6h0M73.1 30.6h0M55.3 13.8h0M68.5 45.3h0M32.1 20.1h0M59.8 57.0h0M67.2 13.0h0M4.4 28.7h0M3.6 14.6h0M33.4 27.6h0M78.6 13.7h0M41.3 17.2h0M83.6 11.5h0M28.4 33.9h0M29.5 21.8h0M85.6 2.8h0M36.8 60.8h0M49.2 16.3h0M77.2 12.1h0M32.6 14.2h0M0.5 12.9h0M56.8 42.2h0M33.9 44.3h0M44.0 9.3h0M28.4 31.4h0M63.6 2.7h0M47.7 30.5h0M79.2 28.7h0M35.3 25.2h0M23.6 56.9h0M51.6 7.2h0M74.5 5.7h0M90.7 30.0h0M25.5 50.6h0M6.6 16.7h0M37.2 22.4h0M72.2 34.0h0M58.5 16.7h0M74.3 59.2h0M49.9 29.1h0M32.3 60.6h0M60.3 5.3h0M72.8 39.5h0M61.2 54.0h0M2.1 53.8h0M31.9 22.3h0M44.1 30.8h0M33.0 49.9h0M14.9 12.7h0M65.5 23.6h0M1.5 16.1h0M46.8 30.9h0M3.0 5.8h0M29.7 18.4h0M93.3 48.8h0M90.6 26.2h0M40.8 41.3h0M11.8 43.3h0M92.1 53.3h0M91.8 21.4h0M35.7 19.4h0M5.2 10.3h0M12.0 28.7h0M87.0 26.4h0M8.0 16.0h0M41.2 27.8h0M27.1 16.3h0M21.9 42.9h0M8.8 7.1h0M0.1 58.6h0M16.3 15.2h0M58.7 21.4h0M31.9 34.6h0M68.2 49.2h0M44.1 12.4h0M69.6 30.1h0M18.6 37.3h0M22.0 4.5h0M91.6 31.1h0M88.4 28.5h0M55.5 38.4h0M95.0 54.1h0M84.0 42.2h0M85.0 59.5h0M51.1 47.1h0M11.3 23.9h0M60.9 24.3h0M93.5 28.0h0M42.7 13.6h0M51.2 11.2h0M10.0 40.9h0M32.1 24.4h0M13.8 41.2h0M87.8 1.9h0M96.5 35.4h0M86.7 22.8h0M67.6 14.6h0M52.5 16.2h0M36.1 27.3h0M28.4 11.7h0M73.2 25.1h0M3.4 55.7h0M85.4 0.9h0M36.8 6.7h0M29.1 53.5h0M74.7 15.7h0M44.8 37.9h0M89.1 60.3h0M51.3 55.1h0M85.9 22.3h0M50.2 20.9h0M93.4 53.4h0M25.0 32.8h0M26.4 34.7h0M96.3 14.1h0M81.6 10.1h0M15.5 46.7h0M71.5 47.6h0M40.6 53.0h0M11.8 23.8h0M71.5 28.3h0M96.2 57.9h0M81.9 11.3h0M72.7 10.9h0M39.4 6.3h0M6.7 3.8h0M18.2 24.8h0M75.2 59.1h0M54.8 22.4h0M86.0 26.9h0M94.3 42.4h0M89.1 32.2h0M67.0 56.3h0M19.7 13.9h0M73.5 20.2h0M44.0 26.6h0M75.2 27.7h0M45.9 54.2h0M51.5 47.2h0M60.0 42.9h0M25.6 12.4h0M85.8 1.1h0M88.2 24.1h0M55.7 17.6h0M54.5 15.8h0M58.2 0.7h0M71.9 9.3h0M34.9 43.8h0M13.7 54.4h0M10.2 53.6h0M65.7 19.5h0M42.4 20.3h0M60.7 60.2h0M76.4 54.6h0M63.6 10.4h0M21.9 13.2h0M84.2 34.6h0M87.5 0.2h0M19.7 20.6h0M22.9 27.8h0M23.0 49.8h0M47.0 0.9h0M93.9 48.3h0M59.2 26.6h0M28.2 39.3h0M78.7 32.7h0M75.8 22.4h0M38.7 0.4h0M35.5 39.4h0" stroke="#35336f" stroke-width="2.5" stroke-linecap="round" fill="none"/></pattern>
<pattern id="q23" width="71" height="43" patternUnits="userSpaceOnUse"><path d="M65.4 28.8h0M65.5 42.4h0M32.8 18.5h0M51.8 30.9h0M46.7 36.8h0M36.4 37.9h0M5.0 33.1h0M64.1 17.5h0M49.8 26.5h0M54.7 21.4h0M11.5 10.1h0M17.8 39.7h0M24.5 22.9h0M22.1 1.1h0M0.3 35.3h0M42.7 38.3h0M58.2 20.7h0M6.6 36.6h0M67.9 1.5h0M28.1 19.3h0M40.5 14.9h0M41.6 8.5h0M56.2 36.1h0M62.9 10.3h0M5.1 36.3h0M58.9 36.0h0M28.6 11.6h0M68.3 14.9h0M29.2 39.3h0M51.3 17.6h0M14.9 33.5h0M31.4 6.8h0M42.1 5.5h0M15.3 17.3h0M50.3 22.0h0M51.9 31.9h0M19.8 27.0h0M51.6 29.2h0M39.4 0.4h0M48.6 7.4h0M38.7 31.6h0M1.1 8.7h0M63.4 39.9h0M59.3 24.4h0M18.4 38.3h0M15.6 10.6h0M8.8 12.0h0M56.0 6.1h0M60.8 29.1h0M59.3 33.2h0M43.4 13.0h0M26.0 33.1h0M69.6 29.1h0M48.2 33.5h0M32.2 6.6h0M45.8 20.5h0M58.7 29.3h0M46.8 34.7h0M61.1 10.1h0M10.0 10.0h0M17.0 26.5h0M0.4 17.8h0M69.8 43.0h0M42.3 0.4h0M18.3 7.1h0M10.4 36.1h0M57.3 29.8h0M40.7 16.4h0M0.3 17.6h0M10.6 23.4h0M61.9 2.5h0M40.3 41.4h0M27.8 23.3h0M69.0 29.2h0M50.2 16.3h0M58.2 0.2h0M46.0 7.8h0M43.7 23.8h0M0.4 30.2h0M52.3 36.1h0M57.2 0.6h0M56.9 12.2h0M27.1 42.4h0M59.7 6.6h0M63.1 8.9h0M30.7 27.8h0M24.0 41.3h0M27.8 3.0h0M51.8 26.7h0M14.6 3.5h0M30.6 38.6h0M69.8 1.9h0M7.2 21.8h0M35.9 32.1h0M3.2 41.1h0M36.0 42.4h0M4.5 40.0h0M3.0 12.8h0M35.9 13.3h0M63.6 26.5h0M52.6 12.0h0M59.5 18.5h0M2.1 9.7h0M28.5 41.6h0M57.6 24.2h0M15.5 37.0h0M14.4 12.4h0M50.5 8.0h0M58.7 6.8h0M10.9 9.1h0M63.4 14.9h0M37.8 13.7h0M57.6 3.7h0M38.6 32.6h0M55.1 21.8h0M13.1 18.2h0M11.1 12.3h0M63.5 7.5h0M8.0 4.7h0M27.1 30.1h0M35.1 8.3h0M31.3 13.8h0M69.5 36.9h0M37.7 32.4h0M66.5 10.7h0M12.4 11.2h0M42.3 21.5h0M59.7 9.5h0M9.0 42.4h0M26.8 3.7h0M51.5 38.1h0M7.0 22.9h0M28.5 2.8h0M26.5 24.7h0M57.6 20.3h0M33.5 17.7h0M66.3 5.4h0M38.8 38.8h0M11.4 34.1h0M29.1 2.1h0M55.3 6.6h0M12.1 14.0h0M33.3 8.0h0M2.9 39.8h0M65.0 28.5h0M3.3 22.0h0M49.6 41.2h0M36.9 27.4h0M61.5 1.4h0M10.2 9.2h0M27.7 17.7h0M41.2 27.5h0M45.0 8.3h0M17.2 10.8h0M68.1 5.7h0M26.8 11.1h0M56.4 2.7h0M47.5 11.0h0M32.3 36.7h0M28.8 42.9h0M38.5 29.3h0M30.5 34.1h0M1.9 14.4h0M36.4 9.2h0M66.3 39.3h0M34.1 12.1h0M7.4 18.1h0M13.5 37.8h0M16.5 3.9h0M37.1 22.6h0M60.3 2.3h0M8.2 22.2h0M58.3 33.3h0M45.1 10.1h0M49.0 28.0h0M5.0 14.9h0M47.5 23.9h0M27.7 30.2h0M47.1 34.7h0M1.5 22.1h0M26.4 28.2h0M13.7 15.0h0M55.1 39.7h0M68.7 33.4h0M69.7 41.6h0M44.4 25.8h0M13.8 3.4h0M42.2 37.3h0M9.3 1.5h0M50.2 3.1h0M68.4 6.2h0M24.3 12.9h0M31.7 28.6h0M34.4 31.0h0M31.7 24.6h0M57.1 16.8h0M51.4 17.9h0M25.2 5.9h0M37.5 38.3h0M58.1 16.5h0M40.5 18.8h0M54.8 16.3h0M13.8 37.3h0M12.4 14.9h0M34.2 17.9h0M63.5 11.3h0M41.7 35.7h0M6.9 42.7h0M23.5 19.5h0M69.2 18.3h0M18.8 30.6h0M63.8 29.2h0M51.4 29.1h0M0.7 32.6h0M5.2 23.2h0M55.8 25.3h0M57.1 7.2h0M41.9 26.7h0M60.0 25.9h0M36.0 0.9h0M65.4 0.2h0M41.3 30.9h0M28.7 30.0h0M0.7 22.8h0M39.5 11.0h0M13.5 4.9h0M35.3 33.3h0M34.8 16.5h0M17.5 8.9h0M17.5 20.1h0M21.4 31.6h0" stroke="#35336f" stroke-width="2.5" stroke-linecap="round" fill="none"/></pattern>
<pattern id="p4" width="97" height="61" patternUnits="userSpaceOnUse"><path d="M65.7 3.1h0M43.2 51.9h0M49.3 22.0h0M87.4 45.4h0M26.4 37.3h0M58.3 10.1h0M71.0 45.5h0M37.3 13.1h0M42.3 4.4h0M8.5 5.6h0M59.3 57.6h0M71.0 61.0h0M14.2 21.4h0M25.9 38.1h0M85.8 60.0h0M33.2 48.0h0M58.5 22.9h0M14.1 23.9h0M2.6 5.3h0M22.6 21.1h0M69.5 29.9h0M81.3 44.1h0M23.1 30.5h0M49.8 21.6h0M71.8 54.9h0M59.9 26.3h0M47.3 14.9h0M85.4 26.6h0M19.7 45.6h0M23.4 16.0h0M13.7 22.8h0M38.7 2.5h0M43.2 21.3h0M44.2 24.2h0M48.6 53.9h0M9.7 15.3h0M62.9 47.8h0M54.9 36.1h0M10.6 35.9h0M9.6 28.5h0M75.3 3.8h0M77.4 1.1h0M45.3 16.3h0M64.3 35.0h0M57.2 46.9h0M60.2 35.4h0M19.6 53.6h0M5.6 31.5h0M92.9 7.2h0M40.2 35.2h0M41.9 32.9h0M96.1 35.1h0M71.5 45.7h0M2.7 45.3h0M55.7 45.4h0M86.9 36.3h0M65.9 47.2h0M88.2 30.9h0M8.0 44.5h0M48.4 49.2h0M62.6 47.1h0M77.0 50.1h0M20.7 8.1h0M69.9 53.7h0M71.3 41.7h0M73.7 47.3h0M51.1 7.2h0M62.8 7.4h0M66.5 21.5h0M21.9 26.3h0M59.0 42.3h0M23.8 41.3h0M53.2 0.6h0M68.7 19.9h0M64.6 50.6h0M20.6 3.6h0M26.5 30.2h0M15.4 9.3h0M27.9 5.4h0M1.7 17.1h0M44.3 9.0h0M21.9 14.6h0M84.7 32.9h0M58.5 11.7h0M83.1 51.1h0M91.9 20.7h0M50.7 21.3h0M89.9 32.5h0M78.3 6.7h0M64.9 14.6h0M2.0 53.7h0M42.3 60.0h0M13.3 53.8h0M46.4 59.4h0M65.0 44.0h0M54.4 51.0h0M66.3 6.9h0M10.3 22.6h0M18.0 15.2h0M52.3 18.3h0M1.8 48.2h0M8.3 16.1h0M43.6 17.9h0M84.2 32.3h0M26.3 39.5h0M87.1 46.9h0M7.7 14.1h0M28.4 33.2h0M96.4 12.4h0M63.8 26.9h0M50.6 29.2h0M76.6 19.1h0M65.2 29.5h0M7.2 35.9h0M85.9 50.0h0M71.2 3.8h0M9.9 28.0h0M19.6 13.9h0M94.8 6.4h0M19.9 57.0h0M35.7 26.6h0M27.3 2.9h0M3.1 17.3h0M82.2 15.3h0M4.7 59.7h0M82.2 31.0h0M47.8 58.1h0M25.2 18.9h0M69.3 24.4h0M57.8 36.8h0M33.7 25.0h0M19.8 52.4h0M42.8 39.6h0M73.8 30.0h0M63.2 5.8h0M93.4 59.5h0M39.9 31.8h0M17.4 30.7h0M58.2 7.6h0M70.0 27.7h0M95.2 19.5h0M89.3 13.7h0M52.1 52.4h0M69.2 4.7h0M70.0 19.1h0M94.3 10.5h0M8.5 54.4h0M9.4 6.5h0M90.5 9.7h0M3.4 35.6h0M65.1 52.0h0M13.6 50.8h0M80.0 6.8h0M13.2 31.3h0M56.6 8.2h0M52.8 36.8h0M25.6 53.4h0M1.4 8.7h0M10.1 22.0h0M70.8 11.7h0M68.4 52.9h0M87.7 7.1h0M92.6 47.3h0M0.6 11.9h0M87.0 20.0h0M90.7 40.5h0M3.4 30.6h0M39.4 3.0h0M96.3 28.3h0M71.7 50.8h0M16.3 40.5h0M16.9 59.0h0M4.7 43.3h0M85.9 46.0h0M62.7 24.9h0M21.7 26.6h0M65.0 43.8h0M92.2 28.8h0M46.5 49.0h0M33.3 47.5h0M62.6 21.9h0M78.1 58.7h0M37.2 16.6h0M10.9 32.8h0M6.7 38.6h0M9.4 2.2h0M25.3 43.8h0M84.5 45.8h0M25.9 19.5h0M57.1 3.9h0M90.1 58.4h0M58.3 54.5h0M55.1 45.3h0M29.5 57.4h0M24.9 50.6h0M18.4 17.9h0M32.2 35.2h0M8.3 13.6h0M1.9 55.2h0M75.3 22.0h0M17.8 23.3h0M79.5 0.2h0M51.7 15.7h0M7.9 27.8h0M58.8 25.4h0M95.9 17.7h0M51.4 11.9h0M40.3 18.1h0M93.2 45.2h0M13.9 5.6h0M17.4 31.9h0M79.7 11.8h0M71.8 17.3h0M50.8 51.6h0M38.1 40.2h0M7.8 45.8h0M20.8 1.2h0M74.4 51.9h0M19.2 40.2h0M63.6 44.6h0M14.9 10.9h0M61.4 17.5h0M42.5 33.9h0M33.2 51.3h0M20.6 29.9h0M32.8 28.7h0M4.1 41.2h0M9.4 37.8h0M96.2 16.9h0M73.4 60.7h0M5.8 32.3h0M60.2 46.8h0M79.7 26.4h0M93.7 13.2h0M41.9 58.6h0M72.5 44.8h0M84.2 32.1h0M79.4 21.1h0M65.8 14.3h0M19.8 11.8h0M49.7 5.8h0M86.8 46.5h0M0.6 52.9h0M80.6 4.7h0M63.0 25.1h0M85.9 35.3h0M56.5 44.0h0M29.8 49.1h0M48.5 60.7h0M41.6 18.9h0M10.3 53.0h0M3.1 19.9h0M36.7 25.7h0M41.3 55.1h0M27.4 5.4h0M36.5 28.0h0M8.9 58.2h0M72.6 55.9h0M40.4 9.5h0M40.7 52.9h0M90.9 35.1h0M22.6 1.1h0M68.7 60.1h0M34.5 7.8h0M85.6 2.4h0M29.0 53.2h0M55.6 0.1h0M84.0 12.6h0M86.4 6.8h0M24.6 54.2h0M70.5 49.8h0M72.3 2.6h0M7.6 7.8h0M21.1 53.8h0M37.3 29.7h0M29.2 22.4h0M13.6 9.3h0M9.2 52.1h0M72.5 28.7h0M40.3 29.3h0M17.5 21.3h0M64.5 59.2h0M91.0 14.6h0M54.0 46.2h0M85.8 6.1h0M71.5 45.0h0M87.5 9.3h0M73.7 9.1h0M29.4 21.2h0M96.3 50.3h0M66.4 42.1h0M24.4 3.6h0M89.4 44.7h0M67.8 20.6h0M10.1 18.0h0M14.2 7.9h0M78.7 7.2h0M68.9 58.8h0M41.1 5.6h0M51.9 49.7h0M44.0 60.8h0M52.6 18.7h0M68.4 59.1h0M35.2 15.4h0M90.6 24.9h0M14.2 59.8h0M79.9 10.3h0M62.3 60.0h0M39.8 2.8h0M75.7 8.8h0M6.9 25.1h0M0.1 55.0h0M42.3 54.9h0M73.1 10.1h0M27.1 21.1h0M9.9 49.5h0M28.8 50.0h0M17.6 9.0h0M40.8 47.1h0M13.9 26.7h0M27.0 59.7h0M29.5 48.8h0M58.8 17.7h0M88.9 13.7h0M56.7 1.1h0M44.6 42.1h0M77.3 57.1h0M15.3 6.7h0M40.4 22.1h0M72.6 22.9h0M51.5 7.5h0M43.2 55.2h0M50.0 25.1h0M53.6 53.7h0M60.4 29.5h0M33.1 48.0h0M91.3 52.2h0M62.9 19.7h0M28.2 10.0h0M38.5 16.2h0M27.2 60.7h0M15.2 24.7h0M87.9 9.8h0M84.9 39.5h0M23.5 23.7h0M53.0 54.1h0M44.2 35.1h0M21.0 17.3h0M7.7 39.2h0M8.6 16.2h0M76.2 61.0h0M82.5 37.9h0M42.7 48.8h0M5.5 26.2h0M13.1 49.1h0M78.7 0.7h0M49.3 22.9h0M29.6 46.7h0M1.3 39.5h0M57.6 9.8h0M19.0 17.0h0M9.9 28.2h0M72.9 42.3h0M88.1 29.3h0M80.7 35.1h0M50.0 38.6h0M61.4 13.4h0M10.8 3.7h0M21.4 28.9h0M33.6 18.9h0M58.0 32.9h0M83.5 25.1h0M94.3 43.4h0M24.7 59.5h0M80.5 19.7h0M62.0 24.3h0M6.5 25.6h0M75.7 47.1h0M32.1 29.2h0M77.3 34.2h0M47.9 2.4h0M35.6 6.5h0M24.1 11.4h0M20.1 5.7h0M42.9 50.5h0M70.5 19.7h0M84.9 46.9h0M30.0 16.7h0M7.1 39.1h0M45.6 11.2h0M42.0 15.3h0M59.9 34.1h0M74.7 27.6h0M83.6 21.0h0M36.0 60.3h0M66.7 17.2h0M81.9 4.7h0M84.8 34.3h0M4.6 2.8h0M66.5 47.1h0M2.5 45.7h0M28.2 49.7h0M3.5 56.8h0M88.2 58.0h0M46.4 13.8h0M20.6 46.9h0M79.0 51.4h0M14.3 20.5h0M14.1 37.1h0M94.5 2.3h0M21.9 9.1h0M11.9 58.0h0M59.6 26.3h0M55.7 22.1h0M65.4 17.5h0M83.0 31.5h0M35.3 26.4h0M24.8 18.9h0M70.9 7.7h0M74.3 13.5h0M96.5 36.1h0M39.1 25.6h0M84.3 59.9h0M46.7 55.6h0M27.2 30.1h0M29.1 58.8h0M62.8 6.9h0M20.4 45.9h0M65.3 29.7h0M3.3 54.3h0M78.7 40.8h0M77.3 23.7h0M50.7 31.7h0M24.5 28.5h0M52.6 38.3h0M82.0 19.0h0M61.1 6.2h0M49.1 50.6h0M45.0 30.1h0M8.5 52.1h0M0.2 23.4h0M88.8 30.6h0M79.3 18.3h0M14.8 46.6h0M3.8 32.7h0M87.9 30.3h0M1.7 35.0h0M95.4 39.5h0M46.1 15.3h0" stroke="#235c6c" stroke-width="2.5" stroke-linecap="round" fill="none"/></pattern>
<pattern id="q4" width="71" height="43" patternUnits="userSpaceOnUse"><path d="M14.9 4.0h0M29.4 40.9h0M1.8 3.4h0M21.6 2.7h0M27.4 8.5h0M24.6 31.2h0M67.6 30.1h0M45.9 12.6h0M45.4 20.0h0M67.4 6.7h0M16.7 10.3h0M68.9 2.2h0M4.7 37.6h0M44.3 24.6h0M39.2 33.4h0M45.3 36.1h0M49.9 2.0h0M42.6 18.0h0M8.9 37.6h0M44.9 23.3h0M64.4 38.1h0M55.7 39.8h0M8.8 15.6h0M34.1 32.7h0M58.0 14.3h0M66.3 24.7h0M34.4 5.6h0M27.9 19.2h0M9.7 9.8h0M27.8 2.6h0M19.3 7.6h0M40.6 6.1h0M52.2 16.6h0M30.4 5.0h0M16.0 7.6h0M39.4 20.8h0M55.2 25.6h0M6.1 13.3h0M12.4 27.2h0M20.4 0.3h0M29.7 33.6h0M58.6 5.1h0M38.0 25.9h0M51.2 30.6h0M10.3 31.8h0M62.4 34.8h0M21.7 30.0h0M23.6 24.3h0M24.1 6.9h0M16.4 37.0h0M56.5 34.9h0M28.9 39.0h0M49.7 37.6h0M70.2 23.8h0M46.7 22.4h0M17.3 35.2h0M27.9 9.6h0M20.0 32.4h0M30.9 36.9h0M54.0 29.5h0M3.8 11.5h0M64.6 25.1h0M9.9 36.4h0M37.3 31.1h0M39.7 1.8h0M59.7 5.3h0M0.0 38.5h0M9.9 22.9h0M62.3 39.9h0M63.1 0.3h0M46.7 16.6h0M33.6 8.3h0M67.1 26.0h0M31.0 35.7h0M49.5 19.2h0M30.8 2.0h0M24.7 29.0h0M21.2 25.8h0M7.4 30.0h0M62.4 10.5h0M56.7 9.1h0M45.8 8.5h0M59.5 40.4h0M56.0 16.3h0M61.3 41.1h0M16.7 0.2h0M16.9 14.8h0M23.5 40.1h0M47.6 34.9h0M17.2 35.9h0M32.7 21.4h0M55.6 41.1h0M11.0 1.9h0M8.8 30.0h0M16.9 14.5h0M1.7 5.4h0M34.4 14.0h0M28.2 11.9h0M10.6 36.3h0M4.7 24.9h0M39.6 18.7h0M43.4 14.2h0M51.6 41.0h0M70.8 32.2h0M37.5 23.3h0M1.2 12.0h0M62.1 32.3h0M31.5 23.6h0M43.2 17.8h0M35.8 17.1h0M6.0 22.0h0M25.1 22.7h0M50.0 10.4h0M63.2 42.4h0M63.3 29.9h0M48.0 29.3h0M6.2 5.2h0M43.2 35.9h0M25.6 38.8h0M28.3 35.7h0M15.4 8.3h0M11.6 36.4h0M16.9 37.0h0M14.1 30.9h0M53.5 21.1h0M40.5 8.1h0M64.0 26.1h0M28.5 20.2h0M66.8 37.9h0M60.4 11.8h0M43.9 9.8h0M63.7 27.0h0M36.0 31.7h0M17.3 37.7h0M23.7 12.4h0M26.5 10.2h0M18.1 15.8h0M68.7 33.1h0M62.0 34.6h0M8.8 16.5h0M2.8 15.8h0M29.0 37.4h0M14.4 39.0h0M28.5 38.0h0M33.7 0.5h0M2.1 33.6h0M36.6 21.4h0M66.9 20.8h0M20.4 2.4h0M20.8 28.3h0M63.3 15.9h0M5.5 34.8h0M37.1 6.9h0M49.7 41.8h0M3.8 22.8h0M9.9 38.4h0M52.2 4.4h0M20.8 11.4h0M1.4 28.7h0M30.4 25.7h0M31.9 13.5h0M34.5 28.2h0M9.3 14.1h0M26.8 15.0h0M54.8 25.9h0M16.6 23.5h0M7.4 24.8h0M48.9 33.5h0M17.3 10.3h0M21.7 11.3h0M48.7 29.8h0M39.8 30.7h0M34.4 32.4h0M13.3 1.8h0M60.3 21.3h0M63.3 17.4h0M22.8 6.4h0M42.5 25.1h0M60.5 34.9h0M26.7 41.7h0M61.4 34.8h0M2.0 7.3h0M43.3 22.3h0M51.1 25.4h0M66.0 4.2h0M29.8 19.8h0M64.6 12.5h0M43.4 17.2h0M25.0 39.0h0M25.6 25.7h0M38.3 12.7h0M53.1 13.7h0M33.0 26.2h0M52.6 15.5h0M51.7 4.6h0M55.8 23.8h0M48.9 30.9h0M31.0 1.3h0M9.7 17.2h0M3.8 1.6h0M18.6 13.2h0M8.6 25.6h0M39.0 19.6h0M38.4 41.9h0M26.3 2.7h0M6.4 6.3h0M32.6 6.8h0M30.5 37.5h0M0.1 2.5h0M15.7 28.0h0M14.8 29.1h0M4.6 40.4h0M45.1 25.4h0M55.3 33.3h0M44.2 15.7h0M4.7 42.5h0M3.9 42.2h0M40.5 1.1h0M37.9 20.5h0M54.9 21.7h0M48.9 31.9h0M19.9 9.8h0M8.8 25.4h0M45.1 26.7h0M13.8 31.0h0M66.2 11.8h0M25.4 20.1h0M11.0 9.5h0M5.1 0.2h0M47.1 35.6h0M62.1 19.2h0" stroke="#235c6c" stroke-width="2.5" stroke-linecap="round" fill="none"/></pattern>
<pattern id="p5" width="97" height="61" patternUnits="userSpaceOnUse"><path d="M65.8 54.5h0M83.4 23.9h0M51.5 54.1h0M62.3 9.3h0M60.3 13.6h0M77.3 23.5h0M28.3 6.5h0M3.2 34.0h0M12.4 9.0h0M95.2 29.9h0M59.1 37.4h0M91.2 45.4h0M10.4 43.6h0M23.8 54.1h0M67.0 50.7h0M71.7 7.0h0M90.2 5.8h0M54.5 29.4h0M44.6 52.2h0M37.5 41.8h0M45.8 27.2h0M0.8 43.4h0M79.3 27.0h0M46.6 35.7h0M20.2 43.4h0M37.1 19.1h0M41.5 60.0h0M80.5 57.2h0M47.5 50.8h0M26.8 10.7h0M50.6 52.2h0M61.9 55.7h0M96.4 0.2h0M0.4 0.1h0M53.7 25.7h0M74.6 5.4h0M9.0 34.3h0M61.0 60.4h0M58.4 59.0h0M69.1 15.4h0M88.6 41.8h0M32.8 14.5h0M52.1 7.1h0M66.6 13.9h0M79.3 30.3h0M0.5 59.6h0M87.4 23.1h0M14.0 9.8h0M4.2 17.6h0M58.5 7.7h0M21.2 59.1h0M22.8 36.7h0M45.7 1.1h0M37.5 8.9h0M19.8 4.9h0M52.9 51.5h0M81.3 45.2h0M29.1 53.8h0M17.6 8.4h0M48.9 41.4h0M51.1 14.6h0M62.3 46.4h0M39.0 33.0h0M76.7 56.8h0M91.5 8.1h0M62.4 59.9h0M45.5 37.9h0M93.8 20.9h0M89.3 9.0h0M88.3 28.8h0M15.1 6.5h0M54.3 50.3h0M69.3 7.7h0M38.6 27.1h0M2.8 35.9h0M68.0 44.0h0M62.9 54.9h0M11.2 6.6h0M41.3 3.9h0M35.5 41.6h0M19.3 52.2h0M68.3 46.0h0M9.0 9.1h0M69.7 22.0h0M17.5 22.4h0M35.4 60.8h0M19.4 16.9h0M45.9 31.6h0M91.3 9.5h0M61.3 60.5h0M48.3 26.6h0M49.1 13.3h0M45.8 46.2h0M60.5 33.4h0M45.5 28.4h0M89.1 23.9h0M87.3 38.3h0M51.1 16.6h0M85.3 34.7h0M11.6 3.3h0M90.8 10.0h0M2.7 41.2h0M48.3 40.1h0M42.9 36.8h0M92.3 54.3h0M26.0 28.7h0M95.3 42.6h0M94.4 47.1h0M56.3 56.7h0M18.5 24.4h0M73.7 10.2h0M57.1 48.5h0M84.8 24.7h0M72.6 49.7h0M71.9 30.7h0M24.6 35.1h0M8.4 27.7h0M40.6 21.6h0M95.6 50.1h0M10.4 44.1h0M43.6 55.8h0M5.9 3.6h0M86.3 31.1h0M69.8 50.4h0M78.8 50.3h0M64.4 6.9h0M11.4 3.2h0M14.5 1.4h0M9.5 13.3h0M59.5 6.6h0M86.4 43.0h0M65.7 29.5h0M47.8 30.1h0M65.3 45.6h0M37.1 10.7h0M93.7 55.3h0M8.6 26.7h0M44.7 53.8h0M79.2 44.0h0M33.0 33.0h0M20.6 27.4h0M44.0 42.7h0M8.3 44.6h0M10.1 6.1h0M64.2 52.0h0M83.7 48.3h0M6.0 19.2h0M38.1 15.1h0M51.1 9.4h0M87.5 24.5h0M60.6 21.3h0M61.1 35.7h0M41.8 10.1h0M71.7 34.9h0M31.4 35.7h0M80.8 1.1h0M66.4 17.3h0M66.7 13.1h0M56.0 31.1h0M73.0 44.3h0M7.2 52.0h0M84.1 38.4h0M89.3 7.7h0M38.7 9.0h0M3.4 52.3h0M27.5 15.0h0M4.1 49.9h0M29.1 37.2h0M15.8 36.1h0M45.6 54.1h0M27.9 58.1h0M56.4 28.4h0M45.7 49.0h0M76.5 50.4h0M48.7 2.3h0M5.3 29.3h0M66.4 35.0h0M82.7 42.4h0M44.6 38.6h0M40.6 30.3h0M58.7 47.1h0M13.6 27.3h0M59.4 25.8h0M94.8 33.8h0M50.4 18.2h0M63.6 34.2h0M28.0 2.6h0M83.3 12.3h0M53.2 30.0h0M82.8 34.3h0M29.6 23.2h0M72.8 55.0h0M69.6 33.6h0M8.7 42.2h0M21.0 30.2h0M29.9 42.2h0M53.5 44.3h0M62.9 26.1h0M95.5 5.5h0M9.8 31.9h0M29.4 48.9h0M20.1 39.0h0M19.5 11.5h0M82.8 54.0h0M80.4 23.6h0M70.2 59.0h0M8.5 49.6h0M19.6 53.2h0M84.3 58.6h0M0.1 37.1h0M40.3 53.2h0M41.3 47.2h0M67.4 5.8h0M92.4 58.8h0M96.1 2.9h0M66.8 9.1h0M90.9 5.2h0M14.0 47.2h0M81.0 37.8h0M9.1 44.0h0M18.3 10.8h0M24.5 58.7h0M81.7 15.6h0M10.8 57.1h0M28.7 32.8h0M45.3 40.8h0M56.7 43.4h0M79.2 7.5h0M14.5 21.0h0M69.3 37.9h0M55.7 41.4h0M0.1 44.7h0M39.2 39.6h0M76.0 60.6h0M14.4 31.1h0M77.2 0.6h0M61.0 51.6h0M53.2 60.2h0M37.8 14.0h0M17.7 33.3h0M50.2 54.3h0M41.8 33.6h0M22.1 10.8h0M53.3 53.4h0M47.8 4.0h0M2.1 38.3h0M40.0 43.4h0M86.7 17.5h0M37.8 44.6h0M24.7 36.1h0M83.1 10.1h0M77.9 26.5h0M46.3 14.2h0M26.5 16.2h0M30.6 34.6h0M55.0 37.8h0M36.6 34.3h0M91.5 13.3h0M74.6 5.6h0M23.1 31.9h0M51.7 54.6h0M95.0 14.8h0M7.7 51.2h0M53.3 59.7h0M87.2 15.2h0M56.1 54.2h0M42.8 10.0h0M37.1 49.9h0M35.3 49.2h0M77.0 6.6h0M96.6 58.5h0M66.1 42.8h0M19.4 49.3h0M33.2 43.2h0M73.1 11.7h0M2.8 21.3h0M80.6 50.6h0M24.7 15.2h0M86.3 18.1h0M23.1 40.7h0M21.2 19.2h0M28.9 49.1h0M58.1 43.4h0M92.5 11.3h0" stroke="#4b7a45" stroke-width="2.5" stroke-linecap="round" fill="none"/></pattern>
<pattern id="q5" width="71" height="43" patternUnits="userSpaceOnUse"><path d="M57.3 14.9h0M48.2 7.9h0M31.6 10.6h0M45.6 26.2h0M29.2 1.2h0M56.3 25.8h0M63.7 40.6h0M33.8 42.3h0M44.2 22.7h0M45.9 26.4h0M3.6 0.7h0M57.2 3.8h0M35.4 31.9h0M64.0 16.6h0M13.0 14.8h0M32.4 8.7h0M69.3 28.0h0M67.6 33.9h0M16.1 9.0h0M41.6 30.9h0M53.9 39.1h0M34.2 41.5h0M13.0 1.3h0M62.5 38.8h0M34.5 0.4h0M69.9 15.2h0M33.5 24.6h0M19.6 11.8h0M39.3 6.9h0M16.2 1.7h0M2.4 36.4h0M17.8 12.8h0M11.9 37.7h0M29.1 9.3h0M25.7 3.6h0M32.9 11.8h0M4.0 16.1h0M21.4 33.8h0M70.6 25.0h0M13.4 28.0h0M11.4 33.2h0M42.9 2.2h0M48.3 16.1h0M36.1 15.8h0M8.4 13.3h0M17.3 10.1h0M65.4 24.3h0M43.4 19.1h0M45.7 26.2h0M35.0 18.2h0M25.6 23.6h0M62.6 26.7h0M54.3 2.0h0M55.5 27.6h0M3.1 28.7h0M0.6 27.1h0M66.2 25.6h0M25.8 25.4h0M57.6 35.9h0M20.5 31.1h0M6.8 9.0h0M1.0 10.1h0M36.6 40.3h0M22.9 9.6h0M13.3 23.3h0M39.0 11.4h0M23.8 21.3h0M22.8 16.5h0M45.8 25.0h0M48.4 41.6h0M53.7 6.6h0M16.7 31.4h0M3.6 30.5h0M48.6 2.2h0M25.5 26.4h0M8.3 19.5h0M3.3 42.1h0M38.4 3.1h0M39.7 18.6h0M51.2 9.2h0M49.8 37.4h0M28.9 12.7h0M22.2 7.2h0M19.2 9.3h0M63.5 11.5h0M68.5 23.8h0M10.2 22.7h0M67.5 27.9h0M35.1 39.5h0M21.2 40.0h0M22.6 19.5h0M48.5 8.6h0M70.3 19.1h0M68.4 1.9h0M66.1 35.7h0M16.1 32.1h0M12.1 23.0h0M5.5 15.6h0M7.4 10.0h0M23.0 18.8h0M7.2 23.6h0M2.2 39.9h0M5.3 34.7h0M57.3 0.7h0M2.8 28.3h0M35.4 6.5h0M23.2 15.7h0M16.8 22.6h0M50.9 8.0h0M19.9 29.6h0M13.1 22.8h0M49.7 42.0h0M59.4 32.2h0M4.5 23.8h0M5.7 2.1h0M59.3 14.1h0M67.3 28.2h0M69.3 9.2h0M17.4 21.8h0M48.0 40.1h0M8.8 24.2h0M67.6 15.5h0M9.7 3.2h0M65.9 20.1h0M12.3 21.2h0M23.7 1.5h0M5.3 40.8h0M5.8 22.4h0M58.4 13.3h0M61.1 38.8h0M35.6 31.9h0M5.5 23.6h0M70.5 8.7h0M53.7 20.1h0M57.2 36.5h0M36.3 2.9h0M40.4 18.6h0M8.9 26.0h0M39.9 16.2h0M40.3 16.7h0M64.4 30.7h0M67.7 22.0h0M22.6 29.8h0M22.0 38.3h0M17.3 27.9h0M43.0 1.0h0" stroke="#4b7a45" stroke-width="2.5" stroke-linecap="round" fill="none"/></pattern>
<pattern id="p6" width="97" height="61" patternUnits="userSpaceOnUse"><path d="M58.6 23.5h0M46.8 30.3h0M49.7 29.9h0M85.5 0.8h0M3.7 21.5h0M67.0 27.8h0M13.3 35.3h0M22.7 17.6h0M90.6 2.9h0M17.8 42.9h0M29.3 38.1h0M80.7 55.6h0M89.5 37.0h0M35.4 60.0h0M45.3 54.4h0M58.5 15.6h0M53.1 21.7h0M17.4 24.8h0M74.8 7.3h0M25.1 35.9h0M1.3 36.4h0M76.9 43.5h0M80.4 4.1h0M57.1 31.4h0M17.6 42.9h0M30.4 39.1h0M11.8 42.7h0M6.5 46.4h0M1.1 47.9h0M96.9 30.0h0M86.7 8.7h0M76.6 27.0h0M1.8 24.9h0M69.2 23.6h0M81.4 50.0h0M80.4 14.0h0M47.1 59.6h0M59.6 20.1h0M40.8 25.0h0M92.8 50.9h0M85.6 60.2h0M75.2 17.2h0M15.8 9.2h0M19.7 60.7h0M47.0 20.5h0M80.1 51.8h0M34.6 6.8h0M42.4 11.8h0M35.6 30.0h0M42.7 35.2h0M44.5 50.7h0M91.0 28.2h0M94.0 28.0h0M74.4 19.0h0M44.4 21.5h0M83.9 34.2h0M56.6 11.6h0M89.4 0.3h0M13.6 26.5h0M38.9 13.4h0M34.4 38.5h0M6.1 42.5h0M2.3 25.6h0M58.3 50.1h0M49.3 27.6h0M80.8 14.5h0M93.8 37.6h0M26.6 15.7h0M12.5 18.8h0M23.9 2.9h0M66.0 21.7h0M71.0 28.2h0M5.2 20.9h0M14.0 9.8h0M10.1 21.2h0M52.3 4.8h0M56.8 38.8h0M8.7 7.6h0M93.5 2.1h0M81.5 33.0h0M16.3 10.3h0M81.2 26.7h0M73.5 55.2h0M83.3 19.4h0M11.6 48.7h0M31.8 8.3h0M73.8 18.6h0M1.0 27.9h0M79.8 11.7h0M30.5 17.5h0M42.9 49.1h0M62.9 11.3h0M28.7 46.9h0M24.5 11.2h0M1.4 43.0h0M78.1 31.3h0M59.6 50.6h0M74.1 2.9h0M44.7 35.0h0M52.2 35.2h0M68.2 41.1h0M29.5 54.3h0M76.8 47.4h0M94.9 16.2h0M56.9 15.8h0M24.0 8.0h0M12.2 5.7h0M68.4 36.7h0M13.8 16.6h0M75.9 37.3h0M73.0 0.7h0M6.9 1.5h0M91.2 38.3h0M14.1 27.8h0M69.5 3.6h0M46.3 23.4h0M73.9 34.7h0M6.7 50.6h0M71.1 29.1h0M94.1 19.7h0M16.0 3.9h0M11.3 24.0h0M78.7 31.7h0M63.8 56.9h0M21.6 3.1h0M3.2 57.8h0M85.8 18.5h0M29.0 51.1h0M77.8 35.1h0M91.8 18.8h0M94.1 22.7h0M24.3 14.8h0M6.6 17.0h0M30.1 10.9h0M96.8 16.4h0M79.2 45.5h0M79.4 53.2h0M28.4 56.2h0M96.6 33.1h0M62.5 46.8h0M21.3 13.7h0M62.4 38.0h0M20.1 24.5h0M17.4 59.5h0M73.1 0.5h0M45.6 36.9h0M37.2 40.3h0M87.0 0.5h0M17.5 59.6h0M24.8 46.2h0M29.4 21.2h0M61.7 6.8h0M55.0 24.3h0M38.5 31.8h0M54.9 43.9h0M71.8 8.3h0M28.6 22.2h0M58.1 48.4h0M47.8 18.0h0M43.3 37.9h0M6.9 51.8h0M90.0 42.0h0M79.1 57.4h0M78.5 1.8h0M30.5 50.9h0M85.7 43.1h0M87.6 7.6h0M46.6 49.0h0M53.9 48.5h0M63.1 33.7h0M72.3 6.1h0M74.1 13.4h0M50.5 45.6h0M17.9 59.6h0M6.2 17.4h0M74.3 44.0h0M1.3 23.9h0M7.8 54.4h0M34.7 22.2h0M35.4 21.6h0M58.3 40.4h0M29.7 54.8h0M80.0 37.7h0M38.9 3.2h0M14.8 18.2h0M66.5 25.4h0M55.6 12.3h0M22.9 21.0h0M42.0 21.7h0M64.2 26.5h0M54.8 48.4h0M43.1 31.9h0M69.7 48.8h0M59.4 11.9h0M41.3 27.4h0M51.1 22.3h0M20.4 15.6h0M50.0 0.3h0M36.9 34.0h0M46.4 54.5h0M53.5 42.3h0M9.8 32.9h0M57.6 12.2h0M28.1 12.9h0M9.7 59.2h0M45.8 11.1h0M9.8 40.7h0M35.1 6.7h0M37.6 21.5h0M17.1 28.8h0M21.6 44.2h0M93.0 50.8h0M35.6 13.0h0M3.7 10.3h0M62.7 41.6h0M85.5 0.5h0M75.3 20.0h0M77.4 5.6h0M96.8 14.9h0M31.0 51.7h0M89.5 44.9h0M73.7 40.4h0M48.3 16.5h0M62.5 37.1h0M71.2 47.6h0M78.6 18.5h0M1.4 35.3h0M86.6 30.2h0M66.1 52.9h0M2.4 3.7h0M65.9 18.3h0M29.9 35.4h0M29.7 21.3h0M9.5 50.5h0M15.2 46.1h0M28.5 57.5h0M9.9 18.5h0M95.8 21.5h0M92.1 5.0h0M66.1 3.1h0M95.0 60.3h0M18.0 21.1h0M23.1 60.0h0M19.2 42.2h0M85.8 7.7h0M96.1 42.9h0M19.5 4.4h0M44.5 2.3h0M1.7 8.2h0M46.4 42.5h0M70.6 23.6h0M37.7 5.9h0M3.1 29.5h0M18.1 57.1h0M62.6 1.7h0M60.9 10.2h0M81.5 9.0h0M42.6 12.9h0M86.2 7.5h0M40.8 49.9h0M4.2 23.2h0M27.9 33.4h0M29.9 27.7h0M88.5 18.5h0M28.7 32.3h0M83.4 12.2h0M91.4 51.6h0M75.0 49.1h0M46.4 48.0h0M1.7 12.2h0M21.7 26.4h0M2.3 51.5h0M10.6 23.4h0M38.2 7.3h0M96.3 45.1h0M79.1 0.1h0M20.5 40.6h0M91.2 16.4h0M34.7 18.2h0M74.1 41.3h0M75.5 36.9h0M20.7 49.3h0M5.5 45.2h0M82.5 47.2h0M19.0 4.9h0M40.4 28.5h0M2.6 43.1h0M49.1 15.1h0M38.5 28.9h0M81.7 7.7h0M79.2 5.6h0M73.1 25.5h0M65.8 56.2h0M96.2 27.8h0M83.7 14.8h0M1.5 45.5h0M50.1 10.0h0M64.9 22.2h0M68.2 32.9h0M44.9 57.1h0M55.9 21.4h0M32.9 5.7h0M72.9 43.3h0M79.3 41.3h0M88.2 51.8h0M16.0 47.4h0M53.5 56.7h0M95.9 33.6h0M82.6 20.9h0M85.9 20.7h0M73.1 5.4h0M36.8 10.1h0M50.4 43.5h0M29.9 21.7h0M33.8 10.7h0M49.6 32.1h0M76.7 5.6h0M88.1 18.5h0M84.6 44.5h0M20.7 50.6h0M23.4 27.5h0M8.0 51.4h0M48.4 56.8h0M20.8 1.3h0M94.9 12.2h0M6.3 12.6h0M19.0 52.8h0M76.8 53.4h0M91.0 58.7h0M13.4 7.0h0M15.4 49.2h0M16.2 22.5h0M78.6 57.5h0M57.0 17.1h0M67.2 13.1h0M71.5 57.8h0M70.5 18.9h0M68.5 9.8h0M41.3 33.4h0M92.9 49.0h0M62.7 43.4h0M93.3 3.0h0M54.8 60.4h0M76.2 59.7h0M5.7 16.2h0M49.2 60.7h0M55.5 30.0h0M2.0 41.0h0M34.0 27.2h0M74.8 45.7h0M51.6 25.3h0M52.4 14.4h0M54.8 46.6h0M69.2 10.1h0M7.0 4.0h0M87.9 43.8h0M36.3 11.6h0M28.5 24.7h0M62.1 0.9h0M63.6 39.9h0M59.4 12.8h0M2.9 59.9h0M92.3 22.8h0M60.6 16.3h0M19.6 24.9h0M7.7 15.5h0M30.9 51.3h0M63.9 6.0h0M83.4 1.7h0M66.4 50.6h0M68.3 41.6h0M79.7 47.0h0M87.4 53.4h0M96.0 15.3h0M45.9 40.4h0M7.1 58.3h0M5.3 4.2h0M93.7 33.1h0M85.3 46.4h0M10.7 38.2h0M9.4 30.2h0M17.4 4.2h0M54.1 34.3h0M48.2 37.7h0M57.2 11.5h0M45.0 18.3h0M47.5 16.7h0M30.3 40.4h0M58.9 0.8h0M46.0 47.0h0M68.1 18.0h0M6.8 37.1h0M43.7 5.0h0M91.7 50.2h0M90.0 7.3h0M71.1 56.6h0M3.0 7.5h0M32.4 6.4h0M54.1 14.1h0M5.1 12.6h0M80.0 8.6h0M14.0 44.1h0M53.0 6.0h0M72.7 42.2h0M95.6 55.6h0" stroke="#bf9a3b" stroke-width="2.5" stroke-linecap="round" fill="none"/></pattern>
<pattern id="q6" width="71" height="43" patternUnits="userSpaceOnUse"><path d="M47.7 4.4h0M27.2 40.2h0M31.9 19.6h0M66.3 23.5h0M66.0 23.8h0M21.4 40.9h0M21.8 21.6h0M49.2 39.6h0M60.1 25.9h0M48.0 15.1h0M32.5 2.6h0M20.5 19.4h0M63.1 26.4h0M5.7 14.5h0M32.7 37.0h0M34.0 30.0h0M21.1 28.9h0M38.2 39.8h0M69.2 26.0h0M50.5 18.9h0M12.4 9.8h0M0.0 18.2h0M45.9 40.6h0M30.9 21.5h0M8.3 39.3h0M44.9 24.6h0M5.4 2.4h0M65.6 29.0h0M7.7 33.5h0M46.1 28.1h0M27.7 27.4h0M58.5 18.2h0M59.6 7.0h0M40.7 41.8h0M12.6 39.7h0M51.4 13.5h0M1.6 39.9h0M9.6 36.3h0M52.0 22.9h0M42.7 19.9h0M14.3 29.0h0M21.9 22.5h0M61.2 31.4h0M57.1 33.0h0M28.6 21.8h0M28.4 41.4h0M45.9 28.7h0M51.9 4.2h0M60.2 17.0h0M62.8 15.2h0M29.8 41.3h0M68.1 6.6h0M53.1 29.6h0M25.8 35.4h0M36.8 33.5h0M6.3 4.2h0M37.2 5.5h0M41.8 40.0h0M36.9 17.9h0M7.2 19.3h0M65.4 25.4h0M7.0 41.7h0M45.3 6.1h0M52.3 23.6h0M56.5 4.2h0M39.4 25.1h0M27.6 20.4h0M17.1 31.0h0M0.6 41.7h0M33.0 20.8h0M29.9 40.5h0M56.0 24.4h0M0.9 27.2h0M51.2 41.4h0M31.2 30.1h0M40.3 37.7h0M27.8 11.5h0M15.9 8.7h0M62.2 28.4h0M8.2 37.5h0M59.0 36.1h0M59.3 29.7h0M58.7 15.5h0M37.5 15.0h0M14.8 27.1h0M69.1 7.5h0M30.1 42.4h0M28.5 16.9h0M8.2 7.3h0M62.8 0.4h0M56.4 36.8h0M60.8 2.4h0M24.6 18.9h0M56.9 36.9h0M4.6 41.7h0M21.6 20.2h0M17.8 31.4h0M42.5 2.8h0M54.9 30.5h0M30.0 8.7h0M58.0 22.6h0M41.5 5.9h0M17.7 28.0h0M18.6 11.6h0M5.7 0.9h0M24.2 16.5h0M13.9 15.3h0M53.6 16.1h0M9.2 29.0h0M32.2 22.6h0M37.6 27.2h0M55.1 6.1h0M7.4 42.3h0M1.5 8.8h0M47.7 1.1h0M23.6 21.4h0M13.0 31.4h0M40.3 9.3h0M61.2 36.8h0M35.6 1.0h0M49.4 1.1h0M12.7 26.2h0M38.8 25.4h0M48.5 26.0h0M1.8 25.0h0M70.1 3.8h0M29.6 7.4h0M61.7 35.8h0M20.3 35.5h0M55.2 35.6h0M7.9 10.3h0M41.1 36.7h0M28.1 5.8h0M5.5 30.1h0M66.8 41.8h0M17.8 20.0h0M66.7 39.6h0M38.4 3.2h0M36.2 27.7h0M52.2 18.5h0M2.2 36.3h0M54.7 26.9h0M32.4 23.6h0M46.3 32.4h0M27.9 1.2h0M56.9 31.0h0M62.8 14.8h0M23.5 9.9h0M20.3 18.9h0M15.0 9.7h0M59.0 12.5h0M7.0 9.6h0M38.8 22.9h0M59.5 38.9h0M9.8 5.9h0M2.3 35.8h0M32.2 32.7h0M14.4 5.1h0M52.3 26.9h0M47.0 31.3h0M44.8 2.7h0M23.4 7.8h0M29.6 4.0h0M61.6 24.4h0M57.7 24.8h0M64.0 15.6h0M5.6 5.6h0M31.4 18.2h0M40.4 12.3h0M12.8 5.6h0M62.6 23.7h0M2.1 31.6h0M39.1 40.8h0M13.7 11.3h0M54.6 9.5h0M61.5 32.4h0M42.7 22.2h0M37.3 2.0h0M30.2 37.5h0M69.0 13.2h0M38.9 17.6h0M18.3 40.7h0M68.1 41.2h0M20.8 18.4h0M64.4 22.9h0M41.6 19.4h0M5.5 36.3h0M0.5 19.6h0M3.1 26.2h0M65.0 36.5h0M6.5 7.1h0M39.6 4.8h0M39.6 24.5h0M15.6 18.4h0M51.2 29.7h0M2.0 40.1h0M35.1 7.9h0M41.9 34.8h0M21.4 34.4h0M28.6 37.2h0M49.9 9.3h0M57.2 17.8h0M13.3 5.6h0M66.6 4.9h0M57.7 27.0h0M40.2 20.0h0M55.7 41.3h0M0.3 30.7h0M52.0 8.0h0" stroke="#bf9a3b" stroke-width="2.5" stroke-linecap="round" fill="none"/></pattern>
</defs>
<rect x="1343" y="527" width="515" height="80" fill="url(#p23)"/>
<rect x="1343" y="527" width="515" height="80" fill="url(#q23)"/>
<path d="M1324 512h0M1862 555h0M1639 518h0M1558 512h0M1355 518h0M1339 575h0M1672 526h0M1528 527h0M1782 513h0M1850 521h0M1402 517h0M1606 524h0M1360 515h0M1377 525h0M1456 512h0M1473 526h0M1787 523h0M1485 522h0M1333 603h0M1860 540h0M1784 516h0M1780 518h0M1326 574h0M1566 526h0M1371 526h0M1708 526h0M1585 524h0M1612 520h0M1746 509h0M1633 516h0M1861 538h0M1434 521h0M1503 525h0M1816 519h0M1859 575h0M1451 516h0M1714 525h0M1447 527h0M1869 569h0M1478 520h0M1433 521h0M1359 525h0M1863 534h0M1325 557h0M1825 518h0M1592 515h0M1447 513h0M1821 515h0M1583 516h0M1865 525h0M1857 521h0M1812 506h0M1684 519h0M1866 581h0M1733 515h0M1720 525h0M1827 526h0M1342 543h0M1336 557h0M1341 561h0M1792 527h0M1326 563h0M1346 512h0M1607 516h0M1320 564h0M1428 509h0M1830 522h0M1671 526h0M1594 520h0M1826 526h0M1339 556h0M1354 515h0M1603 512h0M1769 524h0M1338 597h0M1859 593h0M1334 583h0M1671 527h0M1334 595h0M1354 518h0M1718 516h0M1862 586h0M1692 521h0M1378 525h0M1635 527h0M1861 523h0M1515 524h0M1707 526h0M1342 549h0M1486 520h0M1861 567h0M1359 524h0M1766 526h0M1871 578h0M1516 526h0M1317 522h0M1587 523h0M1331 576h0M1672 512h0M1339 547h0M1661 526h0M1450 526h0M1336 582h0M1456 527h0M1338 581h0M1595 526h0M1784 520h0M1468 519h0M1575 527h0M1675 526h0M1462 513h0M1382 515h0M1491 513h0M1394 524h0M1476 514h0M1479 513h0M1322 534h0M1602 501h0M1587 526h0M1863 586h0M1492 515h0M1388 518h0M1459 510h0M1706 525h0M1318 527h0M1669 524h0M1638 514h0M1827 511h0M1459 521h0M1533 523h0M1394 511h0M1363 514h0M1816 527h0M1340 538h0M1457 524h0M1436 519h0M1334 510h0M1832 525h0M1693 523h0M1404 524h0M1502 511h0M1622 521h0M1806 517h0M1657 520h0M1619 522h0M1860 581h0M1508 520h0M1349 519h0M1749 526h0M1737 521h0M1471 524h0M1801 508h0M1389 521h0M1340 597h0M1333 580h0M1715 522h0M1809 524h0M1836 501h0M1448 508h0M1404 516h0M1331 577h0M1484 525h0M1375 527h0M1442 525h0M1336 574h0M1566 522h0M1771 519h0M1711 507h0M1843 523h0M1792 518h0M1600 507h0M1862 603h0M1350 525h0M1748 507h0M1498 523h0M1482 525h0M1414 514h0M1466 527h0M1338 576h0M1671 521h0M1451 516h0M1329 540h0M1826 521h0M1632 515h0M1763 506h0M1678 511h0M1785 515h0M1565 527h0M1495 526h0M1754 518h0M1495 517h0M1361 525h0M1589 526h0M1435 524h0M1635 525h0M1546 525h0M1762 525h0M1610 526h0M1545 526h0M1362 512h0M1589 525h0M1475 518h0M1369 511h0M1685 515h0M1786 523h0M1540 525h0M1550 517h0M1864 555h0M1837 509h0M1581 511h0M1463 521h0M1697 518h0M1794 526h0M1845 526h0M1476 512h0M1658 526h0M1834 523h0M1420 517h0M1341 544h0M1321 554h0M1780 523h0M1869 536h0M1338 572h0M1433 508h0M1752 520h0M1336 585h0M1657 515h0M1635 512h0M1453 525h0M1443 524h0M1372 527h0M1593 526h0M1401 527h0M1586 525h0M1418 515h0M1860 603h0M1644 518h0M1515 516h0M1858 558h0M1763 512h0M1339 598h0M1461 525h0M1342 552h0M1757 522h0M1341 531h0M1683 523h0M1604 521h0M1704 527h0M1850 525h0M1367 520h0M1379 517h0M1802 524h0M1535 510h0M1331 558h0M1603 505h0M1726 526h0M1491 523h0M1533 523h0M1830 521h0M1536 525h0M1864 567h0M1394 524h0M1478 520h0M1802 515h0M1329 536h0M1340 525h0M1637 519h0M1481 524h0M1374 524h0M1340 528h0M1433 519h0M1394 516h0M1826 511h0M1701 506h0M1836 513h0M1846 512h0M1863 519h0M1453 518h0M1341 549h0M1332 567h0M1649 516h0M1494 513h0M1577 509h0M1340 533h0M1658 519h0M1429 527h0M1412 524h0M1790 525h0M1522 512h0M1343 558h0M1428 514h0M1811 521h0M1860 599h0M1837 523h0M1413 525h0M1638 526h0M1817 517h0M1862 557h0M1791 514h0M1767 518h0M1737 523h0M1584 522h0M1328 514h0M1654 510h0M1546 519h0M1659 514h0M1731 524h0M1808 518h0M1333 574h0M1327 530h0M1468 521h0M1839 526h0M1437 516h0M1845 506h0M1855 502h0M1383 517h0M1649 521h0M1448 520h0M1694 508h0M1434 516h0M1667 511h0M1339 550h0M1588 526h0M1847 518h0M1327 593h0M1818 524h0M1731 519h0M1359 525h0M1473 507h0M1723 524h0M1739 521h0M1561 525h0M1641 525h0M1461 521h0M1854 525h0M1453 513h0M1850 509h0M1331 557h0M1652 523h0M1335 600h0M1339 519h0M1519 519h0M1533 523h0M1862 544h0M1852 523h0M1570 522h0M1763 525h0M1327 597h0M1860 512h0M1462 516h0M1341 603h0M1715 521h0M1727 523h0M1675 510h0M1339 521h0M1321 536h0M1564 518h0M1419 525h0M1439 520h0M1364 512h0M1573 525h0M1790 524h0M1644 499h0M1872 506h0M1609 525h0M1803 515h0M1560 501h0M1790 508h0M1850 526h0M1511 524h0M1826 527h0M1459 505h0M1671 525h0M1862 568h0M1595 520h0M1860 561h0M1461 518h0M1772 521h0M1515 516h0M1641 517h0M1500 511h0M1432 526h0M1456 520h0M1788 515h0M1337 548h0M1597 526h0M1836 524h0M1609 525h0M1591 519h0M1483 508h0M1743 513h0M1636 520h0M1767 524h0M1868 545h0M1475 523h0M1425 519h0M1862 566h0M1346 522h0M1720 525h0M1649 526h0M1351 518h0M1732 521h0M1520 525h0M1334 547h0M1339 574h0M1486 521h0M1749 515h0M1443 515h0M1630 525h0M1337 594h0M1769 525h0M1492 517h0M1409 524h0M1761 506h0M1861 537h0M1813 521h0M1636 519h0M1784 516h0M1376 525h0M1450 519h0M1654 526h0M1565 525h0M1728 513h0M1326 599h0M1665 524h0M1743 520h0M1326 509h0M1698 508h0M1332 596h0M1668 524h0M1796 519h0M1342 575h0M1859 581h0M1386 525h0M1812 525h0M1342 557h0M1863 560h0M1819 523h0M1477 515h0M1388 516h0M1815 516h0M1419 521h0M1451 524h0M1552 518h0M1504 522h0M1338 540h0M1761 526h0M1858 534h0M1337 510h0M1369 526h0M1724 522h0M1333 599h0M1790 521h0M1728 524h0M1383 511h0M1510 524h0M1413 518h0M1330 568h0M1365 521h0M1342 523h0M1627 525h0M1639 520h0M1804 505h0M1553 522h0M1335 534h0M1534 526h0M1336 587h0M1447 527h0M1325 594h0M1838 520h0M1340 547h0M1712 522h0M1826 506h0M1756 525h0M1483 525h0M1334 551h0M1340 569h0M1467 527h0M1732 525h0M1681 520h0M1771 522h0M1540 521h0M1555 520h0M1331 573h0M1753 527h0M1795 526h0M1860 604h0M1730 526h0M1340 540h0M1541 525h0M1671 505h0M1478 517h0M1870 533h0M1398 520h0M1809 523h0M1586 522h0M1567 522h0M1435 515h0M1656 522h0M1475 519h0M1553 521h0M1429 506h0M1323 508h0M1747 520h0M1709 525h0M1621 501h0M1752 508h0M1757 513h0M1679 523h0M1671 527h0M1541 515h0M1409 524h0M1863 568h0M1728 527h0M1741 527h0M1652 524h0M1421 524h0M1411 510h0M1791 525h0M1382 527h0M1665 518h0M1671 526h0M1367 516h0M1342 532h0M1342 571h0M1704 514h0M1768 515h0M1675 523h0M1575 526h0M1655 522h0M1587 514h0M1717 521h0M1319 508h0M1738 512h0M1560 520h0M1362 521h0M1726 522h0M1357 516h0M1739 510h0M1370 514h0M1341 527h0M1799 514h0M1772 526h0M1721 525h0M1808 522h0M1526 522h0M1510 517h0M1461 517h0M1677 511h0M1407 510h0M1323 508h0M1749 520h0M1394 523h0M1582 527h0M1342 603h0M1866 562h0M1335 585h0M1415 512h0M1329 552h0M1459 514h0M1348 518h0M1597 510h0M1570 508h0M1378 516h0M1368 518h0M1336 545h0M1491 522h0M1861 544h0M1464 515h0M1519 518h0M1614 506h0M1530 517h0M1619 521h0M1828 512h0M1662 526h0M1559 526h0M1578 526h0M1508 527h0M1862 544h0M1602 524h0M1643 510h0M1340 515h0M1862 581h0M1833 522h0M1776 515h0M1384 521h0M1760 523h0M1338 591h0M1536 524h0M1329 564h0M1623 513h0M1628 527h0M1335 555h0M1441 509h0M1770 520h0M1714 515h0M1427 520h0M1833 527h0M1324 517h0M1342 580h0M1752 520h0M1502 523h0M1340 574h0M1753 524h0M1858 533h0M1515 525h0M1534 520h0M1563 520h0M1668 525h0M1731 525h0M1320 572h0M1334 568h0M1536 520h0M1616 525h0M1460 515h0M1864 571h0M1646 524h0M1608 527h0M1463 523h0M1625 521h0M1639 520h0M1862 587h0M1534 518h0M1420 518h0M1672 524h0M1797 506h0M1734 526h0M1502 520h0M1775 524h0M1590 510h0M1822 522h0M1722 513h0M1489 516h0M1669 515h0M1558 524h0M1418 515h0M1324 533h0M1690 519h0M1525 518h0M1870 514h0M1713 517h0M1669 513h0M1369 521h0M1319 533h0M1410 518h0M1332 547h0M1712 519h0M1501 511h0M1864 606h0M1332 597h0M1844 516h0M1869 541h0M1331 533h0M1399 520h0M1810 516h0M1566 511h0M1321 508h0M1721 520h0M1465 524h0M1338 538h0M1570 524h0M1339 525h0M1603 525h0M1784 522h0M1867 555h0M1864 590h0M1863 544h0M1652 504h0M1862 554h0M1778 526h0M1336 528h0M1442 517h0M1515 526h0M1599 522h0M1626 525h0M1654 525h0M1463 514h0M1726 527h0M1648 523h0M1585 521h0M1340 580h0M1571 506h0M1862 597h0M1858 599h0M1710 518h0M1859 580h0M1333 544h0M1414 523h0M1479 524h0M1865 592h0M1427 526h0M1595 519h0M1664 516h0M1814 517h0M1532 523h0M1858 586h0M1790 520h0M1443 521h0M1649 516h0M1431 523h0M1570 520h0M1865 529h0M1520 521h0M1494 525h0M1352 523h0M1389 525h0M1720 522h0M1567 510h0M1653 520h0M1658 524h0M1390 524h0M1516 503h0M1421 512h0M1627 513h0M1868 581h0M1569 522h0M1794 521h0M1545 514h0M1699 519h0M1388 507h0M1805 513h0M1342 593h0M1352 511h0M1804 518h0M1830 523h0M1549 521h0M1615 500h0M1331 522h0M1506 521h0M1373 522h0M1342 553h0M1502 515h0M1709 526h0M1602 519h0M1849 513h0M1814 526h0M1790 516h0M1796 525h0M1861 589h0M1408 525h0M1331 597h0M1330 595h0M1491 526h0M1721 520h0M1781 517h0M1727 520h0M1323 562h0M1539 507h0M1607 507h0M1365 514h0M1550 520h0M1688 520h0M1784 525h0M1691 519h0M1516 525h0M1772 524h0M1855 520h0M1415 518h0M1668 527h0M1350 518h0M1788 527h0M1861 575h0M1319 556h0M1376 527h0M1335 572h0M1612 522h0M1339 586h0M1567 519h0M1699 521h0M1667 523h0M1376 517h0M1515 526h0M1419 523h0M1493 521h0M1399 512h0M1438 523h0M1785 522h0M1711 518h0M1334 531h0M1645 522h0M1713 512h0M1766 519h0M1466 524h0M1325 511h0M1361 517h0M1319 537h0M1634 511h0M1336 570h0M1323 501h0M1642 527h0M1721 515h0M1381 520h0M1860 538h0M1516 525h0M1346 519h0M1383 507h0M1729 513h0M1321 513h0M1557 507h0M1858 566h0M1740 523h0M1426 516h0M1861 601h0M1510 511h0M1486 511h0M1504 525h0M1729 509h0M1807 521h0M1860 574h0M1546 523h0M1864 538h0M1343 525h0M1761 520h0M1788 508h0M1844 512h0M1720 524h0M1618 525h0M1396 525h0M1338 520h0M1444 519h0M1831 523h0M1860 596h0M1869 584h0M1753 510h0M1770 525h0M1661 510h0M1341 550h0M1336 514h0M1685 519h0M1749 510h0M1739 523h0M1648 514h0M1415 523h0M1390 523h0M1336 539h0M1624 522h0M1410 522h0M1465 521h0M1534 525h0M1711 520h0M1766 524h0M1441 521h0M1709 523h0M1332 590h0M1541 522h0M1517 515h0M1423 519h0M1709 514h0M1359 519h0M1665 527h0M1800 520h0M1456 511h0M1548 519h0M1339 579h0M1863 519h0M1489 518h0M1740 516h0M1591 521h0M1322 604h0M1363 517h0M1736 524h0M1600 520h0M1468 518h0M1367 525h0M1721 520h0M1869 555h0M1658 526h0M1739 510h0M1465 522h0M1452 525h0M1866 510h0M1807 505h0M1578 523h0M1798 525h0M1394 509h0M1495 526h0M1402 519h0M1450 526h0M1783 510h0M1734 515h0M1825 516h0M1420 525h0M1792 523h0M1405 526h0M1694 524h0M1525 526h0M1464 511h0M1785 522h0M1327 572h0M1553 517h0M1859 587h0M1764 523h0M1828 513h0M1339 529h0M1540 525h0M1674 525h0M1353 520h0M1408 524h0M1765 526h0M1476 521h0M1861 536h0M1354 509h0M1861 581h0M1540 525h0M1354 515h0M1484 516h0M1332 577h0M1522 516h0M1864 590h0M1474 508h0M1706 507h0M1577 507h0M1699 522h0M1859 602h0M1562 510h0M1488 527h0M1524 508h0M1756 517h0M1360 522h0M1760 512h0M1585 520h0M1385 525h0M1422 523h0M1633 514h0M1334 577h0M1346 500h0M1609 518h0M1801 515h0M1582 518h0M1694 522h0M1487 524h0M1470 503h0M1518 518h0M1387 510h0M1335 580h0M1432 520h0M1710 522h0M1541 502h0M1425 517h0M1430 527h0M1659 514h0M1329 508h0M1503 526h0M1323 517h0M1525 512h0M1380 527h0M1824 526h0M1527 525h0M1535 516h0M1348 524h0M1787 516h0M1600 504h0M1648 506h0M1682 522h0M1618 526h0M1633 524h0M1469 523h0M1374 524h0M1817 516h0M1440 513h0M1526 511h0M1331 537h0M1548 506h0M1634 520h0M1684 518h0M1813 502h0M1570 525h0M1348 522h0M1678 508h0M1642 521h0M1567 525h0M1588 524h0M1832 522h0M1751 524h0M1751 517h0M1342 524h0M1342 583h0M1488 514h0M1377 518h0M1493 517h0M1743 513h0M1474 519h0M1534 520h0M1387 521h0M1484 522h0M1403 521h0M1803 510h0M1840 512h0M1340 580h0M1434 525h0M1367 525h0M1413 525h0M1766 522h0M1419 523h0M1685 521h0M1376 513h0M1760 509h0M1540 524h0M1734 524h0M1333 572h0M1574 519h0M1847 517h0M1678 513h0M1557 518h0M1337 586h0M1492 522h0M1368 511h0M1859 578h0M1657 517h0M1738 524h0M1674 526h0M1502 525h0M1586 523h0M1868 518h0M1548 525h0M1858 595h0M1615 504h0M1525 526h0M1424 520h0M1857 518h0M1369 506h0M1370 524h0M1859 600h0M1607 521h0M1484 518h0M1711 525h0M1494 526h0M1467 525h0M1669 523h0M1340 567h0M1519 522h0M1472 526h0M1466 522h0M1868 570h0M1332 531h0M1322 507h0M1745 521h0M1675 527h0M1316 591h0M1500 525h0M1862 523h0M1731 523h0M1537 525h0M1554 510h0M1766 514h0M1699 521h0M1322 566h0M1597 517h0M1689 517h0M1440 524h0M1435 518h0M1730 517h0M1364 519h0M1756 521h0M1579 502h0M1407 523h0M1436 513h0M1326 583h0M1810 515h0M1418 519h0M1427 526h0M1598 520h0M1764 524h0M1796 523h0M1844 516h0M1370 505h0M1456 522h0M1722 518h0M1475 513h0M1430 508h0M1721 527h0M1625 506h0M1338 569h0M1338 528h0M1407 523h0M1745 500h0M1354 522h0M1479 518h0M1341 598h0M1858 581h0M1502 526h0M1579 521h0M1826 521h0M1466 521h0M1369 517h0M1805 511h0M1531 520h0M1391 517h0M1480 516h0M1541 505h0M1863 537h0M1755 524h0M1378 521h0M1525 515h0M1336 577h0M1334 554h0M1440 524h0M1571 516h0M1672 508h0M1331 556h0M1498 515h0M1550 523h0M1514 524h0M1767 526h0M1436 522h0M1644 520h0M1724 524h0M1331 567h0M1409 518h0M1339 563h0M1321 508h0M1709 520h0M1691 505h0M1672 506h0M1488 519h0M1863 530h0M1642 527h0M1348 526h0M1700 525h0M1403 525h0M1732 511h0M1348 526h0M1371 527h0M1851 523h0M1702 524h0M1858 548h0M1412 524h0M1748 526h0M1332 547h0M1723 522h0M1343 545h0M1566 520h0M1403 515h0M1600 521h0M1718 521h0M1354 514h0M1399 523h0M1416 524h0M1623 510h0M1477 525h0M1494 526h0M1771 505h0M1711 521h0M1782 519h0M1786 514h0M1321 573h0M1327 581h0M1854 525h0M1705 519h0M1803 523h0M1674 519h0M1488 515h0M1460 527h0M1868 547h0M1776 513h0M1343 542h0M1374 527h0M1437 512h0M1623 523h0M1844 518h0M1480 526h0M1862 537h0M1499 527h0M1718 516h0M1867 576h0M1436 521h0M1451 517h0M1712 509h0M1676 527h0M1862 536h0M1463 520h0M1337 566h0M1863 585h0M1515 514h0M1765 522h0M1485 524h0M1844 526h0M1863 525h0M1773 518h0M1594 518h0M1337 593h0M1859 597h0M1484 526h0M1695 524h0M1455 518h0M1760 522h0M1855 527h0M1341 537h0M1859 527h0M1836 523h0M1759 523h0M1629 521h0M1319 560h0M1637 524h0M1609 516h0M1414 516h0M1327 607h0M1332 553h0M1406 523h0M1339 558h0M1824 525h0M1617 525h0M1457 526h0M1624 526h0M1825 521h0M1829 511h0M1649 527h0M1620 527h0M1834 512h0M1336 593h0M1792 514h0M1456 523h0M1398 522h0M1383 525h0" stroke="#35336f" stroke-width="2.5" stroke-linecap="round" fill="none"/>
<rect x="1343" y="609" width="517" height="57" fill="url(#p4)"/>
<rect x="1343" y="609" width="517" height="57" fill="url(#q4)"/>
<path d="M1337 631h0M1335 615h0M1340 632h0M1860 635h0M1334 631h0M1862 619h0M1330 614h0M1868 639h0M1866 646h0M1862 639h0M1341 610h0M1338 643h0M1869 662h0M1335 661h0M1339 660h0M1343 660h0M1336 612h0M1863 630h0M1861 635h0M1330 631h0M1868 634h0M1860 650h0M1325 633h0M1864 619h0M1328 630h0M1860 635h0M1335 640h0M1872 628h0M1864 620h0M1860 640h0M1866 632h0M1334 652h0M1337 642h0M1337 652h0M1865 644h0M1861 639h0M1333 625h0M1341 634h0M1339 654h0M1331 614h0M1343 663h0M1334 653h0M1865 633h0M1864 617h0M1337 655h0M1332 655h0M1864 633h0M1336 620h0M1863 630h0M1335 654h0M1342 654h0M1341 627h0M1337 663h0M1343 642h0M1866 633h0M1330 615h0M1336 623h0M1341 612h0M1327 628h0M1332 637h0M1863 660h0M1863 624h0M1862 633h0M1863 661h0M1341 650h0M1860 625h0M1332 618h0M1343 648h0M1342 641h0M1867 664h0M1864 655h0M1340 625h0M1329 640h0M1336 639h0M1862 647h0M1326 621h0M1339 656h0M1865 627h0M1331 621h0M1861 634h0M1342 635h0M1342 663h0M1337 663h0M1862 657h0M1867 633h0M1340 636h0M1336 628h0M1342 625h0M1327 654h0M1340 662h0M1338 661h0M1862 642h0M1863 630h0M1340 635h0M1340 614h0M1343 639h0M1335 626h0M1331 647h0M1328 653h0M1863 643h0M1861 643h0M1332 652h0M1337 614h0M1335 626h0M1341 625h0M1342 634h0M1861 662h0M1342 660h0M1335 646h0M1340 626h0M1333 665h0M1862 610h0M1340 623h0M1341 631h0M1342 635h0M1325 619h0M1327 632h0M1862 622h0M1866 613h0M1340 635h0M1330 619h0M1862 616h0M1864 649h0M1868 634h0M1332 623h0M1343 628h0M1862 663h0M1867 656h0M1343 641h0M1330 645h0M1324 661h0M1341 613h0M1861 631h0M1866 623h0M1341 614h0M1339 615h0M1863 647h0" stroke="#235c6c" stroke-width="2.5" stroke-linecap="round" fill="none"/>
<rect x="1345" y="669" width="515" height="74" fill="url(#p5)"/>
<rect x="1345" y="669" width="515" height="74" fill="url(#q5)"/>
<path d="M1867 676h0M1861 669h0M1861 740h0M1326 670h0M1343 736h0M1341 687h0M1861 709h0M1863 705h0M1345 724h0M1345 734h0M1344 713h0M1864 728h0M1864 690h0M1344 692h0M1340 694h0M1861 694h0M1344 697h0M1866 717h0M1342 729h0M1345 677h0M1333 677h0M1865 709h0M1343 683h0M1333 733h0M1864 743h0M1342 714h0M1860 738h0M1866 684h0M1860 688h0M1333 682h0M1866 699h0M1339 702h0M1343 677h0M1333 720h0M1335 735h0M1343 712h0M1342 703h0M1341 740h0M1331 720h0M1335 730h0M1332 742h0M1861 677h0M1337 711h0M1339 732h0M1341 720h0M1339 731h0M1338 677h0M1338 741h0M1867 719h0M1868 707h0M1862 726h0M1338 740h0M1863 707h0M1343 725h0M1343 740h0M1862 721h0M1861 722h0M1865 743h0M1330 724h0M1340 720h0M1862 728h0M1337 732h0M1342 732h0M1864 708h0M1329 673h0M1343 733h0M1864 710h0M1335 677h0M1336 692h0M1861 696h0M1864 736h0M1868 700h0M1336 675h0M1869 709h0M1329 739h0M1345 680h0M1867 713h0M1345 698h0M1330 691h0M1862 709h0M1345 726h0M1344 679h0M1862 727h0M1339 702h0M1340 739h0M1343 720h0M1339 736h0M1339 681h0M1867 706h0M1333 691h0M1340 714h0M1863 707h0M1344 699h0M1863 677h0M1861 686h0M1338 698h0M1862 740h0M1866 709h0M1330 721h0M1864 680h0M1868 738h0M1864 713h0M1343 681h0M1860 692h0" stroke="#4b7a45" stroke-width="2.5" stroke-linecap="round" fill="none"/>
<rect x="1350" y="745" width="510" height="103" fill="url(#p6)"/>
<rect x="1350" y="745" width="510" height="103" fill="url(#q6)"/>
<path d="M1549 848h0M1493 851h0M1649 858h0M1476 850h0M1347 857h0M1670 855h0M1328 813h0M1345 839h0M1347 859h0M1341 751h0M1350 768h0M1865 833h0M1571 854h0M1596 876h0M1651 864h0M1827 856h0M1551 848h0M1388 855h0M1780 863h0M1327 810h0M1348 762h0M1341 754h0M1594 853h0M1353 848h0M1593 857h0M1679 858h0M1449 864h0M1340 840h0M1701 864h0M1368 851h0M1462 870h0M1859 856h0M1471 858h0M1777 858h0M1385 862h0M1407 849h0M1862 843h0M1578 858h0M1404 854h0M1634 853h0M1487 860h0M1331 852h0M1532 871h0M1690 854h0M1868 876h0M1346 823h0M1518 870h0M1345 856h0M1348 829h0M1551 867h0M1427 857h0M1408 852h0M1556 849h0M1501 852h0M1364 872h0M1521 849h0M1574 858h0M1813 859h0M1511 861h0M1566 861h0M1438 854h0M1533 862h0M1328 809h0M1611 863h0M1421 848h0M1467 864h0M1679 848h0M1539 860h0M1456 868h0M1339 748h0M1349 851h0M1781 868h0M1339 857h0M1865 866h0M1387 849h0M1346 772h0M1390 860h0M1842 853h0M1348 800h0M1372 863h0M1347 816h0M1579 850h0M1409 850h0M1669 853h0M1390 850h0M1692 858h0M1514 867h0M1531 857h0M1344 848h0M1361 854h0M1351 853h0M1579 854h0M1670 848h0M1437 848h0M1756 855h0M1348 824h0M1444 864h0M1526 855h0M1416 855h0M1863 864h0M1349 797h0M1390 856h0M1436 870h0M1780 854h0M1724 862h0M1574 851h0M1489 848h0M1758 853h0M1490 852h0M1624 859h0M1770 862h0M1349 750h0M1737 852h0M1515 867h0M1754 854h0M1520 851h0M1856 852h0M1643 853h0M1643 861h0M1759 865h0M1860 768h0M1489 858h0M1871 838h0M1831 852h0M1528 852h0M1348 795h0M1846 865h0M1729 856h0M1741 856h0M1865 758h0M1864 824h0M1481 850h0M1485 870h0M1870 772h0M1845 850h0M1630 866h0M1378 859h0M1349 788h0M1840 853h0M1361 868h0M1739 853h0M1521 864h0M1783 849h0M1809 850h0M1345 830h0M1710 854h0M1806 860h0M1338 839h0M1580 856h0M1412 854h0M1328 795h0M1349 794h0M1717 855h0M1407 860h0M1724 850h0M1822 849h0M1346 847h0M1790 854h0M1344 754h0M1784 849h0M1578 849h0M1594 851h0M1737 857h0M1605 855h0M1862 770h0M1640 850h0M1341 815h0M1528 849h0M1860 809h0M1753 855h0M1643 864h0M1540 861h0M1450 857h0M1659 862h0M1681 870h0M1489 857h0M1865 777h0M1611 850h0M1666 858h0M1678 852h0M1525 849h0M1719 853h0M1867 851h0M1347 761h0M1617 850h0M1399 861h0M1796 863h0M1339 784h0M1342 798h0M1610 854h0M1473 850h0M1343 855h0M1584 855h0M1714 868h0M1867 799h0M1547 856h0M1862 853h0M1378 852h0M1797 855h0M1638 853h0M1688 850h0M1686 855h0M1691 853h0M1498 856h0M1342 851h0M1359 855h0M1759 848h0M1870 818h0M1344 781h0M1554 852h0M1727 850h0M1350 793h0M1758 868h0M1346 837h0M1436 864h0M1495 857h0M1451 874h0M1768 849h0M1403 859h0M1861 774h0M1867 824h0M1337 775h0M1666 850h0M1737 857h0M1440 860h0M1390 854h0M1406 853h0M1542 850h0M1640 870h0M1725 851h0M1807 862h0M1723 867h0M1341 781h0M1371 851h0M1860 759h0M1608 866h0M1674 858h0M1816 855h0M1521 854h0M1375 852h0M1330 850h0M1365 868h0M1512 863h0M1845 864h0M1775 865h0M1638 859h0M1352 849h0M1861 788h0M1354 850h0M1338 814h0M1356 852h0M1693 854h0M1614 849h0M1340 872h0M1819 857h0M1485 851h0M1421 856h0M1561 852h0M1646 853h0M1478 861h0M1502 851h0M1841 858h0M1861 816h0M1763 855h0M1474 861h0M1570 866h0M1464 852h0M1364 851h0M1579 849h0M1470 850h0M1735 853h0M1628 852h0M1520 859h0M1861 785h0M1673 865h0M1758 856h0M1356 849h0M1348 749h0M1665 863h0M1336 785h0M1815 851h0M1860 785h0M1866 800h0M1756 853h0M1340 769h0M1330 800h0M1703 872h0M1677 870h0M1347 843h0M1504 855h0M1846 874h0M1784 866h0M1490 856h0M1645 861h0M1722 861h0M1666 852h0M1819 859h0M1358 858h0M1862 815h0M1521 856h0M1573 853h0M1412 859h0M1707 857h0M1700 872h0M1560 865h0M1552 867h0M1455 863h0M1519 849h0M1512 855h0M1345 809h0M1558 855h0M1838 858h0M1806 860h0M1517 853h0M1336 778h0M1432 851h0M1393 855h0M1868 836h0M1333 760h0M1531 855h0M1601 870h0M1403 864h0M1520 861h0M1471 854h0M1437 858h0M1860 860h0M1339 767h0M1334 804h0M1743 851h0M1863 748h0M1357 861h0M1823 852h0M1364 852h0M1472 850h0M1469 859h0M1679 857h0M1333 767h0M1335 760h0M1500 869h0M1861 853h0M1350 824h0M1379 855h0M1716 859h0M1602 861h0M1599 869h0M1565 851h0M1861 772h0M1574 860h0M1733 851h0M1731 858h0M1634 848h0M1345 853h0M1634 856h0M1332 870h0M1746 859h0M1499 855h0M1381 854h0M1708 856h0M1572 855h0M1406 860h0M1703 857h0M1751 853h0M1380 864h0M1863 768h0M1492 855h0M1474 855h0M1722 851h0M1331 875h0M1350 766h0M1861 858h0M1335 824h0M1645 857h0M1542 867h0M1821 856h0M1810 862h0M1712 860h0M1821 856h0M1400 856h0M1788 861h0M1816 849h0M1338 857h0M1650 853h0M1340 857h0M1839 865h0M1660 855h0M1822 873h0M1416 850h0M1499 855h0M1632 856h0M1672 863h0M1852 855h0M1746 850h0M1341 775h0M1537 850h0M1576 850h0M1823 862h0M1401 861h0M1818 857h0M1333 789h0M1680 856h0M1847 872h0M1543 860h0M1757 852h0M1365 855h0M1356 861h0M1341 824h0M1348 828h0M1348 779h0M1344 778h0M1700 860h0M1331 834h0M1527 850h0M1336 794h0M1347 840h0M1789 857h0M1713 857h0M1849 861h0M1654 857h0M1464 861h0M1693 861h0M1725 857h0M1513 863h0M1589 859h0M1523 851h0M1823 859h0M1621 851h0M1641 853h0M1338 835h0M1726 852h0M1855 862h0M1791 849h0M1667 855h0M1388 858h0M1621 853h0M1426 860h0M1347 830h0M1349 784h0M1434 862h0M1868 814h0M1864 773h0M1743 876h0M1390 852h0M1812 848h0M1349 808h0M1474 852h0M1478 852h0M1468 862h0M1501 859h0M1521 856h0M1345 836h0M1482 854h0M1599 855h0M1653 848h0M1561 860h0M1349 821h0M1380 856h0M1839 867h0M1361 862h0M1522 853h0M1713 866h0M1341 812h0M1633 849h0M1866 803h0M1861 752h0M1401 856h0M1591 857h0M1470 858h0M1340 761h0M1867 798h0M1325 810h0M1348 824h0M1695 860h0M1447 861h0M1848 855h0M1674 859h0M1345 809h0M1565 863h0M1684 863h0M1642 851h0M1374 851h0M1400 862h0M1698 849h0M1333 747h0M1425 858h0M1454 867h0M1472 851h0M1349 750h0M1482 862h0M1386 855h0M1340 797h0M1554 852h0M1863 765h0M1370 863h0M1518 856h0M1379 854h0M1349 758h0M1602 859h0M1348 779h0M1679 864h0M1681 854h0M1712 857h0M1696 867h0M1389 849h0M1708 855h0M1793 859h0M1753 849h0M1349 798h0M1651 854h0M1701 849h0M1586 854h0M1714 851h0M1836 851h0M1343 770h0M1438 852h0M1596 858h0M1832 851h0M1762 868h0M1344 842h0M1781 866h0M1679 849h0M1444 864h0M1783 851h0M1492 868h0M1863 851h0M1739 852h0M1811 851h0M1663 870h0M1679 849h0M1344 773h0M1549 853h0M1425 854h0M1622 867h0M1719 859h0M1740 854h0M1376 857h0M1333 845h0M1350 861h0M1485 854h0M1460 849h0M1347 827h0M1390 851h0M1418 852h0M1530 852h0M1340 800h0M1674 849h0M1643 853h0M1632 854h0M1344 831h0M1330 865h0M1346 749h0M1347 782h0M1361 850h0M1487 849h0M1579 850h0M1786 860h0M1768 854h0M1478 853h0M1478 857h0M1343 821h0M1862 789h0M1381 856h0M1603 855h0M1578 850h0M1521 854h0M1843 851h0M1550 848h0M1661 858h0M1341 794h0M1347 819h0M1358 862h0M1454 858h0M1351 867h0M1346 797h0M1671 855h0M1864 807h0M1864 751h0M1348 766h0M1865 759h0M1717 855h0M1358 874h0M1349 784h0M1865 826h0M1815 858h0M1866 797h0M1546 852h0M1359 862h0M1812 850h0M1336 765h0M1441 852h0M1349 779h0M1665 859h0M1502 867h0M1835 854h0M1640 851h0M1782 859h0M1867 768h0M1333 796h0M1602 851h0M1501 852h0M1344 793h0M1462 849h0M1807 855h0M1457 859h0M1537 856h0M1865 755h0M1618 850h0M1515 857h0M1481 862h0M1393 851h0M1416 854h0M1493 853h0M1704 861h0M1624 872h0M1645 855h0M1483 851h0M1829 865h0M1559 849h0M1861 782h0M1344 792h0M1343 841h0M1349 791h0M1815 852h0M1537 863h0M1611 852h0M1868 780h0M1838 855h0M1341 827h0M1528 867h0M1427 851h0M1413 857h0M1349 793h0M1709 856h0M1409 858h0M1379 853h0M1487 854h0M1335 816h0M1568 862h0M1797 849h0M1394 853h0M1764 849h0M1436 855h0M1550 860h0M1425 849h0M1353 863h0M1348 803h0M1498 851h0M1461 855h0M1603 848h0M1865 828h0M1413 853h0M1458 856h0M1756 856h0M1861 834h0M1560 857h0M1341 749h0M1462 867h0M1689 849h0M1346 781h0M1708 856h0M1730 858h0M1788 851h0M1350 824h0M1478 854h0M1639 854h0M1572 870h0M1581 849h0M1457 863h0M1665 859h0M1830 862h0M1411 857h0M1697 858h0M1466 852h0M1547 855h0M1574 850h0M1566 850h0M1347 855h0M1480 865h0M1340 845h0M1605 850h0M1653 855h0M1408 862h0M1381 855h0M1355 861h0M1399 857h0M1660 856h0M1650 858h0M1591 861h0M1668 858h0M1864 816h0M1426 854h0M1474 851h0M1337 861h0M1439 849h0M1343 805h0M1338 796h0M1796 868h0M1862 748h0M1557 861h0M1747 850h0M1790 858h0M1863 817h0M1862 826h0M1457 854h0M1443 870h0M1323 786h0M1745 865h0M1349 751h0M1383 864h0M1627 850h0M1746 862h0M1345 794h0M1519 850h0M1578 855h0M1516 856h0M1363 857h0M1337 836h0M1348 768h0M1871 823h0M1622 864h0M1349 796h0M1854 864h0M1720 858h0M1705 852h0M1432 854h0M1739 851h0M1351 855h0M1865 826h0M1870 793h0M1350 777h0M1863 774h0M1868 783h0M1658 853h0M1692 872h0M1573 855h0M1551 873h0M1434 869h0M1348 807h0M1870 778h0M1864 813h0M1760 849h0M1726 863h0M1862 773h0M1493 853h0M1449 851h0M1773 867h0M1704 849h0M1605 865h0M1812 850h0M1863 746h0M1329 802h0M1766 850h0M1848 853h0M1545 849h0M1840 854h0M1683 851h0M1656 848h0M1349 813h0M1760 854h0M1387 852h0M1679 861h0M1511 854h0M1342 770h0M1378 862h0M1724 853h0M1803 849h0M1743 850h0M1697 864h0M1490 866h0M1699 854h0M1862 854h0M1347 771h0M1347 751h0M1471 851h0M1418 849h0M1452 873h0M1673 851h0M1510 858h0M1863 843h0M1585 849h0M1330 868h0M1631 851h0M1524 850h0M1356 876h0M1864 778h0M1352 853h0M1660 849h0M1611 868h0M1383 861h0M1833 854h0M1867 819h0M1371 863h0M1665 859h0M1862 854h0M1862 799h0M1343 786h0M1340 847h0M1552 858h0M1864 778h0M1349 763h0M1642 850h0M1812 862h0M1821 866h0M1344 805h0M1607 858h0M1858 851h0M1868 775h0M1444 868h0M1528 865h0M1349 805h0M1815 848h0M1523 850h0M1629 856h0M1635 867h0M1562 848h0M1611 863h0M1396 858h0M1461 851h0M1330 819h0M1539 852h0M1811 850h0M1864 840h0M1472 849h0M1499 855h0M1342 792h0M1374 859h0M1543 854h0M1336 837h0M1823 865h0M1348 837h0M1337 784h0M1592 864h0M1793 858h0M1573 853h0M1344 835h0M1413 849h0M1404 863h0M1543 851h0M1483 859h0M1486 859h0M1547 850h0M1861 760h0M1465 849h0M1400 851h0M1342 786h0M1671 851h0M1679 849h0M1346 802h0M1710 853h0M1502 859h0M1471 867h0M1562 857h0M1411 852h0M1652 850h0M1536 860h0M1555 858h0M1763 861h0M1455 876h0M1792 852h0M1575 852h0M1808 858h0M1677 855h0M1846 853h0M1569 864h0M1861 789h0M1553 868h0M1780 850h0M1483 856h0M1836 856h0M1553 849h0M1785 854h0M1829 859h0M1562 850h0M1682 851h0M1579 862h0M1333 860h0M1708 862h0M1647 854h0M1334 781h0M1603 849h0M1823 849h0M1659 851h0M1626 863h0M1342 827h0M1777 854h0M1345 765h0M1807 858h0M1690 849h0M1697 860h0M1339 855h0M1347 835h0M1365 857h0M1446 859h0M1730 856h0M1360 852h0M1728 850h0M1354 861h0M1631 852h0M1338 849h0M1525 851h0M1732 857h0M1817 857h0M1688 854h0M1864 854h0M1864 775h0M1340 813h0M1775 854h0M1861 858h0M1567 857h0M1748 853h0M1640 857h0M1615 850h0M1675 859h0M1487 852h0M1760 866h0M1352 863h0M1337 858h0M1684 850h0M1343 822h0M1382 858h0M1441 858h0M1344 817h0M1596 848h0M1753 854h0M1337 805h0M1344 843h0M1654 852h0M1372 851h0M1862 845h0M1372 852h0M1590 873h0M1864 771h0M1703 854h0M1601 855h0M1334 764h0M1422 860h0M1767 863h0M1446 869h0M1854 864h0M1342 852h0M1338 776h0M1336 817h0M1378 854h0M1341 816h0M1402 860h0M1859 849h0M1407 855h0M1380 852h0M1396 867h0M1408 853h0M1826 852h0M1558 852h0M1860 756h0M1328 846h0M1572 875h0M1512 860h0M1339 792h0M1864 790h0M1581 851h0M1514 860h0M1493 863h0M1427 852h0M1622 863h0M1719 855h0M1733 863h0M1349 780h0M1341 823h0M1866 792h0M1386 850h0M1604 859h0M1593 854h0M1712 851h0M1864 792h0M1865 844h0M1687 852h0M1380 877h0M1871 823h0M1512 865h0M1696 864h0M1347 837h0M1487 853h0M1861 806h0M1348 768h0M1528 855h0M1338 771h0M1400 858h0M1797 852h0M1865 764h0M1854 850h0M1330 827h0M1574 857h0M1332 857h0M1488 860h0M1463 850h0M1821 854h0M1661 850h0M1341 834h0M1467 854h0M1632 848h0M1838 849h0M1860 864h0M1636 853h0M1557 852h0M1335 750h0M1442 853h0M1710 856h0M1749 849h0M1821 851h0M1344 827h0M1860 827h0M1528 849h0M1762 861h0M1617 851h0M1604 849h0M1803 851h0M1401 848h0M1621 875h0M1349 794h0M1580 864h0M1342 822h0M1741 849h0M1604 851h0M1528 851h0M1372 855h0M1488 865h0M1585 860h0M1813 856h0M1691 861h0M1861 805h0M1870 873h0M1868 843h0M1803 850h0M1496 851h0M1808 848h0M1385 853h0M1764 849h0M1627 856h0M1345 806h0M1805 858h0M1739 854h0M1856 851h0M1499 853h0M1342 764h0M1566 857h0M1527 866h0M1706 851h0M1728 853h0M1755 871h0M1826 875h0M1758 851h0M1350 853h0M1349 764h0M1332 799h0M1403 863h0M1689 852h0M1653 860h0M1856 854h0M1338 859h0M1344 850h0M1343 785h0M1855 866h0M1775 853h0M1632 863h0M1426 860h0M1376 851h0M1619 855h0M1561 853h0M1495 858h0M1474 851h0M1511 858h0M1738 862h0M1681 848h0M1557 852h0M1797 850h0M1345 805h0M1395 851h0M1370 856h0M1716 856h0M1864 754h0M1793 850h0M1502 861h0M1862 796h0M1828 862h0M1725 850h0M1812 853h0M1383 851h0M1341 851h0M1427 853h0M1868 787h0M1459 849h0M1663 856h0M1861 834h0M1481 851h0M1786 859h0M1505 857h0M1560 860h0M1443 863h0M1683 856h0M1611 868h0M1672 855h0M1828 848h0M1327 768h0M1519 858h0M1862 816h0M1360 851h0M1492 874h0M1641 867h0M1573 850h0M1642 854h0M1474 851h0M1749 865h0M1624 848h0M1563 857h0M1500 860h0M1341 828h0M1646 849h0M1370 868h0M1865 753h0M1489 856h0M1329 871h0M1514 855h0M1862 810h0M1622 867h0M1336 748h0M1459 849h0M1869 760h0M1868 818h0M1362 853h0M1578 866h0M1836 864h0M1715 854h0M1512 867h0M1362 856h0M1815 853h0M1432 849h0M1512 858h0M1342 825h0M1791 867h0M1494 855h0M1810 859h0M1421 862h0M1570 859h0M1810 859h0M1642 863h0M1436 857h0M1727 868h0M1653 856h0M1341 844h0M1520 857h0M1507 852h0M1641 855h0M1463 861h0M1495 857h0M1832 865h0M1705 849h0M1696 855h0M1869 859h0M1608 850h0M1397 857h0M1624 861h0M1495 870h0M1384 864h0M1388 856h0M1450 857h0M1348 802h0M1327 774h0M1471 848h0M1341 793h0M1418 862h0M1809 849h0M1335 775h0M1496 865h0M1816 866h0M1772 861h0M1546 854h0M1809 852h0M1856 856h0" stroke="#bf9a3b" stroke-width="2.5" stroke-linecap="round" fill="none"/>
<path d="M1312.9,608Q1601.2,601 1889.5,611Q1601.2,613 1312.9,608Z" fill="#9a9a9a" fill-opacity="0.55"/>
<path d="M1330,608.5C1450,605 1600,603 1700,607S1840,612 1889,611" fill="none" stroke="#3a3a3a" stroke-width="1.4"/>
<path d="M1312.9,666Q1601.2,659 1889.5,660Q1601.2,673 1312.9,666Z" fill="#9a9a9a" fill-opacity="0.55"/>
<path d="M1356.9,674.5C1450,669 1560,665 1662,665S1820,661 1889,661" fill="none" stroke="#3a3a3a" stroke-width="1.4"/>
<path d="M1312.9,741Q1601.2,735 1889.5,737Q1601.2,749 1312.9,741Z" fill="#9a9a9a" fill-opacity="0.55"/>
<path d="M1330,743C1420,748 1480,747 1578,745S1800,738 1889,736.5" fill="none" stroke="#3a3a3a" stroke-width="1.4"/>
<path d="M1273,489.6H1988M1269.7,847.7H1968M1691.9,470.7L1681.5,900" fill="none" stroke="#8c8c8c" stroke-width="1.9" stroke-dasharray="3.8,9"/>
<text x="1446.0" y="483.3" text-anchor="middle" fill="#7a7a7a">V1</text>
<text x="1796.7" y="482.2" text-anchor="middle" fill="#7a7a7a">HVA</text>
<text x="1947.0" y="497.5" fill="#6d6d6d">Pia</text>
<text x="1947.0" y="547.6" fill="#6d6d6d">L1 +</text>
<text x="1947.0" y="578.3" fill="#6d6d6d">L2/3</text>
<text x="1947.0" y="643.0" fill="#6d6d6d">L4</text>
<text x="1947.0" y="709.5" fill="#6d6d6d">L5</text>
<text x="1947.0" y="805.8" fill="#6d6d6d">L6</text>
<text x="1981.0" y="883.3" text-anchor="end" fill="#7a7a7a">White matter</text>
<text x="1290.3" y="551.6" text-anchor="middle" fill="#9a9a9a">222</text>
<text x="1290.3" y="573.3" text-anchor="middle" fill="#9a9a9a">± 6</text>
<text x="1290.3" y="640.4" text-anchor="middle" fill="#9a9a9a">118</text>
<text x="1290.3" y="661.3" text-anchor="middle" fill="#9a9a9a">± 6</text>
<text x="1290.3" y="705.3" text-anchor="middle" fill="#9a9a9a">153</text>
<text x="1290.3" y="726.2" text-anchor="middle" fill="#9a9a9a">± 4</text>
<text x="1290.3" y="795.3" text-anchor="middle" fill="#9a9a9a">201</text>
<text x="1290.3" y="816.3" text-anchor="middle" fill="#9a9a9a">± 9</text>
<text x="1901.0" y="551.5" text-anchor="middle" fill="#9a9a9a">233</text>
<text x="1901.0" y="574.1" text-anchor="middle" fill="#9a9a9a">± 8</text>
<text x="1901.0" y="631.9" text-anchor="middle" fill="#9a9a9a">97</text>
<text x="1901.0" y="654.2" text-anchor="middle" fill="#9a9a9a">± 6</text>
<text x="1901.0" y="699.0" text-anchor="middle" fill="#9a9a9a">153</text>
<text x="1901.0" y="720.8" text-anchor="middle" fill="#9a9a9a">± 6</text>
<text x="1901.0" y="795.3" text-anchor="middle" fill="#9a9a9a">210</text>
<text x="1901.0" y="816.3" text-anchor="middle" fill="#9a9a9a">± 6</text>
<text x="845.1" y="1065.7">2/3P</text>
<text x="1150.3" y="1065.7">4P</text>
<text x="1384.1" y="1066.1">5P-IT</text>
<text x="1676.7" y="1066.1">5P-ET</text>
<text x="845.1" y="1315.7">5P-NP</text>
<text x="1254.5" y="1315.7">6P-CT</text>
<text x="1502.6" y="1315.7">6P-IT</text>
<text x="788.0" y="1127.9">L2/3</text>
<text x="788.0" y="1169.9">L4</text>
<text x="788.0" y="1211.0">L5</text>
<text x="788.0" y="1253.5">L6</text>
<text x="788.0" y="1374.7">L2/3</text>
<text x="788.0" y="1416.4">L4</text>
<text x="788.0" y="1458.3">L5</text>
<text x="788.0" y="1500.0">L6</text>
<path d="M848.3,1085.6H932.5M848.3,1147.8H932.5M848.3,1178.4H932.5M848.3,1218.8H932.5M848.3,1274.1H932.5M935.7,1085.6H1019.3M935.7,1147.8H1019.3M935.7,1178.4H1019.3M935.7,1218.8H1019.3M935.7,1274.1H1019.3M1020.9,1085.6H1087.8M1020.9,1147.8H1087.8M1020.9,1178.4H1087.8M1020.9,1218.8H1087.8M1020.9,1274.1H1087.8" stroke="#8f8f8f" stroke-width="1.1" stroke-dasharray="1.1,2.1" fill="none"/>
<path d="M1151.9,1085.6H1207.0M1151.9,1147.8H1207.0M1151.9,1178.4H1207.0M1151.9,1218.8H1207.0M1151.9,1274.1H1207.0M1210.0,1085.6H1262.0M1210.0,1147.8H1262.0M1210.0,1178.4H1262.0M1210.0,1218.8H1262.0M1210.0,1274.1H1262.0M1265.0,1085.6H1321.7M1265.0,1147.8H1321.7M1265.0,1178.4H1321.7M1265.0,1218.8H1321.7M1265.0,1274.1H1321.7" stroke="#8f8f8f" stroke-width="1.1" stroke-dasharray="1.1,2.1" fill="none"/>
<path d="M1386.3,1085.6H1470.4M1386.3,1147.8H1470.4M1386.3,1178.4H1470.4M1386.3,1218.8H1470.4M1386.3,1274.1H1470.4M1475.0,1085.6H1541.0M1475.0,1147.8H1541.0M1475.0,1178.4H1541.0M1475.0,1218.8H1541.0M1475.0,1274.1H1541.0M1544.0,1085.6H1614.6M1544.0,1147.8H1614.6M1544.0,1178.4H1614.6M1544.0,1218.8H1614.6M1544.0,1274.1H1614.6" stroke="#8f8f8f" stroke-width="1.1" stroke-dasharray="1.1,2.1" fill="none"/>
<path d="M1677.4,1085.6H1752.0M1677.4,1147.8H1752.0M1677.4,1178.4H1752.0M1677.4,1218.8H1752.0M1677.4,1274.1H1752.0M1755.0,1085.6H1851.4M1755.0,1147.8H1851.4M1755.0,1178.4H1851.4M1755.0,1218.8H1851.4M1755.0,1274.1H1851.4M1857.7,1085.6H1934.5M1857.7,1147.8H1934.5M1857.7,1178.4H1934.5M1857.7,1218.8H1934.5M1857.7,1274.1H1934.5" stroke="#8f8f8f" stroke-width="1.1" stroke-dasharray="1.1,2.1" fill="none"/>
<path d="M849.5,1335.2H964.1M849.5,1396.8H964.1M849.5,1427.4H964.1M849.5,1467.8H964.1M849.5,1523.7H964.1M971.0,1335.2H1073.0M971.0,1396.8H1073.0M971.0,1427.4H1073.0M971.0,1467.8H1073.0M971.0,1523.7H1073.0M1078.7,1335.2H1196.7M1078.7,1396.8H1196.7M1078.7,1427.4H1196.7M1078.7,1467.8H1196.7M1078.7,1523.7H1196.7" stroke="#8f8f8f" stroke-width="1.1" stroke-dasharray="1.1,2.1" fill="none"/>
<path d="M1255.4,1335.2H1320.0M1255.4,1396.8H1320.0M1255.4,1427.4H1320.0M1255.4,1467.8H1320.0M1255.4,1523.7H1320.0M1323.0,1335.2H1380.0M1323.0,1396.8H1380.0M1323.0,1427.4H1380.0M1323.0,1467.8H1380.0M1323.0,1523.7H1380.0M1383.0,1335.2H1446.7M1383.0,1396.8H1446.7M1383.0,1427.4H1446.7M1383.0,1467.8H1446.7M1383.0,1523.7H1446.7" stroke="#8f8f8f" stroke-width="1.1" stroke-dasharray="1.1,2.1" fill="none"/>
<path d="M1503.9,1335.2H1584.0M1503.9,1396.8H1584.0M1503.9,1427.4H1584.0M1503.9,1467.8H1584.0M1503.9,1523.7H1584.0M1588.1,1335.2H1655.0M1588.1,1396.8H1655.0M1588.1,1427.4H1655.0M1588.1,1467.8H1655.0M1588.1,1523.7H1655.0M1659.8,1335.2H1809.7M1659.8,1396.8H1809.7M1659.8,1427.4H1809.7M1659.8,1467.8H1809.7M1659.8,1523.7H1809.7" stroke="#8f8f8f" stroke-width="1.1" stroke-dasharray="1.1,2.1" fill="none"/>
<path d="M876.7,1115.6l0.5,-2.4l0.5,-2.5l0.5,-2.5l0.4,-2.5M870.4,1092.7l1.0,-1.9l0.6,-2.1l1.1,-1.9M878.6,1105.8l-1.3,-1.8l-1.1,-1.9l-1.0,-2.0l-1.1,-1.9l-1.1,-1.9l-1.3,-1.8l-1.2,-1.8l-1.4,-1.7l-1.2,-1.9l-1.0,-1.9M873.1,1102.1l-2.0,-0.9l-2.0,-0.9l-2.1,-0.7l-2.0,-1.0l-2.0,-1.0l-1.8,-1.2l-1.9,-1.0l-1.8,-1.3l-1.6,-1.5M878.6,1105.8l-1.9,-1.1l-1.8,-1.3l-1.8,-1.3l-1.9,-1.2l-1.9,-1.1l-2.0,-0.8l-2.0,-0.8l-2.2,-0.4l-2.0,-0.9l-1.8,-1.3l-1.9,-1.1l-2.0,-1.0l-2.1,-0.6l-2.1,-0.5l-2.0,-1.0l-2.0,-0.8M878.6,1105.8l0.2,-2.2l0.3,-2.2l-0.1,-2.2l0.1,-2.2l0.5,-2.1l0.2,-2.2l0.1,-2.2l0.7,-2.1l0.4,-2.2M878.6,1105.8l-1.9,-1.1l-1.9,-1.2l-2.0,-0.8l-2.1,-0.7l-2.1,-0.5l-2.1,-0.8l-2.2,-0.3l-2.2,-0.1l-2.1,-0.5l-2.1,-0.7l-2.0,-0.9l-2.1,-0.6l-2.0,-0.9l-1.9,-1.1l-2.0,-0.9l-2.0,-0.9l-2.1,-0.8l-2.2,-0.4l-2.1,-0.6l-2.2,-0.4l-2.2,-0.4M881.2,1097.4l-0.9,-2.0l-0.2,-2.2l0,-2.2l0.1,-2.2l-0.4,-2.2M878.6,1105.8l0.4,-2.2l0.7,-2.1l0.5,-2.1l1.0,-1.9l0.4,-2.2l0.6,-2.1l0.7,-2.1l0.7,-2.1l0.5,-2.1M877.2,1113.2l1.4,-1.5l1.5,-1.3l0.9,-1.8l0.3,-2.0l-0.1,-2.0l-0.3,-2.0l-0.0,-2.0l-0.1,-2.0M877.7,1110.7l1.5,-1.3l1.3,-1.5l1.4,-1.5l1.6,-1.3l1.6,-1.2M877.2,1113.2l-2.0,-0.1l-1.9,-0.5l-1.9,-0.7l-2.0,-0.3l-2.0,0.0l-2.0,0.3" stroke="#b08a2a" stroke-width="1.3" fill="none" stroke-linejoin="round"/>
<path d="M856.8,1123.8l-1.7,-1.0M876.7,1115.6l-2.0,0.4l-2.0,0.2l-2.0,0.4l-1.9,0.5l-1.8,0.8l-1.8,0.8l-1.9,0.6l-1.7,1.1l-1.4,1.4l-1.8,0.8l-1.7,1.1M874.9,1114.7l-1.7,1.1l-1.4,1.4l-1.2,1.6l-1.2,1.6l-1.5,1.3M876.7,1115.6l-1.8,-0.9l-1.5,-1.3l-1.8,-0.8l-1.8,-0.9l-1.9,-0.6l-2.0,-0.3M862.6,1126.5l-0.8,1.8l-1.1,1.7l-1.5,1.4l-1.8,0.9M876.7,1115.6l-1.3,1.5l-1.3,1.5l-1.6,1.2l-1.5,1.3l-1.6,1.1l-1.8,0.9l-1.8,0.9l-1.5,1.3l-1.7,1.1l-1.2,1.6M876.6,1121.5l-1.1,1.7l-1.2,1.6l-1.5,1.3l-1.8,0.9l-1.6,1.2l-1.4,1.4M876.2,1119.6l0.5,1.9l0.6,1.9l0.5,1.9l0.7,1.9l0.7,1.9l0.2,2.0l0.1,2.0M875.5,1123.5l-1.2,1.6l-0.6,1.9l-0.3,2.0l-0.9,1.8l-1.0,1.7M874.0,1134.6l-0.1,2.0l-0.5,1.9l-0.4,2.0M876.3,1131.3l-1.2,1.6l-1.1,1.7M876.7,1115.6l-0.2,2.0l-0.3,2.0l-0.6,1.9l-0.1,2.0l-0.3,2.0l0.6,1.9l0,2.0l0.4,1.9l0.7,1.9M876.7,1115.6l-0.7,1.9l-1.0,1.7l-0.6,1.9l-0.3,2.0l0.1,2.0l-0.0,2.0M884.1,1108.1l-1.3,-1.5l-1.5,-1.3l-1.4,-1.4l-1.0,-1.8M884.1,1104.2l-1.2,-1.6l-1.1,-1.7M882.4,1113.8l0.9,-1.8l0.4,-2.0l0.4,-2.0l0.4,-2.0l-0.4,-2.0M876.7,1115.6l2.0,-0.4l1.8,-0.8l1.9,-0.5l2.0,0l2.0,-0.1l2.0,0.4l2.0,0.4l2.0,0.1M863.1,1115.9l-2.0,-0.1l-2.0,0.2M873.0,1117.0l-2.0,-0.2l-2.0,0.2l-2.0,-0.1l-2.0,-0.4l-1.9,-0.6M866.2,1121.2l-1.9,0.7l-1.9,0.7M876.7,1115.6l-1.9,0.6l-1.8,0.8l-1.8,0.9l-1.7,1.1l-1.6,1.2l-1.7,1.0l-1.7,1.0M889.6,1126.7l2.0,-0.4l2.0,-0.3l2.0,-0.2M885.7,1126.0l2.0,0.2l1.9,0.5M876.7,1115.6l1.5,1.3l1.7,1.1l1.5,1.3l1.0,1.8l1.1,1.6l1.1,1.7l1.1,1.7l0.9,1.8M876.7,1115.6l2.0,-0.2l2.0,0.3l1.9,-0.5l2.0,-0.1l1.7,-1.0l1.5,-1.4l1.7,-1.0l1.7,-1.1M876.7,1115.6l0,2.0l-0.8,1.8l-0.1,2.0l0.4,2.0l-0.1,2.0l0,2.0l0.7,1.9l0.2,2.0l0.5,1.9M876.7,1115.6l-2.0,-0.4l-1.9,-0.5l-1.7,-1.1l-1.8,-0.9l-1.8,-0.9l-1.9,-0.7M883.3,1120.0l1.9,-0.7l2.0,-0.4l2.0,0l1.9,-0.6l1.9,-0.5l1.8,-0.9l1.8,-1.0M895.0,1130.3l-0.7,1.9l-0.5,1.9l0.1,2.0M876.7,1115.6l1.4,1.4l1.8,0.9l1.6,1.2l1.8,0.9l1.7,1.0l1.5,1.3l1.8,0.9l1.7,1.0l1.5,1.4l1.5,1.3l0.8,1.8l1.3,1.5M876.7,1115.6l-0.5,1.9l-1.0,1.8l0.2,2.0l0,2.0l0,2.0l-0.5,1.9l-0.5,1.9l-0.4,2.0M867.2,1118.5l-1.9,-0.6l-1.9,-0.6l-1.8,-0.8M876.7,1115.6l-2.0,0.2l-1.9,0.7l-1.9,0.5l-1.8,0.9l-1.9,0.7l-1.9,0.7M866.3,1125.6l-1.4,1.4l-1.2,1.6l-1.3,1.5l-0.9,1.8l-1.1,1.7M876.7,1115.6l-2.0,0l-2.0,0.4l-1.7,1.1l-1.0,1.7l-0.5,1.9l-1.2,1.6l-1.5,1.4l-0.7,1.9l-0.6,1.9l-0.8,1.8l-0.7,1.9l-1.1,1.7M867.4,1122.9l-2.0,-0.3l-2.0,0.2l-2.0,0.3l-2.0,0.4l-2.0,0.3M864.3,1125.4l-1.7,-1.0l-1.9,-0.6l-1.9,-0.5l-2.0,-0.4M876.7,1115.6l-1.9,0.7l-1.6,1.2l-1.7,1.1l-1.6,1.2l-1.3,1.5l-1.3,1.5l-1.5,1.4l-1.6,1.2l-1.7,1.1l-1.6,1.2l-1.5,1.3l-1.4,1.4M885.0,1105.5l-0.4,-2.0l0.6,-1.9M880.5,1114.2l1.3,-1.5l1.1,-1.7l1.1,-1.7l0.3,-2.0l0.8,-1.8M883.2,1104.0l1.0,-1.7l0.5,-1.9M884.5,1109.9l-0.2,-2.0l-0.4,-2.0l-0.7,-1.9l-0.7,-1.9M885.3,1106.0l-1.7,-1.1l-1.6,-1.3l-1.9,-0.5M885.2,1108.0l0.1,-2.0l0,-2.0l-0.4,-2.0M876.7,1115.6l1.8,-0.8l1.9,-0.5l1.5,-1.3l1.2,-1.6l1.3,-1.5l0.7,-1.9l1.5,-1.4M869.7,1129.8l-1.8,0.8l-1.7,1.1M876.7,1115.6l-0.8,1.9l-0.7,1.9l-0.7,1.9l-1.0,1.7l-1.2,1.6l-1.2,1.6l-0.8,1.8l-0.6,1.9" stroke="#6a5217" stroke-width="1.5" fill="none" stroke-linejoin="round"/>
<circle cx="876.7" cy="1115.6" r="1.6" fill="#111"/>
<path d="M963.8,1124.8l0.3,-2.5l0.4,-2.5l0.5,-2.5l0.1,-2.5l0.3,-2.5M965.4,1112.4l-1.7,-1.4l-2.1,-0.7l-2.2,-0.2l-2.1,-0.7l-2.1,-0.6l-2.1,-0.6l-2.1,-0.6l-2.1,-0.8l-2.1,-0.8l-2.0,-0.9l-2.1,-0.7l-2.0,-0.9l-2.2,-0.3l-2.1,-0.5l-2.2,-0.3l-2.1,-0.5M1003.2,1097.1l1.2,-1.8l1.2,-1.9M988.0,1099.4l2.1,-0.7l2.2,-0.5l2.1,-0.5l2.2,-0.4l2.2,-0.3l2.2,0.2l2.2,-0.2l2.2,-0.1M1002.0,1088.8l0.6,-2.1M965.4,1112.4l1.9,-1.2l1.7,-1.3l2.0,-1.0l2.0,-0.9l2.1,-0.6l2.1,-0.7l2.0,-0.9l1.8,-1.2l1.6,-1.5l1.9,-1.1l1.8,-1.2l1.6,-1.5l1.5,-1.6l1.7,-1.4l1.9,-1.2l1.9,-1.1l1.8,-1.2l1.7,-1.4l1.7,-1.4l1.8,-1.3l1.7,-1.3l1.8,-1.3M965.4,1112.4l2.0,-1.0l1.9,-1.1l2.0,-0.9l2.0,-1.0l2.1,-0.7l2.2,-0.3l2.1,-0.5l2.1,-0.7l2.2,-0.4l2.0,-0.9l2.1,-0.7l2.0,-1.0l1.7,-1.3M961.8,1109.9l-1.0,-2.0l-0.9,-2.0l-1.1,-1.9l-0.8,-2.1l-0.7,-2.1l-0.9,-2.0l-0.4,-2.2l-0.3,-2.2M965.4,1112.4l-1.9,-1.1l-1.7,-1.3l-1.5,-1.6l-1.4,-1.7l-1.9,-1.2l-1.8,-1.3l-2.0,-0.9l-2.1,-0.8l-2.0,-0.9l-2.1,-0.6l-1.8,-1.2l-1.8,-1.3l-1.2,-1.9M965.1,1092.8l-1.4,-1.7l-0.6,-2.1l-0.9,-2.0M965.4,1112.4l-0.6,-2.1l-0.3,-2.2l-0.0,-2.2l0.1,-2.2l0,-2.2l0.2,-2.2l0.2,-2.2l0.1,-2.2l0,-2.2l-0.1,-2.2l-0.3,-2.2l-0.3,-2.2M964.1,1122.3l-1.8,-0.9l-1.8,-0.9l-1.8,-0.9l-1.6,-1.1M964.5,1119.9l-1.5,-1.3l-1.7,-1.0l-1.6,-1.2l-1.7,-1.1l-1.5,-1.4l-1.8,-0.9l-1.9,-0.7l-1.6,-1.2M964.1,1122.3l0.5,-1.9l0.5,-1.9l0.5,-1.9l0.9,-1.8" stroke="#b08a2a" stroke-width="1.3" fill="none" stroke-linejoin="round"/>
<path d="M955.9,1126.1l-1.8,0.9l-1.9,0.7l-1.8,0.9M963.8,1124.8l-1.9,0.5l-2.0,0.4l-2.0,0.2l-2.0,0.2l-1.9,0.6l-1.5,1.3l-1.8,0.9M963.8,1124.8l-1.0,1.7l-1.3,1.5l-1.4,1.5l-1.5,1.3l-1.8,0.8l-1.8,0.8M957.9,1123.9l-1.7,1.1l-1.8,0.9l-1.4,1.4l-1.5,1.3M956.2,1122.9l-1.1,-1.7l-0.9,-1.8l-0.5,-1.9M963.8,1124.8l-2.0,-0.4l-2.0,-0.3l-2.0,-0.2l-1.7,-1.1l-1.5,-1.3l-1.6,-1.2M956.0,1123.4l-1.6,1.2l-0.7,1.9l-1.1,1.6l-1.3,1.5M963.8,1124.8l-2.0,-0.2l-1.9,-0.6l-1.9,-0.7l-2.0,0.1l-2.0,0l-2.0,0.3l-1.9,0.5l-1.9,0.5l-2.0,0.2l-1.9,0.5M963.8,1124.8l1.8,0.8l1.9,0.5l1.8,0.8l2.0,0.4l2.0,0.1l2.0,0.1l1.9,0.5M956.5,1123.8l-2.0,0.3l-2.0,-0.1l-2.0,0.3l-2.0,0.0l-1.8,-0.9M958.1,1125.0l-1.6,-1.2l-1.3,-1.5l-0.6,-1.9l-0.2,-2.0l-0.8,-1.8M954.2,1124.7l-1.5,1.4l-1.8,0.9l-1.7,1.1M962.0,1125.6l-1.9,-0.7l-2.0,0.1l-2.0,0.0l-2.0,-0.4l-1.8,-0.8l-1.9,-0.6M948.4,1133.7l-2.0,-0.1l-1.8,-0.8M953.2,1130.2l-1.4,1.5l-1.8,0.8l-1.6,1.2M963.8,1124.8l-1.8,0.8l-1.7,1.1l-1.9,0.7l-2.0,0.4l-1.7,1.1l-1.6,1.2l-1.2,1.6l-1.2,1.6M986.3,1131.0l0.9,1.8l0.9,1.8M963.8,1124.8l1.7,1.0l1.9,0.8l1.7,1.1l1.7,1.1l1.7,1.0l1.9,0.6l1.9,0.7l2.0,0.0l2.0,0l2.0,0.0l2.0,-0.1l2.0,-0.1M956.1,1136.2l1.1,1.7l1.6,1.3l1.4,1.4l1.0,1.7M963.8,1124.8l-1.4,1.5l-1.4,1.4l-1.4,1.4l-1.2,1.6l-1.0,1.7l-0.8,1.8l-0.4,1.9l-0.9,1.8l-0.8,1.8l-1.6,1.2M953.8,1142.0l-0.2,2.0l0.2,2.0M953.0,1143.8l-1.8,0.9l-1.9,0.7M963.8,1124.8l-1.0,1.7l-1.4,1.4l-1.0,1.7l-1.1,1.7l-1.0,1.7l-1.1,1.7l-0.7,1.9l-0.8,1.8l-0.8,1.8l-1.1,1.7l-0.8,1.8M969.6,1123.5l0.9,-1.8l0.9,-1.8l1.0,-1.7l1.4,-1.4l0.8,-1.8l0.8,-1.9M963.8,1124.8l1.9,-0.5l1.9,-0.5l2.0,-0.3l1.9,-0.5l1.9,-0.5l1.9,-0.5l2.0,-0.4l1.9,-0.6l1.5,-1.4l1.4,-1.4l1.5,-1.4M942.4,1121.9l-1.2,1.6l-1.7,1.1M946.4,1121.5l-2.0,0.0l-2.0,0.4l-1.7,1.0M942.4,1117.6l1.1,-1.7l1.8,-0.9l1.6,-1.2M941.6,1115.7l-1.3,-1.5l-0.8,-1.8M942.9,1119.5l-0.6,-1.9l-0.7,-1.9M963.8,1124.8l-2.0,0.3l-2.0,-0.2l-1.8,-0.8l-1.9,-0.7l-2.0,-0.2l-2.0,-0.3l-2.0,-0.1l-2.0,-0.4l-1.8,-0.8l-1.8,-0.9l-1.7,-1.1M961.9,1124.1l-0.7,-1.9l-1.3,-1.5l-1.4,-1.4l-1.7,-1.1l-1.8,-0.9l-1.4,-1.4l-1.5,-1.3M951.3,1121.7l-2.0,0.2l-2.0,0.4l-1.9,0.7l-1.9,0.5M952.7,1120.4l-1.5,1.4l-0.9,1.8l-0.7,1.9l-0.7,1.9l-0.5,1.9M963.8,1124.8l-1.9,-0.7l-1.8,-0.8l-1.7,-1.0l-1.8,-0.9l-1.9,-0.7l-2.0,-0.3l-1.9,-0.6l-1.7,-1.0l-1.6,-1.3l-1.5,-1.3l-1.5,-1.4M961.7,1122.1l1.0,-1.7l0.7,-1.9l0.5,-1.9l0.7,-1.9l0.6,-1.9M957.2,1115.9l-0.3,-2.0l0.1,-2.0M961.9,1124.1l-0.3,-2.0l-0.3,-2.0l-1.2,-1.6l-1.5,-1.3l-1.5,-1.3M963.8,1124.8l-1.9,-0.7l-2.0,-0.4l-2.0,0.2l-2.0,0.4l-2.0,0.3l-2.0,0.0l-2.0,0.1M971.5,1131.2l1.8,-0.9l1.9,-0.6l2.0,0M963.8,1124.8l1.6,1.2l1.4,1.4l1.5,1.3l1.7,1.1l1.5,1.3l1.6,1.2l1.2,1.6M949.4,1137.7l-1.1,1.7l-0.9,1.8l-0.6,1.9M963.8,1124.8l-1.2,1.6l-1.3,1.5l-1.7,1.0l-0.9,1.8l-1.1,1.7l-1.5,1.3l-1.7,1.1l-1.7,1.1l-1.9,0.5l-1.5,1.3M961.5,1128.1l0.5,1.9l0.6,1.9l-0.2,2.0l0.3,2.0l0,2.0l0.3,2.0l0.5,1.9l0.5,1.9M955.1,1137.9l-1.9,0.8l-1.8,0.9l-1.7,1.1M960.1,1129.5l-1.6,1.2l-0.9,1.8l-0.5,1.9l-1.0,1.7l-1.0,1.7l-0.9,1.8l-0.8,1.8M950.2,1136.1l-0.9,1.8l-0.7,1.9M963.8,1124.8l-1.1,1.6l-1.1,1.6l-1.4,1.4l-1.7,1.1l-1.5,1.4l-1.6,1.2l-1.6,1.2l-1.7,1.0l-1.8,0.8l-2.0,0.4l-2.0,-0.2M963.8,1124.8l-2.0,-0.3l-1.8,-0.8l-1.9,-0.7l-2.0,0.2l-1.9,0.7l-1.8,0.8l-2.0,0.3M978.0,1128.8l2.0,-0.3l1.9,-0.5M966.5,1127.6l1.9,0.5l2.0,0.4l2.0,0.2l1.8,-0.9l2.0,0.0l1.8,0.9M974.6,1132.3l1.3,1.5l1.2,1.6l1.2,1.6l0.8,1.8M967.5,1129.4l1.3,1.5l1.8,0.8l1.9,0.5l2.0,0.1l2.0,-0.2l2.0,-0.3M965.5,1125.9l1.0,1.7l1.0,1.7l0.6,1.9l0.5,1.9l0.9,1.8l1.4,1.5l1.2,1.6l0.9,1.8M969.3,1130.5l2.0,0.4l1.9,0.5l2.0,0.2l2.0,0.3l1.9,0.6l2.0,0.3l2.0,0.2M963.8,1124.8l1.7,1.1l1.2,1.6l1.3,1.5l1.4,1.4l1.3,1.5l1.2,1.6l1.8,0.9l1.7,1.0l1.9,0.7l1.8,0.8l1.9,0.6" stroke="#6a5217" stroke-width="1.5" fill="none" stroke-linejoin="round"/>
<circle cx="963.8" cy="1124.8" r="1.6" fill="#111"/>
<path d="M1050.9,1137.0l-0.2,-2.5l-0.2,-2.5l-0.1,-2.5l-0.1,-2.5l-0.3,-2.5l0.3,-2.5l0.3,-2.5M1037.8,1101.9l-2.2,-0.2l-2.2,-0.3l-2.1,-0.8l-2.0,-0.8M1050.5,1119.6l-1.0,-2.0l-1.0,-2.0l-0.9,-2.0l-1.0,-2.0l-1.5,-1.6l-1.7,-1.4l-1.3,-1.7l-1.5,-1.6l-1.4,-1.7l-1.4,-1.7l-1.2,-1.9l-1.1,-1.9l-0.9,-2.0l-0.9,-2.0l-0.5,-2.1M1022.5,1124.2l-2.2,0l-2.2,-0.1l-2.2,-0.2M1029.2,1118.4l-1.5,1.6l-1.7,1.4l-1.8,1.3l-1.7,1.4l-1.6,1.5l-1.8,1.3l-1.8,1.3M1020.4,1118.0l-1.8,-1.2l-1.7,-1.4l-1.5,-1.6l-1.8,-1.2M1050.5,1119.6l-2.2,-0.3l-2.2,-0.5l-2.0,-1.0l-2.1,-0.7l-2.1,-0.5l-2.2,0.2l-2.1,0.6l-2.2,0.3l-2.1,0.7l-2.2,0.1l-2.2,0.0l-2.2,-0.1l-2.2,0l-2.2,-0.4l-2.1,-0.5l-2.2,-0.4l-2.0,-0.9l-2.0,-0.9l-2.1,-0.8M1032.6,1103.5l-2.2,0.4l-2.2,0.3l-2.2,0.2l-2.2,0l-2.1,0.7l-2.1,0.7l-2.1,0.6l-2.0,0.9M1018.1,1090.5l-2.1,-0.5l-2.0,-0.8l-2.0,-1.0M1050.5,1119.6l-1.8,-1.2l-1.5,-1.6l-1.7,-1.4l-1.4,-1.7l-1.4,-1.7l-1.5,-1.6l-1.7,-1.4l-1.6,-1.5l-1.6,-1.5l-1.7,-1.4l-1.9,-1.2l-2.0,-1.0l-1.9,-1.1l-1.8,-1.2l-1.9,-1.1l-1.7,-1.4l-1.5,-1.6l-1.3,-1.8l-1.2,-1.8l-1.3,-1.8l-1.6,-1.5l-1.5,-1.6l-1.6,-1.5M1046.6,1104.9l0.9,-2.0l0.9,-2.0l0.9,-2.0l0.8,-2.0l1.1,-1.9l1.2,-1.8M1050.5,1119.6l-1.1,-1.9l-0.8,-2.1l-0.6,-2.1l-0.2,-2.2l-0.7,-2.1l0,-2.2l-0.5,-2.1l-0.8,-2.0l-0.5,-2.1l-0.7,-2.1l-0.9,-2.0l-0.7,-2.1l-0.7,-2.1l-0.4,-2.2l-0.3,-2.2M1052.6,1115.7l-0.4,-2.2l0.2,-2.2l0.3,-2.2l0.3,-2.2l0.5,-2.1l-0.4,-2.2l-0.5,-2.1l-0.2,-2.2l0.4,-2.2l0.3,-2.2l-0.3,-2.2l-0.2,-2.2M1068.8,1094.9l2.2,-0.3l2.2,0l2.2,-0.2l2.2,-0.1l2.2,-0.3l2.2,-0.5M1050.5,1119.6l0.9,-2.0l1.2,-1.9l1.3,-1.8l1.4,-1.7l1.5,-1.6l1.3,-1.8l1.0,-2.0l1.5,-1.6l1.5,-1.6l1.5,-1.6l1.2,-1.9l1.4,-1.7l1.3,-1.8l1.4,-1.7l1.6,-1.5l1.2,-1.9l1.2,-1.8l1.0,-2.0l1.0,-1.9M1050.7,1134.5l-1.3,-1.6l-1.1,-1.7l-0.7,-1.9l-0.8,-1.8l-1.0,-1.7l-1.2,-1.6l-0.8,-1.8l-0.3,-2.0M1050.4,1132.0l1.9,-0.8l1.8,-0.9l1.7,-1.1l1.7,-1.0l1.7,-1.0l1.3,-1.5l1.5,-1.4l1.7,-1.1l1.6,-1.3M1050.3,1127.0l-1.0,-1.7l-0.4,-1.9l-0.8,-1.8l-1.3,-1.5" stroke="#b08a2a" stroke-width="1.3" fill="none" stroke-linejoin="round"/>
<path d="M1047.4,1154.4l0.1,2.0M1050.9,1137.0l-0.5,1.9l-0.4,2.0l0,2.0l0.1,2.0l-0.2,2.0l-0.3,2.0l-0.4,2.0l-0.9,1.8l-0.8,1.8M1038.7,1154.3l-1.9,-0.6l-1.6,-1.3l-1.3,-1.5M1042.7,1149.9l-1.3,1.5l-1.4,1.5l-1.4,1.4M1050.9,1137.0l-0.5,1.9l-0.6,1.9l-0.9,1.8l-0.6,1.9l-0.8,1.8l-1.3,1.5l-1.7,1.1l-1.8,0.9l-1.3,1.5M1050.9,1137.0l-1.9,-0.5l-1.7,-1.0l-1.7,-1.1l-1.8,-0.9l-1.9,-0.7l-2.0,-0.4l-2.0,-0.4l-1.8,-1.0l-2.0,0.0l-2.0,-0.1l-2.0,0.4M1042.3,1151.8l1.4,1.4l1.7,1.1l1.8,0.8l1.5,1.4l1.5,1.3M1043.0,1146.0l-0.5,1.9l0.3,2.0l-0.5,1.9l-0.7,1.9l-0.2,2.0l-0.0,2.0M1050.9,1137.0l-1.5,1.3l-1.4,1.4l-1.2,1.6l-1.2,1.6l-1.2,1.6l-1.3,1.5l-1.7,1.0l-1.8,0.9l-1.7,1.1l-1.0,1.7l-0.7,1.9M1049.4,1134.0l-0.4,-2.0l-0.5,-1.9l-0.4,-2.0l0.1,-2.0M1049.2,1136.0l0.2,-2.0l0.8,-1.9l0.9,-1.8l0.5,-1.9M1050.9,1137.0l-1.7,-1.0l-1.7,-1.0l-1.6,-1.1l-1.6,-1.2l-1.7,-1.0l-1.5,-1.3M1050.9,1137.0l-1.8,-0.9l-1.4,-1.4l-1.4,-1.4l-1.3,-1.5l-1.6,-1.2l-1.5,-1.3M1041.4,1127.5l-1.6,1.1l-1.7,1.0l-1.4,1.4l-1.5,1.3l-1.4,1.4M1044.7,1129.7l-1.6,-1.3l-1.8,-0.9l-1.9,-0.5l-2.0,-0.4l-1.9,-0.7M1044.6,1125.7l-1.4,-1.4l-1.2,-1.6l-1.5,-1.4l-1.5,-1.3l-1.6,-1.2M1050.9,1137.0l-1.9,-0.7l-1.4,-1.4l-1.1,-1.7l-1.1,-1.6l-0.6,-1.9l-0.0,-2.0l-0.1,-2.0l0.4,-2.0l0.2,-2.0l0.4,-2.0l0.1,-2.0M1067.6,1140.6l2.0,0.0l1.9,0.7l2.0,0.3l1.9,-0.5M1050.9,1137.0l1.8,-0.8l2.0,-0.4l2.0,0.4l1.6,1.2l1.8,0.9l1.8,0.9l2.0,0.2l1.8,0.8l1.9,0.5l2.0,0.4l2.0,0.2M1050.9,1137.0l-1.6,1.2l-1.8,0.9l-1.5,1.3l-1.6,1.1l-1.7,1.0l-1.6,1.2l-1.2,1.6l-0.9,1.8l-1.2,1.6l-1.0,1.7l-0.6,1.9l-1.2,1.6M1038.8,1156.6l0.9,1.8l0.9,1.8l0.7,1.9M1039.4,1154.7l-0.6,1.9M1045.8,1149.9l-1.7,1.0l-1.7,1.1l-1.5,1.3l-1.4,1.4M1042.4,1157.1l1.1,1.7l0.8,1.8M1050.9,1137.0l-0.8,1.8l-0.9,1.8l-0.4,2.0l-0.3,2.0l-1.1,1.7l-0.9,1.8l-0.7,1.9l-0.6,1.9l-1.0,1.7l-1.0,1.7l-0.8,1.8M1049.3,1135.8l-0.7,-1.9l-0.6,-1.9l-1.0,-1.7l-1.8,-0.9l-2.0,-0.4l-1.9,-0.6l-1.9,-0.7M1035.7,1128.9l-1.9,0.7l-1.9,0.6l-1.6,1.2M1050.9,1137.0l-1.6,-1.2l-0.8,-1.8l-1.4,-1.4l-1.8,-0.9l-1.9,-0.7l-1.8,-0.8l-2.0,-0.3l-1.9,-0.7l-2.0,-0.3l-2.0,0M1054.5,1135.3l1.5,1.3l1.5,1.3l1.4,1.4l1.5,1.3l1.3,1.5M1050.9,1137.0l1.9,-0.7l1.7,-1.0l1.8,-0.9l1.3,-1.5l1.7,-1.1l1.5,-1.4l2.0,-0.3M1060.4,1154.1l-0.5,1.9l-0.7,1.9l-0.5,1.9l-0.1,2.0M1050.9,1137.0l1.1,1.7l0.5,1.9l0.4,2.0l0.4,2.0l0.8,1.9l1.0,1.7l1.2,1.6l1.4,1.4l1.5,1.4l1.2,1.6l1.3,1.5M1050.9,1137.0l1.7,-1.1l1.9,-0.5l1.8,-0.9l1.7,-1.0l1.0,-1.7l0.5,-1.9l0.7,-1.9l1.2,-1.6l1.7,-1.1M1054.9,1146.1l-0.1,2.0l-1.1,1.7l-1.0,1.7l-1.1,1.7l-1.3,1.6l-0.8,1.8M1050.9,1137.0l0.9,1.8l1.0,1.7l0.6,1.9l0.8,1.8l0.7,1.9l1.1,1.7l1.2,1.6l0.7,1.9l0.6,1.9l-0.1,2.0l-0.0,2.0l-0.6,1.9M1050.9,1137.0l-0.9,1.8l-1.1,1.7l-0.7,1.9l-0.9,1.8l-1.2,1.6l-1.0,1.7M1058.4,1135.8l1.6,-1.2l1.7,-1.1l1.7,-1.1l1.4,-1.4l1.0,-1.7M1066.1,1138.2l1.9,-0.7l1.7,-1.0M1056.6,1135.1l1.9,0.7l1.8,0.8l1.9,0.6l1.9,0.5l1.9,0.5l1.9,0.5M1058.3,1134.1l2.0,0.2l1.9,0.6l1.9,0.5l2.0,0.2l2.0,-0.2M1064.1,1123.7l1.8,-0.8l1.7,-1.1l1.7,-1.0M1050.9,1137.0l2.0,-0.3l1.9,-0.7l1.8,-0.9l1.7,-1.0l1.3,-1.5l0.6,-1.9l1.0,-1.7l1.0,-1.7l1.0,-1.7l0.9,-1.8M1050.9,1137.0l1.9,-0.7l1.9,-0.7l1.8,-0.9l1.7,-1.0l2.0,-0.4l1.9,-0.5" stroke="#6a5217" stroke-width="1.5" fill="none" stroke-linejoin="round"/>
<circle cx="1050.9" cy="1137.0" r="1.6" fill="#111"/>
<path d="M1178.1,1153.5l-0.1,-2.5l-0.2,-2.5l-0.2,-2.5l0,-2.5l0.1,-2.5l-0.0,-2.5l0.4,-2.5l0.2,-2.5l0.1,-2.5l0.1,-2.5l0.2,-2.5l0,-2.5l-0.3,-2.5l-0.2,-2.5l-0.0,-2.5l-0.0,-2.5l0.1,-2.5l-0.1,-2.5l0,-2.5l-0.1,-2.5l0.1,-2.5l0.3,-2.5l-0.1,-2.5M1176.9,1092.0l0.6,-2.1l0.5,-2.1M1178.4,1096.1l-0.8,-2.1l-0.8,-2.1l-0.8,-2.1l-0.6,-2.1M1178.4,1096.1l-1.2,-1.8l-1.1,-1.9l-1.1,-1.9l-1.8,-1.3l-1.6,-1.5l-1.7,-1.3M1178.4,1096.1l-1.0,-1.9l-1.2,-1.9l-1.1,-1.9l-1.2,-1.8l-0.8,-2.0M1178.5,1128.6l-1.9,-0.5l-2.0,-0.2l-2.0,-0.3l-1.9,-0.7l-1.9,-0.7" stroke="#3b6a92" stroke-width="1.3" fill="none" stroke-linejoin="round"/>
<path d="M1175.6,1174.6l2.0,-0.1l2.0,0.2l1.9,0.5l1.7,1.1l1.8,0.9l1.7,1.1l1.6,1.2M1175.8,1180.2l0.1,2.0l0.1,2.0l-0.0,2.0l-0.4,2.0l-0.5,1.9M1178.1,1153.5l-0.6,1.9l-0.9,1.8l-0.1,2.0l-0.6,1.9l-0.7,1.9l-0.5,1.9l-0.6,1.9l0.2,2.0l0.2,2.0l0.4,2.0l0.8,1.8l0.6,1.9l0.5,1.9l-0.9,1.8l-0.5,1.9l-0.6,1.9l-0.5,1.9l-0.2,2.0M1180.1,1153.1l1.6,1.2l1.3,1.5l1.4,1.4l1.2,1.6l1.5,1.3l1.5,1.4M1178.1,1153.5l2.0,-0.4l1.4,-1.4l1.7,-1.1l1.4,-1.4l1.8,-0.9l1.5,-1.3l1.5,-1.4l1.2,-1.6l1.2,-1.6M1178.1,1153.5l1.8,0.8l1.8,0.9l1.6,1.2l1.8,0.8l1.7,1.0l1.3,1.5l1.4,1.4l0.9,1.8l0.8,1.8l1.3,1.5l0.3,2.0l0.1,2.0M1178.1,1153.5l1.8,1.0l1.8,0.9l1.9,0.5l1.9,-0.5l2.0,-0.2l2.0,0l2.0,0.0l2.0,-0.2l2.0,0.3l2.0,0.1l1.9,0.7M1162.9,1162.9l-2.0,0.3l-2.0,0.4l-2.0,0.1M1178.1,1153.5l-1.8,0.9l-1.7,1.1l-1.7,1.0l-1.8,0.8l-1.8,0.9l-1.6,1.2l-1.8,0.9l-1.7,1.0l-1.3,1.5M1176.9,1155.1l-1.9,0.7l-1.9,0.7l-1.7,1.0l-1.9,0.6l-2.0,-0.3l-2.0,0.1l-2.0,-0.1l-1.7,-1.1l-1.9,-0.5l-1.9,-0.5M1168.9,1170.6l0.9,1.8l1.0,1.8l1.2,1.6M1165.6,1175.6l0.4,2.0l0.1,2.0M1163.9,1176.7l-0.8,1.8M1178.1,1153.5l-1.2,1.6l-1.2,1.6l-1.3,1.5l-1.4,1.4l-1.3,1.5l-0.9,1.8l-0.8,1.8l-0.1,2.0l-0.5,1.9l-0.5,1.9l-1.0,1.7l-1.3,1.5l-0.9,1.8l-1.7,1.0M1152.0,1162.5l-0.9,1.8l-0.7,1.9l-1.3,1.6l-1.4,1.4l-1.5,1.3M1178.1,1153.5l-1.7,1.1l-1.6,1.2l-1.7,1.0l-1.9,0.5l-1.9,0.5l-2.0,0.3l-2.0,0.2l-1.9,0.6l-1.9,0.6l-1.7,1.0l-1.9,0.6l-2.0,0.3l-2.0,0.3l-1.8,0.8l-1.8,0.8l-2.0,0.3l-2.0,-0.1M1177.2,1155.3l0.8,1.8l0.6,1.9l0.6,1.9l-0.1,2.0l-0.5,1.9l-0.4,2.0l-0.4,2.0M1178.1,1153.5l-0.9,1.8l-0.6,1.9l-1.0,1.7l-1.0,1.7l-1.0,1.7l-0.4,2.0l0.2,2.0l-0.0,2.0l-0.3,2.0l0.1,2.0M1172.7,1176.5l1.2,1.6l1.1,1.7l0.2,2.0l0.2,2.0M1175.8,1163.0l0.1,2.0l-0.4,2.0l-0.3,2.0l-0.2,2.0l-0.9,1.8l-0.8,1.8l-0.7,1.9l-1.1,1.7M1178.1,1153.5l-0.9,1.8l-0.3,2.0l0.1,2.0l-0.7,1.9l-0.6,1.9l0.2,2.0l-0.2,2.0l-0.2,2.0l-0.1,2.0l0.5,1.9l1.1,1.6l0.2,2.0l-0.2,2.0l-0.2,2.0l-0.3,2.0M1178.1,1153.5l-1.3,1.5l-1.6,1.1l-1.6,1.2l-1.4,1.5l-1.6,1.2l-1.3,1.5l-0.3,2.0l-0.6,1.9l-0.1,2.0l0.4,2.0M1188.2,1162.9l0.8,1.8l0.7,1.9l0.9,1.8M1178.1,1153.5l1.0,1.7l1.6,1.2l1.5,1.3l1.7,1.0l1.6,1.2l1.0,1.7l1.6,1.2l1.6,1.2l1.7,1.0" stroke="#1f3a52" stroke-width="1.5" fill="none" stroke-linejoin="round"/>
<circle cx="1178.1" cy="1153.5" r="1.6" fill="#111"/>
<path d="M1230.8,1165.2l-0.0,-2.5l-0.2,-2.5l-0.2,-2.5l-0.1,-2.5l0.1,-2.5l0,-2.5l-0.3,-2.5l-0.1,-2.5l-0.2,-2.5l-0.1,-2.5l0.2,-2.5l0.6,-2.4l0.5,-2.4l0.5,-2.4l0.1,-2.5l0.3,-2.5l-0.0,-2.5l0,-2.5l0.1,-2.5l0,-2.5l-0.3,-2.5l-0.1,-2.5l0.1,-2.5l-0.3,-2.5l-0.2,-2.5l0.2,-2.5M1231.5,1100.5l0.3,-2.2l0.5,-2.1l0.1,-2.2l0.1,-2.2l-0.2,-2.2l-0.1,-2.2M1231.5,1100.5l0.5,-2.1l0.6,-2.1l1.1,-1.9l0.8,-2.1l0.5,-2.1M1232.2,1091.9l0.8,-2.1l1.0,-2.0M1231.5,1100.5l0.3,-2.2l0.6,-2.1l0.2,-2.2l-0.4,-2.2l-0.1,-2.2l-0.1,-2.2M1230.0,1145.2l1.9,-0.6l2.0,-0.4l2.0,-0.3l2.0,0.1" stroke="#3b6a92" stroke-width="1.3" fill="none" stroke-linejoin="round"/>
<path d="M1255.6,1150.3l1.5,1.3l1.5,1.4l1.9,0.5l2.0,0.2M1230.8,1165.2l1.6,-1.1l1.6,-1.2l1.6,-1.2l1.5,-1.3l1.4,-1.5l1.6,-1.2l1.4,-1.4l1.8,-0.9l1.3,-1.5l1.5,-1.3l1.7,-1.1l2.0,-0.4l1.9,-0.6l2.0,-0.2l2.0,0.1l1.9,0.5l2.0,0.1l2.0,0.2M1236.7,1173.0l1.7,1.1l1.6,1.2l1.9,0.7l2.0,0.2l1.9,0.6l2.0,0.1M1230.8,1165.2l1.6,1.2l1.4,1.4l1.0,1.7l1.1,1.7l0.7,1.9l0.9,1.8l0.8,1.8l1.1,1.7l0.2,2.0l0.6,1.9l-0.1,2.0l-0.3,2.0l0,2.0M1230.8,1165.2l-0.9,1.8l-0.7,1.9l-1.1,1.7l-1.2,1.6l-1.0,1.7l-0.3,2.0l-0.4,2.0l-0.6,1.9l-0.5,1.9l-0.0,2.0l-0.0,2.0l-0.4,2.0l-0.4,2.0l-0.7,1.9l-1.4,1.5l-0.8,1.8l-0.2,2.0M1230.8,1165.2l0.4,2.0l0.8,1.8l0.4,2.0l0.3,2.0l1.1,1.7l1.0,1.7l0.4,2.0l0.5,1.9l1.0,1.7l1.1,1.7l1.2,1.6l1.0,1.7l0.9,1.8l0.2,2.0M1234.8,1165.7l1.8,0.9l2.0,0.4l2.0,0.4l1.9,0.6l1.8,0.9l1.9,0.6l2.0,0.3l1.9,0.5M1247.7,1170.1l1.5,1.3l1.4,1.5l1.2,1.6M1230.8,1165.2l2.0,0.3l2.0,0.2l2.0,0.3l1.9,0.6l1.6,1.2l1.6,1.2l1.8,0.8l2.0,0.4l2.0,0l2.0,0.1l2.0,0.3M1230.8,1165.2l1.1,1.7l1.3,1.5l1.3,1.5l0.9,1.8l1.0,1.7l1.1,1.7l0.9,1.8l1.0,1.7l1.3,1.5l1.6,1.2l1.8,0.9l1.6,1.3l1.5,1.4l1.6,1.2M1201.7,1166.7l-1.9,0.6l-2.0,0.2l-2.0,0.3l-1.9,-0.5M1230.8,1165.2l-2.0,0.4l-2.0,0.1l-2.0,0.2l-1.9,-0.5l-2.0,-0.4l-2.0,0.1l-2.0,0.4l-1.8,0.9l-1.9,0.5l-1.9,0.5l-2.0,-0.3l-1.9,0.6l-2.0,0.1l-2.0,-0.2l-1.8,-0.9l-2.0,-0.1l-2.0,-0.2M1260.0,1162.8l1.8,0.9l1.9,0.7M1230.8,1165.2l2.0,-0.4l2.0,0l2.0,-0.4l2.0,-0.3l1.9,-0.5l1.9,-0.6l1.9,-0.7l2.0,-0.2l1.9,0.5l1.9,0.8l2.0,0.2l2.0,0.3l1.9,-0.6l2.0,-0.3l2.0,-0.3M1230.8,1165.2l0.1,2.0l0.2,2.0l0.5,1.9l0.9,1.8l1.0,1.7l1.0,1.7l1.3,1.5l1.4,1.4l1.5,1.3M1208.5,1179.7l-1.8,0.9l-1.8,0.9l-1.4,1.5M1216.1,1181.3l-2.0,0.1l-2.0,-0.1l-1.9,-0.7l-1.7,-1.0M1230.8,1165.2l-1.3,1.5l-1.3,1.6l-1.0,1.7l-1.2,1.6l-1.1,1.7l-1.4,1.4l-1.6,1.2l-1.5,1.3l-1.6,1.1l-1.2,1.6l-1.4,1.4l-1.7,1.1l-1.7,1.0l-1.9,0.5l-2.0,0.1l-1.8,0.8M1230.8,1165.2l-0.4,2.0l-0.6,1.9l-0.7,1.9l-0.9,1.8l-1.4,1.4l-1.7,1.0l-1.0,1.7l-0.2,2.0l-0.2,2.0l-0.1,2.0l0.4,2.0l0.1,2.0l-0.4,2.0" stroke="#1f3a52" stroke-width="1.5" fill="none" stroke-linejoin="round"/>
<circle cx="1230.8" cy="1165.2" r="1.6" fill="#111"/>
<path d="M1293.9,1173.0l0.4,-2.5l0.1,-2.5l0.1,-2.5l0.2,-2.5l-0.1,-2.5l-0.2,-2.5l-0.1,-2.5l-0.0,-2.5l0.3,-2.5l0.2,-2.5l-0.2,-2.5l-0.1,-2.5l0.2,-2.5l-0.2,-2.5l-0.1,-2.5l-0.5,-2.4l-0.1,-2.5l0,-2.5l-0.1,-2.5l-0.3,-2.5l-0.6,-2.4l-0.5,-2.4l-0.4,-2.5l-0.4,-2.5l-0.1,-2.5l-0.2,-2.5l-0.1,-2.5l0.1,-2.5l0.1,-2.5M1291.4,1100.9l0.6,-2.1l0.5,-2.1l0.2,-2.2l0.5,-2.1l0.6,-2.1M1291.4,1100.9l0.5,-2.1l0.4,-2.2l0,-2.2l0.2,-2.2l0.7,-2.1l0,-2.2M1291.4,1100.9l-0.4,-2.2l-0.6,-2.1l-0.7,-2.1l-0.8,-2.0M1294.1,1133.2l-1.4,-1.4l-1.8,-0.9l-1.8,-0.9l-1.5,-1.3l-1.1,-1.7" stroke="#3b6a92" stroke-width="1.3" fill="none" stroke-linejoin="round"/>
<path d="M1287.5,1180.5l-1.9,-0.6l-1.7,-1.0l-1.5,-1.3l-1.6,-1.2M1293.9,1173.0l-1.2,1.6l-0.9,1.8l-1.1,1.7l-1.4,1.4l-1.7,1.1l-1.7,1.1l-1.6,1.2l-1.5,1.3l-1.8,0.9M1307.0,1195.3l1.9,0.6l2.0,0.2l2.0,0.4M1293.9,1173.0l1.1,1.7l1.3,1.5l0.9,1.8l0.8,1.8l0.8,1.8l1.1,1.7l0.7,1.9l1.0,1.7l1.1,1.7l1.0,1.7l1.0,1.7l1.4,1.4l0.8,1.8l0.9,1.8l0.9,1.8M1312.8,1169.1l0.2,-2.0l0.7,-1.9l0.4,-2.0l0.7,-1.9l0.2,-2.0l0.6,-1.9l0.9,-1.8M1316.1,1166.7l1.6,1.1l2.0,0.4l2.0,-0.2l1.9,-0.7l1.9,-0.7M1293.9,1173.0l2.0,-0.2l2.0,-0.3l2.0,-0.4l2.0,-0.1l2.0,-0.1l2.0,0.4l2.0,-0.1l1.9,-0.6l1.6,-1.2l1.5,-1.3l1.5,-1.3l1.7,-1.0l1.4,-1.4l1.3,-1.5l1.4,-1.4l1.3,-1.5l1.3,-1.5l1.5,-1.3M1293.2,1191.2l-0.0,2.0l0.2,2.0l0.4,2.0M1293.9,1173.0l0.7,1.9l0.9,1.8l0.6,1.9l0.6,1.9l0.4,1.9l0.2,2.0l-0.8,1.8l-1.3,1.5l-1.0,1.8l-1.1,1.7l-0.4,2.0M1293.9,1173.0l1.9,-0.7l1.9,-0.6l1.8,-0.9l1.7,-1.1l1.6,-1.2l1.2,-1.6l1.5,-1.3l1.5,-1.3l1.4,-1.4l1.6,-1.2M1288.2,1185.7l1.2,1.6l0.7,1.9l0.4,2.0l0.1,2.0l-0.5,1.9l-0.4,2.0M1289.5,1181.9l-0.6,1.9l-0.7,1.9l-0.7,1.9l-0.6,1.9l-0.1,2.0l-0.0,2.0l0.8,1.8l0.8,1.8M1293.9,1173.0l-0.7,1.9l-0.7,1.9l-0.8,1.8l-1.1,1.6l-1.1,1.7l-1.1,1.7l-1.0,1.7l-0.7,1.9l-0.8,1.8l-0.6,1.9l-0.1,2.0l-0.7,1.9l-1.2,1.6M1317.6,1152.0l-0.9,-1.8l-0.7,-1.9l-0.5,-1.9M1314.2,1161.3l0.2,-2.0l0.6,-1.9l1.1,-1.7l0.7,-1.9l0.8,-1.8M1293.9,1173.0l1.8,-0.9l1.8,-0.9l1.6,-1.2l1.2,-1.6l1.6,-1.2l2.0,-0.2l2.0,-0.4l1.8,-1.0l1.8,-1.0l1.6,-1.1l1.7,-1.1l1.7,-1.1l1.7,-1.0l1.8,-0.8l2.0,-0.2l1.9,-0.5M1297.8,1173.9l1.4,1.5l1.1,1.7l1.6,1.3l1.6,1.2l1.3,1.5l1.5,1.3l1.7,1.0l2.0,0.4l2.0,0.4l2.0,0.2l2.0,0.3M1311.1,1178.0l1.9,-0.5l1.9,-0.6l1.9,-0.6l2.0,-0.1l2.0,0.1M1299.7,1174.4l2.0,0.4l1.9,0.7l1.9,0.7l1.9,0.5l2.0,0.4l1.7,1.0l1.5,1.4l1.6,1.2l1.7,1.0l1.8,0.9l2.0,0.3M1303.6,1175.5l1.2,1.6l1.3,1.5l1.4,1.5l1.3,1.6l1.4,1.4l1.8,0.9l1.7,1.0l1.7,1.0l1.6,1.2l1.8,0.9M1315.4,1186.5l-0.1,2.0l-1.0,1.7l-1.4,1.4l-1.3,1.6l-0.8,1.8M1319.5,1193.1l2.0,0.2l2.0,0.4M1293.9,1173.0l1.9,0.5l2.0,0.4l2.0,0.4l1.9,0.5l1.9,0.6l1.9,0.7l1.9,0.5l2.0,0.4l1.9,0.7l1.7,1.1l0.7,1.9l0.6,1.9l0.3,2.0l0.8,1.8l0.7,1.9l0.6,1.9l1.4,1.5l1.5,1.3M1306.1,1202.5l1.9,0.6l1.9,0.6M1293.9,1173.0l-0.2,2.0l-0.1,2.0l0.1,2.0l-0.2,2.0l0.1,2.0l0.2,2.0l1.1,1.7l0.8,1.8l0.3,2.0l0.8,1.8l1.1,1.7l1.5,1.3l1.1,1.7l1.5,1.3l1.4,1.5l1.5,1.3l1.4,1.5l1.2,1.6M1293.9,1173.0l1.8,0.9l1.4,1.4l1.1,1.7l1.5,1.3l1.6,1.1l1.5,1.3l1.8,0.9l1.6,1.2l1.4,1.4l1.7,1.0l1.4,1.5l1.6,1.2l1.6,1.3l1.2,1.6l1.6,1.3l1.9,0.6l1.5,1.3l1.9,0.6M1293.9,1173.0l-0.5,1.9l-0.1,2.0l-1.1,1.7l-0.7,1.9l-0.7,1.9l-0.7,1.9l-0.6,1.9l0,2.0l-0.0,2.0l0,2.0l-0.1,2.0l0.1,2.0l-0.5,1.9l-1.2,1.6l-1.1,1.7" stroke="#1f3a52" stroke-width="1.5" fill="none" stroke-linejoin="round"/>
<circle cx="1293.9" cy="1173.0" r="1.6" fill="#111"/>
<path d="M1421.7,1188.4l0.1,-2.5l-0.1,-2.5l-0.3,-2.5l-0.1,-2.5l-0.3,-2.5l-0.3,-2.5l-0.2,-2.5l-0.2,-2.5l-0.0,-2.5l-0.3,-2.5l-0.4,-2.5l-0.1,-2.5l-0.4,-2.5l-0.2,-2.5l-0.0,-2.5l0.1,-2.5l0.1,-2.5l-0.1,-2.5l-0.1,-2.5l-0.2,-2.5l-0.2,-2.5l-0.6,-2.4l-0.7,-2.4l-0.5,-2.5l-0.2,-2.5l-0.1,-2.5l0.1,-2.5l0.1,-2.5l0.5,-2.4l0.5,-2.5l0.5,-2.4l0.1,-2.5l0.4,-2.5l0.4,-2.5l0.3,-2.5l0.2,-2.5l0.2,-2.5M1419.7,1096.6l0.2,-2.2l-0.1,-2.2l0.3,-2.2l0.4,-2.2M1419.3,1094.4l0.4,-2.2l0.5,-2.1l0.9,-2.0M1419.7,1096.6l-0.4,-2.2l-0.3,-2.2l-0.0,-2.2l-0.2,-2.2M1419.7,1096.6l0.2,-2.2l0.2,-2.2l0.1,-2.2l-0.2,-2.2M1420.5,1171.0l1.1,-1.7l0.9,-1.8l0.6,-1.9l0.8,-1.8l0.2,-2.0l0.6,-1.9M1418.6,1138.6l-1.2,-1.6l-1.1,-1.7l-1.3,-1.5l-1.0,-1.7l-1.5,-1.3" stroke="#b0544b" stroke-width="1.3" fill="none" stroke-linejoin="round"/>
<path d="M1421.7,1188.4l1.9,0.7l1.9,0.6l2.0,0.1l1.9,0.5l1.7,1.0l1.6,1.2l1.8,0.9l1.8,0.9l1.9,0.6l1.9,0.4l2.0,0.1l2.0,0.1l2.0,0M1421.7,1188.4l-1.4,1.4l-0.9,1.8l-1.3,1.5l-1.6,1.2l-1.5,1.3l-0.2,2.0l0.2,2.0l-0.4,2.0l-1.1,1.6l-1.7,1.1l-1.9,0.7l-1.8,0.8l-1.6,1.2l-1.8,0.8l-1.7,1.1l-1.6,1.2l-1.1,1.6l-0.9,1.8l-0.5,1.9l-0.7,1.9l-0.9,1.8M1421.7,1188.4l2.0,-0.2l2.0,0.3l2.0,0.3l1.9,0.7l1.8,0.8l1.3,1.5l1.7,1.0l2.0,0.3l2.0,0.3l2.0,0.0l2.0,-0.3l2.0,-0.3l2.0,-0.4l2.0,0.1l1.9,0.5l2.0,0.2l2.0,0.2l2.0,0l2.0,0.1M1418.4,1190.6l-0.7,1.9l0.1,2.0l-0.3,2.0l-0.1,2.0l-0.2,2.0l0.3,2.0l0.7,1.9l0.4,2.0l0.8,1.8M1403.8,1199.7l-2.0,0.2l-2.0,-0.2l-1.8,0.8l-1.6,1.1M1405.7,1196.2l-1.1,1.7l-0.8,1.8l-0.6,1.9l-1.0,1.7l-1.1,1.7l-1.0,1.7M1421.7,1188.4l-1.8,0.8l-1.4,1.4l-1.7,1.1l-1.8,0.8l-2.0,0.3l-1.8,0.9l-1.8,1.0l-1.8,0.8l-1.9,0.6l-1.8,0.9l-1.9,0.4l-1.9,0.7l-1.9,0.6l-2.0,0.2l-2.0,0.2M1421.7,1188.4l-0.5,1.9l-0.9,1.8l-0.9,1.8l-1.6,1.3l-1.4,1.4l-1.0,1.8l-0.7,1.9l-1.0,1.7l-1.0,1.7l-1.0,1.8l-1.6,1.2l-2.0,0.3l-1.9,0.6l-1.9,0.5l-2.0,-0.2l-2.0,0.4l-2.0,0.1l-2.0,0.3l-1.8,0.9M1421.7,1188.4l-0.5,1.9l-1.1,1.7l-1.3,1.5l-1.6,1.2l-1.7,1.1l-1.7,1.0l-1.7,1.1l-1.6,1.2l-1.4,1.4l-1.1,1.7l-1.2,1.6l-0.7,1.9l-0.8,1.8l-0.6,1.9l-0.7,1.9l-1.0,1.7l-1.5,1.4l-0.6,1.9l-0.9,1.8M1421.7,1188.4l0.1,2.0l-0.1,2.0l0.5,1.9l-0.5,1.9l-0.2,2.0l-0.5,1.9l-0.4,2.0l-0.5,1.9l-0.3,2.0l0.5,1.9l0.8,1.8l1.0,1.8l0.9,1.8l0.1,2.0l0,2.0l0.6,1.9l0.6,1.9l0.9,1.8l1.1,1.7l1.3,1.6l1.0,1.7l1.1,1.7M1416.9,1199.9l-2.0,0.1l-1.9,-0.7l-2.0,-0.3l-1.8,-0.8l-1.9,-0.8l-1.9,-0.5M1422.5,1194.3l-1.2,1.6l-1.3,1.5l-1.6,1.3l-1.6,1.2l-1.5,1.3l-1.5,1.4l-1.8,0.9l-1.4,1.5l-1.1,1.7l-0.8,1.8l-0.9,1.8M1421.7,1188.4l0.3,2.0l0.3,2.0l0.2,2.0l0.2,2.0l0.2,2.0l0.7,1.9l0.5,1.9l0.9,1.8l0.2,2.0l0.9,1.8l0.4,2.0l0.6,1.9l0.3,2.0l0.1,2.0l-0.2,2.0l0,2.0l0.3,2.0l0.4,2.0M1421.7,1188.4l2.0,0.0l2.0,0.4l1.8,0.8l1.8,0.8l1.9,0.5l1.8,0.9l2.0,0.4l2.0,0.3l2.0,0l2.0,0.0l2.0,-0.2l2.0,0.3l2.0,-0.3l1.9,-0.5l1.9,-0.7l1.9,-0.6l2.0,-0.4l2.0,-0.3M1421.7,1188.4l2.0,0.0l1.8,0.9l1.9,0.5l2.0,0.3l1.9,0.5l1.9,0.5l1.9,0.6l1.6,1.2l1.5,1.4l1.7,1.0l1.6,1.2l1.5,1.3l1.7,1.1l1.8,0.9l1.7,1.0l1.6,1.2l1.8,0.8l1.9,0.7l2.0,0.4l1.8,0.9l1.8,0.9M1445.2,1209.4l-0.6,1.9l-1.3,1.5M1421.7,1188.4l1.7,1.1l1.8,0.8l1.6,1.2l1.4,1.5l1.4,1.4l1.7,1.1l1.7,1.0l1.1,1.7l1.4,1.5l1.5,1.3l1.7,1.1l1.5,1.3l1.7,1.1l1.3,1.5l1.1,1.7l1.1,1.7l0.8,1.8" stroke="#55221d" stroke-width="1.5" fill="none" stroke-linejoin="round"/>
<circle cx="1421.7" cy="1188.4" r="1.6" fill="#111"/>
<path d="M1511.1,1197.8l-0.2,-2.5l-0.1,-2.5l0.2,-2.5l0.3,-2.5l0.1,-2.5l0.1,-2.5l-0.0,-2.5l-0.4,-2.5l-0.2,-2.5l0,-2.5l0.3,-2.5l0.3,-2.5l0.1,-2.5l0,-2.5l-0.2,-2.5l-0.0,-2.5l-0.2,-2.5l-0.1,-2.5l0.3,-2.5l0.4,-2.5l0.3,-2.5l0.5,-2.4l0.4,-2.5l0.2,-2.5l0.2,-2.5l0.1,-2.5l0.1,-2.5l0.2,-2.5l0.3,-2.5l0.2,-2.5l0.4,-2.5l0.5,-2.4l0.1,-2.5l0.1,-2.5l-0.1,-2.5l-0.1,-2.5l0.1,-2.5l0.2,-2.5l-0.0,-2.5l-0.1,-2.5l-0.1,-2.5M1515.1,1095.8l0.1,-2.2l0.3,-2.2l0.7,-2.1l0.3,-2.2M1515.1,1095.8l-0.8,-2.0l-0.5,-2.2l-0.7,-2.1l-0.7,-2.1M1515.1,1095.8l0.3,-2.2l0.8,-2.0l0.9,-2.0l0.8,-2.0M1510.8,1172.9l1.6,-1.3l1.6,-1.3l1.4,-1.4l1.2,-1.6M1511.7,1148.0l-1.6,-1.2l-1.5,-1.3l-1.5,-1.3l-1.2,-1.6" stroke="#b0544b" stroke-width="1.3" fill="none" stroke-linejoin="round"/>
<path d="M1506.3,1201.4l-1.9,0.7l-1.9,0.6l-2.0,0.3l-2.0,0l-1.9,0.8l-1.8,0.8l-2.0,0.3l-2.0,-0.3l-1.9,-0.5l-2.0,-0.3l-1.9,-0.6M1511.1,1197.8l-1.7,1.1l-1.7,1.0l-1.4,1.4l-1.6,1.2l-1.6,1.2l-1.2,1.6l-1.3,1.6l-1.3,1.5l-1.4,1.4l-1.2,1.6l-1.0,1.7l-1.3,1.5l-1.3,1.5l-1.1,1.7l-1.3,1.5l-0.9,1.8l-0.8,1.8l-0.3,2.0M1510.0,1228.4l0.4,2.0l0.2,2.0M1511.1,1197.8l-0.0,2.0l0.7,1.9l0.4,2.0l0.9,1.8l0.8,1.8l0.5,1.9l0.2,2.0l-0.7,1.9l-0.2,2.0l-0.1,2.0l-0.5,1.9l-0.8,1.8l-0.5,1.9l-0.5,1.9l-0.7,1.9l-0.7,1.9l-1.3,1.5M1514.9,1208.6l-0.2,2.0l-0.2,2.0l-0.4,2.0l-0.3,2.0l-0.3,2.0l-0.2,2.0l-0.7,1.9l-0.7,1.9M1511.1,1197.8l-0.2,2.0l0.1,2.0l0.5,1.9l1.0,1.7l1.0,1.8l1.4,1.4l1.3,1.6l1.3,1.5l0.8,1.8l0.4,2.0l0.7,1.9l1.0,1.7l0.9,1.8l0.7,1.9l0.8,1.8l0.6,1.9l1.0,1.7M1506.9,1217.0l0.4,2.0l0.5,1.9l0.2,2.0l0,2.0M1511.1,1197.8l0.2,2.0l-0.1,2.0l-0.4,2.0l-0.6,1.9l-0.1,2.0l-0.2,2.0l-0.6,1.9l-0.7,1.9l-0.7,1.9l-1.1,1.7l-0.6,1.9l-0.5,1.9l-0.6,1.9l0.1,2.0M1522.9,1222.9l0.4,2.0l0.7,1.9l0.9,1.8l1.1,1.7M1511.1,1197.8l1.1,1.7l1.0,1.7l0.7,1.9l0.4,2.0l0.8,1.8l0.5,1.9l1.1,1.7l0.9,1.8l0.5,1.9l1.0,1.7l1.0,1.7l0.8,1.8l0.7,1.9l1.2,1.6l1.5,1.3l1.2,1.6l1.0,1.7l0.9,1.8l0.4,2.0M1499.5,1207.6l0.6,1.9l0.4,2.0l0.8,1.8l1.2,1.6l0.6,1.9l1.0,1.7l1.1,1.7l1.3,1.6l1.4,1.4M1511.1,1197.8l-1.8,0.9l-1.9,0.7l-1.8,0.9l-1.7,1.0l-1.6,1.3l-1.5,1.3l-1.0,1.7l-0.4,2.0l-0.8,1.8l-1.0,1.7l-1.0,1.7l-1.5,1.3l-1.6,1.2l-1.5,1.3l-1.1,1.6l-1.5,1.3l-1.5,1.4l-1.2,1.6l-1.6,1.2l-1.7,1.1l-1.8,0.9l-1.7,1.0M1511.1,1197.8l-0.7,1.9l-0.1,2.0l-0.4,2.0l-0.9,1.8l-1.1,1.6l-1.3,1.5l-1.0,1.7l-0.2,2.0l-0.2,2.0l0.8,1.8l0.7,1.9l1.0,1.7M1511.3,1201.8l1.5,1.4l1.7,1.0l1.6,1.2l1.9,0.7l1.9,0.7l1.3,1.5l1.3,1.5M1509.9,1217.2l-1.2,1.6l-1.0,1.7M1509.0,1215.4l0.9,1.8l1.5,1.3l1.5,1.3M1511.1,1197.8l0,2.0l0.2,2.0l-0.0,2.0l-0.6,1.9l-0.9,1.8l-0.3,2.0l-0.5,1.9l0,2.0l-0.1,2.0l-0.6,1.9l-0.8,1.8M1536.5,1209.3l1.8,-0.9l1.9,-0.8M1511.1,1197.8l1.9,0.6l1.9,0.5l1.8,0.9l1.8,0.9l1.8,0.9l1.9,0.5l1.7,1.0l1.9,0.7l1.9,0.7l1.7,1.1l1.6,1.2l1.9,0.7l1.8,0.9l1.8,0.9M1520.6,1215.0l0.5,1.9l0.9,1.8l1.4,1.4M1511.1,1197.8l0.9,1.8l1.0,1.7l0.8,1.8l1.1,1.7l1.0,1.7l1.6,1.2l1.2,1.6l0.7,1.9l0.5,1.9l0.7,1.9l1.1,1.7l1.4,1.5M1479.4,1197.6l-0.9,1.8l-1.1,1.7l-1.3,1.5l-0.9,1.8M1511.1,1197.8l-1.9,0.5l-2.0,0.4l-2.0,-0.2l-2.0,0.0l-2.0,0.2l-2.0,0.2l-2.0,-0.2l-2.0,-0.4l-2.0,-0.2l-2.0,-0.4l-2.0,-0.4l-2.0,-0.4l-2.0,-0.1l-2.0,0l-2.0,0.4l-2.0,0.2l-2.0,0.0l-2.0,-0.1" stroke="#55221d" stroke-width="1.5" fill="none" stroke-linejoin="round"/>
<circle cx="1511.1" cy="1197.8" r="1.6" fill="#111"/>
<path d="M1577.0,1206.3l-0.0,-2.5l0.4,-2.5l0.1,-2.5l0.2,-2.5l0.3,-2.5l0.4,-2.5l0.3,-2.5l0.2,-2.5l0.1,-2.5l-0.1,-2.5l-0.1,-2.5l-0.1,-2.5l0.1,-2.5l0,-2.5l0.1,-2.5l-0.3,-2.5l-0.2,-2.5l-0.2,-2.5l-0.1,-2.5l-0.0,-2.5l0.3,-2.5l0.5,-2.5l0.2,-2.5l0.3,-2.5l0.3,-2.5l0.3,-2.5l0.5,-2.5l0.3,-2.5l0.4,-2.5l0.1,-2.5l-0.1,-2.5l0.2,-2.5l0.4,-2.5l0.1,-2.5l0.2,-2.5l-0.1,-2.5l-0.1,-2.5l0,-2.5l0,-2.5l0,-2.5l-0.1,-2.5l-0.0,-2.5l-0.0,-2.5l0.1,-2.5M1581.7,1096.7l-0.7,-2.1l-0.6,-2.1l-0.2,-2.2l-0.8,-2.1M1581.7,1096.7l0.6,-2.1l0.8,-2.1l0.6,-2.1l0.4,-2.2M1581.7,1096.7l0.2,-2.2l0.1,-2.2l0.2,-2.2l0,-2.2M1578.1,1161.5l1.7,-1.0l1.5,-1.3l1.4,-1.5l1.1,-1.7l1.1,-1.7l1.1,-1.6l1.5,-1.3M1578.6,1173.9l-1.8,-0.8l-1.6,-1.1l-1.9,-0.7l-1.5,-1.4l-1.6,-1.2l-1.3,-1.6l-0.9,-1.8l-0.9,-1.8" stroke="#b0544b" stroke-width="1.3" fill="none" stroke-linejoin="round"/>
<path d="M1577.0,1206.3l-1.1,1.7l-1.2,1.6l-0.9,1.8l-1.3,1.5l-1.1,1.7l-0.9,1.8l-1.4,1.4l-1.1,1.7l-1.1,1.7l-1.0,1.7l-0.7,1.9l-0.1,2.0l-0.5,1.9l-0.5,1.9l-0.1,2.0l-0.3,2.0l0.2,2.0l0.9,1.8l0.1,2.0l0.1,2.0M1590.7,1206.9l1.4,-1.4l1.4,-1.4l1.1,-1.6l1.2,-1.6l0.7,-1.9l1.0,-1.7l1.4,-1.4l1.4,-1.5M1577.0,1206.3l2.0,-0.2l2.0,0.0l1.9,0.7l1.9,0.6l2.0,-0.1l2.0,-0.2l2.0,-0.3l1.8,-0.8l2.0,-0.3l1.7,1.0l1.9,0.6l2.0,0.3l1.9,0.5l1.9,0.7l1.7,1.0l1.4,1.4M1577.0,1206.3l1.7,1.1l1.8,0.9l2.0,0.1l2.0,-0.4l1.9,-0.5l1.8,-0.8l2.0,-0.3l1.9,-0.5l2.0,0.0l2.0,0.2l1.9,0.5l1.8,0.9l1.9,0.7l2.0,-0.1l1.9,-0.6l1.8,-0.8l1.9,-0.5l1.9,-0.5l1.9,-0.5M1597.8,1224.6l1.9,0.7l1.9,0.5M1576.9,1210.3l1.7,1.0l1.7,1.0l1.3,1.5l1.2,1.6l1.4,1.4l1.6,1.2l1.8,0.9l1.8,0.9l2.0,0.3l1.9,0.6l1.2,1.6l1.5,1.3l1.8,0.9l1.5,1.4M1577.3,1218.2l-1.2,1.6l-1.5,1.3l-1.7,1.1l-1.3,1.5l-1.0,1.7l-1.3,1.5l-0.6,1.9l0.1,2.0l0.1,2.0l0.7,1.9l0.7,1.9M1579.8,1243.5l-1.4,1.4l-1.7,1.0l-1.6,1.2l-1.1,1.7M1577.0,1206.3l0.1,2.0l-0.2,2.0l-0.2,2.0l-0.1,2.0l0.4,2.0l0.3,2.0l-0.1,2.0l0.1,2.0l0.5,1.9l0,2.0l0.4,1.9l-0.3,2.0l-0.8,1.8l0,2.0l0.5,1.9l0.1,2.0l1.0,1.7l0.2,2.0l0.6,1.9l0.1,2.0l-0.1,2.0l-0.1,2.0M1579.2,1219.3l-1.5,1.4l-1.8,1.0l-1.8,0.9l-1.9,0.7l-1.7,1.0l-1.9,0.6l-2.0,0.4M1577.0,1206.3l1.1,1.7l1.1,1.7l0.8,1.8l0.4,2.0l-0.2,2.0l-0.6,1.9l-0.3,2.0l-0.2,2.0l0.1,2.0l-0.1,2.0l-0.4,2.0l-0.6,1.9l0.2,2.0l0.6,1.9l0.7,1.9l1.3,1.5M1563.8,1210.4l-1.2,1.6l-1.0,1.7l-1.4,1.4l-0.7,1.9l-0.8,1.8l-1.0,1.7l-0.9,1.8l-0.9,1.8l-1.2,1.6M1543.9,1211.3l-1.3,1.5l-0.7,1.9l-1.4,1.5l-1.2,1.6M1577.0,1206.3l-1.9,0.7l-1.9,0.6l-1.7,1.0l-1.9,0.7l-1.9,0.6l-2.0,-0.1l-1.9,0.6l-2.0,0l-2.0,0.0l-2.0,0.1l-1.9,0.6l-2.0,0.1l-2.0,0.2l-2.0,0.0l-2.0,0.1l-2.0,-0.3l-2.0,-0.1l-1.9,0.6l-1.9,0.7M1579.7,1211.5l1.4,1.4l1.2,1.6l1.7,1.1l1.3,1.5l1.2,1.6l1.0,1.7l1.4,1.4l1.4,1.4l1.6,1.1l2.0,0.3M1577.0,1206.3l1.3,1.5l0.8,1.8l0.6,1.9l0.8,1.8l0.9,1.8l1.1,1.7l0.9,1.8l0.5,1.9l1.2,1.6l1.3,1.5l1.5,1.4l1.7,1.1l1.4,1.4l1.7,1.1l1.5,1.3l1.5,1.3l1.1,1.6M1577.0,1206.3l2.0,0.2l2.0,0.2l2.0,0.2l2.0,0.3l1.9,0.7l2.0,0.1l1.7,1.0l1.7,1.0l1.4,1.4l1.6,1.3l0.9,1.8l0.1,2.0l0.3,2.0l0.9,1.8l1.2,1.6l0.4,2.0l0.3,2.0l0.6,1.9l0.7,1.9l0.1,2.0M1549.7,1183.5l-0.3,-2.0l-0.8,-1.8M1553.0,1192.8l-0.2,-2.0l-0.4,-2.0l-1.0,-1.7l-0.6,-1.9l-1.1,-1.7l-0.3,-2.0M1577.0,1206.3l-2.0,-0.4l-2.0,-0.2l-1.8,-0.8l-1.7,-1.1l-1.5,-1.3l-1.8,-0.8l-1.8,-0.9l-1.6,-1.2l-1.4,-1.4l-1.7,-1.1l-1.5,-1.3l-1.6,-1.1l-1.9,-0.7l-1.7,-1.0l-1.6,-1.2l-0.8,-1.8l-0.5,-1.9l-0.4,-2.0l-0.5,-1.9l-0.6,-1.9l-0.1,-2.0l0.4,-2.0M1569.5,1247.2l0.5,1.9l0.5,1.9l1.4,1.5M1568.4,1245.5l1.1,1.7l1.4,1.4l1.6,1.2l1.9,0.6M1572.1,1238.5l-0.8,1.8l-1.2,1.6l-1.1,1.7l-0.6,1.9l-0.7,1.9M1577.0,1206.3l-0.7,1.9l-0.2,2.0l-0.4,2.0l-1.1,1.7l-0.7,1.9l-0.9,1.8l-0.8,1.9l-1.0,1.7l-0.4,2.0l-0.5,1.9l-0.2,2.0l0.5,1.9l0.6,1.9l0.5,1.9l-0.1,2.0l-0.3,2.0l0.8,1.9l0.1,2.0l0.4,2.0l0.3,2.0M1577.0,1206.3l-1.1,1.7l-1.1,1.7l-1.4,1.4l-1.5,1.3l-1.5,1.4l-1.8,0.8l-1.9,0.6l-1.9,0.7l-1.8,0.9l-1.9,0.6l-1.9,0.6l-1.9,0.7" stroke="#55221d" stroke-width="1.5" fill="none" stroke-linejoin="round"/>
<circle cx="1577.0" cy="1206.3" r="1.6" fill="#111"/>
<path d="M1710.3,1208.8l0.1,-2.5l-0.1,-2.5l0.2,-2.5l-0.2,-2.5l0.1,-2.5l0.3,-2.5l0.2,-2.5l0.2,-2.5l-0.0,-2.5l-0.0,-2.5l-0.3,-2.5l-0.4,-2.5l-0.3,-2.5l-0.7,-2.4l-0.4,-2.5l-0.4,-2.5l-0.3,-2.5l-0.3,-2.5l0,-2.5l-0.1,-2.5l-0.4,-2.5l0.1,-2.5l-0.3,-2.5l-0.2,-2.5l-0.1,-2.5l0.3,-2.5l0.5,-2.5l0.1,-2.5l0.1,-2.5l-0.1,-2.5l-0.0,-2.5l-0.1,-2.5l-0.2,-2.5l-0.3,-2.5l0.1,-2.5l-0.1,-2.5l0,-2.5l0,-2.5l-0.1,-2.5M1705.7,1095.0l-1.8,-1.2l-1.8,-1.3l-1.8,-1.2l-1.9,-1.1M1708.8,1110.0l-0.5,-2.2l-0.5,-2.1l-0.5,-2.1l-0.4,-2.2l-0.5,-2.1l-0.2,-2.2l-0.6,-2.1l-0.5,-2.1l-0.2,-2.2M1707.5,1111.8l1.3,-1.7l1.5,-1.6l1.4,-1.7l0.8,-2.1l0.4,-2.2l0.7,-2.1l0.5,-2.2l0.4,-2.2l0.9,-2.0l0.8,-2.1l1.1,-1.9l1.3,-1.7l1.5,-1.6M1712.7,1088.2l-1.2,-1.8M1707.5,1111.8l0.5,-2.1l0.6,-2.1l0.9,-2.0l0.4,-2.2l0.3,-2.2l0.6,-2.1l0.4,-2.2l0.2,-2.2l0.4,-2.2l0.5,-2.1l0.5,-2.1l1.0,-2.0M1711.5,1106.5l2.1,-0.8l2.2,-0.3l2.2,-0.4l2.2,-0.3M1707.5,1111.8l1.2,-1.8l1.5,-1.7l1.3,-1.8l1.3,-1.8l1.2,-1.9l1.5,-1.6l1.4,-1.7l1.4,-1.7M1707.5,1111.8l-0.9,-2.0l-1.2,-1.9l-1.0,-1.9l-1.4,-1.7l-1.5,-1.6l-1.4,-1.7l-1.3,-1.7l-1.6,-1.6l-1.7,-1.3l-1.9,-1.1l-1.9,-1.1l-1.6,-1.5l-1.9,-1.2l-2.0,-1.0M1710.2,1176.4l-1.6,-1.2l-1.9,-0.7l-1.9,-0.5l-2.0,-0.3l-2.0,0.1l-2.0,-0.1l-2.0,0.1l-2.0,0.2l-2.0,0M1710.8,1181.4l1.5,-1.3l1.9,-0.7l1.7,-1.0l1.7,-1.1l1.7,-1.1l1.2,-1.6l1.6,-1.2l1.6,-1.2M1711.1,1183.9l-1.3,-1.5l-0.8,-1.8l-1.0,-1.7l-0.5,-1.9l-1.0,-1.7l-1.3,-1.6l-0.9,-1.8l-1.1,-1.7l-0.9,-1.8" stroke="#7b3a8c" stroke-width="1.3" fill="none" stroke-linejoin="round"/>
<path d="M1689.8,1234.5l0.1,2.0l0.4,2.0l0.3,2.0M1694.1,1227.8l-1.4,1.4l-1.2,1.6l-0.8,1.8l-0.8,1.8l-0.3,2.0M1706.4,1217.9l-1.4,1.4l-1.2,1.6l-1.4,1.5l-1.4,1.4l-1.6,1.2l-1.8,0.9l-1.7,1.0l-1.8,0.9l-1.8,0.9l-1.8,0.8l-1.9,0.5l-1.9,0.7l-1.9,0.5M1710.3,1208.8l-0.6,1.9l-0.7,1.9l-0.9,1.8l-1.2,1.6l-0.7,1.9l-0.4,2.0l-0.2,2.0l-0.3,2.0l-0.6,1.9l-1.3,1.5l-1.2,1.6l-1.3,1.5l-0.9,1.8l-1.2,1.6l-1.2,1.6l-1.6,1.2l-1.2,1.6l-1.6,1.2l-1.8,0.8l-1.9,0.5l-2.0,0l-1.9,0.6l-1.9,0.5l-1.6,1.2M1714.3,1217.8l1.6,1.2l1.6,1.2l1.8,0.9l1.6,1.1l1.5,1.3l1.7,1.1l2.0,0.2l2.0,-0.1l2.0,-0.3M1720.5,1222.8l0.5,1.9l0.1,2.0l0.1,2.0l0.2,2.0l0.5,1.9l0.3,2.0l0.4,2.0l-0.5,1.9M1731.0,1238.0l1.9,0.5l2.0,0.3l2.0,0.1l1.9,0.5M1729.0,1238.2l2.0,-0.2l2.0,-0.3M1710.3,1208.8l1.2,1.6l1.1,1.7l0.7,1.9l0.4,2.0l0.7,1.9l1.5,1.3l1.7,1.0l1.3,1.5l1.6,1.1l1.1,1.7l1.3,1.5l1.2,1.6l0.5,1.9l0.7,1.9l0.3,2.0l0.8,1.8l1.0,1.7l1.6,1.2M1706.5,1207.5l-1.4,-1.4l-1.9,-0.6l-1.9,-0.5l-1.9,-0.5l-2.0,0l-2.0,-0.4l-2.0,-0.4l-2.0,0.0M1710.3,1208.8l-1.9,-0.7l-1.9,-0.6l-2.0,-0.4l-1.8,-0.8l-1.9,-0.6l-1.9,-0.5l-2.0,0.0l-2.0,0.1l-2.0,0.1l-1.9,-0.5l-2.0,0.3l-1.9,0.6l-1.6,1.1l-1.8,0.8M1700.4,1208.8l-1.0,-1.7l-1.0,-1.7l-1.2,-1.6l-1.4,-1.4l-1.4,-1.4l-1.3,-1.5l-1.3,-1.5l-1.1,-1.7l-0.9,-1.8l-1.0,-1.7l-1.2,-1.6M1682.9,1201.1l-1.9,-0.5l-1.7,-1.1l-1.9,-0.7l-1.8,-0.9l-1.6,-1.2M1684.1,1202.7l-1.1,-1.6l-1.2,-1.6l-1.1,-1.7l-0.8,-1.8l-0.8,-1.8l-0.6,-1.9M1710.3,1208.8l-1.9,0.6l-2.0,-0.2l-2.0,-0.3l-2.0,0l-2.0,0.1l-1.9,-0.5l-2.0,0l-2.0,0.1l-1.9,-0.6l-1.9,-0.8l-1.7,-1.0l-1.6,-1.2l-1.7,-1.0l-1.6,-1.2l-1.6,-1.2l-1.5,-1.3l-1.3,-1.5l-1.2,-1.6l-1.7,-1.0l-1.9,-0.7M1714.3,1215.6l1.8,0.9l1.6,1.1l1.8,1.0l1.7,1.0l1.7,1.0l1.6,1.2l1.4,1.4l1.4,1.5l0.9,1.8M1710.3,1208.8l1.3,1.5l1.0,1.7l0.6,1.9l1.0,1.7l1.7,1.0l1.3,1.5l1.4,1.4l2.0,0.4l2.0,0.4l1.9,0.4l1.8,0.9l1.9,0.5l1.6,1.2l1.5,1.3l1.6,1.2l2.0,0.3l1.4,1.4M1703.1,1211.6l-1.4,-1.4l-1.6,-1.1l-1.8,-0.9l-1.9,-0.7l-1.9,-0.6l-2.0,-0.4l-2.0,-0.3l-2.0,0.0l-1.9,0.7l-1.9,0.7l-1.9,0.7l-1.7,1.0M1699.2,1212.6l-1.1,1.7l-0.6,1.9l-1.2,1.6l-1.5,1.3l-1.2,1.6l-1.1,1.7l-0.9,1.8l-1.6,1.2l-1.7,1.1l-1.8,0.9M1686.9,1218.2l-0.5,1.9l-0.2,2.0l-0.8,1.8l-1.4,1.5l-0.7,1.9l-0.5,1.9M1691.4,1214.3l-1.7,1.0l-1.5,1.3l-1.3,1.5l-1.2,1.6l-1.2,1.6l-1.2,1.6l-0.6,1.9l-0.4,2.0l-0.2,2.0l-0.7,1.9M1689.5,1214.7l-1.2,1.6l-1.4,1.4l-1.2,1.6l-1.0,1.7l-1.4,1.4l-1.1,1.7l-1.4,1.4M1683.8,1216.4l-0.8,1.8l-1.0,1.7l-1.4,1.4l-1.9,0.7l-1.8,0.8M1676.6,1219.9l-0.6,1.9l-1.2,1.6l-1.7,1.1l-1.6,1.2M1685.8,1216.1l-2.0,0.3l-1.9,0.7l-1.7,1.0l-1.7,1.0l-1.9,0.7l-1.9,0.6l-1.6,1.2l-1.6,1.2M1683.3,1218.9l0.7,1.9l1.4,1.4l1.1,1.7l0.8,1.8l0.8,1.8M1684.0,1217.0l-0.7,1.9l-0.4,2.0l0.4,2.0l0.8,1.9l0.9,1.8l1.0,1.7l1.7,1.1M1710.3,1208.8l-1.5,1.3l-1.7,1.0l-2.0,0.3l-2.0,0.3l-1.9,0.5l-2.0,0.4l-1.9,0.7l-2.0,0.2l-2.0,0.4l-2.0,0.4l-2.0,0.4l-2.0,0.4l-1.8,0.9l-1.8,0.9l-1.9,0.8l-1.4,1.4l-1.3,1.5l-1.7,1.0l-1.6,1.1l-1.6,1.3l-1.5,1.4l-1.2,1.6M1710.3,1208.8l-2.0,0.3l-2.0,0.2l-2.0,0.0l-1.9,0.7l-1.9,0.7l-1.9,0.6l-1.9,0.5l-1.8,0.8l-1.8,0.9l-1.8,0.8l-2.0,0.3l-2.0,0.0l-1.9,0.7l-1.8,0.9l-1.6,1.1l-1.8,0.8l-1.9,0.5l-1.7,1.1l-2.0,0.4M1684.6,1222.2l-2.0,-0.4l-2.0,-0.4l-1.9,-0.7l-1.7,-1.1M1682.9,1223.2l-2.0,0.2l-1.9,0.5l-2.0,0.3M1710.3,1208.8l-1.6,1.2l-1.8,0.9l-1.9,0.7l-2.0,0.4l-2.0,0.3l-1.9,0.6l-2.0,0.2l-1.9,0.5l-1.7,1.0l-1.8,0.8l-1.5,1.3l-1.6,1.2l-0.9,1.8l-1.4,1.4l-1.6,1.2l-1.8,1.0l-1.6,1.2M1719.3,1213.0l1.9,-0.6l1.6,-1.2l1.3,-1.5l1.4,-1.4l1.3,-1.5l1.6,-1.1l1.9,-0.6l1.8,-0.8M1710.3,1208.8l1.9,0.6l1.9,0.8l1.8,0.9l1.7,1.0l1.7,1.0l1.7,1.0l1.7,1.0l1.7,1.1l1.7,1.0l1.9,0.6l2.0,-0.2l2.0,0l1.9,-0.5l2.0,0.1M1706.5,1210.1l-2.0,-0.1l-2.0,-0.4l-2.0,-0.3l-2.0,0.4l-2.0,0.3l-2.0,0.1l-2.0,0.2l-1.9,-0.6l-1.9,-0.7l-2.0,-0.4l-1.8,-0.9l-1.9,-0.7l-1.8,-0.8l-1.9,-0.7l-1.8,-0.9M1681.9,1216.7l-1.3,1.6l-1.3,1.5l-1.5,1.3l-1.1,1.7l-0.8,1.8l-0.5,1.9M1683.9,1216.3l-2.0,0.3l-1.9,0.5l-1.8,0.9l-1.7,1.0l-2.0,0.2l-2.0,0.3l-1.9,-0.5M1685.3,1214.9l-1.4,1.4l-1.8,0.9l-1.5,1.4l-1.7,1.0l-1.9,0.7l-1.5,1.3l-1.5,1.3l-1.4,1.4M1683.5,1215.8l-1.2,1.6l-1.5,1.3l-1.4,1.4l-1.3,1.5l-1.3,1.5l-1.6,1.2M1710.3,1208.8l-1.9,0.7l-1.9,0.6l-1.7,1.0l-1.9,0.6l-2.0,0.0l-2.0,0.1l-2.0,0.1l-1.9,0.7l-2.0,0.3l-1.9,0.5l-2.0,0.3l-1.9,0.5l-1.9,0.6l-1.8,0.9l-1.7,1.0l-1.6,1.3l-1.6,1.2l-1.5,1.4l-1.7,1.1l-1.7,1.1l-1.9,0.6l-2.0,0.2l-2.0,0.0M1710.3,1208.8l-2.0,-0.1l-1.9,-0.4l-2.0,-0.1l-2.0,0.1l-2.0,-0.2l-2.0,-0.3l-2.0,0l-1.9,-0.5l-1.9,-0.5l-1.9,-0.6l-2.0,0l-2.0,0.3l-1.9,0.6l-2.0,0.4M1719.5,1219.1l0.3,2.0l-0.2,2.0l0.3,2.0l0.2,2.0l-0.2,2.0l-0.0,2.0l0.5,1.9l0.1,2.0l-0.7,1.9l-0.7,1.9l-0.8,1.8M1729.7,1225.2l2.0,0.1l1.9,-0.5l1.9,-0.6l2.0,-0.2l2.0,-0.2l2.0,-0.4M1744.8,1230.2l1.4,1.4l1.3,1.5M1710.3,1208.8l1.3,1.5l0.9,1.8l1.4,1.4l1.0,1.7l1.4,1.4l1.6,1.2l1.6,1.2l1.7,1.0l1.4,1.4l1.6,1.1l1.8,0.9l1.8,0.9l1.8,0.9l1.9,0.5l1.9,0.5l1.8,0.8l1.8,0.9l2.0,0.4l1.8,0.9l2.0,0.3l1.9,0.6l1.3,1.5M1681.3,1233.6l0.2,2.0l0.2,2.0l-0.5,1.9M1710.3,1208.8l-2.0,0.3l-1.9,0.5l-1.8,0.8l-1.5,1.3l-1.3,1.5l-1.1,1.7l-1.5,1.3l-1.7,1.1l-1.7,1.1l-1.4,1.4l-1.7,1.1l-1.9,0.5l-1.9,0.8l-1.6,1.2l-1.6,1.3l-1.1,1.7l-0.7,1.9l-0.7,1.9l-0.9,1.8l-1.1,1.7l-0.8,1.8M1699.4,1221.2l0.8,1.8l0.2,2.0l-0.2,2.0l0.2,2.0M1699.5,1217.2l0.1,2.0l-0.2,2.0l-0.3,2.0l0,2.0M1697.0,1220.3l-0.1,2.0l-0.4,2.0l-0.6,1.9M1697.4,1227.1l1.9,0.7l1.7,1.1l1.4,1.5l1.6,1.2M1693.4,1227.0l2.0,0.4l2.0,-0.3l2.0,0.3M1693.4,1225.0l0.1,2.0l-0.1,2.0l0.4,2.0M1710.3,1208.8l-1.7,1.0l-1.7,1.0l-1.9,0.6l-1.6,1.3l-1.5,1.4l-1.2,1.6l-1.2,1.6l-1.4,1.4l-1.1,1.7l-1.5,1.3l-1.1,1.7l-1.0,1.8M1676.3,1223.8l-0.6,1.9l-0.7,1.9l0.1,2.0l0.3,2.0l0.4,2.0l0.6,1.9M1667.2,1225.5l-1.7,-1.1l-1.7,-1.1l-1.7,-1.0M1673.1,1226.2l-2.0,0l-2.0,-0.2l-1.9,-0.5M1665.7,1228.5l-2.0,-0.3l-2.0,-0.3l-2.0,-0.2M1671.3,1227.1l-2.0,-0.1l-1.9,0.7l-1.8,0.9M1669.6,1228.1l-0.3,2.0l-0.4,2.0l-0.9,1.8M1710.3,1208.8l-2.0,0.3l-1.9,0.5l-1.9,0.6l-1.9,0.7l-1.9,0.5l-1.9,0.6l-1.9,0.7l-1.9,0.6l-2.0,0.4l-1.7,1.1l-1.7,1.1l-1.0,1.7l-1.5,1.3l-1.9,0.7l-1.6,1.1l-1.9,0.7l-1.9,0.5l-1.9,0.7l-1.7,1.0l-1.5,1.3l-1.7,1.1l-1.8,0.9l-1.8,1.0l-1.7,1.0M1684.6,1211.1l-1.2,1.6l-1.8,0.8l-1.8,0.9l-1.7,1.1l-1.3,1.5M1710.3,1208.8l-2.0,0.2l-2.0,-0.1l-2.0,0.3l-1.9,0.6l-2.0,-0.1l-2.0,0.2l-2.0,0.2l-2.0,-0.2l-2.0,-0.3l-2.0,0.1l-2.0,0.4l-1.9,0.6l-2.0,0.2l-1.9,0.5l-2.0,0.3l-2.0,-0.2l-2.0,0.0l-1.9,-0.5M1705.3,1214.8l-2.0,-0.3l-2.0,-0.4l-1.9,-0.6l-1.9,-0.6l-1.6,-1.2l-1.3,-1.5l-0.9,-1.8l-1.7,-1.1l-1.6,-1.2l-1.8,-0.9M1696.4,1225.3l-2.0,0.3l-2.0,-0.1l-2.0,-0.3l-1.7,-1.1l-1.8,-1.0l-1.9,-0.6l-1.9,-0.6M1692.8,1227.0l-1.2,1.6l-1.6,1.1l-1.6,1.2l-1.4,1.5M1710.3,1208.8l-0.8,1.8l-1.3,1.5l-1.3,1.5l-1.6,1.2l-1.6,1.2l-1.1,1.7l-0.8,1.8l-1.0,1.7l-1.3,1.5l-1.6,1.2l-1.4,1.4l-1.8,0.8l-1.8,0.8l-1.8,0.8l-1.8,0.8l-1.9,0.7l-1.8,0.8l-1.7,1.1M1680.9,1226.1l-2.0,0.1l-2.0,0.4l-2.0,0.1l-2.0,0.3l-2.0,-0.2l-2.0,-0.1M1710.3,1208.8l-1.6,1.3l-1.5,1.3l-1.3,1.5l-1.7,1.0l-1.9,0.6l-2.0,0.2l-2.0,0.3l-2.0,0.3l-2.0,0.2l-2.0,0.3l-2.0,0.4l-1.7,1.0l-1.6,1.2l-1.1,1.7l-0.9,1.8l-1.3,1.5l-1.4,1.4l-1.5,1.3l-1.6,1.2l-2.0,0.1l-1.8,0.8l-1.6,1.2" stroke="#471656" stroke-width="1.5" fill="none" stroke-linejoin="round"/>
<circle cx="1710.3" cy="1208.8" r="1.6" fill="#111"/>
<path d="M1798.1,1210.3l-0.2,-2.5l-0.1,-2.5l0.2,-2.5l0.1,-2.5l-0.1,-2.5l-0.2,-2.5l-0.1,-2.5l-0.1,-2.5l-0.2,-2.5l-0.4,-2.5l-0.2,-2.5l-0.2,-2.5l-0.4,-2.5l-0.1,-2.5l-0.3,-2.5l-0.2,-2.5l-0.0,-2.5l0.1,-2.5l0.3,-2.5l0.2,-2.5l0.1,-2.5l0,-2.5l-0.2,-2.5l-0.1,-2.5l0,-2.5l0.2,-2.5l-0.2,-2.5l-0.0,-2.5l-0.1,-2.5l0.4,-2.5l0.6,-2.4l0.2,-2.5l-0.0,-2.5l-0.3,-2.5l-0.2,-2.5l-0.1,-2.5l0,-2.5l0,-2.5l-0.3,-2.5M1794.2,1112.1l-0.5,-2.1l0.2,-2.2l-0.3,-2.2l-0.4,-2.2l-0.5,-2.2l-0.8,-2.1M1796.1,1113.2l-1.9,-1.1l-1.9,-1.1l-2.0,-0.9l-2.0,-0.9l-2.0,-0.9l-2.1,-0.8l-2.2,-0.3l-2.1,-0.7M1790.2,1087.6l-1.8,-1.3M1796.1,1113.2l-0.0,-2.2l-0.4,-2.2l-0.4,-2.2l-0.4,-2.2l-0.9,-2.0l-0.7,-2.1l-0.6,-2.1l-0.7,-2.1l-0.6,-2.1l-0.5,-2.1l-0.3,-2.2l-0.4,-2.2M1806.1,1092.4l2.2,0.0l2.1,-0.7M1798.4,1100.2l1.7,-1.4l1.6,-1.5l1.2,-1.8l1.6,-1.6l1.6,-1.5M1800.6,1094.0l0.2,-2.2l0,-2.2l0.1,-2.2M1796.1,1113.2l0.4,-2.2l0.4,-2.2l0.5,-2.1l0.5,-2.1l0.2,-2.2l0.4,-2.2l0.6,-2.1l0.6,-2.1l1.0,-2.0l1.1,-1.9l1.2,-1.8l0.8,-2.1M1799.5,1107.6l2.1,-0.7l2.2,0l2.2,-0.2M1797.0,1111.2l1.4,-1.7l1.1,-1.9l1.3,-1.8l1.5,-1.6l1.5,-1.6M1806.3,1096.5l2.1,-0.7l2.2,-0.5l2.1,-0.7M1796.1,1113.2l0.9,-2.0l0.6,-2.1l1.2,-1.9l1.3,-1.7l1.4,-1.7l1.3,-1.7l1.4,-1.7l0.9,-2.0l1.2,-1.8M1796.1,1177.9l-0.6,-1.9l-0.9,-1.8l-0.4,-2.0l-0.4,-2.0M1795.9,1150.5l1.5,-1.3l1.9,-0.7l1.5,-1.3l1.5,-1.3l1.7,-1.1l1.8,-0.9M1795.7,1173.0l-2.0,-0.3l-2.0,0.1l-2.0,-0.1l-2.0,-0.2l-2.0,-0.4" stroke="#7b3a8c" stroke-width="1.3" fill="none" stroke-linejoin="round"/>
<path d="M1824.4,1214.4l1.3,1.5l1.6,1.2l2.0,0.3l1.9,0.7l1.9,0.6l2.0,0.2l2.0,0.4l1.8,0.8M1840.9,1208.4l2.0,0.4l1.9,0.6M1798.1,1210.3l1.7,1.0l1.8,0.9l1.9,0.6l2.0,0.1l1.9,-0.7l1.9,-0.6l1.9,-0.6l2.0,0.1l2.0,0.2l1.7,1.0l1.7,1.1l1.9,0.6l2.0,0.3l2.0,0.1l2.0,-0.1l2.0,-0.1l2.0,-0.1l1.9,-0.6l1.6,-1.2l1.8,-1.0l1.8,-0.8l1.7,-1.1l1.7,-1.0l1.8,-0.8M1798.1,1210.3l-2.0,-0.2l-2.0,0.1l-1.9,0.7l-1.9,0.7l-2.0,0.3l-1.8,0.8l-1.8,0.9l-1.8,0.9l-1.8,0.9l-2.0,0.4l-2.0,0.4M1798.1,1210.3l-1.5,1.3l-1.2,1.6l-0.6,1.9l-0.1,2.0l-0.9,1.8l-1.3,1.5l-1.2,1.6l-1.7,1.0l-2.0,-0.1l-1.9,-0.5l-2.0,0.3l-2.0,-0.3l-1.9,-0.6l-2.0,-0.3l-2.0,0.1M1808.5,1221.7l1.1,1.7l0.9,1.8l1.4,1.4l1.4,1.5l1.7,1.1l1.8,0.8l1.8,0.8l1.7,1.0M1816.3,1220.7l1.8,1.0l1.8,0.9l1.8,0.9l1.4,1.4l1.7,1.0l1.9,0.6M1806.5,1221.4l2.0,0.3l2.0,-0.4l2.0,-0.3l2.0,-0.4l2.0,0.1l2.0,0.0l2.0,-0.3l2.0,-0.4l1.9,-0.7l1.9,-0.6l1.7,-1.0l1.9,-0.8M1831.5,1224.1l1.8,-0.8l2.0,-0.4l1.9,-0.5l1.8,-1.0l2.0,-0.4M1798.1,1210.3l1.0,1.8l1.4,1.4l1.0,1.7l1.0,1.7l1.2,1.6l1.4,1.5l1.4,1.4l1.8,0.8l2.0,-0.2l1.9,-0.7l2.0,-0.2l2.0,0.3l2.0,0.2l1.9,-0.5l2.0,0l1.9,0.7l2.0,0.3l1.8,0.9l1.8,0.9l2.0,0.1l2.0,-0.4l1.8,-0.9l1.4,-1.4l1.6,-1.2M1819.8,1218.8l1.3,1.5l1.2,1.6M1810.3,1211.8l1.7,1.1l1.8,0.9l1.7,1.1l1.4,1.5l1.4,1.4l1.6,1.1l1.6,1.2M1798.6,1212.2l1.9,0.7l2.0,-0.1l1.9,-0.7l2.0,-0.1l2.0,-0.4l2.0,0.1l2.0,0.1l2.0,0.1l1.7,1.1l1.6,1.2l1.1,1.6l1.7,1.0l1.1,1.7M1803.4,1234.9l0.9,1.8l0.8,1.8l1.0,1.7l1.0,1.7l0.7,1.9l1.0,1.7M1800.3,1227.8l1.2,1.6l1.2,1.6l0.7,1.9l0.1,2.0l0.2,2.0l-0.5,1.9l-1.1,1.7l-1.1,1.7l-1.2,1.6M1801.4,1243.6l-1.5,1.3l-1.6,1.2l-1.8,0.8l-1.8,0.9l-1.9,0.7M1793.3,1248.9l-0.6,1.9M1798.1,1210.3l0.5,1.9l0.7,1.9l0.7,1.9l0.5,1.9l-0.5,1.9l0.1,2.0l0.4,2.0l-0.1,2.0l-0.0,2.0l-0.0,2.0l-0.2,2.0l0.4,2.0l0.5,1.9l0.6,1.9l0.3,2.0l-0.0,2.0l-0.4,2.0l-1.3,1.5l-1.7,1.1l-1.9,0.5l-1.8,0.8l-1.4,1.4M1807.8,1217.2l1.0,1.7l1.2,1.6l1.4,1.5l1.3,1.5l1.5,1.3l1.2,1.6M1799.5,1211.8l1.7,1.1l1.5,1.3l1.7,1.0l1.6,1.1l1.8,0.9l1.9,0.6l2.0,0.3l2.0,0.1l1.8,-0.9l1.5,-1.3l1.7,-1.0l2.0,0.1M1802.6,1216.9l1.2,1.6l1.4,1.4l1.7,1.1l1.8,0.8l1.9,0.7l1.7,1.1l1.8,0.8l1.7,1.0l1.7,1.0l1.6,1.2l1.8,0.8M1810.0,1236.8l1.9,-0.5l2.0,-0.1l1.9,0.5l2.0,0.4M1813.6,1238.4l2.0,0l1.9,0.5l2.0,0.2l2.0,0.4M1798.1,1210.3l1.4,1.5l1.2,1.6l1.0,1.7l0.9,1.8l1.1,1.7l1.0,1.8l1.0,1.7l0.5,1.9l0.4,2.0l-0.0,2.0l0,2.0l0.2,2.0l0.5,1.9l1.2,1.6l1.5,1.3l1.8,0.8l1.8,0.8l1.7,1.1l1.8,1.0l2.0,0.2M1805.2,1207.6l1.4,1.4l1.6,1.2l1.7,1.1l1.5,1.3l1.7,1.1l1.8,1.0l1.3,1.5l1.7,1.1l1.4,1.4M1824.8,1206.3l1.6,-1.2l1.4,-1.4l1.5,-1.4M1803.3,1207.3l2.0,0.3l2.0,0.2l1.9,0.6l2.0,0.0l2.0,0.3l2.0,-0.1l1.9,-0.5l1.9,-0.6l1.9,-0.5l2.0,-0.3l1.9,-0.5l1.5,-1.3l1.1,-1.7M1816.3,1184.3l-1.0,-1.7l-0.3,-2.0l-0.8,-1.8M1807.1,1206.3l0.9,-1.8l0.9,-1.8l0.7,-1.9l0.5,-1.9l0.7,-1.9l0.9,-1.8l1.1,-1.7l1.1,-1.7l0.8,-1.9l0.5,-1.9l0.7,-1.9l0.4,-2.0l0.1,-2.0M1843.8,1208.5l1.9,0.7l2.0,0.1l1.8,0.9M1798.1,1210.3l1.7,-1.1l1.6,-1.1l1.8,-0.8l2.0,-0.4l1.9,-0.6l2.0,-0.4l1.8,-0.8l1.8,-0.8l1.9,-0.5l2.0,-0.1l2.0,-0.2l2.0,0.4l2.0,0.4l1.8,0.8l2.0,0.4l2.0,0.3l1.9,0.5l1.9,0.5l2.0,0.3l1.9,0.7l1.8,0.8l1.9,0.5l2.0,-0.3l2.0,-0.4M1798.1,1210.3l-1.4,1.4l-1.4,1.5l-1.5,1.4l-1.2,1.6l-1.0,1.7l-1.1,1.7l-1.1,1.6l-1.3,1.5l-1.2,1.6l-1.1,1.6l-0.1,2.0l-0.0,2.0l0,2.0l-0.1,2.0l-1.1,1.6l-1.4,1.4l-0.8,1.8l-0.5,1.9l-1.0,1.7l-0.6,1.9l0.5,1.9l0.5,1.9l0.6,1.9M1792.9,1234.4l0.6,1.9l-0.5,1.9l-0.5,1.9M1798.1,1210.3l-1.0,1.7l-0.8,1.8l-0.9,1.8l-0.7,1.9l-1.2,1.6l-0.9,1.8l-0.7,1.9l0.1,2.0l0.7,1.9l0.7,1.9l0.5,1.9l-0.6,1.9l-0.4,2.0l-0.6,1.9M1795.2,1227.6l-1.4,1.5l-1.0,1.7l-1.2,1.6l-1.2,1.6l-1.4,1.4M1794.6,1240.3l0.5,1.9l0.2,2.0l0.8,1.8M1792.0,1234.9l0.9,1.8l0.8,1.9l1.0,1.7l0.4,2.0M1798.1,1210.3l-0.9,1.8l-0.7,1.9l-0.5,1.9l0.3,2.0l0.4,2.0l0.1,2.0l-0.5,1.9l-0.7,1.9l-0.2,2.0l-0.9,1.8l-1.0,1.7l-0.8,1.9l-0.5,1.9l-0.8,1.8M1806.9,1223.3l2.0,0.3l1.9,0.6l2.0,0.4l1.8,0.8l1.3,1.5M1813.8,1232.2l-0.9,1.8M1798.1,1210.3l1.0,1.7l0.8,1.8l0.6,1.9l1.3,1.5l1.1,1.7l1.1,1.7l1.3,1.5l1.6,1.2l1.9,0.7l1.5,1.4l1.4,1.4l1.2,1.6l0.8,1.9l0.2,2.0M1798.1,1210.3l1.9,0.6l2.0,-0.3l2.0,-0.3l2.0,0.2l1.9,0.5l2.0,0.4l1.9,-0.6l1.7,-1.1l2.0,-0.1l2.0,0.1l2.0,0.2l1.9,-0.6l1.8,-0.8l1.7,-1.0l1.5,-1.3M1779.4,1210.2l-1.9,0.7l-1.9,0.5l-1.9,0.6M1794.8,1212.5l-2.0,0.4l-2.0,0.3l-2.0,0l-2.0,-0.4l-1.7,-1.0l-1.9,-0.7l-1.9,-0.5l-1.9,-0.5l-2.0,-0.4l-2.0,-0.1M1793.2,1213.7l-2.0,0l-2.0,-0.1l-2.0,0.2l-2.0,0.4l-2.0,0.3l-1.9,0.5l-1.9,0.6l-1.9,0.6l-1.9,0.7l-2.0,0.4M1790.6,1216.7l-0.1,2.0l0,2.0l-0.2,2.0l-0.2,2.0l-1.1,1.7l-1.1,1.7l-1.0,1.7M1798.1,1210.3l-1.8,0.8l-1.5,1.4l-1.6,1.2l-1.5,1.3l-1.1,1.7l-1.6,1.3l-1.1,1.6l-1.2,1.6l-1.0,1.8l-1.0,1.7l-0.7,1.9l-0.4,2.0l-1.2,1.6l-1.5,1.3l-0.8,1.8l-1.3,1.5M1806.8,1232.3l-0.5,1.9l0.1,2.0l-0.6,1.9l0.2,2.0l-0.1,2.0l-0.5,1.9l-0.0,2.0l-0.1,2.0M1798.1,1210.3l1.0,1.7l1.1,1.7l0.5,1.9l1.0,1.7l0.6,1.9l-0.0,2.0l0.3,2.0l0.6,1.9l0.9,1.8l1.0,1.7l0.8,1.8l1.0,1.7l1.1,1.7l1.0,1.8l1.3,1.5l1.1,1.6l0.8,1.8l0.4,2.0l0.4,2.0l0.3,2.0l0.4,2.0l1.1,1.7M1798.1,1210.3l-1.8,0.9l-1.7,1.0l-1.8,0.8l-1.6,1.2l-1.5,1.4l-1.6,1.2l-1.9,0.5l-1.5,1.3l-1.9,0.7l-1.6,1.1l-1.9,0.7l-2.0,0.3l-2.0,0.1l-2.0,0l-1.9,0.7l-1.8,0.8l-1.9,0.7l-1.9,0.6l-1.9,0.6M1805.0,1212.9l0,2.0l0.2,2.0l0,2.0l-0.6,1.9l-0.5,1.9l-0.6,1.9l-1.4,1.4l-1.2,1.6M1800.0,1209.8l1.9,0.7l1.7,1.1l1.4,1.4l1.2,1.6l1.5,1.3l1.7,1.1l1.9,0.5l1.9,0.5l2.0,0.4l2.0,0.1l2.0,0.3l1.9,0.6l1.6,1.1l1.6,1.2M1798.1,1210.3l1.9,-0.5l1.8,-0.8l2.0,-0.3l2.0,-0.3l2.0,-0.3l2.0,-0.1l1.9,-0.6l2.0,-0.4l2.0,0.0l2.0,-0.1l1.9,0.7l2.0,0.2l2.0,0.3l2.0,0.3l2.0,-0.1l2.0,0.1l2.0,0.2l2.0,-0.1l1.9,0.5l1.9,0.7l1.8,0.9l1.2,1.6M1810.6,1241.8l-0.3,2.0l-0.2,2.0l0.3,2.0M1800.0,1232.9l1.1,1.6l1.4,1.4l1.8,0.8l1.6,1.2l1.4,1.4l1.5,1.4l1.7,1.1M1803.1,1243.5l0.2,2.0l0,2.0l-0.1,2.0l0.4,2.0M1799.4,1238.7l1.2,1.6l1.3,1.5l1.2,1.6l1.5,1.3l1.6,1.1l1.6,1.3M1798.1,1210.3l0.7,1.9l0.8,1.9l1.2,1.6l0.8,1.8l0.3,2.0l0.2,2.0l0.3,2.0l0.4,2.0l-0.2,2.0l-0.8,1.8l-0.9,1.8l-0.7,1.9l-0.6,1.9l-0.2,2.0l0.3,2.0l0.1,2.0l0.8,1.8l0.7,1.9l1.2,1.6l1.1,1.6l1.3,1.5M1798.1,1210.3l-1.8,1.0l-1.9,0.6l-1.5,1.3l-1.5,1.3l-1.6,1.2l-1.4,1.5l-1.5,1.3l-1.3,1.5l-0.8,1.8l-0.6,1.9l-0.4,2.0l-0.3,2.0l-0.3,2.0l0.1,2.0l0,2.0l0.4,2.0l0.3,2.0" stroke="#471656" stroke-width="1.5" fill="none" stroke-linejoin="round"/>
<circle cx="1798.1" cy="1210.3" r="1.6" fill="#111"/>
<path d="M1900.0,1213.5l0.3,-2.5l-0.1,-2.5l0.1,-2.5l0.1,-2.5l0.2,-2.5l0.2,-2.5l0,-2.5l-0.0,-2.5l-0.1,-2.5l0.1,-2.5l0.3,-2.5l0.1,-2.5l0.1,-2.5l-0.1,-2.5l-0.2,-2.5l-0.3,-2.5l-0.2,-2.5l-0.2,-2.5l0,-2.5l0.1,-2.5l-0.1,-2.5l0,-2.5l0,-2.5l0,-2.5l0.3,-2.5l0.2,-2.5l0.4,-2.5l0.4,-2.5l0.4,-2.5l0.1,-2.5l0.1,-2.5l-0.1,-2.5l-0.3,-2.5l-0.3,-2.5l0.2,-2.5l0.4,-2.5l0,-2.5l0.1,-2.5l-0.1,-2.5l-0.0,-2.5M1893.0,1104.6l-2.2,-0.2l-2.1,-0.7l-2.1,-0.6l-2.2,-0.3l-2.1,-0.7M1902.4,1113.8l-1.5,-1.6l-1.5,-1.6l-1.6,-1.5l-1.5,-1.6l-1.5,-1.6l-1.8,-1.2l-2.0,-0.9l-2.0,-0.9l-1.9,-1.0l-1.8,-1.3l-1.7,-1.4l-1.7,-1.4M1902.4,1113.8l1.3,-1.7l1.1,-1.9l1.0,-1.9l0.8,-2.1l0.8,-2.0l0.6,-2.1l0.3,-2.2l0.3,-2.2l0.5,-2.1l0.4,-2.2l0.5,-2.1l0.9,-2.0l0.9,-2.0M1903.8,1098.5l1.4,-1.7l1.3,-1.8l1.1,-1.9l1.2,-1.9l1.3,-1.7l1.3,-1.7l1.3,-1.7M1902.4,1113.8l0.4,-2.2l0.2,-2.2l0.1,-2.2l0.1,-2.2l0,-2.2l0.3,-2.2l0.3,-2.2l-0.1,-2.2l-0.1,-2.2l-0.1,-2.2l0.2,-2.2l0.3,-2.2M1913.3,1103.6l2.1,0.6l2.1,0.5l2.2,-0.3l2.1,0.5M1902.4,1113.8l1.4,-1.7l1.3,-1.8l1.1,-1.9l1.3,-1.8l1.8,-1.2l1.9,-1.0l2.0,-0.9l2.2,-0.5l2.1,-0.8M1901.0,1148.6l1.8,-0.9l1.7,-1.0l1.5,-1.3l1.2,-1.6l1.3,-1.5M1901.0,1176.1l-1.6,-1.3l-1.5,-1.3l-1.6,-1.2l-1.6,-1.2l-1.5,-1.3l-1.9,-0.6M1900.3,1166.1l-1.8,-0.9l-1.6,-1.2l-1.3,-1.5l-1.3,-1.5l-1.6,-1.3l-1.0,-1.7l-1.4,-1.4l-1.5,-1.4" stroke="#7b3a8c" stroke-width="1.3" fill="none" stroke-linejoin="round"/>
<path d="M1897.3,1218.5l0.7,1.9l0.6,1.9l0.8,1.8l0.6,1.9l0.7,1.9l0.7,1.9l0.7,1.9l0.2,2.0M1892.9,1222.5l-0.7,1.9l-0.8,1.8l-0.8,1.8l-0.4,2.0l-0.5,1.9l-1.2,1.6M1899.8,1215.5l-1.5,1.3l-1.0,1.7l-1.2,1.6l-1.5,1.3l-1.7,1.1l-1.4,1.4l-1.2,1.6l-0.9,1.8l-1.3,1.5l-1.6,1.2l-1.2,1.6l-1.5,1.3l-1.7,1.0l-1.6,1.2M1879.3,1236.0l-1.8,-0.8l-2.0,-0.2M1899.1,1217.4l-1.6,1.2l-1.6,1.2l-1.5,1.3l-1.9,0.6l-1.5,1.3l-0.9,1.8l-1.1,1.7l-1.4,1.4l-0.8,1.8l-1.0,1.7l-1.9,0.7l-1.5,1.3l-1.4,1.4l-1.7,1.1M1896.9,1222.9l-1.9,0.5l-2.0,0.4l-2.0,0.1l-2.0,0.1l-2.0,0.3l-2.0,0.2l-2.0,0.1l-2.0,-0.3l-2.0,-0.4l-1.7,-1.0l-1.9,-0.6l-1.9,-0.8M1894.2,1225.7l-2.0,-0.2l-2.0,-0.1l-2.0,-0.1l-1.9,0.6l-1.8,0.9l-1.8,1.0l-1.7,1.1l-1.9,0.5l-2.0,0l-1.9,0.6l-1.5,1.3M1890.0,1233.7l-1.0,1.7l-1.2,1.6l-0.8,1.8l-1.0,1.7l-0.7,1.9l-0.7,1.9l-0.7,1.9M1889.7,1229.7l-0.2,2.0l0.5,1.9l0.4,1.9l0.4,1.9l0.6,1.9l0.7,1.9l1.0,1.7l1.0,1.7l1.0,1.7M1878.0,1245.6l0.3,2.0l-0.0,2.0l0.4,2.0M1900.0,1213.5l-0.2,2.0l-0.7,1.9l-0.7,1.9l-0.5,1.9l-1.0,1.7l-1.2,1.6l-1.6,1.2l-1.4,1.4l-1.6,1.2l-1.4,1.4l-1.3,1.5l-1.6,1.2l-1.6,1.2l-1.4,1.4l-1.3,1.5l-1.0,1.7l-1.1,1.7l-0.9,1.8l-0.8,1.8l-0.8,1.8l-0.7,1.9l-1.1,1.6M1897.1,1238.0l1.2,1.6l1.4,1.5l1.0,1.7M1893.5,1236.1l1.6,1.1l1.9,0.7M1901.9,1217.0l-1.1,1.7l-1.1,1.7l-0.9,1.8l-1.1,1.7l-1.5,1.3l-1.4,1.4l-0.8,1.8l-0.4,2.0l-0.1,2.0l-0.1,2.0l0.4,2.0M1903.5,1238.8l-0.4,2.0l-0.1,2.0l-1.0,1.7l-0.6,1.9M1902.5,1218.9l0,2.0l-0.1,2.0l0.3,2.0l0.1,2.0l0.1,2.0l-0.2,2.0l0.3,2.0l0.2,2.0l0.1,2.0l0.2,2.0l-0.2,2.0M1905.8,1231.8l2.0,0.4l2.0,0.4l1.7,1.0l1.8,0.9l1.7,1.1M1908.9,1237.0l0.3,2.0l0.2,2.0l-0.4,2.0M1903.4,1228.7l1.5,1.3l0.9,1.8l1.0,1.7l1.0,1.7l1.1,1.7l0.8,1.8l1.4,1.4l1.9,0.6M1902.6,1232.7l1.0,1.7l1.2,1.6l0.5,1.9l-0.2,2.0l0.2,2.0l0.3,2.0l0.7,1.9M1900.0,1213.5l1.2,1.6l0.7,1.9l0.6,1.9l0.5,1.9l-0.1,2.0l0.1,2.0l-0.1,2.0l0.6,1.9l-0.3,2.0l-0.5,1.9l-0.1,2.0l-0.1,2.0l-0.7,1.9l-0.7,1.9l-0.7,1.9l-0.7,1.9l-0.9,1.8l-0.6,1.9l-0.8,1.8M1873.9,1224.5l-1.2,-1.6l-1.6,-1.2l-2.0,-0.2M1898.1,1213.0l-1.3,1.5l-1.4,1.4l-1.4,1.5l-1.4,1.4l-1.8,1.0l-1.8,0.9l-2.0,0.2l-1.8,0.8l-1.8,0.8l-1.7,1.0l-1.7,1.0l-2.0,0.1l-2.0,-0.1l-2.0,0l-2.0,-0.4M1880.1,1197.3l-1.2,-1.6l-1.4,-1.5l-1.8,-0.9l-1.5,-1.3l-2.0,-0.2l-2.0,0M1879.7,1199.2l0.3,-2.0l0.6,-1.9l0.6,-1.9l0.6,-1.9l-0.1,-2.0M1878.6,1195.4l-1.9,-0.6l-1.8,-0.9l-1.6,-1.2M1874.9,1190.8l-0.4,-2.0l-1.1,-1.6l-1.2,-1.6M1885.7,1207.0l-1.1,-1.6l-1.6,-1.2l-1.5,-1.3l-0.7,-1.9l-1.0,-1.7l-0.5,-1.9l-0.7,-1.9l-0.9,-1.8l-1.2,-1.6l-1.6,-1.2l-1.5,-1.3M1875.6,1201.1l-1.7,1.0l-1.8,0.8l-1.6,1.1l-1.2,1.6l-1.5,1.3l-1.7,1.1l-1.7,1.1l-1.6,1.2M1856.1,1202.9l-1.5,1.3l-1.4,1.4l-1.8,0.9M1900.0,1213.5l-1.9,-0.5l-1.9,-0.6l-1.8,-0.9l-1.8,-0.9l-1.3,-1.5l-1.7,-1.0l-1.9,-0.5l-1.9,-0.7l-1.2,-1.6l-1.5,-1.4l-1.9,-0.6l-1.9,-0.7l-1.9,-0.5l-1.8,-1.0l-1.9,-0.7l-2.0,-0.4l-2.0,0.3l-2.0,0.1l-2.0,0.3l-2.0,0.2l-2.0,0.2l-1.8,0.9l-2.0,0.3l-2.0,0.4M1904.0,1213.5l1.3,1.5l0.5,1.9l0.8,1.8l1.1,1.7l0.7,1.9l0.5,1.9l-0.1,2.0l-0.3,2.0l-0.6,1.9l-0.4,2.0l-0.1,2.0l-0.2,2.0M1908.0,1213.4l1.6,-1.2l1.5,-1.3l1.6,-1.1l1.9,-0.6l1.9,-0.6l2.0,-0.1l1.5,-1.3l1.3,-1.5l1.2,-1.6l1.1,-1.7M1945.0,1211.2l2.0,-0.3l2.0,-0.4l1.9,-0.7M1939.7,1208.4l1.9,0.7l1.7,1.1l1.7,1.0M1935.8,1209.2l2.0,-0.3l1.9,-0.5M1900.0,1213.5l2.0,-0.1l2.0,0.0l2.0,-0.2l2.0,0.1l1.9,-0.5l1.9,-0.5l1.9,-0.6l1.6,-1.2l1.4,-1.4l1.9,-0.7l1.8,-0.9l1.9,-0.7l2.0,0l2.0,0.0l2.0,-0.2l2.0,0.2l2.0,0.4l1.8,0.8l1.6,1.1l1.7,1.0M1903.2,1222.1l1.0,1.7l0.8,1.8l0.5,1.9l0.8,1.8l1.6,1.3l1.2,1.6M1895.1,1233.1l-0.8,1.8l-1.1,1.7l-1.7,1.1l-1.3,1.6M1899.1,1228.9l-1.7,1.0l-0.7,1.9l-1.5,1.3l-1.8,0.9l-2.0,0.4M1894.7,1232.9l0.3,2.0l0.1,2.0M1904.1,1220.3l-1.0,1.8l-0.8,1.8l-1.1,1.7l-1.2,1.6l-1.0,1.7l-1.5,1.3l-1.8,0.9l-1.1,1.7M1906.0,1234.0l1.5,1.4l1.7,1.1l1.0,1.7l1.0,1.8l1.5,1.3M1906.7,1237.9l1.1,1.7l1.3,1.5l1.2,1.6M1900.0,1213.5l1.1,1.7l1.1,1.7l1.1,1.7l0.9,1.8l1.1,1.7l0.4,2.0l0,2.0l-0.1,2.0l0.1,2.0l0,2.0l0.4,2.0l0.1,2.0l0.6,1.9l1.4,1.4l1.2,1.6M1900.0,1213.5l2.0,0.1l2.0,0.3l1.9,0.7l1.8,0.8l2.0,0.2l2.0,0.4l2.0,0.2l2.0,-0.2l2.0,0.0l2.0,-0.3l1.9,-0.6l1.9,-0.6l1.8,-0.8l1.8,-0.9l1.5,-1.3l1.2,-1.6M1894.8,1219.4l1.0,1.7l1.2,1.6l1.4,1.4l1.2,1.6l1.1,1.6l1.6,1.1l1.6,1.2l1.6,1.2l1.0,1.7l0.7,1.9l0.6,1.9l0.4,2.0l0.4,2.0l0.7,1.9M1875.9,1238.3l-0.2,2.0l-0.4,2.0l-1.2,1.6M1886.5,1232.9l-1.8,0.8l-1.7,1.0l-1.7,1.1l-1.6,1.2l-1.9,0.6l-1.9,0.6l-1.9,0.7l-2.0,0.4l-1.9,0.5M1883.5,1235.5l0.3,2.0l-0.2,2.0l-0.5,1.9l-0.8,1.8l-0.4,2.0l0.1,2.0l-0.0,2.0M1880.5,1238.1l-2.0,0.1l-1.8,0.8l-2.0,0.0l-2.0,-0.4l-1.9,0.5l-2.0,0l-2.0,-0.3M1900.0,1213.5l-1.3,1.5l-1.2,1.6l-1.7,1.1l-1.1,1.7l-0.8,1.8l-0.9,1.8l-0.8,1.8l-0.7,1.9l-1.1,1.7l-1.4,1.4l-1.3,1.5l-1.3,1.5l-1.6,1.2l-1.5,1.4l-1.4,1.4l-1.6,1.2l-1.2,1.6l-1.2,1.6l-1.7,1.1l-1.3,1.5l-0.9,1.8l-1.1,1.7l-1.1,1.7l-1.2,1.6M1898.2,1212.5l-1.9,0.8l-1.7,1.0l-1.6,1.2l-1.3,1.5l-1.5,1.3l-1.7,1.0l-2.0,0.3l-1.7,1.1l-1.4,1.4l-1.1,1.6l-1.5,1.3l-1.2,1.6l-1.0,1.7l-1.2,1.6l-0.9,1.8M1900.0,1213.5l-1.8,-1.0l-1.7,-1.1l-1.3,-1.5l-1.4,-1.5l-0.2,-2.0l-1.1,-1.7l-1.3,-1.5l-1.4,-1.5l-1.0,-1.7l-1.1,-1.6l-1.1,-1.7l-0.9,-1.8l-1.2,-1.6l-1.4,-1.4l-1.1,-1.7l-1.5,-1.4l-1.4,-1.4l-1.7,-1.1l-1.1,-1.7l-1.2,-1.6l-1.5,-1.4l-1.6,-1.2l-1.8,-0.9l-1.6,-1.2M1894.4,1211.9l-2.0,-0.1l-2.0,0.3l-1.7,1.1l-1.7,1.1l-1.5,1.3l-1.9,0.7l-1.8,0.9M1884.8,1211.8l-1.5,-1.3l-1.8,-0.8l-1.5,-1.3l-1.5,-1.3M1892.7,1210.9l-2.0,0.1l-2.0,0.1l-2.0,0.3l-2.0,0.3l-1.9,0.4l-2.0,0.1l-2.0,-0.4M1889.1,1209.1l-1.9,0.5l-1.9,0.7l-1.3,1.5l-1.5,1.3l-1.4,1.4l-1.6,1.2l-1.5,1.3M1898.0,1213.6l-1.9,-0.6l-1.7,-1.1l-1.7,-1.0l-1.8,-1.0l-1.8,-0.8l-1.8,-0.8l-1.9,-0.5l-1.9,-0.5l-2.0,-0.4l-2.0,-0.4l-2.0,-0.2l-1.7,1.0M1896.0,1213.8l-1.6,1.3l-1.4,1.4l-1.9,0.7l-1.7,1.1l-1.4,1.4l-1.7,1.1l-1.9,0.5l-1.7,1.0l-1.7,1.1l-1.8,0.8l-1.5,1.3M1900.0,1213.5l-2.0,0.1l-2.0,0.2l-1.9,0.5l-1.9,0.5l-2.0,0l-2.0,0.1l-1.9,-0.6l-1.9,-0.6l-1.7,-1.0l-2.0,-0.2l-2.0,0.2l-2.0,-0.1l-1.9,0.6l-1.9,0.5l-1.9,0.6l-2.0,0l-2.0,0.0l-1.9,0.7l-1.9,0.7M1892.0,1202.7l0.8,-1.8l0.1,-2.0l1.0,-1.7l1.6,-1.2l1.7,-1.1l1.6,-1.2l1.5,-1.3M1891.1,1198.8l-1.5,-1.4l-1.2,-1.6l-1.0,-1.7l-1.3,-1.5l-1.0,-1.7M1898.1,1212.9l-1.2,-1.6l-1.3,-1.5l-1.3,-1.5l-1.0,-1.7l-0.8,-1.8l-0.6,-1.9l-0.3,-2.0l-0.5,-1.9l-0.4,-2.0l-0.1,-2.0l-0.4,-2.0l-0.6,-1.9l-0.7,-1.9l-1.0,-1.7M1864.7,1204.7l-2.0,0.1l-2.0,0l-2.0,0M1866.4,1205.8l-1.7,-1.1l-1.5,-1.3l-1.0,-1.7l-0.6,-1.9M1879.7,1201.8l-1.9,0.8l-2.0,0.3l-1.9,0.5l-2.0,0.3l-1.8,0.9l-1.9,0.7l-1.9,0.6l-2.0,0.4l-1.9,0.6M1873.5,1189.4l-1.6,-1.3l-1.6,-1.1l-1.7,-1.1l-1.3,-1.5M1900.0,1213.5l-1.9,-0.6l-1.6,-1.1l-1.8,-0.8l-1.6,-1.1l-1.8,-0.9l-1.3,-1.5l-1.4,-1.4l-1.7,-1.0l-2.0,-0.3l-2.0,-0.3l-1.6,-1.2l-1.5,-1.3l-1.2,-1.6l-1.0,-1.7l-1.0,-1.7l-1.1,-1.7l-0.8,-1.8l-0.5,-1.9l-0.6,-1.9l-0.5,-1.9l-1.3,-1.5l-1.2,-1.6l-1.2,-1.6l-1.3,-1.5M1890.9,1220.9l-2.0,0.2l-1.9,0.6l-1.7,1.0l-1.9,0.6l-2.0,0.2l-2.0,0.2l-2.0,0.3l-1.9,0.4l-2.0,0.1l-2.0,0.0l-2.0,-0.4M1876.4,1227.4l-1.6,1.2l-0.7,1.9l-1.5,1.3l-1.6,1.2l-1.5,1.3l-1.2,1.6M1862.4,1238.0l-1.2,1.6l-1.8,0.9l-1.7,1.0M1864.4,1238.0l-2.0,0.0l-2.0,0.3l-2.0,0.1M1900.0,1213.5l-1.0,1.7l-1.4,1.4l-1.7,1.0l-1.7,1.0l-1.8,0.9l-1.4,1.4l-1.6,1.1l-1.9,0.6l-1.9,0.6l-1.8,0.9l-1.7,1.1l-1.8,0.9l-1.9,0.5l-1.9,0.7l-1.6,1.2l-1.5,1.3l-1.4,1.4l-1.6,1.3l-1.7,1.1l-1.3,1.5l-1.5,1.3l-1.3,1.6M1900.0,1213.5l-1.9,0.5l-1.9,0.7l-2.0,0.2l-1.9,0.5l-2.0,-0.1l-1.9,0.7l-1.8,0.8l-1.4,1.4l-1.3,1.5l-1.4,1.4l-1.5,1.3l-1.5,1.4l-1.7,1.1M1883.6,1206.9l-0.8,-1.8l-0.5,-1.9l0.3,-2.0l-0.0,-2.0l0.6,-1.9l0.5,-1.9l0.1,-2.0l0.1,-2.0l-0.4,-2.0l-1.1,-1.7l-1.2,-1.6l-0.8,-1.8M1900.0,1213.5l-1.9,-0.7l-2.0,-0.2l-1.9,-0.5l-1.4,-1.4l-1.8,-0.9l-1.9,-0.6l-1.8,-0.9l-1.9,-0.7l-1.9,-0.7l-2.0,0.3l-2.0,0.4l-2.0,-0.2l-2.0,-0.4l-1.8,-0.8l-1.7,-1.0l-1.8,-0.9l-1.5,-1.3l-1.9,-0.6l-1.9,-0.8l-1.9,-0.7l-1.9,-0.5l-1.9,-0.5l-1.9,-0.6l-2.0,-0.4M1887.5,1209.5l-2.0,0l-1.9,-0.5l-1.9,-0.5l-1.8,-0.8l-1.7,-1.0l-2.0,-0.4l-2.0,0.1l-2.0,-0.4l-1.9,-0.7l-1.6,-1.2l-1.4,-1.4M1884.7,1206.7l0.4,-2.0l0.3,-2.0l0.4,-2.0l0.2,-2.0l0.2,-2.0l-0.1,-2.0l-0.2,-2.0l0.1,-2.0l-0.0,-2.0l0.1,-2.0M1876.6,1186.2l-1.9,0.6l-2.0,0.2l-2.0,0.3M1872.7,1186.4l-1.9,-0.5l-2.0,0M1900.0,1213.5l-1.9,0.5l-2.0,0.2l-2.0,-0.4l-1.8,-0.9l-1.7,-1.0l-1.8,-1.0l-1.4,-1.5l-1.4,-1.5l-1.4,-1.4l-0.9,-1.8l-0.9,-1.8l-0.4,-2.0l0.1,-2.0l0.4,-2.0l0.2,-2.0l0.1,-2.0l-0.8,-1.8l-1.0,-1.7l-1.1,-1.7l-1.7,-1.0l-1.9,-0.7l-2.0,-0.3l-1.9,0.5M1899.3,1231.2l1.5,1.3l1.4,1.5l1.2,1.6l1.6,1.2l1.9,0.5l2.0,0.3M1900.0,1213.5l-0.5,1.9l-0.7,1.9l-0.2,2.0l-0.0,2.0l0.5,1.9l0.1,2.0l0.3,2.0l-0.2,2.0l0.1,2.0l0.5,1.9l0.4,2.0l0.8,1.8l1.0,1.7l0.7,1.9l-0.0,2.0l-0.3,2.0M1923.3,1211.9l1.2,-1.6l-0.1,-2.0M1900.0,1213.5l2.0,0.4l2.0,0.4l2.0,0.1l2.0,0.3l1.9,-0.6l2.0,-0.3l1.9,-0.7l2.0,-0.2l2.0,0.4l2.0,0.1l1.9,-0.6l1.8,-0.9l1.9,-0.5M1926.8,1212.1l2.0,-0.3l1.9,-0.6l2.0,-0.1l2.0,-0.2M1928.7,1212.9l1.9,-0.5l1.9,-0.7l1.9,-0.7M1925.2,1210.8l1.6,1.2l1.8,0.8l1.7,1.0M1921.4,1211.6l1.9,-0.7l2.0,-0.1l2.0,-0.2l2.0,0.1l1.9,0.4l2.0,-0.1M1900.0,1213.5l1.9,0.5l2.0,0.3l2.0,0.2l2.0,0.1l2.0,-0.3l1.9,-0.7l1.9,-0.7l1.9,-0.6l1.8,-0.8l2.0,0l2.0,0.2l1.8,0.9l1.9,0.6l1.8,0.8l1.9,0.5l2.0,0.4l2.0,0.1M1899.4,1215.4l-1.2,1.6l-1.5,1.3l-1.2,1.6l-1.3,1.5l-1.1,1.6l-1.2,1.6l-1.5,1.3l-1.5,1.3l-1.4,1.5l-1.6,1.2l-1.7,1.1l-1.4,1.4M1897.2,1230.7l-0.3,2.0l-0.2,2.0l0.1,2.0l0.5,1.9l0,2.0l0.6,1.9l0.6,1.9M1907.2,1242.7l-0.3,2.0l-0.7,1.9M1900.0,1213.5l-0.6,1.9l-0.5,1.9l-1.0,1.7l-0.7,1.9l-0.8,1.8l-0.2,2.0l0.3,2.0l0.4,2.0l0.3,2.0l0.5,1.9l1.1,1.6l1.1,1.7l1.3,1.5l1.7,1.1l1.7,1.1l1.4,1.4l1.2,1.6" stroke="#471656" stroke-width="1.5" fill="none" stroke-linejoin="round"/>
<circle cx="1900.0" cy="1213.5" r="1.6" fill="#111"/>
<path d="M908.9,1466.2l-0.0,-2.5l0.2,-2.5l0.1,-2.5l-0.1,-2.5l-0.1,-2.5l0.2,-2.5l0.3,-2.5l0.4,-2.5l0.5,-2.5l0.4,-2.5l0.4,-2.5l0.3,-2.5l0.2,-2.5l0.1,-2.5l-0.0,-2.5l0.1,-2.5l0.1,-2.5l0.3,-2.5l0,-2.5l0,-2.5l0.1,-2.5l0.2,-2.5l0,-2.5l-0.1,-2.5l-0.6,-2.4l-0.6,-2.4l-0.4,-2.5l-0.2,-2.5l-0.5,-2.5l-0.2,-2.5l-0.4,-2.5l-0.3,-2.5l-0.5,-2.4l-0.3,-2.5l-0.5,-2.5l-0.3,-2.5l-0.4,-2.5l-0.4,-2.5l-0.2,-2.5l0.1,-2.5l0.3,-2.5l0.2,-2.5l0.3,-2.5l0.4,-2.5l0.2,-2.5l0.2,-2.5l-0.0,-2.5M908.3,1349.5l-1.2,-1.9l-1.5,-1.6l-1.5,-1.6l-1.6,-1.5M908.3,1349.5l-0.5,-2.1l-0.4,-2.2l-0.2,-2.2l-0.0,-2.2l-0.4,-2.2M908.3,1349.5l-0.6,-2.1l-0.8,-2.1l-0.5,-2.1l-0.8,-2.0l-0.5,-2.1M911.7,1431.4l1.3,-1.5l1.4,-1.4l1.5,-1.3l1.6,-1.2l1.8,-0.9l1.5,-1.3l1.3,-1.5l1.1,-1.6l1.4,-1.5" stroke="#6b1a12" stroke-width="1.3" fill="none" stroke-linejoin="round"/>
<path d="M928.1,1471.2l1.6,1.2l1.5,1.3l1.5,1.3l1.4,1.5l1.5,1.4l1.5,1.3l1.5,1.3l1.5,1.3l1.4,1.4l1.5,1.4M958.4,1471.9l2.0,0.1l2.0,0.2l2.0,0.1M949.6,1467.2l1.8,0.8l1.8,0.9l1.7,1.1l1.7,1.0l1.8,0.9M926.1,1471.4l2.0,-0.3l2.0,-0.3l1.9,-0.5l1.9,-0.6l1.9,-0.6l2.0,-0.4l2.0,-0.3l2.0,-0.2l2.0,-0.3l2.0,-0.3l2.0,-0.2l2.0,-0.4l1.9,-0.5l2.0,-0.4l1.9,-0.5l1.9,-0.6M908.9,1466.2l1.9,0.7l1.9,0.6l2.0,0.4l2.0,0.4l1.9,0.7l1.9,0.7l1.9,0.7l1.9,0.6l1.9,0.5l1.9,0.5l1.9,0.5l2.0,0.4l2.0,0.3l2.0,0.3l1.9,0.5l2.0,0.4l1.9,0.5l1.9,0.6l2.0,0.4l2.0,0.3l2.0,0.4l2.0,0.3l1.9,0.5l2.0,0.4l2.0,0.4l1.9,0.6l1.9,0.6l1.9,0.5l1.9,0.5l1.9,0.6l1.9,0.6l1.9,0.5l2.0,0.4M908.5,1498.0l1.6,1.2l1.5,1.3l1.7,1.1l1.7,1.1l1.7,1.1l1.7,1.1l1.7,1.1l1.7,1.1l1.8,0.8l1.8,0.9l1.8,1.0M908.9,1466.2l-0.5,1.9l-0.4,2.0l-0.2,2.0l-0.2,2.0l-0.2,2.0l-0.0,2.0l-0.2,2.0l0,2.0l0.1,2.0l0.1,2.0l0.2,2.0l0.2,2.0l0.1,2.0l0,2.0l0.3,2.0l0.2,2.0l0.3,2.0l0.3,2.0l0.1,2.0l0,2.0l0.1,2.0l-0.0,2.0l-0.1,2.0l-0.0,2.0l-0.1,2.0l-0.0,2.0l0.1,2.0l0.2,2.0l0.1,2.0l0.2,2.0l0.3,2.0l0.1,2.0l0.2,2.0M908.9,1466.2l-0.3,2.0l-0.3,2.0l-0.3,2.0l-0.3,2.0l-0.3,2.0l-0.2,2.0l-0.2,2.0l0,2.0l0.1,2.0l-0.0,2.0l0.1,2.0l0.1,2.0l0,2.0l-0.1,2.0l-0.2,2.0l-0.3,2.0l-0.5,1.9l-0.4,2.0l-0.5,1.9l-0.4,2.0l-0.5,1.9l-0.5,1.9l-0.5,1.9l-0.5,1.9l-0.6,1.9l-0.6,1.9M932.5,1536.0l1.5,1.3l1.6,1.2M908.9,1466.2l0.9,1.8l0.9,1.8l1.1,1.7l0.9,1.8l0.9,1.8l0.7,1.9l0.9,1.8l0.7,1.9l0.6,1.9l0.7,1.9l0.4,2.0l0.3,2.0l0.6,1.9l0.6,1.9l0.6,1.9l0.7,1.9l0.8,1.9l0.7,1.9l0.8,1.8l0.7,1.9l0.6,1.9l0.6,1.9l0.6,1.9l0.5,1.9l0.6,1.9l0.6,1.9l0.7,1.9l0.7,1.9l0.5,1.9l0.5,1.9l0.4,2.0l0.4,2.0l0.4,1.9l0.5,1.9l0.6,1.9l0.5,1.9l0.6,1.9l0.5,1.9M922.5,1469.3l1.9,-0.8l1.9,-0.5l2.0,-0.4l1.9,-0.6l2.0,-0.4l1.9,-0.5l1.9,-0.5l2.0,-0.4l2.0,-0.3l2.0,-0.3l2.0,-0.3l2.0,-0.4l1.9,-0.5l2.0,-0.4M908.9,1466.2l2.0,0.3l2.0,0.3l1.9,0.5l1.9,0.5l1.9,0.5l1.9,0.6l2.0,0.3l2.0,0.2l2.0,0.2l2.0,0.1l2.0,0.1l2.0,0.2l2.0,0.3l2.0,0.4l2.0,0.3l2.0,0.3l2.0,0.3l2.0,0.2l1.9,0.4l1.9,0.6l1.9,0.6l2.0,0.2l2.0,0.4l2.0,0.1l2.0,0.3l2.0,0.3l2.0,0.2M902.9,1481.0l-1.9,0.8l-1.9,0.6l-1.9,0.7l-1.9,0.6l-1.9,0.7l-2.0,0.3l-2.0,0.3l-2.0,0.3l-2.0,0.3l-1.9,0.5l-1.9,0.6l-1.8,0.9l-1.8,0.9l-1.8,0.9l-1.9,0.7l-1.8,1.0l-1.7,1.0l-1.7,1.0l-1.8,0.9l-1.8,0.9l-1.7,1.0M908.9,1466.2l-0.8,1.8l-0.7,1.9l-0.8,1.8l-0.5,1.9l-0.5,1.9l-0.9,1.8l-0.8,1.8l-0.9,1.8l-0.9,1.8l-0.9,1.8l-0.9,1.8l-0.8,1.8l-0.8,1.8l-0.8,1.9l-0.8,1.8l-0.5,1.9l-0.5,1.9l-0.7,1.9l-0.7,1.9l-0.8,1.8l-1.1,1.6l-1.1,1.7l-1.1,1.6l-1.2,1.6l-1.1,1.7l-1.1,1.7l-1.2,1.6l-1.3,1.6l-1.0,1.7l-1.1,1.7l-1.0,1.7l-0.9,1.8l-0.6,1.9l-0.5,1.9l-0.4,2.0l-0.5,1.9l-0.8,1.8l-0.8,1.8l-0.7,1.9l-0.5,1.9l-0.4,2.0M908.9,1466.2l-1.3,1.5l-1.1,1.7l-1.2,1.6l-1.0,1.8l-1.1,1.7l-1.2,1.6l-1.3,1.6l-1.2,1.6l-1.2,1.6l-1.1,1.6l-1.3,1.6l-1.3,1.5l-1.3,1.5l-1.3,1.5l-1.4,1.5l-1.5,1.3l-1.5,1.3l-1.5,1.3l-1.4,1.4l-1.3,1.5l-1.3,1.5l-1.4,1.5l-1.4,1.5l-1.4,1.4l-1.4,1.4l-1.6,1.3" stroke="#6b1a12" stroke-width="1.5" fill="none" stroke-linejoin="round"/>
<circle cx="908.9" cy="1466.2" r="1.6" fill="#111"/>
<path d="M1010.5,1467.2l-0.0,-2.5l0.2,-2.5l-0.0,-2.5l0.2,-2.5l0.2,-2.5l-0.1,-2.5l-0.2,-2.5l-0.0,-2.5l-0.3,-2.5l-0.4,-2.5l-0.4,-2.5l-0.2,-2.5l-0.1,-2.5l-0.2,-2.5l-0.4,-2.5l-0.3,-2.5l-0.2,-2.5l-0.1,-2.5l-0.1,-2.5l-0.1,-2.5l-0.1,-2.5l0.2,-2.5l0,-2.5l0,-2.5l-0.0,-2.5l0.2,-2.5l-0.2,-2.5l-0.3,-2.5l0.1,-2.5l0,-2.5l0.2,-2.5l0.3,-2.5l0.1,-2.5l0.1,-2.5l0.2,-2.5l0.1,-2.5l0.2,-2.5l-0.1,-2.5l-0.2,-2.5l0,-2.5l-0.1,-2.5l0.1,-2.5l0.4,-2.5l0.2,-2.5l-0.3,-2.5l-0.2,-2.5l0.3,-2.5l0.2,-2.5M1009.3,1338.9l-1.2,-1.8M1009.4,1347.6l-0.2,-2.2l-0.1,-2.2l-0.3,-2.2l0.4,-2.2l-0.0,-2.2M1009.4,1347.6l-1.2,-1.8l-0.6,-2.1l-0.3,-2.2l-0.8,-2.1l-1.2,-1.9M1009.4,1347.6l0.2,-2.2l0.2,-2.2l0.1,-2.2l-0.1,-2.2M1009.3,1437.3l1.5,-1.4l1.3,-1.5l1.3,-1.5l1.2,-1.6" stroke="#6b1a12" stroke-width="1.3" fill="none" stroke-linejoin="round"/>
<path d="M985.8,1492.5l0.4,2.0l0.5,1.9l0.4,2.0l0.4,2.0M1010.5,1467.2l-1.5,1.3l-1.5,1.4l-1.5,1.4l-1.5,1.3l-1.7,1.1l-1.7,1.1l-1.7,1.0l-1.6,1.2l-1.6,1.2l-1.6,1.2l-1.5,1.3l-1.3,1.5l-1.2,1.6l-1.1,1.7l-1.0,1.7l-0.8,1.8l-0.9,1.8l-0.9,1.8l-1.1,1.6l-1.1,1.6l-1.2,1.6l-1.3,1.5M1007.6,1469.9l-2.0,-0.1l-2.0,-0.1l-2.0,-0.1l-2.0,-0.1l-2.0,-0.1l-2.0,-0.1l-2.0,-0.2l-2.0,-0.4l-1.9,-0.5l-1.9,-0.5l-1.9,-0.7l-1.9,-0.7l-1.9,-0.6l-1.9,-0.6l-1.9,-0.5l-1.9,-0.6l-1.9,-0.5l-1.9,-0.5l-1.9,-0.5l-1.9,-0.6M960.2,1506.5l-0.5,1.9l-0.5,1.9l-0.5,1.9l-0.5,1.9M1010.5,1467.2l-1.4,1.4l-1.5,1.3l-1.5,1.4l-1.5,1.3l-1.6,1.2l-1.7,1.0l-1.7,1.1l-1.7,1.1l-1.7,1.0l-1.7,1.1l-1.6,1.2l-1.6,1.2l-1.6,1.2l-1.4,1.4l-1.5,1.3l-1.5,1.3l-1.6,1.2l-1.5,1.3l-1.6,1.2l-1.6,1.2l-1.6,1.2l-1.5,1.3l-1.6,1.2l-1.6,1.2l-1.6,1.2l-1.6,1.2l-1.5,1.3l-1.7,1.1l-1.6,1.2l-1.6,1.2l-1.4,1.4l-1.4,1.4l-1.5,1.3l-1.7,1.1l-1.6,1.2M971.8,1495.3l-0.0,2.0l0,2.0l0.2,2.0l0.2,2.0l0.2,2.0l0.1,2.0l0.2,2.0l0,2.0l-0.1,2.0l-0.2,2.0l-0.2,2.0l-0.0,2.0M950.5,1510.2l-0.4,2.0l-0.3,2.0l-0.4,2.0M1010.5,1467.2l-1.6,1.2l-1.6,1.2l-1.4,1.4l-1.4,1.4l-1.4,1.4l-1.4,1.4l-1.6,1.2l-1.6,1.2l-1.7,1.1l-1.7,1.0l-1.7,1.1l-1.6,1.1l-1.6,1.2l-1.7,1.1l-1.7,1.1l-1.7,1.1l-1.7,1.0l-1.7,1.1l-1.5,1.3l-1.7,1.0l-1.7,1.1l-1.7,1.1l-1.7,1.0l-1.5,1.3l-1.6,1.2l-1.5,1.3l-1.6,1.2l-1.7,1.1l-1.7,1.1l-1.7,1.1l-1.6,1.2l-1.7,1.1l-1.6,1.2l-1.6,1.1l-1.6,1.2l-1.7,1.1l-1.7,1.1l-1.7,1.1l-1.7,1.0M1010.5,1467.2l-1.5,1.4l-1.5,1.3l-1.6,1.2l-1.6,1.2l-1.5,1.3l-1.6,1.2l-1.7,1.0l-1.7,1.0l-1.7,1.1l-1.5,1.3l-1.5,1.4l-1.6,1.2l-1.4,1.4l-1.6,1.3l-1.7,1.1l-1.6,1.1l-1.5,1.3l-1.6,1.2l-1.5,1.3l-1.5,1.3l-1.6,1.2l-1.6,1.2l-1.8,0.9M1010.5,1467.2l-0.9,1.8l-0.8,1.8l-0.8,1.8l-0.6,1.9l-0.5,1.9l-0.6,1.9l-0.5,1.9l-0.6,1.9l-0.8,1.8l-0.8,1.8l-0.7,1.9l-0.7,1.9l-0.7,1.9l-0.8,1.9l-0.7,1.9l-0.8,1.9l-0.8,1.8l-0.9,1.8l-0.9,1.8l-0.8,1.8l-0.9,1.8M1045.1,1502.6l0,2.0M1012.4,1467.9l1.4,1.4l1.5,1.3l1.4,1.4l1.4,1.4l1.4,1.4l1.5,1.3l1.4,1.4l1.3,1.5l1.4,1.4l1.5,1.3l1.5,1.3l1.6,1.2l1.5,1.3l1.4,1.4l1.5,1.4l1.4,1.4l1.5,1.4l1.4,1.4l1.4,1.4l1.2,1.6l1.1,1.7l1.0,1.7l1.0,1.7l0.9,1.8M1010.5,1467.2l1.9,0.7l1.9,0.7l1.8,0.9l1.8,0.8l1.9,0.7l1.8,0.8l1.9,0.5l1.9,0.7l1.9,0.7l1.8,0.8l1.9,0.6l1.8,0.8l1.8,1.0l1.7,1.1l1.7,1.0l1.8,0.9l1.8,0.9l1.8,0.8l1.8,0.8l1.8,0.9l1.8,0.9l1.8,0.8l1.9,0.7l1.9,0.6l2.0,0.4l2.0,0.4l1.9,0.6l1.9,0.5l1.9,0.7l1.9,0.7l1.9,0.7l1.9,0.6l1.9,0.7l1.7,1.0l1.7,1.0l1.7,1.0l1.8,0.8l1.8,0.8l1.7,1.1M1031.9,1502.2l-0.7,1.9l-0.8,1.8M1014.2,1468.8l1.1,1.7l1.2,1.6l1.1,1.7l1.1,1.6l1.0,1.7l0.9,1.8l0.9,1.8l0.7,1.9l0.8,1.8l0.7,1.9l0.7,1.9l0.7,1.9l0.7,1.9l1.0,1.7l1.1,1.6l0.9,1.8l0.9,1.8l1.0,1.7l1.1,1.7l1.0,1.7M1028.6,1475.6l1.4,1.4l1.4,1.4l1.3,1.5l1.6,1.2l1.6,1.3l1.6,1.2l1.5,1.3l1.5,1.3l1.5,1.3l1.6,1.2l1.6,1.2l1.6,1.2l1.6,1.1l1.7,1.0l1.7,1.0l1.7,1.0l1.7,1.1M1064.2,1480.3l1.9,-0.5l1.9,-0.5l1.9,-0.6l1.9,-0.7l1.9,-0.7l1.9,-0.5l1.9,-0.6M1075.9,1478.1l1.3,-1.5l1.3,-1.5l1.2,-1.6M1066.2,1480.3l1.9,-0.7l2.0,-0.4l1.9,-0.4l2.0,-0.4l2.0,-0.3l2.0,-0.4M1010.5,1467.2l1.9,0.7l1.8,0.8l1.8,0.8l1.7,1.0l1.8,0.9l1.8,0.9l1.8,0.9l1.8,0.9l1.8,0.8l1.9,0.7l1.9,0.5l1.9,0.5l2.0,0.4l2.0,0.4l2.0,0.4l2.0,0.4l2.0,0.4l2.0,0.3l2.0,0.2l2.0,0.1l2.0,0.3l2.0,0.3l2.0,0.2l2.0,0.0l2.0,0.1l2.0,0.0l2.0,0.0l2.0,0.2l2.0,0l2.0,-0.1l2.0,-0.3l2.0,-0.1l2.0,-0.2l2.0,-0.2l2.0,-0.2l2.0,0" stroke="#6b1a12" stroke-width="1.5" fill="none" stroke-linejoin="round"/>
<circle cx="1010.5" cy="1467.2" r="1.6" fill="#111"/>
<path d="M1126.6,1469.4l0.1,-2.5l-0.1,-2.5l0.2,-2.5l-0.2,-2.5l-0.3,-2.5l-0.1,-2.5l0.3,-2.5l0.5,-2.5l0.6,-2.4l0.4,-2.5l-0.2,-2.5l0.1,-2.5l0.1,-2.5l-0.0,-2.5l-0.1,-2.5l-0.2,-2.5l-0.0,-2.5l0,-2.5l-0.0,-2.5l-0.4,-2.5l-0.1,-2.5l-0.0,-2.5l-0.2,-2.5l0.1,-2.5l-0.0,-2.5l-0.0,-2.5l-0.0,-2.5l-0.3,-2.5l-0.3,-2.5l-0.3,-2.5l-0.6,-2.4l-0.1,-2.5l-0.2,-2.5l-0.2,-2.5l0.1,-2.5l0.3,-2.5l0.3,-2.5l0.2,-2.5l0,-2.5l-0.2,-2.5l0,-2.5l0.1,-2.5l-0.0,-2.5l0.1,-2.5l0.1,-2.5l0,-2.5l-0.1,-2.5l-0.2,-2.5l-0.4,-2.5M1125.4,1347.4l-0.8,-2.0l-1.1,-1.9l-1.2,-1.8l-1.3,-1.8l-1.0,-2.0M1125.4,1347.4l1.0,-2.0l1.1,-1.9l1.0,-2.0l0.9,-2.0l0.7,-2.1M1125.4,1347.4l-0.1,-2.2l0.1,-2.2l-0.1,-2.2l-0.0,-2.2M1127.8,1427.1l-1.5,-1.3l-1.8,-0.8l-1.6,-1.2l-1.8,-0.8l-1.7,-1.1l-1.8,-0.8l-1.6,-1.2" stroke="#6b1a12" stroke-width="1.3" fill="none" stroke-linejoin="round"/>
<path d="M1133.9,1476.1l0.6,1.9l0.5,1.9l0.7,1.9l0.9,1.8l1.1,1.7l0.8,1.8l0.5,1.9l0.5,1.9l0.4,2.0l0.4,2.0l0.5,1.9M1136.7,1479.0l0.2,2.0l0.2,2.0l0.1,2.0l-0.0,2.0l-0.1,2.0l0,2.0l-0.1,2.0l0.2,2.0l0.1,2.0l0.3,2.0l0.1,2.0M1149.3,1491.8l0,2.0l0,2.0l0.1,2.0l-0.0,2.0l-0.1,2.0l-0.2,2.0M1126.6,1469.4l1.3,1.5l1.4,1.4l1.5,1.4l1.5,1.3l1.7,1.1l1.6,1.3l1.2,1.6l1.4,1.4l1.4,1.4l1.4,1.4l1.4,1.4l1.5,1.3l1.4,1.4l1.3,1.5l1.3,1.5l1.4,1.5l1.5,1.3l1.5,1.3l1.5,1.3l1.2,1.6l1.2,1.6l1.3,1.5M1126.6,1469.4l1.1,1.7l1.1,1.7l1.2,1.6l1.3,1.5l1.3,1.5l1.3,1.5l1.4,1.5l1.4,1.4l1.4,1.5l1.5,1.3l1.6,1.3l1.4,1.4l1.4,1.4l1.4,1.4l1.5,1.3l1.6,1.2l1.7,1.1l1.6,1.3l1.6,1.2l1.5,1.3l1.5,1.3l1.5,1.4l1.3,1.5l1.5,1.3l1.4,1.4M1126.6,1509.2l-1.5,1.3l-1.6,1.2M1125.9,1471.3l0.1,2.0l0.1,2.0l0.1,2.0l0.4,2.0l0.1,2.0l0,2.0l0.2,2.0l0.1,2.0l0,2.0l-0.2,2.0l-0.1,2.0l-0.1,2.0l0,2.0l-0.1,2.0l-0.0,2.0l-0.0,2.0l0.1,2.0l0.1,2.0l-0.1,2.0M1116.2,1527.9l-1.7,1.1l-1.7,1.1l-1.6,1.2M1126.6,1469.4l-0.7,1.9l-0.8,1.8l-0.7,1.9l-0.7,1.9l-0.7,1.9l-0.6,1.9l-0.4,2.0l-0.3,2.0l-0.1,2.0l0,2.0l-0.2,2.0l-0.4,2.0l-0.3,2.0l-0.3,2.0l-0.4,2.0l-0.4,1.9l-0.3,2.0l-0.2,2.0l-0.1,2.0l0.2,2.0l0.1,2.0l-0.1,2.0l-0.0,2.0l-0.1,2.0l-0.1,2.0l-0.3,2.0l-0.4,2.0l-0.6,1.9l-0.7,1.9l-0.8,1.8l-0.7,1.9l-0.5,1.9M1113.8,1477.3l-1.9,0.6l-1.9,0.7l-1.9,0.7l-1.9,0.7l-1.9,0.6l-2.0,0.4l-2.0,0.4l-1.9,0.5l-1.9,0.7l-1.8,0.9l-1.7,1.1l-1.5,1.3l-1.7,1.1l-1.6,1.2M1106.4,1491.5l-1.8,0.8l-1.7,1.0l-1.8,0.9l-1.9,0.7l-1.9,0.8l-1.8,0.8l-1.8,0.9l-1.8,0.8l-1.9,0.8M1115.4,1473.7l-0.7,1.9l-0.9,1.8l-0.9,1.8l-1.0,1.7l-1.0,1.7l-1.1,1.7l-0.9,1.8l-1.0,1.8l-0.8,1.8l-0.7,1.9l-0.9,1.8l-0.9,1.8l-0.8,1.8l-0.7,1.9l-0.7,1.9l-0.9,1.8l-1.1,1.7l-1.0,1.7l-1.1,1.7l-1.1,1.7l-0.9,1.8l-0.9,1.8M1101.0,1483.8l-2.0,-0.1l-2.0,-0.1l-2.0,-0.2l-2.0,-0.1l-2.0,-0.2l-2.0,0.1l-2.0,0.3l-2.0,0.4l-2.0,0.4l-1.9,0.5l-2.0,0.3M1104.8,1479.2l-1.3,1.5l-1.2,1.6l-1.3,1.6l-1.2,1.6l-1.3,1.5l-1.4,1.4l-1.4,1.5l-1.4,1.4l-1.5,1.4l-1.5,1.4l-1.6,1.2l-1.7,1.1l-1.7,1.1l-1.6,1.2l-1.6,1.2l-1.4,1.4l-1.5,1.3l-1.4,1.4l-1.4,1.4M1099.1,1481.2l-1.4,1.4l-1.4,1.4l-1.5,1.4l-1.6,1.2l-1.6,1.2l-1.7,1.0l-1.7,1.0l-1.7,1.0l-1.7,1.1l-1.6,1.2l-1.6,1.3l-1.6,1.1l-1.8,0.9l-1.6,1.2l-1.5,1.3l-1.5,1.4M1081.6,1485.4l-1.0,1.7l-1.0,1.7l-1.0,1.7l-0.9,1.8l-0.7,1.9l-0.7,1.9l-1.0,1.7l-1.1,1.7l-1.2,1.6l-1.1,1.7l-1.1,1.6l-1.2,1.6l-1.2,1.6M1070.0,1488.3l-2.0,-0.4l-1.9,-0.5l-1.9,-0.7l-1.9,-0.5l-1.9,-0.5l-2.0,-0.4l-1.9,-0.5l-1.9,-0.5M1126.6,1469.4l-1.9,0.7l-1.9,0.7l-1.9,0.6l-1.9,0.6l-1.8,0.9l-1.8,0.8l-1.8,0.9l-1.8,0.9l-1.7,1.1l-1.8,0.9l-1.8,0.9l-1.8,0.8l-1.9,0.7l-1.9,0.7l-1.9,0.6l-1.9,0.5l-2.0,0.4l-1.9,0.5l-1.9,0.7l-2.0,0.4l-2.0,0.3l-2.0,0.3l-1.9,0.5l-1.9,0.5l-2.0,0.4l-2.0,0.3l-1.9,0.5l-1.9,0.6l-1.9,0.6l-1.9,0.5l-2.0,0.4l-2.0,0.4l-1.9,0.5l-1.9,0.6l-1.9,0.7l-1.9,0.7l-1.9,0.7l-1.9,0.6l-1.8,0.8l-1.9,0.7l-1.8,0.8M1133.0,1486.2l-0.5,1.9l-0.5,1.9l-0.4,2.0l-0.6,1.9l-0.5,1.9l-0.5,1.9l-0.6,1.9l-0.5,1.9l-0.6,1.9l-0.5,1.9l-0.8,1.8l-0.7,1.9l-1.0,1.7M1126.6,1469.4l0.7,1.9l0.6,1.9l0.6,1.9l0.8,1.8l0.6,1.9l0.5,1.9l0.7,1.9l0.8,1.8l1.0,1.7l0.9,1.8l0.8,1.8l0.7,1.9l0.7,1.9l0.7,1.9l0.8,1.8l0.8,1.8l0.8,1.8l0.8,1.8l0.8,1.9l0.5,1.9l0.5,1.9l0.5,1.9l0.4,1.9l0.4,2.0l0.4,2.0l0.3,2.0l0.2,2.0l0.2,2.0l0.2,2.0M1126.6,1469.4l1.7,1.1l1.7,1.0l1.7,1.0l1.8,0.9l1.7,1.1l1.7,1.0l1.7,1.1l1.7,1.1l1.7,1.0l1.8,0.9l1.8,0.9l1.8,0.9l1.7,1.0l1.7,1.0l1.7,1.0l1.6,1.1l1.7,1.0l1.7,1.1l1.7,1.1l1.6,1.2l1.6,1.1l1.7,1.1l1.7,1.0l1.7,1.1l1.6,1.2l1.6,1.2l1.5,1.3l1.6,1.2l1.7,1.0l1.7,1.0M1126.6,1469.4l-1.9,0.5l-1.9,0.7l-1.9,0.6l-1.9,0.5l-1.9,0.5l-1.9,0.6l-1.9,0.7l-1.9,0.6l-1.9,0.7l-1.8,0.8l-1.8,0.9l-1.7,1.0l-1.6,1.2l-1.7,1.0l-1.7,1.1l-1.8,1.0l-1.6,1.2l-1.6,1.2l-1.5,1.3l-1.7,1.0l-1.8,0.8l-1.8,0.8l-1.9,0.7l-1.8,0.9l-1.8,0.9l-1.8,0.9l-1.8,0.9l-1.8,0.9l-1.9,0.5l-1.9,0.7l-1.9,0.6l-1.9,0.7l-1.9,0.7l-1.8,0.8l-1.9,0.7l-1.9,0.7l-1.9,0.7" stroke="#6b1a12" stroke-width="1.5" fill="none" stroke-linejoin="round"/>
<circle cx="1126.6" cy="1469.4" r="1.6" fill="#111"/>
<path d="M1279.5,1474.1l-0.3,-2.5l-0.4,-2.5l-0.3,-2.5l-0.3,-2.5l-0.2,-2.5l-0.1,-2.5l0.2,-2.5l0.1,-2.5l0,-2.5l-0.0,-2.5l-0.1,-2.5l-0.1,-2.5l0,-2.5l0.2,-2.5l0,-2.5l0.1,-2.5l-0.1,-2.5l-0.2,-2.5l-0.2,-2.5l-0.3,-2.5l-0.5,-2.4l-0.2,-2.5l-0.3,-2.5l-0.0,-2.5l-0.0,-2.5l-0.1,-2.5l-0.1,-2.5l-0.2,-2.5l-0.5,-2.5l-0.2,-2.5l-0.3,-2.5l-0.0,-2.5l-0.1,-2.5l-0.2,-2.5l-0.3,-2.5l-0.1,-2.5l0.3,-2.5l0.5,-2.5l0.7,-2.4l0.5,-2.4l0.2,-2.5l0.5,-2.5l0.4,-2.5l0.5,-2.4l0.3,-2.5l0.2,-2.5l0.4,-2.5l0.1,-2.5l0.4,-2.5l0.1,-2.5l-0.1,-2.5M1279.6,1347.4l0.2,-2.2l0.3,-2.2l0.1,-2.2l0.1,-2.2M1279.6,1347.4l1.2,-1.9l1.1,-1.9l0.9,-2.0l0.7,-2.1l0.8,-2.1M1278.2,1446.7l1.8,-0.8l2.0,-0.3l2.0,-0.2l2.0,-0.1l1.9,-0.4l1.9,-0.5l2.0,-0.2M1276.5,1409.3l-1.6,-1.2l-1.4,-1.4l-1.4,-1.5l-1.1,-1.6l-1.3,-1.5l-1.5,-1.3M1275.2,1394.4l-1.0,-1.7l-1.1,-1.6l-0.8,-1.8l-1.2,-1.6l-1.0,-1.7l-1.3,-1.5l-1.2,-1.6l-1.4,-1.5l-1.5,-1.4" stroke="#2a6b70" stroke-width="1.3" fill="none" stroke-linejoin="round"/>
<path d="M1259.9,1463.1l-0.2,-2.0l-0.6,-1.9l-0.5,-1.9M1279.5,1474.1l-2.0,0.3l-2.0,-0.2l-2.0,-0.4l-2.0,-0.4l-1.8,-0.8l-1.7,-1.0l-1.8,-0.9l-1.4,-1.5l-1.5,-1.3l-1.4,-1.4l-1.0,-1.8l-1.1,-1.7l-0.7,-1.9l-0.8,-1.8M1283.0,1485.2l1.8,0.9l1.8,0.8M1279.1,1476.1l1.2,1.6l0.9,1.8l0.6,1.9l0.6,1.9l0.6,1.9l0.4,2.0M1282.5,1485.1l1.8,0.8l1.7,1.1l1.7,1.1M1279.5,1474.1l-0.4,2.0l0.3,2.0l0.2,2.0l0.5,1.9l0.9,1.8l1.5,1.4l1.5,1.3l1.5,1.3l1.6,1.3M1279.5,1474.1l0.9,1.8l0.4,2.0l1.4,1.4l1.6,1.2l1.5,1.3l1.3,1.5l0.9,1.8l0.9,1.8l0.7,1.9M1289.9,1491.2l1.4,1.5l0.7,1.9l1.3,1.5M1291.8,1485.6l-1.0,1.7l-0.5,1.9l-0.4,2.0M1285.0,1476.4l1.8,0.8l1.6,1.2l1.2,1.6l1.1,1.6l0.7,1.9l0.4,2.0M1279.5,1474.1l1.8,0.9l1.8,0.9l1.9,0.5l1.9,0.7l1.9,0.5l1.9,0.8l1.9,0.6l2.0,0.3l1.9,0.5l1.8,0.8l1.5,1.3M1279.5,1474.1l-2.0,0.2l-2.0,0.1l-1.9,0.7l-1.9,0.6l-1.9,0.6l-1.8,0.8l-1.5,1.3l-0.9,1.8l-0.8,1.8l-1.2,1.6l-0.7,1.9l-1.3,1.5l-0.8,1.8l-0.3,2.0M1279.5,1474.1l-0.4,2.0l-0.1,2.0l0.2,2.0l-0.5,1.9l0,2.0l-0.1,2.0l-0.2,2.0l-0.3,2.0l-0.2,2.0l-0.6,1.9l-0.6,1.9l-0.4,2.0l-0.1,2.0l-0.3,2.0l0.3,2.0M1279.5,1474.1l1.9,-0.8l1.9,-0.7l2.0,-0.3l2.0,0.3l2.0,-0.1l2.0,0l2.0,0.1l2.0,-0.1l1.8,-0.8l2.0,-0.3l2.0,-0.1M1288.0,1473.1l0.9,1.8l1.2,1.6l1.4,1.5l1.7,1.1l1.8,0.8l1.8,0.9M1284.6,1471.0l1.6,1.2l1.8,0.9l1.7,1.0l1.9,0.7l2.0,0.4l2.0,0l1.8,-0.9M1279.5,1474.1l1.8,-0.9l1.8,-0.9l1.6,-1.3l0.7,-1.9l0.3,-2.0l-0.2,-2.0l0.2,-2.0l-0.0,-2.0l-0.5,-1.9l-0.2,-2.0l0.3,-2.0l0.3,-2.0l0.3,-2.0M1279.5,1474.1l-2.0,0.1l-1.9,-0.6l-1.9,-0.7l-2.0,-0.1l-2.0,-0.3l-2.0,0.3l-1.9,0.7l-1.9,0.5" stroke="#1a4a50" stroke-width="1.5" fill="none" stroke-linejoin="round"/>
<circle cx="1279.5" cy="1474.1" r="1.6" fill="#111"/>
<path d="M1342.6,1498.4l-0.4,-2.5l-0.3,-2.5l-0.1,-2.5l-0.1,-2.5l-0.1,-2.5l-0.0,-2.5l0.1,-2.5l0.3,-2.5l0.3,-2.5l0,-2.5l0.1,-2.5l-0.2,-2.5l-0.1,-2.5l-0.2,-2.5l0,-2.5l0.2,-2.5l0.1,-2.5l0.2,-2.5l0.1,-2.5l0.2,-2.5l0.5,-2.5l0.4,-2.5l0.1,-2.5l0.3,-2.5l0.2,-2.5l0,-2.5l0.2,-2.5l0.2,-2.5l0.1,-2.5l-0.1,-2.5l0.1,-2.5l0.2,-2.5l0.1,-2.5M1345.0,1416.2l0.4,-2.2l0.2,-2.2l0.4,-2.2M1345.0,1416.2l0.4,-2.2l0.5,-2.1l0.6,-2.1M1342.3,1473.5l-1.2,-1.6l-0.9,-1.8l-0.8,-1.8l-0.9,-1.8l-0.2,-2.0l-0.6,-1.9l-0.6,-1.9M1342.5,1451.0l1.8,-0.9l2.0,-0.1l2.0,-0.2l2.0,-0.1l2.0,-0.4l1.8,-0.8M1342.8,1448.5l-1.8,-0.9l-1.9,-0.8l-1.4,-1.4l-1.2,-1.6l-1.1,-1.7l-0.7,-1.9" stroke="#2a6b70" stroke-width="1.3" fill="none" stroke-linejoin="round"/>
<path d="M1369.8,1494.1l1.7,1.1M1358.3,1497.3l1.9,-0.5l1.9,-0.5l1.9,-0.5l2.0,-0.4l1.9,-0.7l1.9,-0.7M1342.6,1498.4l1.9,-0.6l2.0,-0.3l2.0,0l2.0,-0.3l2.0,-0.3l2.0,-0.2l2.0,-0.1l1.9,0.7l1.8,0.8l1.5,1.3l1.4,1.4l1.6,1.2l1.6,1.1M1332.6,1498.0l-1.7,-1.0l-1.4,-1.4l-1.3,-1.5M1329.0,1502.0l1.1,1.7l0.3,2.0l0,2.0M1330.6,1498.3l-0.8,1.8l-0.9,1.8l-1.6,1.2M1342.6,1498.4l-2.0,0.1l-2.0,0.0l-2.0,-0.3l-2.0,-0.2l-2.0,0.0l-2.0,0.3l-1.9,0.7l-1.5,1.4M1359.3,1483.6l0.9,-1.8l0.6,-1.9l0.5,-1.9M1353.9,1489.5l1.3,-1.5l1.4,-1.4l1.3,-1.5l1.4,-1.4l1.1,-1.7l1.1,-1.7M1342.6,1498.4l2.0,0.2l2.0,-0.4l1.9,-0.5l1.5,-1.3l1.0,-1.8l1.3,-1.5l1.0,-1.8l0.7,-1.9l1.0,-1.7l1.3,-1.5l1.6,-1.1l1.9,-0.6l2.0,0.1M1342.6,1498.4l-0.3,2.0l-0.6,1.9l-1.1,1.7l-1.0,1.8l-0.7,1.9l-0.0,2.0l-0.6,1.9l-0.8,1.8l-1.5,1.4M1349.2,1502.7l0.2,2.0l-0.3,2.0l-0.6,1.9l-0.7,1.9l-0.1,2.0l-0.4,2.0l-0.5,1.9M1355.1,1503.0l1.1,1.7l1.5,1.3l1.0,1.7l1.4,1.4l1.2,1.6l0.9,1.8l0.5,1.9M1342.6,1498.4l1.2,1.6l1.8,0.8l1.8,0.9l1.7,1.1l2.0,0.1l2.0,-0.2l2.0,0.3l2.0,0.1l2.0,-0.1l2.0,-0.4l1.9,-0.4l2.0,0.4l2.0,0.2l1.9,0.7M1342.6,1498.4l-2.0,-0.1l-2.0,-0.2l-2.0,-0.3l-2.0,-0.4l-2.0,-0.1l-1.9,-0.6l-2.0,-0.4l-2.0,0l-2.0,0.2l-1.9,-0.5l-2.0,0.4l-2.0,-0.4l-1.8,-0.8M1363.8,1520.6l0.9,1.8l1.0,1.7M1358.1,1518.9l2.0,0.3l1.9,0.6l1.9,0.7M1342.6,1498.4l1.0,1.7l1.0,1.7l0.9,1.8l0.9,1.8l1.0,1.7l1.1,1.7l1.5,1.3l1.5,1.3l1.3,1.6l1.5,1.3l1.4,1.4l1.3,1.5l1.1,1.7l0.7,1.9l0.4,1.9M1339.3,1522.7l-1.2,1.6l-1.1,1.7l-0.8,1.8M1337.1,1509.0l0.3,2.0l-0.0,2.0l0.1,2.0l0.1,2.0l0.7,1.9l0.5,1.9l0.7,1.9M1330.9,1525.7l-1.9,0.7l-2.0,0.4M1342.6,1498.4l-0.9,1.8l-1.0,1.7l-0.9,1.8l-0.8,1.8l-0.8,1.8l-1.2,1.6l-0.5,1.9l-0.6,1.9l-0.4,2.0l-0.5,1.9l-0.9,1.8l-0.4,2.0l-0.9,1.8l-1.1,1.7l-0.9,1.8M1325.5,1510.7l-1.6,1.2l-1.8,0.8M1324.4,1504.9l0.7,1.9l0.5,1.9l-0.1,2.0M1342.6,1498.4l-2.0,-0.2l-2.0,0.2l-1.9,0.7l-1.9,0.6l-2.0,0.4l-2.0,0.4l-1.8,0.9l-1.7,1.0l-1.8,0.9l-1.2,1.6l-0.8,1.8l-1.4,1.4" stroke="#1a4a50" stroke-width="1.5" fill="none" stroke-linejoin="round"/>
<circle cx="1342.6" cy="1498.4" r="1.6" fill="#111"/>
<path d="M1413.0,1504.1l0,-2.5l0.1,-2.5l0.2,-2.5l0.2,-2.5l0.1,-2.5l-0.1,-2.5l0.3,-2.5l0.3,-2.5l0.3,-2.5l0.4,-2.5l0.4,-2.5l0.3,-2.5l0.1,-2.5l0.3,-2.5l0.4,-2.5l0.5,-2.5l-0.2,-2.5l-0.2,-2.5l-0.3,-2.5l0,-2.5l-0.0,-2.5l0.2,-2.5l0.3,-2.5l-0.3,-2.5l-0.3,-2.5l0.3,-2.5l0.1,-2.5l0,-2.5l-0.0,-2.5l0.3,-2.5l-0.0,-2.5l0.1,-2.5l-0.3,-2.5l-0.3,-2.5l-0.4,-2.5l-0.3,-2.5l-0.3,-2.5l-0.2,-2.5l0,-2.5l-0.1,-2.5l0.1,-2.5l0.4,-2.5l0.1,-2.5l0.2,-2.5l0.2,-2.5l0.1,-2.5l0.4,-2.5l0.1,-2.5l-0.1,-2.5l0.4,-2.5l0.5,-2.4l0.4,-2.5l-0.2,-2.5l0.2,-2.5l0.1,-2.5l-0.0,-2.5l-0.1,-2.5l0,-2.5M1417.6,1359.8l-0.6,-2.1l-0.5,-2.1l-0.5,-2.1l-0.8,-2.1M1417.6,1359.8l0.4,-2.2l0.7,-2.1l0.7,-2.1l0.5,-2.1l0.3,-2.2l0.2,-2.2M1416.6,1446.9l1.5,-1.3l1.7,-1.1l1.8,-0.9l1.9,-0.8l1.9,-0.5l1.9,-0.6l2.0,-0.2M1415.5,1474.3l1.7,-1.0l1.9,-0.6l2.0,0.0l2.0,0.0l2.0,-0.2l2.0,-0.4l1.8,-0.9M1416.2,1451.9l1.7,-1.1l1.6,-1.2l1.5,-1.3l1.1,-1.6l1.0,-1.7" stroke="#2a6b70" stroke-width="1.3" fill="none" stroke-linejoin="round"/>
<path d="M1421.8,1517.3l-0.8,1.8l-0.8,1.8l-0.2,2.0l-0.5,1.9M1413.0,1504.1l1.2,1.6l0.9,1.8l0.5,1.9l1.2,1.6l1.2,1.6l1.1,1.6l1.4,1.5l1.2,1.6l1.5,1.3l1.4,1.4l0.9,1.8l0.6,1.9l1.5,1.3M1420.7,1515.7l0.7,1.9l1.3,1.5l1.4,1.4l1.7,1.1l1.2,1.6l1.3,1.5M1423.7,1518.3l-0.4,2.0l-0.4,2.0l0.3,2.0l0.2,2.0M1413.0,1504.1l1.1,1.7l1.1,1.7l0.8,1.8l1.1,1.7l0.9,1.8l1.3,1.5l1.4,1.4l1.4,1.4l1.6,1.3l1.6,1.2l1.8,0.9l1.8,0.9l1.7,1.1l1.8,0.8M1413.0,1504.1l2.0,0.4l2.0,-0.1l2.0,-0.3l2.0,0.1l1.9,-0.7l1.9,-0.5l1.8,-0.9l1.8,-0.9l1.7,-1.0M1422.9,1526.8l1.9,-0.5l1.9,-0.7M1413.0,1504.1l-0.1,2.0l-0.5,1.9l-0.8,1.9l-0.7,1.9l0.2,2.0l1.2,1.6l1.1,1.7l1.0,1.7l1.2,1.6l1.2,1.6l1.0,1.7l1.7,1.1l1.5,1.4l1.9,0.7l1.7,1.1M1413.0,1504.1l1.9,-0.6l1.8,-0.8l2.0,-0.4l1.9,-0.6l1.6,-1.2l1.4,-1.4l1.8,-0.9l1.8,-0.9l1.9,-0.6l2.0,-0.3l1.9,-0.8M1431.6,1507.4l0.4,2.0l0.6,1.9l1.3,1.5M1428.7,1504.6l1.5,1.3l1.4,1.5l1.8,0.8l1.7,1.0l1.5,1.3M1413.0,1504.1l2.0,-0.2l2.0,0.3l2.0,0.2l2.0,0.3l1.9,0.5l2.0,0.2l2.0,0l1.9,-0.7l1.9,-0.7l2.0,-0.4l1.7,-1.0l1.7,-1.1l1.5,-1.3l1.6,-1.3l1.4,-1.5M1415.5,1507.2l0.4,2.0l0.2,2.0l0.4,2.0l0.8,1.8l0.9,1.8l0.6,1.9M1413.0,1504.1l1.1,1.7l1.4,1.4l1.3,1.6l1.8,0.8l1.5,1.4l1.4,1.4l1.4,1.5l1.4,1.4M1401.5,1506.0l-1.0,1.7l-0.9,1.8l-0.2,2.0M1413.0,1504.1l-1.9,-0.5l-2.0,-0.2l-1.9,0.6l-1.9,0.6l-2.0,0.4l-1.8,0.9l-1.8,0.8l-1.9,0.6M1404.2,1521.7l-1.5,1.3l-1.4,1.4M1410.1,1513.6l-1.3,1.5l-1.2,1.6l-1.2,1.6l-1.2,1.6l-1.0,1.7l-1.4,1.4l-0.9,1.8M1408.7,1517.2l-0.1,2.0l0.2,2.0l0.1,2.0l-0.1,2.0l-0.4,1.9l-0.4,2.0l0.6,1.9M1413.0,1504.1l-0.7,1.9l-0.7,1.9l-0.5,1.9l-0.7,1.9l-0.3,2.0l-0.2,2.0l-1.2,1.6l-1.6,1.2l-1.2,1.6l-1.1,1.7l-0.6,1.9l-0.3,2.0l-0.1,2.0l0.4,2.0l1.1,1.7" stroke="#1a4a50" stroke-width="1.5" fill="none" stroke-linejoin="round"/>
<circle cx="1413.0" cy="1504.1" r="1.6" fill="#111"/>
<path d="M1538.3,1471.0l-0.0,-2.5l0.2,-2.5l0.3,-2.5l0,-2.5l-0.1,-2.5l-0.0,-2.5l-0.0,-2.5l-0.1,-2.5l-0.1,-2.5l-0.2,-2.5l-0.3,-2.5l0.1,-2.5l-0.0,-2.5M1538.5,1466.0l-1.4,-1.4l-1.3,-1.5l-1.2,-1.6l-1.6,-1.1l-1.6,-1.2l-1.6,-1.1l-1.9,-0.6M1538.5,1466.0l1.4,-1.5l1.0,-1.7l1.4,-1.4l1.9,-0.8l1.9,-0.6l1.7,-1.0" stroke="#3b6b30" stroke-width="1.3" fill="none" stroke-linejoin="round"/>
<path d="M1549.6,1467.7l1.7,-1.0l1.9,-0.6l2.0,0.0l2.0,0.3l1.9,0.5l2.0,0M1538.3,1471.0l2.0,-0.2l1.9,-0.6l1.9,-0.6l1.7,-1.1l1.8,-0.8l2.0,0l2.0,0.1l2.0,-0.3l1.9,-0.7l2.0,-0.2l1.9,-0.6l1.9,-0.7l2.0,-0.4l2.0,0.4M1540.3,1478.6l1.2,1.6l0.9,1.8l1.6,1.2l1.7,1.1l1.8,0.8l1.2,1.6l0.9,1.8l1.3,1.5l1.5,1.3l1.6,1.3l1.9,0.6l1.8,0.9M1541.5,1482.5l-1.2,1.6l-1.1,1.7l-1.0,1.7l-1.0,1.7l-1.7,1.0l-1.6,1.2l-0.8,1.8l-1.2,1.6l-1.2,1.6M1538.3,1471.0l0,2.0l0.4,2.0l0.8,1.8l0.7,1.9l0.5,1.9l0.7,1.9l1.0,1.7l1.2,1.6l1.5,1.3l0.8,1.8l0.4,2.0l-0.1,2.0l0.9,1.8l1.2,1.6l0.9,1.8l0.7,1.9l0.8,1.8l0.9,1.8l1.2,1.6M1537.2,1500.5l1.4,1.4l1.6,1.2l0.9,1.8l1.0,1.7l0.8,1.9l0.5,1.9M1535.8,1510.3l1.0,1.7l1.3,1.5l1.7,1.1M1538.3,1471.0l-0.4,2.0l-0.5,1.9l0.2,2.0l-0.3,2.0l-0.4,2.0l-0.6,1.9l-0.2,2.0l0.5,1.9l0.3,2.0l0.1,2.0l0,2.0l-0.3,2.0l0.4,2.0l0.3,2.0l-0.2,2.0l-0.3,2.0l0.3,2.0l-0.6,1.9l-0.4,2.0l-0.4,2.0l0.4,2.0l0.4,2.0l-0.4,2.0M1538.3,1471.0l-1.8,-0.8l-1.7,-1.0l-1.6,-1.2l-1.6,-1.3l-1.0,-1.7l-0.5,-1.9l-0.3,-2.0l-0.9,-1.8l-0.7,-1.9l-0.4,-2.0l-0.5,-1.9M1522.5,1472.0l-1.3,-1.5l-0.9,-1.8l-0.3,-2.0l-0.9,-1.8l-0.2,-2.0l0,-2.0l-0.6,-1.9M1538.3,1471.0l-2.0,0.2l-2.0,0.0l-1.8,0.8l-2.0,-0.1l-2.0,0.2l-2.0,0.1l-2.0,-0.2l-2.0,0.0l-2.0,-0.3l-1.9,-0.5l-1.9,-0.6l-1.9,-0.6l-1.9,-0.6l-1.9,-0.7l-1.8,-0.9l-1.8,-0.8l-1.9,-0.6M1534.3,1471.5l-1.8,0.9l-1.8,1.0l-1.9,0.6l-1.6,1.2l-1.4,1.5l-1.6,1.2l-1.7,1.1l-1.2,1.6l-1.3,1.5l-1.3,1.5l-1.5,1.3M1501.0,1473.3l-2.0,-0.2l-2.0,0.2l-2.0,-0.2M1510.9,1473.3l-2.0,-0.1l-2.0,-0.4l-2.0,-0.1l-2.0,0.2l-2.0,0.4M1538.3,1471.0l-2.0,0.3l-2.0,0.2l-2.0,0l-2.0,0l-1.9,0.6l-2.0,0.3l-2.0,0.3l-2.0,-0.3l-2.0,-0.2l-1.9,-0.5l-2.0,0.1l-1.9,0.5l-2.0,0.0l-1.8,0.9l-1.3,1.5l-1.6,1.2l-1.5,1.3l-1.7,1.1M1538.3,1471.0l-2.0,0.1l-2.0,0.2l-2.0,0.2l-2.0,-0.2l-2.0,0.2l-1.9,0.7l-1.6,1.1l-1.7,1.0l-1.9,0.6l-1.9,0.6l-1.9,0.5l-2.0,0l-2.0,0.1l-1.9,-0.5l-1.7,-1.1l-1.8,-1.0l-1.8,-0.9l-1.9,-0.7l-2.0,-0.3l-2.0,-0.2l-1.8,-0.8l-1.7,-1.0M1521.5,1467.3l-0.9,-1.8l-0.7,-1.9l-0.5,-1.9l0.1,-2.0M1538.3,1471.0l-2.0,-0.3l-2.0,0.4l-2.0,0.2l-2.0,0.2l-2.0,-0.4l-1.9,-0.6l-1.7,-1.1l-1.6,-1.2l-1.7,-1.0l-1.8,-0.9l-1.9,-0.5l-1.9,-0.7M1525.0,1479.7l-1.6,-1.2l-1.4,-1.4l-1.9,-0.7l-2.0,-0.4l-1.9,-0.5l-2.0,-0.3l-2.0,0.1l-2.0,0.2l-2.0,0.2l-2.0,0.3M1514.7,1487.2l1.2,1.6l0.7,1.9l1.2,1.6l1.5,1.4l1.2,1.6l1.4,1.4M1538.3,1471.0l-1.7,1.0l-1.6,1.2l-1.4,1.5l-1.7,1.0l-1.8,0.8l-1.6,1.3l-1.6,1.2l-1.8,0.8l-1.9,0.6l-2.0,0.3l-1.9,0.5l-1.6,1.2l-1.6,1.3l-0.7,1.9l-0.6,1.9l-0.0,2.0l-0.6,1.9l-0.5,1.9l-0.7,1.9l-0.7,1.9l-0.8,1.8l-0.8,1.8M1529.9,1502.8l-0.5,1.9l0.3,2.0M1538.3,1471.0l-0.7,1.9l-0.5,1.9l-0.5,1.9l-0.8,1.8l-0.5,1.9l-1.1,1.7l-1.0,1.7l-0.8,1.8l-1.0,1.7l-1.1,1.7l-0.8,1.8l-0.5,1.9l-0.3,2.0l0,2.0l0.3,2.0l0.1,2.0l0.7,1.9" stroke="#1f4a1f" stroke-width="1.5" fill="none" stroke-linejoin="round"/>
<circle cx="1538.3" cy="1471.0" r="1.6" fill="#111"/>
<path d="M1628.2,1507.2l0,-2.5l0.4,-2.5l0.2,-2.5l0.6,-2.4l0.5,-2.5l0.3,-2.5l-0.1,-2.5l0,-2.5l-0.0,-2.5l-0.0,-2.5l0.2,-2.5l0.3,-2.5l0.3,-2.5l0.2,-2.5l-0.0,-2.5l-0.0,-2.5l-0.1,-2.5l-0.1,-2.5l0.5,-2.4l0.4,-2.5l-0.0,-2.5l0,-2.5l0.3,-2.5l0.4,-2.5l0.1,-2.5l0.1,-2.5l-0.1,-2.5l-0.1,-2.5l0,-2.5l-0.2,-2.5l-0.2,-2.5l-0.2,-2.5l-0.3,-2.5l-0.4,-2.5l-0.3,-2.5l0.1,-2.5l0.2,-2.5l0.3,-2.5l0.2,-2.5l-0.0,-2.5l0.1,-2.5l-0.0,-2.5l0.2,-2.5l-0.1,-2.5l0.1,-2.5M1632.2,1395.2l-1.8,-1.3l-1.9,-1.1l-1.7,-1.4M1631.0,1474.9l-1.5,-1.4l-1.4,-1.4l-1.0,-1.7l-0.9,-1.8l-1.2,-1.6l-0.5,-1.9l-0.7,-1.9l-1.3,-1.5M1631.1,1464.9l-1.9,-0.5l-1.9,-0.6l-2.0,-0.4l-1.9,-0.5l-2.0,-0.4l-1.9,-0.6l-1.8,-0.9l-1.7,-1.0l-1.7,-1.0M1631.9,1455.0l-1.7,-1.0l-1.7,-1.1l-1.6,-1.2l-1.4,-1.4l-1.4,-1.4l-1.5,-1.4l-0.9,-1.8l-0.4,-2.0l-1.1,-1.7" stroke="#3b6b30" stroke-width="1.3" fill="none" stroke-linejoin="round"/>
<path d="M1629.1,1517.1l-1.5,1.3l-1.6,1.2l-1.7,1.1l-1.3,1.5l-0.7,1.9l-0.8,1.8l-1.2,1.6M1622.9,1528.0l-1.7,-1.1l-2.0,-0.3l-1.9,-0.6l-1.8,-0.8M1624.8,1527.6l-2.0,0.3l-1.9,-0.6l-1.9,-0.6M1628.2,1507.2l0.1,2.0l0.2,2.0l0.3,2.0l0.2,2.0l0.2,2.0l0,2.0l0.2,2.0l-0.8,1.8l-0.9,1.8l-1.4,1.4l-1.4,1.5l-1.1,1.7M1628.2,1507.2l-1.9,0.5l-1.7,1.1l-1.6,1.2l-1.4,1.4l-1.6,1.2l-1.7,1.1l-1.9,0.7l-1.9,0.7l-1.9,0.6l-1.6,1.2M1628.2,1507.2l1.4,1.4l1.6,1.2l1.8,0.9l2.0,0.2l2.0,0.2l1.8,0.8l1.9,0.5l1.9,0.7l1.7,1.1M1628.2,1507.2l2.0,-0.2l2.0,0.1l1.9,0.5l1.9,0.6l2.0,0l1.9,-0.5l2.0,0.2l2.0,-0.4l1.9,-0.5l1.8,-0.9M1628.2,1507.2l-1.7,1.0l-1.5,1.3l-1.5,1.4l-0.9,1.8l-1.4,1.4l-1.9,0.6l-1.7,1.0l-1.5,1.3M1628.2,1507.2l-1.8,0.8l-1.3,1.5l-0.8,1.8l-0.5,1.9l-0.4,2.0l-1.0,1.7l-1.3,1.5l-1.7,1.1l-1.9,0.6l-2.0,0.0M1614.6,1504.2l-1.6,-1.2l-1.8,-0.8l-2.0,-0.2M1628.2,1507.2l-2.0,-0.3l-1.9,-0.5l-1.9,-0.5l-1.9,-0.7l-2.0,-0.4l-2.0,-0.3l-2.0,-0.3l-1.9,-0.6l-2.0,0l-1.9,0.4l-2.0,0.3M1608.4,1506.5l-1.7,1.0l-1.7,1.0M1628.2,1507.2l-1.9,0.6l-2.0,0.1l-1.9,-0.5l-2.0,-0.2l-2.0,-0.2l-2.0,-0.2l-2.0,0.0l-2.0,-0.1l-2.0,-0.1l-2.0,-0.1l-2.0,-0.2" stroke="#1f4a1f" stroke-width="1.5" fill="none" stroke-linejoin="round"/>
<circle cx="1628.2" cy="1507.2" r="1.6" fill="#111"/>
<path d="" stroke="#3b6b30" stroke-width="1.3" fill="none" stroke-linejoin="round"/>
<path d="M1711.9,1510.7l2.0,-0.1l2.0,0l2.0,-0.3l2.0,-0.4M1706.5,1518.9l0.8,-1.8l0.7,-1.9l1.3,-1.6l1.4,-1.5l1.3,-1.5l1.6,-1.1l1.6,-1.2l1.2,-1.6l1.5,-1.3M1706.5,1518.9l2.0,-0.2l2.0,0.1l2.0,0.2l2.0,0.4l2.0,0.3l2.0,-0.2l2.0,-0.4l1.9,-0.6l1.9,-0.7l1.9,-0.6M1716.8,1520.2l2.0,0.4l2.0,0.1l2.0,0.4l2.0,-0.1l2.0,0.3l1.9,0.5M1714.3,1517.1l1.4,1.4l1.1,1.6l1.4,1.4l1.1,1.7l1.1,1.7l1.1,1.7M1718.1,1516.1l1.1,-1.7l1.6,-1.2l1.4,-1.4M1706.5,1518.9l2.0,-0.4l2.0,-0.3l1.8,-0.8l2.0,-0.4l1.9,-0.6l1.9,-0.5l1.9,-0.7l2.0,-0.4l2.0,-0.2l2.0,0.1M1706.5,1518.9l2.0,-0.3l2.0,0.1l2.0,0.1l1.9,0.5l2.0,0.1l2.0,-0.1l2.0,-0.2l2.0,0.1l1.9,0.5l1.9,0.5M1713.3,1511.6l1.8,-0.8l1.8,-1.0l1.8,-0.8l1.7,-1.1M1714.6,1510.1l2.0,-0.2l1.9,-0.7M1706.5,1518.9l1.3,-1.6l1.3,-1.5l1.6,-1.2l1.3,-1.5l1.3,-1.5l1.3,-1.5l1.6,-1.2l1.6,-1.2M1713.6,1516.3l2.0,-0.2l1.9,-0.7l2.0,-0.2l2.0,-0.2M1709.6,1516.4l2.0,-0.4l2.0,0.3l1.9,0.5l1.6,1.1l1.7,1.1M1706.5,1518.9l1.6,-1.2l1.6,-1.3l1.5,-1.3l1.0,-1.8l0.8,-1.8l1.0,-1.7l0.9,-1.8l0.9,-1.8M1706.5,1518.9l1.6,-1.2l1.6,-1.2l0.9,-1.8l0.6,-1.9l0.7,-1.9l0.7,-1.9l0.6,-1.9l1.2,-1.6M1706.5,1518.9l1.6,-1.3l1.4,-1.4l1.5,-1.3l0.6,-1.9l0.5,-1.9l-0.5,-1.9l-0.6,-1.9l-0.3,-2.0" stroke="#1f4a1f" stroke-width="1.5" fill="none" stroke-linejoin="round"/>
<circle cx="1706.5" cy="1518.9" r="1.6" fill="#111"/>
<path d="M1712,1515c15,-2 30,-5 45,-6s12,-2 15,-8c3,-10 5,-12 15,-13s18,0 22,-1M1706,1519c-15,-2 -30,0 -46,-1" stroke="#2a5a25" stroke-width="1.2" fill="none"/>
</svg>
</body></html>
